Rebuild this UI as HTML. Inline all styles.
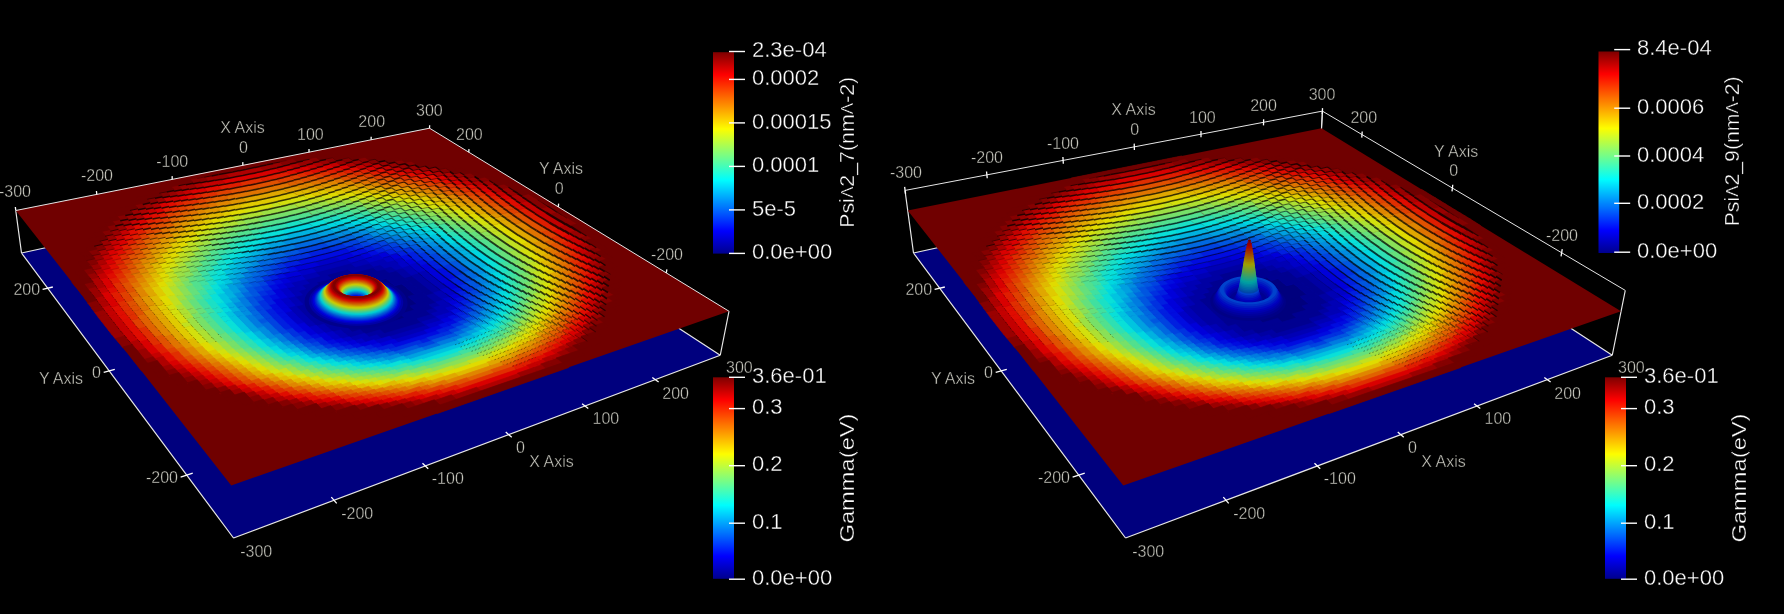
<!DOCTYPE html>
<html><head><meta charset="utf-8"><style>
html,body{margin:0;padding:0;background:#000;}
body{width:1784px;height:614px;overflow:hidden;position:relative;}
svg{position:absolute;left:0;top:0;}
</style></head><body>
<svg width="1784" height="614" viewBox="0 0 1784 614">
<defs><linearGradient id="jet" x1="0" y1="0" x2="0" y2="1"><stop offset="0.0000" stop-color="rgb(128,0,0)"/><stop offset="0.1111" stop-color="rgb(255,0,0)"/><stop offset="0.3810" stop-color="rgb(255,255,0)"/><stop offset="0.5079" stop-color="rgb(128,255,128)"/><stop offset="0.6349" stop-color="rgb(0,255,255)"/><stop offset="0.8889" stop-color="rgb(0,0,255)"/><stop offset="1.0000" stop-color="rgb(0,0,143)"/></linearGradient></defs>
<rect width="1784" height="614" fill="#000"/>
<g transform="scale(0.25)">
<path d="M86 1012l1624-354 1171 763-1947 731z" fill="#00007e"/>
<path d="M86 1012L1710 658M1710 658L2881 1421M2881 1421L934 2152M934 2152L86 1012M86 1012L63 842M1710 658L1718 513M2881 1421L2916 1245" stroke="#e6e6e6" stroke-width="4.80" fill="none"/>
<path d="M63 842l1655-329 1198 732-1991 697z" fill="#700000"/>
<path d="M1826 1083l-48-30-55-27-61-22-66-17-70-13-72-7-74-2-73 3-71 9-68 13-64 19-59 23-50 28-43 32-32 36-22 38-9 40 3 42 17 41 30 40 44 38 56 34 66 29 76 24 83 16 87 10 89 2 87-6 83-13 77-20 68-26 57-31 45-35 33-38 20-40 6-41-5-40-18-39-29-36z" fill="#0000b3"/>
<path d="M1561 1290l59-17-19-16-58 18zm-78 2l176-51-19-15-175 51zm-48-7l234-67-19-15-232 67zm-47-6l262-76-18-15-262 75zm-18-16l290-83-18-14-289 81zm-17-16l289-81-18-15-288 81zm-17-15l288-81-17-14-288 80zm13-23l230-64-18-14-229 63zm-17-16l229-63-17-14-229 62zm13-23l171-46-17-15-171 47z" fill="#00007e" stroke="#00007e" stroke-width="2.80" stroke-linejoin="round"/>
<path d="M1538 1337l149-44-19-16-148 44zm-79 3l266-79-19-16-265 79zm-49-7l151-44-18-16-151 44zm210-61l115-34-19-15-115 33zm-228 45l91-26-18-16-90 26zm267-78l85-25-19-15-85 25zm-315 71l91-27-17-16-91 26zm325-94l56-17-18-14-56 16zm-342 77l61-17-18-16-61 18zm324-93l83-24-18-14-84 24zm-342 78l61-17-17-16-61 17zm351-101l56-15-18-15-56 16zm-368 85l61-17-17-15-61 17zm350-99l56-16-18-14-55 16zm-367 83l61-16-17-16-60 17zm350-98l55-15-18-14-55 15zm-366 83l90-25-17-15-90 25zm320-89l83-23-18-14-83 23zm-337 73l90-24-17-15-89 24zm319-87l56-15-18-14-55 15zm-305 64l89-24-17-14-88 24zm260-71l83-22-17-14-83 22zm-247 49l286-77-17-14-285 76zm13-23l228-61-17-14-227 60zm42-31l86-23-17-14-85 23zm-58 15l29-7 0-2-29 7zm29-6l29-8 0-2-29 8zm29-8l29-7 0-2-29 8zm-16-15l29-8 0-2-29 7zm45 8l28-8 0-1-28 7zm-16-16l28-7 0-3-28 8zm44 8l29-7 0-2-29 8zm-16-15l28-8 0-2-28 7zm45 8l28-8 0-2-28 8zm28-8l28-8 0-2-28 8zm287 173l-19-16 0-1 19 15zm-243-166l28-8 0-1-28 7zm-16-16l27-7 0-2-27 7zm269 158l-19-15 0-2 19 15zm-19-14l-19-15 0-1 19 15zm-144-116l-17-13 0-2 17 14zm-17-15l-17-13 0-2 17 13zm-45-6l28-7 0-2-28 7zm234 127l-19-14 0-3 19 15zm-19-13l-18-15 0-2 18 14zm-18-14l-19-15 0-2 19 15zm-19-15l-18-14 0-2 18 14zm-18-14l-18-14 0-2 18 14zm-18-14l-18-15 1-1 17 14zm-18-15l-17-14 0-2 18 14zm-17-15l-18-14 1-2 17 14zm-18-15l-17-13 0-3 18 14zm136 78l-19-15 0-3 19 15zm-19-14l-18-15 0-3 18 15zm-18-15l-18-14 0-3 18 15zm-18-14l-18-14 0-3 18 14zm-18-15l-18-13 0-3 18 14z" fill="#000091" stroke="#000091" stroke-width="2.80" stroke-linejoin="round"/>
<path d="M1527 1360l179-54-19-16-179 53zm-49-7l60-18-18-16-61 18zm209-62l57-18-19-15-57 17zm-289 63l61-18-18-17-61 18zm327-96l29-9-19-15-29 9zm-345 80l30-9-18-16-30 9zm355-104l28-8-19-15-28 8zm-404 97l61-18-17-16-62 18zm413-121l28-8-19-15-28 8zm-431 105l31-9-17-16-31 9zm412-119l28-8-18-14-28 8zm-460 111l62-18-18-16-61 18zm470-135l27-8-18-15-28 8zm-487 119l61-17-17-16-61 17zm468-133l28-8-19-14-27 7zm-485 118l61-18-16-15-62 17zm467-132l27-8-18-14-27 7zm-484 116l62-17-17-16-61 17zm466-131l27-7-18-14-27 7zm-482 114l61-16-17-16-61 17zm464-128l27-8-17-14-28 8zm-450 105l30-8-16-15-30 8zm405-110l27-7-17-14-27 7zm-421 95l60-16-16-15-60 16zm404-110l27-7-17-14-28 7zm-390 87l59-16-16-14-59 16zm345-93l27-7-17-14-27 8zm-332 71l59-16-16-15-58 16zm287-77l28-7-17-14-28 7zm-273 54l87-23-16-14-87 23zm173-45l83-22-16-14-84 22zm-131 14l142-37-16-13-142 36zm-99 83l30-8 0-2-30 8zm14-22l29-8 0-2-29 8zm29-6l30-8 0-2-30 8zm-15-17l29-8 0-2-29 8zm29-6l29-8 0-2-29 8zm-16-16l29-8 0-3-29 8zm29-7l29-7 0-3-29 7zm29-6l29-8 0-3-29 8zm-16-17l29-8 0-3-29 8zm29-7l29-7 0-4-29 8zm29-7l28-7 0-4-28 8zm28-8l28-7 0-3-28 7zm44 9l28-7 0-3-28 7zm-16-16l28-8 0-3-28 7zm44 8l28-7 0-3-28 7zm324 202l-20-16 0-2 20 16zm-252-204l-16-14 0-2 17 14zm-44-7l28-7 0-3-28 7zm305 187l-19-15 0-2 19 15zm-216-173l-17-14 0-2 17 13zm-45-7l28-7 0-2-27 7zm270 157l-19-15 0-3 19 15zm-181-144l-17-14 0-2 17 13zm-44-6l27-8 0-2-27 7zm234 126l-19-15 0-3 19 14zm-19-14l-18-14 0-3 18 14zm-109-85l-17-14 0-3 18 14zm-17-15l-17-14 0-3 17 13zm-45-7l28-7 0-2-28 7zm180 83l-18-15 0-4 18 15zm-18-14l-19-14 1-4 18 14zm-19-14l-18-14 1-4 18 14zm-18-14l-18-14 1-4 18 14zm-18-15l-17-14 0-4 18 14z" fill="#0000a3" stroke="#0000a3" stroke-width="2.80" stroke-linejoin="round"/>
<path d="M1576 1364l150-46-20-16-149 45zm-111 11l62-19-19-17-61 19zm241-72l58-17-19-16-58 18zm-290 65l62-18-19-17-61 18zm329-99l57-17-20-15-56 17zm-379 90l32-9-18-16-32 9zm388-113l56-17-19-15-56 16zm-406 99l32-9-18-17-31 9zm415-122l28-8-19-15-28 8zm-464 113l32-9-18-16-31 9zm473-138l28-8-19-14-28 8zm-490 123l31-9-17-16-31 9zm471-136l28-8-19-14-27 8zm-519 126l31-9-17-16-31 9zm528-151l28-8-19-14-27 7zm-545 136l31-9-17-16-31 9zm527-150l27-8-18-14-27 8zm-544 134l31-9-17-16-31 9zm526-148l27-7-18-15-27 8zm-543 132l31-9-16-16-31 9zm525-146l27-8-18-14-27 8zm-541 129l31-8-17-16-30 9zm523-144l27-7-18-14-27 7zm-509 123l31-9-16-15-31 8zm464-126l27-8-18-14-27 8zm-480 109l31-8-16-15-31 8zm462-125l27-7-17-14-27 8zm-447 103l30-8-16-15-30 8zm402-108l28-7-18-13-27 7zm-418 92l59-16-15-14-60 16zm374-99l54-14-17-14-54 14zm-360 77l59-16-16-14-59 15zm316-83l54-15-16-13-55 14zm-273 53l58-15-16-14-58 15zm200-52l56-14-17-14-55 15zm-158 22l142-37-16-13-141 36zm-114 105l31-8 0-2-31 8zm15-22l30-8 0-2-30 8zm-16-17l30-8 0-2-30 7zm30-5l30-8-1-2-29 7zm-16-17l30-8 0-3-30 8zm30-6l29-7 0-3-29 7zm13-22l30-8 0-4-30 8zm30-7l28-7 0-4-28 8zm13-23l28-8 0-4-28 8zm28-7l29-7 0-4-29 7zm29-7l28-7 0-4-28 7zm28-7l28-8 0-4-28 7zm28-8l28-7 0-5-28 7zm374 250l-19-16 0-2 19 16zm-330-242l28-7 0-3-28 7zm359 231l-19-16 0-2 19 16zm-287-233l-17-13 0-2 17 13zm-44-6l27-7 1-4-28 7zm340 216l-19-15 0-3 19 15zm-252-202l-17-14 0-2 17 13zm-44-7l27-7 0-3-27 7zm325 198l-20-15 1-4 19 16zm-20-12l-19-15 0-4 19 16zm-217-173l-17-13 0-3 17 13zm-44-6l27-7 0-3-27 7zm27-10l-16-13 0-4 17 14zm-44-6l28-7 0-4-28 7zm306 183l-19-15 1-4 19 15zm-19-12l-19-15 0-4 19 15zm-181-143l-18-13 1-4 17 14zm-45-6l27-7 1-3-28 7zm28-10l-17-13 0-4 17 13zm-45-6l28-7 0-3-27 7zm252 140l-19-14 0-5 19 15zm-19-13l-19-14 1-4 18 14zm-109-85l-18-14 0-4 18 14zm-18-15l-17-14 0-4 17 14zm-44-6l27-8 0-2-27 8zm180 81l-19-14 1-5 18 14zm-19-14l-18-14 0-5 19 14zm-18-13l-18-15 0-4 18 14zm-18-15l-18-14 0-4 18 13zm-18-14l-18-14 0-5 18 14z" fill="#0000b5" stroke="#0000b5" stroke-width="2.80" stroke-linejoin="round"/>
<path d="M1596 1376l120-37-20-16-119 36zm-81 4l61-19-19-16-61 18zm211-65l58-17-20-16-58 17zm-292 65l31-9-18-17-31 10zm330-99l57-17-19-15-57 17zm-379 92l31-9-18-17-32 9zm417-125l28-9-19-15-28 8zm-467 117l31-9-17-17-32 9zm-18-14l31-9-17-17-31 9zm474-140l28-8-19-15-28 8zm-523 131l32-10-18-16-31 9zm532-156l28-8-19-15-28 8zm-549 141l31-10-17-16-31 9zm530-154l28-8-19-14-27 8zm-596 127l32-9-17-16-32 9zm-17-16l32-8-17-16-31 8zm-16-16l31-9-16-15-31 8zm-2-37l31-9-16-15-31 8zm522-143l27-7-18-14-27 7zm-538 126l31-9-16-15-31 9zm520-141l27-8-17-13-27 7zm-505 119l31-8-16-15-31 8zm461-123l27-8-17-13-27 7zm-477 106l31-8-16-15-30 8zm460-123l27-7-17-13-27 7zm-445 100l30-7-16-15-30 8zm401-105l27-7-17-14-27 7zm-387 84l59-15-16-15-59 16zm315-82l55-15-17-13-55 14zm-272 53l58-15-15-14-58 15zm200-52l55-14-16-14-55 15zm-129 14l85-22-16-13-84 21zm-158 135l31-9 0-2-31 9zm15-22l31-8 0-2-31 8zm-15-17l30-8 0-3-31 8zm14-22l30-8 0-3-30 8zm14-23l30-7 0-4-30 8zm30-5l29-7 0-4-29 7zm14-23l29-8 0-4-29 8zm29-6l29-7 0-5-29 8zm42-31l28-7 0-5-28 7zm28-7l28-7 0-5-28 7zm28-7l28-7 0-5-28 7zm438 271l-20-15 0-2 20 16zm-322-263l-16-14 0-1 16 13zm-44-7l28-7 0-4-28 7zm395 260l-20-16 0-3 20 16zm-323-262l-17-13 0-3 17 14zm-44-6l27-7 0-5-27 7zm376 245l-20-15 1-3 19 15zm-289-231l-16-13 0-3 16 13zm-44-6l28-7 0-4-27 7zm361 226l-19-16 0-4 20 16zm-289-230l-17-13 0-3 17 13zm-44-6l27-7 0-4-27 7zm342 212l-19-15 0-4 19 15zm-254-199l-17-14 0-4 17 14zm-44-7l27-7 0-3-27 7zm287 170l-19-15 0-5 19 15zm-182-142l-17-13 0-5 17 14zm-44-6l27-7 0-3-27 7zm27-10l-17-13 0-5 17 14zm-44-6l27-7 0-3-27 7zm252 139l-19-15 0-5 19 15zm-19-13l-19-14 0-5 19 14zm-110-84l-18-14 1-5 17 14zm-45-7l27-7 0-2-27 8zm27-9l-17-13 0-5 18 13zm-44-6l27-7 0-2-27 7z" fill="#0000c8" stroke="#0000c8" stroke-width="2.80" stroke-linejoin="round"/>
<path d="M1534 1392l62-19-19-16-62 18zm182-55l59-18-20-16-58 18zm-263 58l62-19-19-17-62 19zm331-101l29-9-20-15-29 8zm-381 93l31-10-18-17-31 10zm-50-8l32-9-19-17-31 9zm-50-8l32-10-18-17-31 10zm508-148l28-8-20-15-27 8zm-525 133l31-9-17-17-32 10zm533-158l28-8-19-15-28 8zm-583 148l32-9-17-16-32 9zm-17-15l32-9-17-16-32 9zm590-171l27-8-19-14-27 8zm-607 156l32-9-17-16-32 9zm588-169l27-8-18-14-27 8zm-18-14l27-7-19-14-27 7zm-19-13l27-8-18-14-27 8zm-18-15l27-7-18-14-27 8zm-599 147l31-9-17-15-31 8zm581-161l27-8-18-13-27 7zm-598 144l31-9-16-15-31 8zm580-159l27-8-18-13-26 7zm-596 142l31-9-16-15-30 9zm15-21l31-9-16-15-30 8zm519-140l27-7-17-14-27 7zm-534 122l30-8-16-15-30 8zm14-22l31-8-16-14-30 7zm459-121l27-7-17-14-27 7zm-444 99l30-8-16-14-29 7zm400-105l27-7-17-13-27 7zm-386 83l59-15-15-14-59 15zm315-80l27-7-16-14-28 7zm-271 51l86-22-15-14-87 22zm171-43l56-14-16-14-56 14zm-258 178l31-8 0-2-31 9zm-15-16l30-9 0-2-31 8zm15-22l30-8 0-2-30 8zm-16-17l30-8 0-3-30 8zm15-22l30-7 0-4-30 8zm15-22l29-7 0-4-29 7zm14-23l29-7 0-5-29 8zm29-5l30-7 0-4-30 7zm14-23l29-8 0-4-29 7zm29-6l29-7 0-5-29 7zm29-6l29-7 0-5-29 7zm113-29l28-7 0-5-28 7zm430 291l-20-16 0-3 20 17zm-358-293l-16-13 0-2 16 13zm-44-6l28-7 0-5-28 7zm440 265l-20-15 0-3 20 15zm-325-259l-16-14 0-2 16 13zm-44-7l28-7 0-4-28 7zm115 4l-17-13 0-4 17 13zm-44-6l27-7 0-5-27 7zm324 198l-20-15 1-5 19 15zm-236-186l-17-14 0-4 17 13zm-44-7l27-7 0-3-27 7zm288 168l-19-15 0-5 19 15zm-183-140l-17-14 0-5 17 14zm-44-7l27-7 0-2-27 7zm216 109l-19-14 1-6 19 14zm-19-13l-18-14 0-6 19 14zm-18-13l-19-14 1-6 18 14zm-19-14l-18-14 0-6 19 14zm-18-14l-18-14 0-6 18 14zm-18-15l-18-13 0-6 18 14zm-18-15l-18-13 1-6 17 14zm-44-6l26-7 0-2-26 7z" fill="#0000da" stroke="#0000da" stroke-width="2.80" stroke-linejoin="round"/>
<path d="M1585 1396l181-56-20-16-181 55zm-82 3l31-10-19-17-31 10zm272-84l58-18-20-15-58 17zm-353 85l31-10-19-17-31 9zm391-118l29-8-20-16-29 9zm-442 111l32-10-18-17-32 9zm451-134l28-9-20-15-28 8zm-501 125l32-9-18-17-32 9zm509-149l28-8-19-16-28 9zm9-25l28-8-20-15-27 8zm-585 151l32-9-18-17-32 9zm574-188l27-8-19-15-27 8zm-641 162l32-9-17-16-32 9zm-17-15l32-9-17-16-32 9zm-17-16l32-9-17-16-31 9zm646-184l27-8-19-14-26 8zm-662 168l31-9-16-15-32 8zm644-182l26-7-18-14-27 7zm-661 166l32-9-16-15-32 8zm642-180l27-7-18-14-27 7zm-658 163l32-8-17-16-31 9zm-16-16l31-9-16-15-31 8zm594-179l26-7-17-13-27 7zm-595 140l31-8-15-15-31 8zm533-159l27-7-17-14-27 7zm-533 120l30-8-15-14-30 7zm15-22l30-8-15-14-31 7zm15-23l29-7-15-15-30 8zm371-93l27-7-16-13-27 7zm-328 65l30-7-16-14-29 7zm257-65l55-14-17-13-54 14zm-214 36l198-50-16-13-197 50zm-131 164l31-8 0-2-31 8zm0-38l31-8 0-2-31 8zm0-39l30-7 0-4-31 8zm14-22l31-7-1-4-30 8zm15-22l30-8 0-4-30 8zm44-28l29-7 0-5-29 7zm43-29l29-8 0-5-29 7zm29-7l28-7 0-5-28 7zm28-6l28-7 0-6-28 7zm28-7l29-7 0-6-29 7zm29-7l27-7 1-6-28 7zm464 322l-20-17 0-1 20 16zm-437-330l28-7 0-6-27 7zm72-2l-16-13 0-2 16 13zm-44-7l28-6 0-6-28 7zm447 307l-20-16 0-3 20 16zm-360-291l-16-13 0-2 16 13zm-43-6l27-7 0-5-27 7zm432 285l-20-16 0-3 20 16zm-361-288l-17-13 0-3 17 13zm-44-6l27-7 1-6-28 7zm414 272l-20-16 0-4 20 16zm-327-258l-16-13 0-4 16 13zm-43-6l27-7 0-5-27 7zm378 240l-20-15 1-4 19 15zm8-23l-19-16 0-5 20 16zm9-25l-20-15 1-5 19 14zm-220-168l-17-14 0-5 17 13zm-44-7l27-7 0-3-27 7zm252 138l-19-15 1-6 19 14zm-147-112l-17-13 0-6 18 13zm-44-6l27-7 0-3-27 8zm162 65l-19-14 1-6 18 14zm-19-13l-18-14 1-7 18 14zm-18-14l-18-14 0-7 19 14z" fill="#000ce0" stroke="#000ce0" stroke-width="2.80" stroke-linejoin="round"/>
<path d="M1696 1379l30-9-19-17-30 10zm-173 33l62-20-19-17-63 19zm243-75l58-18-20-16-58 18zm-294 69l31-10-19-17-31 9zm361-113l29-9-20-16-29 9zm-443 112l32-9-19-17-32 9zm452-135l28-9-20-15-28 8zm-503 128l32-10-18-17-32 10zm511-152l28-8-19-16-28 9zm-561 143l32-9-18-17-32 9zm570-167l27-9-19-15-28 8zm-588 153l32-9-17-17-32 9zm-50-10l33-9-18-17-32 9zm626-180l28-8-19-15-28 8zm-643 166l32-10-17-16-32 9zm633-205l27-8-19-14-27 8zm-699 178l32-9-17-17-32 9zm680-191l27-7-19-15-27 8zm-697 175l32-9-16-16-32 9zm-16-16l32-9-17-16-32 9zm-17-17l32-8-16-16-32 8zm-16-16l32-9-16-16-32 9zm672-181l27-8-18-13-27 7zm-18-15l27-8-18-13-26 7zm-654 158l31-8-16-15-31 8zm-16-17l31-8-15-16-31 9zm608-159l27-8-17-13-27 7zm-592 138l31-8-16-15-31 8zm575-155l27-7-18-13-26 7zm-44-4l27-7-17-13-27 7zm-532 119l31-8-16-14-30 7zm488-124l27-7-17-13-27 7zm-473 102l30-8-15-14-30 7zm429-109l27-7-16-13-27 7zm-384 81l29-8-15-13-29 7zm341-88l27-7-16-13-28 7zm-327 65l58-15-15-13-58 14zm256-64l27-7-16-13-27 7zm-156 20l85-21-16-13-84 21zm-189 180l31-8 0-2-31 8zm-15-17l31-9 0-2-31 8zm15-21l31-8 0-3-31 8zm0-40l30-7 0-4-30 7zm15-22l30-7 0-5-30 8zm45-27l29-7 0-5-29 7zm14-24l29-7 0-5-29 7zm29-5l29-7 0-6-29 8zm71-37l28-7 0-6-28 7zm28-7l28-7 0-6-28 7zm28-7l28-7 0-6-28 7zm509 330l-20-16 0-2 20 16zm29-11l-20-16 1-3 20 16zm-396-319l-16-13 0-3 16 13zm-43-6l27-7 0-6-27 7zm477 291l-20-16 0-4 20 16zm-363-286l-16-13 0-4 16 13zm-44-6l28-7 0-5-27 6zm415 269l-20-15 1-5 19 16zm-328-256l-16-13 0-4 16 13zm-43-6l27-7 0-5-27 7zm379 239l-19-16 0-5 20 15zm-292-226l-17-13 0-5 17 13zm-44-6l27-7 0-5-27 7zm344 207l-19-15 0-5 20 15zm-256-196l-17-13 0-5 17 13zm-44-6l27-7 0-4-27 7zm289 166l-19-15 0-6 19 14zm-184-140l-17-13 0-6 17 14zm-44-6l27-7 0-3-27 7zm27-10l-18-13 1-6 17 13zm-44-6l26-7 1-3-27 7zm234 123l-19-14 0-7 19 15zm-19-12l-19-15 1-6 18 14zm-74-56l-18-13 0-7 18 14zm-18-15l-18-13 1-7 17 14zm-44-6l26-7 0-2-26 7z" fill="#001fe0" stroke="#001fe0" stroke-width="2.80" stroke-linejoin="round"/>
<path d="M1573 1416l123-38-19-17-123 38zm154-48l89-27-21-17-88 27zm-236 49l32-9-19-18-32 10zm334-102l29-9-21-16-28 9zm-385 97l32-10-19-17-31 10zm422-132l29-9-20-15-29 8zm-504 131l32-10-19-17-32 9zm512-154l29-9-20-15-28 8zm-563 146l32-10-18-17-32 9zm572-171l28-8-20-15-28 8zm-640 148l32-10-17-17-33 9zm628-184l28-8-20-14-27 8zm8-26l28-7-20-15-27 8zm-703 184l32-9-17-17-32 9zm684-196l27-7-19-15-27 8zm-701 181l32-9-17-17-32 9zm671-233l27-8-18-14-27 8zm-18-14l27-7-19-14-26 7zm-18-14l26-7-18-14-27 7zm-734 164l32-9-16-15-31 8zm-16-18l32-8-16-15-31 8zm669-177l26-7-17-13-27 7zm-18-15l27-8-18-13-26 7zm-650 154l31-8-16-15-31 8zm15-21l31-8-16-15-30 8zm574-153l27-7-18-13-26 7zm-44-5l27-7-17-13-27 7zm-530 117l30-7-15-15-30 8zm486-123l27-7-16-13-27 7zm-441 97l30-8-15-14-30 8zm398-104l27-7-16-12-27 6zm-383 80l29-7-15-14-30 7zm312-78l28-7-17-12-27 6zm-269 50l86-21-15-14-86 22zm171-43l55-13-16-13-55 13zm-289 223l31-8 0-2-32 8zm-16-17l31-8 0-3-31 9zm0-38l31-8 0-3-31 8zm16-21l30-8 0-4-30 8zm0-40l30-8 0-4-30 8zm45-26l30-8-1-5-29 8zm14-24l30-7 0-6-30 8zm44-29l29-7 0-6-29 7zm29-5l28-8 0-6-28 8zm28-6l29-8 0-6-29 8zm585 330l-20-17 0-1 20 16zm-472-359l28-7 0-6-28 7zm502 348l-20-16 0-3 20 17zm-431-350l-16-13 0-2 16 13zm-43-6l27-7 0-6-27 7zm512 323l-21-16 1-3 20 16zm-398-317l-17-12 0-3 17 12zm-44-6l27-6 1-6-28 7zm479 288l-20-15 0-5 20 16zm-365-284l-16-12 0-5 16 13zm-43-6l27-6 0-6-27 7zm416 267l-20-15 0-5 20 15zm-330-254l-16-13 0-4 16 13zm-43-6l27-7 0-5-27 7zm381 236l-20-15 0-6 20 15zm-294-224l-17-13 0-5 17 13zm-44-6l27-7 0-4-27 7zm326 194l-20-14 1-7 19 15zm-238-183l-18-13 1-6 17 13zm-44-6l26-7 1-4-27 7zm290 164l-20-15 1-7 19 15zm-20-12l-19-15 0-7 20 15zm-148-111l-17-13 0-7 18 14zm-44-6l27-7 0-3-27 8zm27-10l-18-13 1-6 17 13zm-44-6l26-7 0-3-26 7zm179 80l-18-14 0-7 19 14zm-18-13l-19-14 1-7 18 13zm-19-14l-18-14 0-7 19 14z" fill="#0031e0" stroke="#0031e0" stroke-width="2.80" stroke-linejoin="round"/>
<path d="M1686 1399l61-19-20-17-61 19zm-144 23l32-10-20-17-31 9zm274-85l29-9-20-17-29 9zm-357 87l32-10-19-17-32 9zm395-121l28-9-20-16-28 9zm-445 115l31-10-18-17-32 9zm-152-24l32-10-18-17-32 9zm630-186l27-9-19-14-28 8zm-681 175l33-9-18-17-32 9zm689-201l27-8-19-15-27 8zm-706 187l32-9-17-17-32 9zm-67-27l33-9-17-17-33 10zm742-210l27-8-19-14-27 7zm-759 195l33-9-17-17-32 9zm740-208l27-8-19-14-26 8zm-756 192l32-9-16-16-32 8zm-16-16l32-9-17-16-32 9zm-17-17l32-9-16-16-32 9zm-16-17l32-8-16-16-32 9zm731-197l27-8-18-13-27 7zm-747 180l32-8-16-16-31 9zm729-195l27-7-18-14-26 7zm-17-15l26-8-18-13-26 7zm-711 173l31-9-15-15-32 9zm649-192l26-7-17-13-26 7zm-649 153l31-8-15-15-31 8zm16-22l30-8-15-14-30 8zm528-156l27-7-17-13-26 7zm-498 112l30-8-15-14-30 8zm455-119l27-7-17-12-26 6zm-440 96l29-8-15-14-29 8zm370-93l27-6-17-13-27 7zm-326 64l29-7-15-14-29 7zm255-64l54-14-15-13-55 14zm-184 28l113-28-16-13-112 28zm-192 215l31-9 0-1-31 8zm0-37l32-9 0-2-32 8zm1-39l31-8 0-3-31 8zm16-21l30-8 0-4-31 8zm30-44l30-8 0-5-30 8zm15-23l29-8 0-5-29 7zm44-29l29-7 0-6-29 7zm71-36l28-7 0-6-28 7zm28-6l29-7 0-6-29 6zm29-7l28-7 0-6-28 7zm28-7l27-7 0-7-27 7zm574 348l-20-17 0-3 20 17zm-433-348l-16-13 0-2 16 13zm-43-6l27-7 0-6-27 7zm71-3l-16-13 0-3 16 13zm-44-6l28-7 0-6-27 7zm486 329l-20-16 1-4 20 16zm-399-314l-17-13 1-4 16 13zm-44-6l27-7 1-6-27 7zm114 2l-17-12 1-5 16 13zm-43-6l26-6 1-6-27 7zm86 13l-17-13 1-5 16 13zm-43-6l26-7 1-5-27 7zm361 222l-19-14 0-7 20 15zm8-25l-19-15 0-6 20 14zm-222-166l-17-13 0-6 18 13zm-43-6l26-7 0-3-26 7zm234 122l-19-14 1-8 19 15zm-19-13l-19-14 1-7 19 14zm-74-55l-18-13 0-7 18 13zm-18-14l-18-14 1-7 17 14zm-44-7l26-7 0-2-26 8zm26-9l-18-13 1-7 18 13zm-44-6l26-7 1-2-27 7z" fill="#0043e0" stroke="#0043e0" stroke-width="2.80" stroke-linejoin="round"/>
<path d="M1593 1426l93-29-20-17-92 29zm154-48l89-28-20-17-89 28zm-236 51l31-10-19-18-32 10zm334-104l29-9-20-16-29 8zm-418 105l33-10-19-17-32 9zm456-140l28-9-20-16-28 9zm-507 133l33-9-19-18-32 10zm515-156l28-9-20-15-28 8zm-566 149l33-10-19-17-32 9zm574-173l28-9-20-15-28 9zm-624 164l32-10-18-17-32 10zm632-189l28-8-20-15-28 8zm-683 179l33-9-18-17-33 9zm691-204l27-8-19-15-28 8zm-759 179l33-9-17-17-33 9zm747-216l27-8-19-15-27 8zm-764 201l33-9-17-17-33 10zm745-213l27-8-20-14-27 7zm-30-53l26-8-18-13-27 7zm-814 206l32-9-16-16-32 9zm795-220l27-7-19-14-26 8zm-18-13l26-8-18-13-27 7zm-808 163l31-8-15-16-32 9zm-16-18l32-8-16-15-31 8zm725-191l27-7-18-13-26 7zm-709 171l32-8-16-15-31 8zm-15-18l31-8-15-15-31 8zm663-172l26-7-17-13-26 7zm-647 151l31-8-16-15-30 8zm603-155l27-7-17-13-27 7zm-588 133l31-8-15-14-31 7zm16-22l30-8-15-14-30 7zm15-23l30-8-15-14-30 8zm427-107l27-7-17-12-26 6zm-383 79l30-8-15-13-30 7zm340-87l27-7-16-13-27 7zm-296 58l57-14-15-14-57 15zm170-42l55-13-16-13-55 13zm-321 228l32-9 0-2-32 8zm-15-18l31-8 0-3-31 8zm16-20l31-8 0-3-31 8zm-15-18l31-8 0-4-31 8zm16-21l30-8 0-4-30 8zm15-22l31-7 0-5-31 8zm16-22l30-7 0-5-30 7zm15-22l30-8 0-5-30 7zm44-28l30-7 0-6-30 7zm44-29l28-7 0-7-28 8zm28-6l29-7 0-6-29 7zm650 353l-20-16 0-2 20 17zm-509-387l28-7 0-6-28 6zm539 376l-21-16 0-2 21 16zm-468-378l-16-13 0-2 16 13zm-43-6l27-7 1-6-28 6zm548 352l-20-16 0-4 21 16zm-407-355l-16-13 0-3 16 13zm-43-6l27-7 0-6-27 7zm487 326l-20-16 0-4 21 16zm-401-312l-17-12 1-4 16 12zm-43-6l26-6 1-6-27 7zm452 295l-20-15 0-6 21 16zm8-24l-20-15 0-5 20 15zm8-24l-20-15 0-6 20 15zm-295-222l-17-13 0-6 17 13zm-44-6l27-7 0-4-27 7zm346 203l-19-15 0-6 20 14zm-259-193l-17-13 0-6 18 13zm-43-6l26-7 0-4-26 7zm290 162l-19-15 0-7 20 15zm-19-12l-20-14 1-7 19 14zm-166-125l-18-13 0-7 18 13zm-44-6l26-7 0-3-26 7zm179 78l-18-13 0-8 19 14zm-18-13l-19-14 1-7 18 13zm-19-14l-18-13 0-8 19 14z" fill="#0056e0" stroke="#0056e0" stroke-width="2.80" stroke-linejoin="round"/>
<path d="M1707 1409l61-19-21-18-60 19zm-145 23l32-9-20-18-32 10zm275-86l29-9-20-16-30 9zm-358 89l32-10-20-17-31 10zm396-123l28-9-20-16-29 9zm-480 124l33-10-19-18-33 10zm517-159l28-9-20-16-29 9zm-568 151l32-9-18-18-33 10zm576-175l28-9-21-15-28 8zm-627 167l32-9-18-18-32 10zm634-191l28-9-20-15-28 9zm-685 182l33-10-18-17-33 10zm-68-24l32-10-17-17-33 10zm749-220l27-8-20-14-27 8zm-834 178l33-9-17-17-32 9zm803-228l27-8-20-14-26 7zm-819 212l32-9-16-16-33 9zm800-225l26-8-19-13-26 7zm-817 210l33-10-17-16-32 9zm-32-33l32-9-16-16-32 9zm-16-17l32-9-16-16-32 9zm790-215l27-7-18-13-27 7zm-806 198l32-9-16-16-32 9zm788-212l27-8-18-13-26 7zm-802 156l31-8-15-15-32 8zm723-189l26-7-17-13-27 7zm-722 150l31-8-16-14-31 8zm661-170l26-7-17-12-26 6zm-645 149l30-8-15-14-30 7zm601-153l27-7-17-13-26 7zm-586 131l31-8-15-14-31 8zm543-137l27-7-17-13-26 7zm-527 114l30-7-15-14-30 7zm484-121l27-7-17-12-26 7zm-469 100l59-15-15-13-59 14zm426-107l27-7-17-13-26 7zm-382 78l59-14-15-13-59 14zm284-69l55-14-16-12-55 13zm-183 27l112-27-15-13-112 27zm-210 237l32-9 0-1-32 8zm-14-55l32-8 0-3-32 8zm1-38l31-8 0-4-31 8zm17-22l30-7 0-5-31 8zm15-21l31-8 0-5-31 8zm16-23l30-7 0-5-30 7zm15-22l30-8 0-5-30 7zm30-5l29-7 0-6-29 8zm14-23l30-7-1-7-29 8zm30-5l29-7 0-6-30 7zm71-36l28-7 0-7-28 7zm28-7l28-6 0-7-28 7zm28-6l28-7 0-7-28 7zm28-8l28-6 0-7-28 7zm611 377l-20-16 0-3 20 16zm-470-376l-15-13 0-2 16 13zm-43-6l28-7 0-6-27 7zm71-3l-16-13 0-3 16 13zm-43-6l27-7 0-6-27 6zm522 357l-20-16 0-4 21 16zm-409-352l-17-13 1-4 16 13zm-43-6l26-7 1-6-27 7zm489 323l-20-16 0-5 20 16zm-403-310l-17-12 0-5 17 13zm-43-5l26-7 0-6-26 7zm454 291l-21-15 1-6 20 16zm-368-279l-17-13 0-5 17 13zm-43-6l26-7 0-5-26 7zm418 261l-20-15 1-6 20 15zm-332-249l-17-13 0-6 17 13zm-43-6l26-7 0-5-26 7zm86 10l-17-12 1-7 17 13zm-43-6l26-6 0-5-26 7zm327 190l-20-14 1-7 20 14zm-223-164l-17-13 0-7 18 13zm-44-6l27-7 0-3-26 7zm236 120l-20-14 1-8 19 14zm-20-13l-19-13 1-8 19 14zm-74-54l-18-13 0-8 18 13zm-18-15l-18-13 0-7 18 13zm-44-6l26-7 0-2-26 7z" fill="#0068e0" stroke="#0068e0" stroke-width="2.80" stroke-linejoin="round"/>
<path d="M1614 1437l93-30-20-17-93 29zm154-49l90-29-21-17-89 28zm-270 60l64-20-19-17-64 19zm368-114l29-9-20-16-29 9zm-419 108l32-10-19-18-32 10zm457-143l28-8-20-16-29 8zm-541 142l32-10-18-18-33 10zm-52-8l33-10-18-17-33 9zm-51-8l33-10-18-18-33 10zm675-221l28-8-20-15-28 8zm-744 197l33-10-18-17-33 10zm752-223l27-8-20-14-27 8zm-820 197l33-9-17-17-33 9zm808-234l27-8-20-14-27 7zm-825 219l33-9-17-17-33 9zm805-231l27-8-19-14-27 8zm-888 187l33-9-16-17-33 9zm-16-16l33-9-16-17-33 9zm-16-17l33-9-16-16-33 9zm-15-54l32-8-15-16-32 9zm787-210l26-7-18-13-26 7zm-802 193l32-9-16-15-31 8zm784-208l26-7-17-13-27 7zm-783 169l32-8-16-15-31 8zm722-187l26-7-17-13-27 7zm-721 148l31-8-15-15-31 8zm16-22l31-8-15-14-30 8zm601-152l26-7-16-12-27 6zm-585 130l31-8-15-14-31 8zm542-136l26-7-16-12-27 6zm-481 86l29-8-15-13-29 7zm368-91l27-7-16-12-27 6zm-324 63l57-14-15-14-57 14zm57-12l29-7-15-13-29 7zm141-35l56-14-16-12-55 13zm-337 249l32-9 0-2-32 9zm-15-18l31-8 0-3-31 9zm1-38l31-8 0-3-31 8zm1-39l31-8 0-4-31 8zm17-21l30-8 0-5-31 8zm15-22l31-8 0-5-31 8zm61-50l29-7 0-6-29 7zm44-29l29-7 0-6-29 7zm29-5l28-7 0-6-28 7zm28-5l29-7 0-7-29 7zm686 382l-21-17 1-2 20 17zm-545-416l28-7 0-7-28 7zm575 405l-21-17 0-2 21 16zm-504-407l-16-13 0-2 16 13zm-43-6l27-7 0-7-27 7zm584 380l-20-16 0-4 21 17zm-444-383l-16-12 0-4 16 13zm-43-6l27-6 0-7-27 7zm524 355l-20-16 0-5 21 16zm-369-344l-16-12 0-5 16 12zm-43-6l27-6 0-6-27 7zm86 12l-16-12 0-6 17 13zm-43-6l27-6 0-5-27 6zm400 249l-20-15 0-7 20 15zm7-26l-20-14 1-8 20 15zm-260-191l-17-13 0-7 17 13zm-44-6l27-7 0-4-26 7zm292 160l-20-14 1-8 19 14zm-20-12l-19-14 0-8 20 14zm-149-109l-18-13 1-7 17 13zm-44-6l26-7 0-2-26 7zm26-9l-17-13 0-7 18 13zm-44-6l27-7 0-3-26 7z" fill="#007be0" stroke="#007be0" stroke-width="2.80" stroke-linejoin="round"/>
<path d="M1550 1452l64-20-20-18-63 20zm308-97l29-9-20-17-30 10zm-392 98l33-10-20-18-32 10zm430-131l29-9-21-17-29 9zm-482 125l33-10-19-17-33 10zm519-161l28-9-21-16-28 9zm7-23l28-9-20-15-28 8zm8-24l28-9-20-15-28 8zm8-25l27-8-20-15-27 8zm-747 201l33-10-18-17-33 9zm754-226l27-8-20-15-27 8zm-823 201l33-10-17-17-33 10zm811-238l27-8-20-14-27 8zm-878 211l33-9-17-17-33 9zm-17-15l33-10-16-17-33 10zm863-247l27-7-19-14-27 7zm-879 231l33-9-17-17-33 9zm860-243l26-8-19-14-26 8zm-19-13l26-8-18-13-27 7zm-19-14l27-7-19-13-26 7zm-18-13l26-8-18-13-27 7zm-869 217l33-9-16-16-32 9zm850-232l27-7-19-13-26 7zm-866 215l33-9-16-16-32 9zm848-229l26-7-18-13-26 7zm-863 211l32-8-15-16-32 9zm2-37l31-9-15-15-32 8zm782-206l26-7-18-12-26 6zm-781 167l31-8-15-15-31 8zm720-186l26-7-17-12-26 6zm-44-4l26-7-16-12-27 6zm-612 102l30-7-15-14-30 7zm483-120l26-7-16-12-26 6zm-468 97l30-7-15-14-30 7zm425-105l27-7-16-12-27 6zm-381 77l29-8-14-13-30 7zm284-69l54-13-16-12-54 13zm-212 34l141-34-15-13-141 34zm-213 235l32-9 0-2-33 9zm1-38l32-8 0-3-32 9zm2-38l31-8 0-4-31 8zm64-87l30-7 0-6-30 8zm15-23l30-7 0-6-30 7zm44-28l30-7 0-6-30 7zm72-35l29-7 0-7-29 7zm29-6l28-7 0-7-28 7zm28-6l28-7 0-7-28 7zm28-7l28-7 0-7-28 7zm28-7l28-7 0-7-28 7zm647 405l-20-17 0-2 21 16zm-506-404l-16-13 0-2 16 12zm-43-6l27-7 0-6-27 6zm70-3l-16-13 0-2 16 12zm-43-6l27-7 0-6-27 6zm560 386l-21-17 0-4 21 17zm-447-381l-16-12 0-4 16 12zm-43-6l27-6 0-7-27 7zm526 351l-21-16 1-5 20 16zm-441-337l-16-12 0-5 16 13zm-42-6l26-6 0-6-26 6zm490 320l-20-15 0-6 21 16zm8-24l-20-15 0-6 20 15zm7-24l-20-15 1-7 20 15zm-334-248l-16-12 0-6 17 12zm-43-6l27-6 0-5-26 7zm384 229l-20-15 1-7 20 15zm-297-219l-17-12 0-7 17 13zm-43-6l26-6 0-4-26 6zm328 188l-20-14 1-8 19 15zm-224-163l-18-12 1-8 17 13zm-44-6l26-6 0-4-26 7zm236 119l-19-14 0-8 19 14zm-20-13l-19-14 1-8 19 14zm-19-13l-18-13 0-8 19 13zm-18-13l-19-13 1-8 18 13zm-19-14l-18-13 0-8 19 13zm-18-14l-19-13 1-8 18 13zm-19-14l-18-13 1-8 18 13zm-44-6l26-7 1-2-27 7z" fill="#008de0" stroke="#008de0" stroke-width="2.80" stroke-linejoin="round"/>
<path d="M1634 1447l215-68-21-17-214 67zm-116 11l32-11-19-17-32 9zm370-115l29-9-21-16-29 9zm-454 116l32-10-19-18-33 10zm491-150l29-9-21-16-29 8zm-543 144l32-10-19-18-32 10zm579-181l29-9-21-15-28 8zm-631 174l33-10-19-18-33 10zm639-197l28-9-21-15-28 8zm-691 189l33-10-18-18-33 10zm698-214l28-8-20-15-28 8zm-749 205l33-10-18-18-33 10zm-69-25l33-9-18-18-33 10zm813-241l27-8-20-14-27 7zm-881 215l33-9-17-18-33 10zm849-265l26-7-19-14-27 7zm-933 221l33-9-16-17-33 9zm-16-16l33-9-16-17-33 9zm-16-16l33-9-16-17-33 9zm-16-17l33-9-16-16-33 9zm-16-17l33-9-16-16-32 9zm847-263l27-7-18-13-26 7zm-861 209l33-9-16-15-32 8zm844-224l26-7-18-13-26 7zm-842 186l32-9-15-15-32 8zm780-204l26-7-17-12-26 6zm-795 185l32-8-15-15-32 8zm17-21l31-8-15-14-31 8zm718-184l26-6-17-13-26 7zm-702 163l31-8-15-14-30 7zm659-167l26-7-17-12-26 6zm-643 145l31-8-15-14-30 8zm599-151l27-6-17-13-26 7zm-583 129l31-8-15-14-30 8zm540-135l27-7-16-12-27 6zm-524 112l30-8-15-13-30 7zm482-120l26-6-16-13-26 7zm-437 92l29-7-15-13-29 7zm367-90l27-7-16-12-27 7zm-323 62l57-14-15-13-57 14zm198-47l55-13-15-13-55 14zm-370 253l32-8 0-3-32 9zm2-38l32-8 0-3-32 8zm-15-18l32-8 0-4-32 8zm17-20l31-8 0-4-31 7zm17-22l30-7 0-5-31 8zm16-21l30-8 0-5-30 8zm16-22l30-8 0-5-31 7zm15-23l30-7 0-6-30 7zm45-27l29-7 0-7-29 7zm44-29l29-7 0-7-29 7zm29-5l28-7 0-7-28 7zm750 405l-20-17 0-2 20 17zm-581-445l27-6 0-7-27 6zm70-2l-15-12 0-2 15 12zm-43-6l28-6 0-7-28 6zm622 409l-21-16 0-4 21 17zm-482-411l-16-12 0-3 16 12zm-43-5l27-7 0-7-27 7zm562 382l-21-16 0-5 21 16zm-450-378l-16-13 0-4 16 12zm-42-6l26-7 0-6-26 7zm528 347l-21-15 0-6 21 16zm-443-334l-16-12 0-5 16 12zm-43-6l27-6 0-6-27 6zm493 317l-21-15 1-6 20 15zm-407-304l-17-13 1-5 16 12zm-43-6l26-7 1-5-27 6zm457 286l-20-15 0-7 21 15zm-371-275l-17-12 0-6 17 12zm-43-6l26-6 0-5-26 6zm86 11l-17-13 0-6 17 12zm-43-6l26-7 0-4-26 6zm365 215l-20-14 0-8 20 15zm-262-190l-17-12 0-7 18 12zm-43-6l26-6 0-4-26 7zm272 147l-19-14 1-8 19 14zm-149-108l-18-13 0-8 18 13zm-44-6l26-7 0-2-26 7zm26-9l-18-13 0-7 18 12zm-44-6l26-7 0-3-26 7z" fill="#00a0e0" stroke="#00a0e0" stroke-width="2.80" stroke-linejoin="round"/>
<path d="M1571 1462l63-20-20-18-63 20zm279-87l59-19-21-17-59 19zm-364 89l32-10-19-18-33 10zm431-133l29-9-21-17-29 9zm37-36l28-9-20-16-29 9zm-605 163l33-10-19-18-33 10zm-52-7l33-11-19-18-33 10zm-52-9l33-10-18-18-33 10zm739-243l27-8-20-15-27 8zm-809 220l34-10-18-18-33 10zm816-245l27-8-20-15-27 8zm-867 234l34-10-18-18-33 10zm-17-15l33-10-17-17-33 10zm871-256l27-8-20-15-26 8zm-20-12l27-8-20-14-26 8zm-919 241l34-10-17-17-33 9zm-16-16l33-9-17-17-33 9zm904-277l26-7-19-14-26 7zm-19-13l26-7-19-13-26 7zm-19-13l26-7-18-13-26 7zm-18-14l26-7-19-13-26 7zm-19-14l26-7-18-13-26 7zm-925 232l32-9-15-16-33 9zm907-246l26-7-18-13-26 7zm-923 228l33-8-16-16-32 9zm2-37l32-9-15-15-32 8zm841-222l26-7-17-12-26 6zm-856 204l32-9-15-15-32 8zm795-222l26-7-17-12-26 6zm-776 161l31-7-15-15-31 8zm16-21l31-8-14-14-31 7zm657-166l26-6-16-13-26 7zm-640 144l30-8-15-14-30 8zm597-150l27-6-17-13-26 7zm-582 127l31-7-15-14-30 7zm46-27l30-7-15-13-30 7zm424-104l27-7-16-12-27 7zm-380 76l30-7-15-13-29 7zm283-68l54-13-15-12-54 13zm-182 26l112-26-15-13-112 27zm-260 264l32-9 0-2-32 9zm2-38l32-8 0-3-32 9zm-15-18l32-8 0-3-32 8zm19-59l31-8 0-4-31 7zm17-22l31-7-1-5-30 8zm16-21l30-8 0-5-30 7zm16-23l30-7 0-6-30 7zm45-26l30-7 0-7-30 7zm45-28l29-7 0-7-29 7zm100-42l28-6 0-7-28 6zm28-6l28-7 0-7-28 7zm28-7l28-6 0-7-28 6zm28-7l28-6 0-8-28 7zm654 446l-21-17 1-3 20 17zm30-12l-21-17 0-3 21 17zm-544-432l-15-13 0-2 15 12zm-42-6l27-7 0-7-27 7zm69-3l-15-13 0-2 15 12zm-42-6l27-7 0-7-27 7zm596 414l-21-17 1-4 20 17zm-484-409l-16-12 0-4 16 13zm-43-5l27-7 0-6-27 6zm563 378l-20-16 0-5 21 16zm-408-368l-17-13 0-5 17 12zm-43-6l26-7 0-5-26 6zm85 12l-16-13 0-5 17 12zm-42-6l26-7 0-5-26 6zm437 273l-20-15 0-7 21 15zm7-25l-20-15 1-7 20 14zm-299-217l-17-12 0-7 18 12zm-43-6l26-6 0-4-26 6zm329 186l-20-15 1-7 20 14zm-20-12l-20-14 1-8 20 15zm-205-150l-17-12 0-8 18 13zm-43-6l26-6 0-3-26 6zm216 105l-19-14 1-8 19 14zm-19-13l-19-13 1-9 19 14zm-19-13l-18-13 0-9 19 14zm-18-14l-19-13 1-8 18 13zm-19-14l-18-13 1-8 18 13zm-18-14l-18-13 0-8 19 13zm-44-6l26-7 0-1-26 6z" fill="#00b2e0" stroke="#00b2e0" stroke-width="2.80" stroke-linejoin="round"/>
<path d="M1655 1457l216-69-21-17-215 68zm-117 11l33-10-20-18-32 10zm371-116l30-9-22-17-29 9zm-456 119l33-11-19-18-33 10zm493-153l29-9-21-17-28 9zm-545 147l33-10-19-18-33 10zm582-184l28-8-21-16-28 8zm7-23l28-9-21-15-28 8zm7-24l28-8-21-16-27 9zm8-25l27-8-20-15-28 8zm-812 223l34-10-18-17-34 9zm-51-10l33-10-17-18-34 10zm856-274l27-8-20-15-27 8zm-925 248l34-10-17-17-34 9zm-17-15l34-10-17-17-34 9zm910-283l26-8-19-14-26 8zm-20-12l27-8-19-14-27 8zm-974 250l34-9-16-17-34 9zm-16-16l34-9-16-17-34 9zm-16-16l34-10-16-16-33 9zm-15-17l33-9-16-16-33 8zm-16-17l33-9-16-16-33 9zm907-280l26-6-18-13-26 6zm-920 226l32-9-15-15-32 8zm-15-18l32-9-15-15-32 8zm856-240l26-6-18-13-26 7zm-854 201l32-8-15-15-32 8zm17-21l32-8-15-14-32 8zm776-199l26-6-17-13-26 7zm-43-4l26-6-17-13-26 7zm-731 163l31-7-14-15-31 8zm17-21l30-8-14-14-31 7zm16-23l30-7-14-14-31 7zm569-137l27-6-16-12-27 6zm-523 111l30-7-15-14-29 7zm481-118l26-7-16-12-26 6zm-436 90l29-7-14-13-30 7zm366-89l27-7-15-12-27 7zm-322 62l86-21-15-13-86 21zm198-48l55-13-16-12-54 13zm-387 275l32-8 0-3-32 9zm-15-18l32-8 0-3-32 8zm2-38l32-8 0-3-32 8zm17-20l32-8 0-4-32 8zm3-40l31-8-1-5-31 8zm16-22l31-7 0-5-31 7zm16-22l31-7 0-6-31 8zm47-26l29-7 0-6-30 7zm44-27l30-7 0-7-30 7zm44-29l29-7 0-7-29 7zm29-5l29-7 0-7-29 7zm29-6l28-6 0-8-28 7zm758 440l-21-17 0-2 21 17zm-618-473l27-7 0-7-27 6zm70-2l-16-13 0-2 16 13zm-43-6l27-7 0-7-27 7zm659 437l-22-17 1-3 21 16zm-520-439l-15-12 0-3 15 12zm-42-5l27-7 0-7-27 7zm598 410l-21-17 1-4 21 16zm-487-406l-16-12 1-4 16 12zm-42-6l26-6 1-6-27 6zm565 376l-21-16 1-6 21 16zm-480-362l-16-12 0-5 16 12zm-43-6l27-6 0-6-26 6zm530 344l-21-15 1-6 21 15zm7-23l-21-16 1-6 21 15zm7-25l-20-15 0-7 21 15zm-373-272l-17-13 1-6 16 12zm-43-6l26-7 1-5-26 7zm86 10l-17-13 1-7 17 13zm-43-6l26-7 0-4-26 6zm366 213l-20-15 1-7 20 14zm-262-188l-18-13 1-7 17 12zm-44-6l26-7 1-3-26 6zm273 144l-19-14 1-8 19 14zm-19-12l-19-14 0-8 19 14zm-131-94l-18-13 1-8 18 13zm-44-7l26-6 0-2-26 6z" fill="#00c4e0" stroke="#00c4e0" stroke-width="2.80" stroke-linejoin="round"/>
<path d="M1623 1463l32-10-20-18-32 10zm248-79l60-19-21-17-60 19zm-365 91l33-10-20-18-33 10zm433-136l29-9-21-16-29 9zm-519 138l33-11-19-18-33 10zm556-173l28-9-21-16-28 9zm-608 166l33-10-19-18-33 10zm-53-7l34-10-19-18-33 10zm-52-8l34-10-19-18-33 10zm-52-9l34-10-18-18-34 10zm-52-10l34-10-18-18-34 10zm853-252l27-8-20-15-28 8zm-922 227l34-10-17-18-34 10zm896-301l26-8-19-14-27 7zm-981 258l34-10-17-17-33 10zm-16-16l33-9-16-17-34 9zm946-307l26-7-19-14-26 7zm-19-13l26-7-19-14-26 7zm-19-14l26-7-18-13-26 7zm-1004 235l33-9-15-16-33 8zm-15-18l33-9-15-15-33 8zm920-260l26-6-18-13-26 7zm-17-15l25-7-17-12-26 6zm-915 219l32-8-15-15-32 8zm854-237l26-6-18-13-26 7zm-852 199l32-8-15-15-31 8zm17-21l32-8-15-15-31 8zm732-202l26-7-17-12-26 7zm-43-6l26-6-17-12-26 6zm-43-6l26-6-16-12-26 6zm-580 125l30-7-15-13-30 7zm45-27l30-7-15-13-29 7zm423-103l27-6-16-12-26 6zm-378 75l29-7-15-13-29 7zm282-67l54-13-16-13-54 13zm-182 25l112-26-15-12-112 26zm-278 285l33-8-1-2-32 8zm-12-55l32-8 0-3-32 8zm3-38l31-8 0-4-32 8zm17-21l31-8 0-4-31 8zm65-87l30-7 0-6-30 7zm46-27l29-7 0-6-29 7zm44-28l29-7 0-7-29 7zm100-41l28-7 0-7-28 6zm28-7l28-6 0-8-28 7zm28-6l28-7 0-7-28 6zm28-7l28-7 0-7-28 6zm691 473l-21-17 0-2 21 17zm30-11l-21-17 0-3 21 17zm-581-461l-15-12 0-2 15 12zm-43-6l28-6 0-7-28 6zm70-3l-16-12 0-2 16 12zm-42-5l26-7 1-7-27 7zm633 441l-21-16 0-4 21 16zm-522-435l-16-12 0-4 16 12zm-42-6l26-6 0-7-26 6zm600 406l-21-16 1-5 21 16zm-447-395l-16-12 0-6 17 13zm-42-6l26-6 0-6-26 6zm85 12l-17-12 1-6 16 12zm-43-6l26-6 1-6-26 7zm86 11l-17-12 0-6 17 12zm-43-5l26-7 0-5-26 6zm439 270l-20-15 0-7 21 15zm-293-240l-18-13 1-7 17 12zm-44-6l26-7 0-4-25 7zm310 172l-19-14 0-8 20 14zm-188-133l-18-13 1-8 18 13zm-44-6l26-7 0-3-25 7zm26-10l-17-12 0-8 18 13zm-43-6l26-6 0-3-26 6zm198 91l-19-14 1-8 19 13zm-19-13l-19-14 1-8 19 13zm-19-14l-18-13 0-8 19 13z" fill="#00d7e0" stroke="#00d7e0" stroke-width="2.80" stroke-linejoin="round"/>
<path d="M1708 1457l155-50-22-18-154 50zm-149 23l64-20-20-18-64 20zm372-119l30-9-22-17-29 9zm-458 121l33-11-20-18-32 10zm495-156l29-9-21-16-29 9zm37-36l28-8-21-16-28 8zm-671 186l34-11-19-18-34 10zm678-209l28-8-21-16-28 8zm-730 201l33-10-18-19-34 10zm737-225l27-8-20-16-28 9zm-790 216l34-10-18-18-34 10zm797-240l27-8-20-15-28 8zm7-25l27-8-21-15-27 8zm-926 231l34-10-17-18-34 10zm912-267l27-8-20-14-27 8zm-980 240l34-9-17-18-34 10zm967-277l26-8-20-14-26 8zm-984 262l34-9-17-18-34 10zm951-313l27-7-20-14-26 7zm-1035 268l34-9-16-17-34 9zm1016-280l26-8-19-13-26 7zm-1032 264l34-9-16-17-34 9zm-16-17l34-9-16-16-33 9zm-15-17l33-9-15-16-34 9zm-16-17l34-9-16-16-33 9zm1004-267l26-7-19-13-25 7zm-18-14l25-7-18-13-26 7zm-18-14l25-7-18-13-25 7zm-980 241l32-8-15-16-32 9zm-15-18l32-8-15-16-32 9zm915-255l26-6-17-13-26 7zm-912 217l32-8-15-15-32 8zm852-235l25-7-17-12-25 6zm-850 196l32-8-14-15-32 8zm806-200l26-6-16-13-26 7zm-788 179l31-8-15-14-31 7zm16-22l31-8-14-14-31 8zm17-22l31-7-15-14-30 7zm16-22l31-8-15-13-30 7zm569-136l26-6-16-13-26 7zm-523 109l30-7-14-13-30 7zm480-117l27-6-16-12-27 6zm-464 95l59-14-15-13-59 14zm395-94l27-7-16-12-27 7zm-322 60l86-20-15-12-85 20zm198-46l54-13-15-12-54 12zm-405 296l32-9 0-2-32 8zm-15-18l32-9 0-2-32 8zm3-38l32-8 0-4-32 8zm3-39l32-8-1-4-31 8zm17-21l31-7 0-5-31 8zm17-21l31-8 0-5-31 8zm17-22l30-7 0-6-31 8zm16-22l30-7 0-6-30 7zm46-26l30-7 0-7-30 7zm15-24l30-7 0-6-30 7zm30-4l29-7 0-6-29 6zm44-29l28-7 0-7-29 7zm28-5l29-7 0-7-29 7zm29-6l28-6 0-7-28 6zm140-33l27-6 0-8-27 7zm69-2l-15-12 0-2 15 12zm-42-6l27-6 0-7-27 6zm696 466l-22-17 0-4 22 17zm-557-467l-16-12 0-3 16 12zm-43-5l27-7 0-7-26 7zm636 437l-21-16 0-4 21 16zm-524-432l-16-12 0-5 16 12zm-43-6l27-6 0-7-26 6zm603 403l-21-16 0-6 21 16zm-518-389l-16-13 0-4 16 12zm-42-6l26-7 0-6-26 6zm567 372l-21-16 0-6 21 16zm6-24l-20-16 0-6 21 16zm7-24l-20-15 0-7 21 15zm7-25l-21-15 1-7 21 15zm-375-270l-16-13 0-6 17 12zm-42-6l26-7 0-4-26 6zm403 240l-20-14 0-8 21 15zm-318-231l-17-12 1-7 17 12zm-42-6l25-6 1-4-26 6zm346 200l-20-14 1-8 20 14zm-243-175l-17-13 0-7 17 12zm-43-6l26-7 0-3-26 6zm254 131l-20-14 1-9 19 14zm-20-13l-19-13 1-9 19 14zm-75-53l-19-13 1-8 18 13zm-19-14l-18-13 1-8 18 13zm-18-14l-18-13 1-8 18 13zm-43-6l25-7 0-2-25 7z" fill="#09e0d8" stroke="#09e0d8" stroke-width="2.80" stroke-linejoin="round"/>
<path d="M1644 1474l64-20-21-18-63 20zm219-70l60-19-21-17-60 19zm-337 82l33-10-20-19-33 11zm435-138l29-9-21-17-30 9zm-521 140l33-10-19-19-33 10zm557-175l29-9-21-16-29 9zm-610 169l34-10-20-19-33 11zm653-229l28-9-21-15-28 8zm7-24l28-9-21-15-28 8zm-870 221l34-11-18-18-34 10zm-52-11l34-10-18-18-34 10zm915-270l27-8-21-15-27 8zm-984 244l34-10-17-17-34 9zm970-281l27-8-20-14-27 8zm-13-38l26-8-19-14-27 8zm-1042 276l34-10-17-17-34 10zm1022-288l26-7-19-14-26 7zm-1038 272l33-9-16-17-34 9zm-95-100l33-9-15-16-33 9zm-15-17l33-9-15-16-33 9zm-16-18l33-9-15-16-32 9zm996-258l25-7-17-13-26 7zm-992 220l32-8-15-16-32 9zm913-253l26-6-18-13-25 7zm-910 214l32-8-15-14-32 7zm3-39l31-8-14-14-32 7zm804-198l26-6-17-12-26 6zm-787 177l31-8-14-14-31 7zm744-182l26-6-16-12-26 6zm-727 160l31-8-15-14-30 8zm685-165l26-7-17-12-26 6zm-669 143l31-8-14-13-31 7zm626-150l26-6-16-12-26 6zm-579 124l30-7-14-14-30 7zm537-132l26-6-16-12-26 6zm-521 108l30-7-15-13-29 7zm452-106l26-6-15-12-27 6zm-378 74l29-7-14-13-29 7zm281-67l55-13-16-12-54 13zm-153 19l56-13-15-12-55 12zm-324 313l33-9-1-2-33 9zm-15-18l32-9 0-2-33 9zm3-37l32-9 0-3-32 9zm3-39l32-7 0-4-32 8zm3-39l32-7 0-5-32 8zm18-21l31-7 0-5-32 7zm17-21l30-8 0-5-31 7zm16-22l31-7 0-6-31 7zm47-26l30-7 0-6-30 7zm16-23l29-7 0-6-30 7zm74-32l29-7-1-7-29 7zm128-47l28-7 0-7-28 6zm28-7l27-6 0-8-27 6zm725 506l-21-17 0-2 21 18zm30-11l-21-17 0-2 21 17zm-588-500l-16-12 0-3 16 13zm-43-6l27-6 0-8-27 7zm70-3l-16-12 0-3 16 13zm-43-6l27-6 0-7-27 6zm671 470l-21-17 0-3 21 16zm-560-463l-15-12 0-4 16 12zm-42-6l27-6 0-7-27 6zm638 434l-21-16 0-5 22 16zm-527-430l-16-12 0-4 16 12zm-42-6l26-6 0-6-26 6zm84 14l-16-12 0-5 16 12zm-42-6l26-6 0-7-26 7zm569 368l-21-15 1-7 21 16zm-484-356l-17-12 1-5 16 12zm-43-6l26-6 1-6-27 7zm534 338l-21-15 0-7 21 16zm-449-326l-16-12 0-6 16 12zm-42-6l26-6 0-6-26 7zm85 11l-17-12 0-7 17 12zm-43-6l26-6 0-5-26 6zm441 268l-21-15 1-8 20 15zm-14-37l-20-14 0-8 20 14zm-281-202l-18-13 1-7 17 12zm-43-6l25-7 1-3-26 6zm310 170l-19-14 0-8 20 14zm-20-11l-19-14 1-9 19 14zm-169-121l-17-13 0-8 18 13zm-43-6l26-7 0-2-26 7z" fill="#1be0c5" stroke="#1be0c5" stroke-width="2.80" stroke-linejoin="round"/>
<path d="M1761 1456l93-30-21-18-93 30zm-181 35l64-21-20-18-65 20zm343-111l60-19-22-17-59 19zm-430 113l33-11-20-18-33 10zm497-158l29-9-21-17-29 10zm-583 159l33-10-19-19-34 10zm620-195l28-9-21-16-29 9zm-673 189l33-11-19-18-34 10zm679-212l29-9-22-15-28 8zm-732 204l33-10-18-18-34 10zm-53-8l34-10-19-18-34 10zm-53-9l34-10-18-18-34 10zm859-259l27-8-21-15-27 8zm-911 249l34-10-18-18-34 10zm918-274l27-8-21-15-27 8zm-988 249l34-10-17-18-34 10zm974-285l26-8-20-15-27 8zm-1043 258l35-10-17-18-35 10zm1029-296l26-8-19-14-27 8zm-1046 281l35-10-17-18-34 10zm1013-332l27-7-20-14-26 7zm-1096 286l34-9-16-17-34 9zm1077-298l26-7-19-14-26 7zm-1093 282l34-10-16-17-34 10zm1074-295l26-7-19-13-26 7zm-1090 278l34-9-16-17-33 9zm1071-291l26-7-19-13-26 7zm-1086 274l33-9-15-17-34 9zm1067-287l26-7-19-13-26 7zm-1083 270l34-9-15-16-34 8zm1064-284l26-7-18-13-26 7zm-18-14l26-7-19-13-25 7zm-1073 226l33-9-14-15-33 8zm993-255l26-7-18-13-26 7zm-989 217l32-9-14-15-33 8zm911-251l26-6-18-12-25 6zm-908 212l32-8-14-15-32 8zm865-215l26-6-17-12-26 6zm-60-21l26-6-16-12-26 6zm-42-5l26-7-17-12-25 7zm-43-6l27-7-17-12-26 7zm-635 138l30-7-14-14-30 7zm16-23l30-7-15-13-29 7zm509-120l26-6-16-12-26 6zm-464 94l59-14-14-13-59 14zm395-93l26-7-15-12-27 6zm-322 60l114-27-14-12-114 26zm170-40l82-19-15-12-82 19zm-410 292l33-8-1-3-32 9zm3-38l33-8 0-3-33 8zm4-38l32-8-1-4-31 8zm85-108l30-7 0-6-31 7zm16-22l29-7 0-7-30 7zm45-27l29-7 0-7-29 7zm29-5l30-6-1-7-29 6zm44-29l29-6 0-8-29 7zm29-5l28-6 0-8-28 7zm28-5l29-7 0-7-29 6zm29-6l28-7 0-7-28 6zm83-20l28-6 0-8-28 6zm28-7l27-7 0-7-27 6zm69-2l-15-12 0-2 15 12zm-42-6l27-6 0-8-27 6zm703 505l-21-17 0-3 21 18zm30-12l-22-17 0-3 22 17zm-595-494l-15-12 0-3 15 12zm-42-6l27-6 0-7-27 6zm673 466l-21-17 0-4 22 17zm-562-460l-16-12 0-4 16 12zm-42-6l26-6 0-7-26 6zm640 430l-21-16 0-5 22 16zm7-23l-22-15 1-6 21 16zm-494-397l-17-12 1-5 16 12zm-43-5l26-7 1-6-26 6zm85 11l-17-12 1-5 16 12zm-42-5l25-7 1-5-26 6zm513 325l-21-15 1-7 21 15zm-429-314l-16-12 0-7 17 12zm-42-6l26-6 0-6-26 7zm478 295l-21-15 1-8 20 15zm-376-268l-17-12 0-7 17 12zm-43-6l26-6 0-5-26 6zm404 238l-20-15 1-8 20 15zm-318-229l-18-12 1-8 17 12zm-43-6l25-6 1-5-26 7zm347 197l-19-14 0-8 20 14zm-226-158l-18-13 0-8 18 13zm-44-6l26-7 0-2-26 6zm238 114l-20-14 1-8 19 13zm-20-12l-19-14 1-8 19 13zm-19-13l-19-13 0-9 19 13zm-19-13l-19-13 1-9 18 13zm-19-13l-19-13 1-9 19 13zm-19-14l-18-13 0-8 19 13zm-18-14l-19-13 1-8 18 13z" fill="#2ee0b3" stroke="#2ee0b3" stroke-width="2.80" stroke-linejoin="round"/>
<path d="M1665 1485l96-31-21-18-95 30zm189-61l91-30-21-17-91 29zm-307 73l33-11-21-18-32 10zm436-140l29-10-21-16-30 9zm-523 142l34-10-20-19-34 11zm560-177l28-9-21-17-29 9zm-700 171l34-11-19-18-34 10zm742-231l28-9-21-16-28 9zm-795 223l34-10-19-19-34 10zm802-247l27-9-21-15-27 8zm-855 238l34-10-19-18-34 10zm861-262l28-9-21-15-28 8zm-985 228l35-10-18-18-34 10zm977-289l27-8-20-14-27 7zm-1046 263l35-10-18-18-34 10zm1032-300l27-8-20-14-27 8zm-1117 256l35-10-17-17-34 10zm1084-306l26-7-19-14-26 7zm-1100 290l34-9-16-18-34 10zm-94-101l33-8-15-16-33 8zm-15-17l33-9-15-16-33 9zm1058-277l26-7-19-13-25 7zm-1073 259l33-9-15-15-33 8zm1055-274l26-7-18-12-26 6zm-1051 237l32-9-14-15-33 8zm989-253l26-6-17-13-26 7zm-17-16l26-6-18-12-25 6zm-969 230l33-8-15-15-32 8zm4-39l31-8-14-15-32 8zm862-213l26-6-17-12-26 6zm-845 192l32-8-15-14-31 7zm17-22l32-7-15-14-31 7zm17-22l31-7-14-14-31 7zm17-22l31-7-15-14-30 7zm624-148l26-7-16-12-26 7zm-42-8l26-6-15-12-27 6zm-520 107l30-7-14-13-30 6zm451-106l27-6-15-12-27 6zm-377 73l29-7-14-13-29 7zm281-65l27-7-15-11-27 6zm-496 351l33-9 0-2-33 9zm-15-18l33-8 0-2-33 8zm4-37l33-8 0-3-33 8zm4-38l32-8 0-4-32 8zm3-39l32-8 0-4-32 8zm18-21l31-7 0-5-31 7zm17-21l31-7 0-6-31 8zm17-22l31-7 0-6-31 8zm17-22l30-7 0-6-30 7zm62-49l30-6 0-7-30 7zm74-32l29-7 0-7-29 7zm918 481l-21-17 0-2 21 17zm30-11l-21-18 0-2 22 17zm-626-529l-15-11 0-3 15 12zm-42-5l27-6 0-8-27 6zm735 488l-21-16 0-4 22 17zm-597-490l-15-12 0-4 15 12zm-42-6l27-6 0-7-27 6zm675 462l-21-17 0-4 22 16zm-565-457l-15-12 0-5 16 12zm-42-6l27-6 0-7-26 6zm84 13l-16-12 1-4 16 11zm-42-5l26-7 1-6-26 6zm607 395l-21-16 0-6 22 16zm6-24l-21-15 1-7 21 16zm7-24l-21-15 0-7 21 15zm-408-319l-17-12 0-7 17 12zm-43-6l26-6 0-5-25 6zm442 265l-20-14 0-8 21 14zm-14-37l-20-14 1-8 20 14zm-265-184l-17-13 0-8 18 13zm-43-6l26-7 0-3-26 6zm26-10l-18-12 1-8 17 12zm-43-6l25-6 1-4-26 6zm291 157l-19-14 0-9 20 14zm-151-105l-19-13 1-8 18 13zm-44-6l25-7 1-2-26 7zm26-9l-18-12 0-8 18 12zm-44-6l26-6 0-3-26 7z" fill="#40e0a0" stroke="#40e0a0" stroke-width="2.80" stroke-linejoin="round"/>
<path d="M1601 1501l65-21-21-18-65 20zm345-111l30-9-22-17-30 9zm-432 114l33-11-20-18-33 10zm499-160l29-10-22-16-29 9zm-586 162l33-11-20-19-33 11zm622-198l28-9-21-16-29 9zm-676 192l34-11-20-19-33 11zm683-215l28-9-22-16-28 9zm-895 182l34-10-18-19-34 10zm921-278l27-9-21-15-27 9zm-974 268l35-11-18-18-35 10zm980-294l27-8-20-15-27 8zm-1050 268l35-10-18-18-34 10zm1036-304l27-8-21-14-26 7zm-1105 276l35-10-17-17-34 9zm1091-314l27-7-20-14-27 7zm-1107 299l34-10-16-18-35 10zm1087-310l26-8-20-14-26 8zm-1171 264l35-10-16-17-35 9zm-16-17l35-9-16-17-34 9zm1135-312l26-7-19-13-26 7zm-1150 295l34-9-16-17-34 10zm1131-308l26-7-19-13-25 7zm-1147 291l34-9-15-16-34 9zm1129-304l25-7-19-13-25 7zm-1144 287l34-9-15-16-34 9zm1125-300l26-7-19-13-26 7zm-1151 228l33-8-15-16-33 8zm1052-271l26-7-18-12-26 6zm-1048 233l33-8-15-15-33 8zm-15-18l33-9-15-15-32 9zm19-21l32-8-15-14-32 8zm923-229l26-7-17-12-26 7zm-920 190l32-8-14-14-32 7zm861-211l25-6-16-12-26 6zm-843 189l31-7-14-14-31 7zm800-193l26-7-17-12-25 7zm-783 172l31-8-14-14-31 8zm741-178l26-6-17-12-25 6zm-724 156l31-8-14-13-31 7zm682-163l26-6-16-12-26 7zm-635 137l31-7-15-13-30 7zm16-23l30-7-14-13-30 7zm508-119l26-6-15-12-26 6zm-462 93l58-14-14-12-58 13zm366-85l54-13-15-11-54 12zm-264 46l195-45-15-12-195 44zm-289 279l33-8 0-3-33 9zm4-37l33-8 0-4-33 9zm-14-18l32-9 0-3-32 8zm18-20l32-8 0-4-32 7zm4-40l32-7 0-5-32 7zm18-21l31-7 0-5-31 7zm17-21l31-8 0-5-31 7zm17-22l31-7 0-6-31 7zm47-25l30-7 0-6-30 7zm16-23l30-7 0-7-30 7zm46-27l29-7 0-7-30 7zm29-4l29-7 0-7-29 7zm72-35l29-6 0-8-29 7zm29-5l28-7 0-7-28 6zm28-6l28-6 0-8-28 6zm28-6l28-7 0-7-28 6zm28-7l28-6 0-8-28 7zm28-7l27-6 0-8-27 7zm27-7l27-6 0-8-27 6zm768 526l-22-17 0-3 22 17zm-630-525l-15-12 0-3 15 12zm-42-6l27-6 0-7-27 6zm69-3l-15-12 0-3 15 12zm-42-6l27-6 0-7-27 6zm711 493l-22-16 0-4 22 16zm-601-487l-15-12 0-4 16 12zm-41-6l26-6 0-7-26 6zm677 458l-21-16 0-5 22 16zm7-23l-22-16 1-5 21 16zm-532-424l-16-12 0-5 16 12zm-42-5l26-7 0-6-26 6zm84 12l-17-12 1-6 16 12zm-42-6l25-6 1-6-26 6zm84 11l-17-12 1-6 16 12zm-42-5l25-7 1-5-26 6zm515 321l-21-15 1-7 21 15zm-431-311l-16-12 0-6 17 11zm-42-6l26-6 0-5-26 6zm479 292l-20-15 0-7 21 14zm-377-266l-17-12 0-7 17 12zm-43-5l26-7 0-4-26 6zm406 235l-21-14 1-8 20 14zm-14-37l-20-14 0-9 20 14zm-21-12l-20-14 1-8 20 14zm-207-146l-18-12 1-8 17 12zm-44-6l26-6 0-3-25 7zm199 88l-19-13 1-9 19 13zm-19-13l-19-13 1-8 19 13zm-19-13l-19-13 1-8 19 13zm-18-13l-19-13 1-9 18 13z" fill="#52e08e" stroke="#52e08e" stroke-width="2.80" stroke-linejoin="round"/>
<path d="M1719 1485l219-71-22-17-218 70zm-151 23l33-11-21-19-33 11zm408-131l59-19-22-17-59 18zm-495 134l33-11-20-19-34 11zm561-181l29-9-22-16-29 9zm-649 182l34-11-20-19-34 11zm-54-7l34-10-19-19-34 10zm745-234l28-9-21-16-28 9zm-798 227l34-11-19-19-34 11zm805-251l28-9-22-15-28 8zm-859 243l35-11-19-19-34 11zm865-267l28-9-22-15-27 8zm-918 258l35-11-19-19-34 11zm924-283l28-8-21-15-28 8zm-977 273l35-11-18-18-35 10zm-71-26l35-10-17-18-35 10zm1040-308l27-8-21-14-27 8zm-1109 282l35-11-17-18-35 10zm1095-319l26-8-20-14-26 8zm-1180 274l35-10-16-17-35 9zm1146-324l26-7-20-14-26 7zm-1162 308l35-10-16-17-35 10zm1142-320l26-7-19-13-26 7zm-19-12l26-7-20-14-25 8zm-1216 231l34-9-16-16-33 9zm1121-297l26-7-18-13-26 7zm-1136 279l33-9-15-16-33 9zm1118-293l26-7-18-13-26 7zm-1133 275l33-8-14-16-34 8zm4-37l33-9-14-15-33 8zm1050-268l25-7-17-12-26 6zm-1064 250l32-9-14-15-33 8zm1003-268l26-6-18-12-25 6zm-999 229l32-8-14-15-32 8zm18-21l32-7-14-15-32 8zm921-227l26-6-17-12-26 6zm-834 119l30-7-14-13-30 7zm623-147l26-6-16-12-26 6zm-607 125l30-7-14-14-30 7zm565-133l26-6-16-12-26 6zm-519 106l30-7-14-13-30 7zm450-105l27-6-16-12-26 6zm-376 73l58-13-15-13-57 13zm253-59l54-12-15-12-54 13zm-488 365l33-9 0-1-33 8zm-15-18l34-8-1-2-33 8zm5-37l33-8-1-3-32 9zm-15-18l33-8 0-3-33 8zm5-38l32-8 0-4-33 8zm18-20l32-8 0-4-32 7zm87-107l30-7 0-6-31 7zm16-23l30-7 0-6-30 7zm46-26l30-7-1-7-29 7zm74-33l29-6 0-8-29 7zm29-5l28-6 0-7-28 6zm926 515l-22-18 0-2 22 18zm-661-560l-15-12 0-2 15 12zm-42-6l27-6 0-7-27 6zm69-2l-15-12 0-2 15 12zm-42-6l27-6 0-7-27 6zm743 530l-21-18 0-3 22 17zm30-13l-22-17 1-4 21 17zm-635-518l-16-12 0-3 16 11zm-42-6l26-6 0-7-26 6zm713 489l-22-16 1-5 22 17zm-603-484l-16-12 0-4 16 12zm-42-6l26-6 0-6-26 6zm84 14l-16-12 0-4 16 11zm-42-6l26-6 0-6-26 6zm644 423l-21-16 0-6 22 16zm7-24l-22-15 1-7 21 16zm6-24l-22-15 1-7 21 16zm6-24l-21-15 0-7 21 15zm-410-317l-17-12 0-7 17 12zm-43-6l26-6 0-5-25 6zm444 262l-21-14 1-8 20 14zm-341-237l-18-12 1-8 17 13zm-43-6l25-6 1-4-26 6zm369 206l-20-14 1-8 20 14zm-266-183l-17-12 0-8 18 12zm-43-6l26-6 0-3-26 6zm275 140l-20-14 1-8 20 13zm-20-12l-19-13 1-9 19 13zm-19-12l-20-14 1-8 19 13zm-95-66l-18-13 0-8 19 12zm-18-14l-18-13 0-8 18 12zm-44-6l26-7 0-2-26 7z" fill="#65e07c" stroke="#65e07c" stroke-width="2.80" stroke-linejoin="round"/>
<path d="M1655 1503l65-21-22-19-64 21zm283-93l60-20-22-17-60 19zm-403 105l33-11-21-19-33 11zm500-163l30-9-22-17-29 9zm-588 165l34-11-20-19-34 11zm625-200l28-10-22-16-28 9zm6-23l28-9-21-16-29 9zm-773 216l34-10-19-19-34 10zm-54-7l35-11-19-19-35 11zm-54-9l35-11-18-19-35 11zm913-321l27-8-21-15-27 8zm-1037 287l35-11-18-18-35 10zm1043-313l27-8-21-14-27 8zm-1113 287l35-11-17-18-35 10zm1098-323l27-8-21-14-26 8zm-1167 295l35-11-17-17-35 10zm-17-16l35-10-16-18-35 10zm1150-328l26-8-20-13-26 7zm-1249 265l35-10-16-17-34 10zm-15-17l34-10-15-16-35 9zm-16-17l35-9-15-17-35 9zm-15-18l34-9-15-16-34 9zm1105-344l26-7-18-12-26 7zm-1130 272l33-8-14-16-34 9zm1112-287l26-6-18-13-25 7zm-61-16l26-6-18-12-25 6zm-1061 247l33-8-14-15-33 8zm1001-265l26-6-18-12-25 6zm-978 205l32-7-14-15-32 8zm919-225l25-6-17-12-25 7zm-901 204l32-7-15-14-31 7zm858-208l26-6-17-12-25 6zm-840 187l31-7-14-14-31 7zm798-192l26-6-17-12-25 6zm-781 170l31-7-14-14-31 8zm739-176l26-6-16-12-26 6zm-722 154l31-7-14-14-31 8zm680-161l26-6-16-11-26 6zm-664 139l31-7-14-14-30 7zm47-27l30-7-14-13-30 7zm507-118l26-6-15-11-27 6zm-462 92l59-13-14-13-58 13zm366-83l27-6-15-12-27 6zm-264 44l195-45-14-12-195 44zm-308 301l34-9 0-2-34 8zm-9-56l33-8-1-4-32 8zm23-59l32-8 0-4-32 7zm18-21l31-7 0-5-31 7zm18-21l31-7 0-6-32 8zm17-21l31-8 0-6-31 8zm17-22l31-8-1-6-30 7zm17-23l30-7 0-6-31 7zm46-26l30-7 0-6-30 6zm46-27l29-7 0-7-30 7zm29-4l29-7 0-7-29 7zm72-35l28-6 0-7-28 6zm29-5l28-6 0-8-29 6zm28-6l28-6 0-8-28 7zm28-6l27-6 0-8-27 6zm27-6l28-7 0-7-28 6zm28-7l27-6 0-8-27 6zm27-7l28-7 0-7-28 6zm775 565l-22-17 0-2 22 17zm30-12l-22-17 1-3 22 18zm-667-552l-15-12 0-3 15 12zm-42-6l27-6 0-7-27 6zm776 512l-22-17 0-4 22 17zm-639-515l-15-11 0-4 15 12zm-42-5l27-6 0-7-27 6zm716 484l-22-16 1-5 22 17zm6-22l-21-16 0-6 22 16zm-570-451l-16-11 0-6 16 12zm-42-5l26-6 0-7-26 6zm84 12l-16-12 0-5 16 11zm-42-6l26-6 0-6-26 6zm84 12l-17-12 1-6 16 12zm-42-6l25-6 1-6-26 6zm84 11l-17-12 1-6 16 12zm-42-6l25-6 1-5-26 6zm517 319l-21-15 1-8 21 15zm-433-309l-17-12 1-6 17 11zm-42-5l25-7 1-5-26 7zm481 288l-21-14 1-8 21 14zm-379-263l-18-12 1-7 17 12zm-43-6l25-6 1-4-26 6zm407 233l-21-14 1-8 21 14zm-304-209l-18-12 1-8 17 12zm-43-6l25-6 0-4-25 7zm312 166l-20-13 1-9 20 14zm-190-130l-18-12 0-8 18 12zm-44-5l26-7 0-2-26 6zm26-9l-18-13 0-8 18 13zm-43-6l25-7 0-2-25 6z" fill="#77e069" stroke="#77e069" stroke-width="2.80" stroke-linejoin="round"/>
<path d="M1741 1495l189-62-22-18-188 61zm-152 25l66-22-21-19-66 21zm410-133l29-10-22-17-29 9zm-498 135l34-11-21-19-33 11zm564-183l29-9-22-17-29 9zm-652 184l34-10-20-20-34 11zm-54-6l34-10-20-19-34 10zm748-238l28-8-22-16-28 8zm6-23l28-9-22-15-28 8zm6-24l28-8-22-16-27 8zm6-24l28-9-22-15-27 8zm-981 276l35-10-18-19-35 11zm987-301l28-9-22-14-27 8zm-1040 291l35-10-18-19-35 10zm-71-26l35-10-17-18-35 10zm1102-327l27-8-21-14-26 8zm-1171 300l35-10-17-18-35 10zm1136-348l26-7-20-14-26 7zm-1221 303l35-10-16-18-35 10zm-16-16l35-10-16-17-35 9zm-16-17l35-9-16-17-35 9zm1200-333l26-7-19-13-26 7zm-19-13l26-7-20-13-25 7zm-19-12l25-7-19-13-25 7zm-19-13l25-7-18-13-26 7zm-19-14l26-7-19-12-25 6zm-1201 300l34-9-15-16-34 9zm1183-314l25-6-18-13-26 7zm-1198 296l34-9-15-16-33 9zm-15-17l34-9-14-16-34 8zm5-38l34-8-15-16-33 9zm1110-284l25-6-18-12-25 6zm-1124 266l33-9-14-15-33 8zm1063-282l25-7-17-12-25 6zm-1058 243l32-8-14-15-32 8zm18-20l33-8-14-15-33 8zm980-242l26-6-17-12-26 6zm-975 202l32-7-14-15-32 8zm18-21l31-7-14-14-31 7zm17-21l32-8-14-14-31 8zm797-191l26-6-17-11-25 6zm-779 169l31-8-14-13-31 7zm669-171l26-6-16-12-26 6zm-605 123l30-7-14-13-30 7zm563-131l26-6-15-12-26 6zm-517 104l29-7-14-13-29 7zm422-96l53-13-15-11-53 12zm-348 64l57-13-14-13-57 13zm252-58l54-12-14-12-54 12zm-507 385l33-9 0-1-34 9zm-15-18l34-8 0-2-34 8zm5-36l33-9 0-3-33 9zm-14-19l33-8 0-3-34 8zm5-38l32-8 0-4-33 8zm18-20l33-8-1-4-32 8zm5-39l32-8-1-5-32 8zm18-21l31-7 0-6-31 8zm18-21l31-8-1-5-31 7zm17-22l31-7-1-6-30 7zm64-47l30-7 0-7-30 7zm46-27l29-7 0-7-29 7zm74-33l29-6-1-7-28 6zm29-4l28-7 0-7-29 6zm264-45l-14-12 0-2 14 12zm-41-6l27-6 0-8-27 6zm68-2l-14-12 0-2 14 12zm-41-6l27-6 0-8-27 7zm780 557l-22-17 0-3 23 17zm-670-549l-15-12 0-3 15 12zm-42-6l27-6 0-7-27 6zm68-3l-15-12 0-3 15 12zm-41-6l26-6 0-7-26 6zm751 517l-22-17 0-5 22 17zm-642-511l-15-12 0-4 15 11zm-41-6l26-6 0-7-26 6zm83 14l-16-12 0-4 16 11zm-42-6l26-6 1-7-27 6zm683 450l-22-16 1-6 22 16zm6-24l-22-15 1-7 22 16zm6-23l-22-16 1-7 21 16zm-543-395l-17-11 1-6 16 12zm-42-5l25-6 1-6-26 6zm591 375l-22-15 1-7 21 15zm6-25l-22-14 1-8 21 15zm-412-314l-17-12 0-7 17 12zm-43-6l26-6 0-5-25 6zm445 259l-21-14 1-8 21 14zm-343-235l-17-12 1-7 17 12zm-42-6l25-6 0-4-25 7zm349 194l-20-14 1-9 20 14zm-246-171l-18-12 1-8 18 12zm-43-6l25-6 1-3-26 6zm236 114l-19-13 1-9 19 13zm-19-13l-20-13 1-8 19 13zm-20-12l-19-13 1-9 19 13zm-19-13l-18-13 0-9 19 13zm-18-14l-19-12 1-9 18 13zm-19-13l-18-13 0-9 19 13z" fill="#8ae057" stroke="#8ae057" stroke-width="2.80" stroke-linejoin="round"/>
<path d="M1676 1513l66-21-22-19-65 21zm254-82l61-20-22-18-61 20zm-374 95l33-11-21-19-33 10zm473-152l29-10-22-17-30 10zm-562 155l34-11-20-19-34 10zm634-226l28-10-22-16-28 9zm-777 220l35-11-20-19-34 11zm-54-8l35-10-19-20-35 11zm-54-8l35-11-19-19-35 11zm-54-9l35-11-18-19-35 11zm-53-10l35-11-18-18-35 10zm1029-331l26-8-21-14-26 7zm-1100 306l35-10-18-19-35 10zm-71-27l36-10-17-18-36 10zm1141-352l26-8-20-13-26 7zm-1210 324l36-10-17-18-35 10zm-16-16l35-10-16-18-35 10zm1192-358l26-7-20-14-26 8zm-20-12l26-7-20-13-25 7zm-1271 306l35-9-16-18-34 10zm-15-17l34-9-15-17-35 9zm-16-17l35-9-15-17-35 9zm1169-364l26-6-19-13-25 7zm-18-14l26-6-19-13-25 7zm-1190 288l34-8-15-16-34 9zm1111-318l26-6-18-12-25 6zm-1121 262l34-8-15-15-33 8zm1061-279l25-7-17-12-25 7zm-1056 240l33-8-14-14-33 8zm19-20l32-8-13-14-33 7zm978-240l25-6-17-11-25 6zm-43-3l26-7-17-11-25 6zm-42-5l26-6-17-12-25 6zm-84-12l26-6-16-12-26 6zm-720 152l30-7-13-13-31 7zm678-159l26-6-16-11-26 6zm-662 137l31-7-14-13-30 7zm47-27l30-6-14-13-30 7zm505-116l27-6-15-12-27 6zm-430 85l29-7-14-13-29 7zm335-77l27-6-15-12-26 6zm-235 37l139-32-14-11-139 30zm-356 328l34-9 0-2-34 8zm-9-56l33-8 0-4-33 9zm5-38l33-8 0-4-33 7zm19-21l33-7-1-5-32 8zm89-106l31-7-1-6-30 7zm17-22l30-7 0-7-31 7zm46-26l30-7 0-7-30 7zm75-32l29-7-1-7-29 7zm100-40l28-6 0-8-28 7zm28-6l28-6 0-7-28 6zm28-6l28-6 0-8-28 7zm28-6l28-6-1-8-27 6zm28-7l27-6 0-8-28 6zm809 598l-22-17 0-2 22 18zm30-11l-22-18 0-2 22 18zm-675-592l-15-12 0-3 15 12zm-41-6l26-6 0-8-26 6zm783 552l-22-17 0-3 22 17zm-647-554l-15-12 0-4 15 12zm-42-6l27-6 0-7-27 6zm760 489l-22-16 1-5 22 16zm-609-477l-16-11 0-5 16 11zm-42-5l26-6 1-7-26 6zm84 12l-16-12 0-5 16 12zm-42-6l26-6 0-6-26 6zm126 18l-17-12 0-6 17 12zm-42-6l25-6 0-6-25 7zm84 10l-17-11 0-7 17 12zm-42-5l25-6 0-6-25 7zm518 315l-21-14 1-8 21 14zm-434-306l-17-11 0-7 17 11zm-42-5l25-6 0-5-25 6zm101 24l-17-12 1-7 17 12zm-42-5l25-7 0-4-25 7zm387 219l-20-13 1-9 20 14zm-284-196l-18-12 0-8 18 12zm-43-6l25-6 0-4-25 7zm293 153l-20-14 1-9 20 14zm-20-12l-20-13 1-9 20 13zm-133-91l-19-13 1-8 18 12zm-44-6l25-7 1-1-26 6zm26-8l-19-13 1-8 18 12zm-44-6l25-7 1-2-26 7z" fill="#9ce044" stroke="#9ce044" stroke-width="2.80" stroke-linejoin="round"/>
<path d="M1828 1484l63-21-22-18-63 20zm-184 37l33-11-22-19-33 10zm348-115l59-19-22-18-60 20zm-470 127l34-11-21-19-34 11zm536-172l30-10-23-17-29 10zm-625 174l35-11-21-19-34 11zm661-210l29-9-22-17-29 9zm-715 204l34-11-20-19-34 11zm751-241l28-9-22-16-28 9zm-840 240l34-11-19-19-35 11zm846-263l28-9-22-16-28 9zm-901 255l35-11-19-19-35 11zm907-279l27-9-22-15-27 8zm-961 270l35-10-19-19-35 10zm966-294l28-9-22-15-27 8zm6-25l28-8-22-15-27 8zm6-25l27-8-21-15-27 8zm-1104 310l36-10-18-19-36 11zm1089-346l26-7-21-15-26 8zm-1160 320l36-10-17-19-36 11zm1145-356l26-8-21-14-26 8zm-1214 328l35-10-16-18-36 10zm1199-366l26-8-20-13-26 7zm-20-11l26-8-20-13-26 7zm-1264 332l35-10-16-18-35 10zm-16-17l35-9-16-18-35 10zm-16-16l36-10-16-17-35 9zm1224-376l26-7-19-13-26 7zm-19-13l26-7-19-13-26 7zm-1266 321l35-9-15-17-35 9zm-15-18l35-9-15-16-34 9zm-15-18l35-8-15-17-34 9zm1178-339l26-7-18-12-26 6zm-1187 284l34-8-14-16-34 9zm-14-18l33-9-14-15-33 8zm1123-297l25-7-17-12-25 7zm-1118 259l33-9-14-15-33 9zm1058-277l25-7-17-11-25 6zm-1053 237l33-7-14-15-33 8zm19-20l32-8-14-14-32 8zm18-21l32-8-13-14-32 8zm915-220l25-7-16-11-26 6zm-896 199l31-8-14-14-31 8zm854-204l25-7-16-11-25 6zm-837 182l31-7-13-14-31 7zm795-188l26-6-16-12-26 6zm-777 166l30-7-13-13-31 7zm17-22l30-7-13-13-31 7zm650-148l27-6-16-11-26 6zm-603 122l30-7-14-13-30 7zm46-26l58-13-13-13-59 13zm421-95l27-6-15-12-27 6zm-347 62l85-19-14-12-85 19zm224-50l55-12-15-12-54 12zm-500 398l34-9 0-1-34 9zm-9-54l34-9-1-3-33 9zm-14-19l33-8 0-3-33 8zm5-37l33-9 0-3-33 8zm5-39l33-8 0-4-33 7zm19-20l32-8 0-5-32 8zm19-21l32-8-1-5-32 8zm18-21l31-8 0-5-31 7zm18-22l31-7-1-6-31 8zm17-21l31-7-1-7-30 7zm17-22l31-7-1-7-30 7zm47-26l30-7 0-7-30 7zm46-27l29-6 0-8-29 7zm29-4l30-6-1-8-29 7zm45-28l28-7 0-7-29 6zm28-5l29-7 0-7-29 6zm29-5l28-7 0-7-28 6zm167-38l27-6 0-8-27 6zm69-2l-15-11 0-2 15 12zm-42-5l27-6 0-8-27 6zm815 589l-22-18 0-2 23 17zm31-13l-23-17 0-3 23 17zm-709-576l-15-12 0-3 15 12zm-42-6l27-6 0-7-27 6zm787 548l-23-17 1-4 22 17zm35-35l-22-17 0-5 23 17zm-644-508l-16-11 0-5 16 12zm-42-5l26-6 0-7-26 6zm721 476l-22-16 0-6 23 16zm6-23l-22-16 0-6 22 16zm5-24l-22-15 1-7 22 16zm-581-420l-16-12 0-5 16 11zm-42-6l26-6 0-6-26 6zm629 402l-22-15 1-7 22 15zm-546-391l-16-11 0-6 17 11zm-41-5l25-6 0-6-25 6zm593 372l-22-15 1-8 21 15zm-510-362l-16-11 0-7 17 12zm-42-5l26-6 0-6-25 6zm557 342l-21-15 1-8 21 15zm-16-35l-21-15 1-8 21 14zm-398-278l-17-11 1-8 17 12zm-42-5l25-6 1-5-26 6zm425 246l-21-14 1-8 21 14zm-323-223l-17-12 0-8 18 12zm-42-5l25-7 0-3-25 6zm350 190l-20-13 1-9 20 14zm-20-11l-20-13 1-9 20 13zm-209-143l-18-12 0-9 18 13zm-44-6l26-6 0-3-25 7zm181 73l-19-13 0-9 19 13zm-19-13l-19-13 0-9 19 13z" fill="#aee032" stroke="#aee032" stroke-width="2.80" stroke-linejoin="round"/>
<path d="M1731 1514l97-32-22-18-96 31zm160-52l93-31-23-18-92 31zm-314 76l67-22-21-19-67 22zm475-156l29-9-22-18-30 10zm-564 158l34-11-20-19-34 10zm600-193l29-9-22-17-29 9zm-689 194l34-11-20-19-34 11zm725-230l28-9-22-17-29 9zm-780 224l35-11-20-19-35 11zm820-285l28-9-22-16-28 9zm6-24l27-9-21-15-28 8zm6-25l27-8-22-15-27 8zm-1049 301l35-11-18-19-35 11zm-54-10l36-11-19-19-35 11zm1092-351l27-8-21-14-27 8zm-1163 325l35-11-17-18-36 10zm1148-361l26-7-21-15-26 8zm-1218 334l35-11-17-18-35 10zm1203-371l26-8-20-13-26 7zm-1273 342l36-10-17-19-35 11zm-16-16l36-10-17-18-35 10zm1235-388l25-7-19-13-26 7zm-20-12l25-7-19-13-25 7zm-20-12l26-7-19-13-26 7zm-1309 330l35-9-15-17-35 9zm1252-369l26-7-19-13-25 7zm-18-14l25-7-18-12-26 6zm-19-14l26-6-19-13-25 7zm-1254 309l34-9-15-16-34 8zm-15-19l34-8-14-16-34 9zm1190-318l25-7-18-12-25 7zm-1198 262l33-8-14-15-33 8zm1120-294l25-6-17-12-25 6zm-1115 256l33-8-14-15-33 8zm1013-278l25-6-16-12-26 6zm-989 218l32-8-14-14-32 7zm18-21l32-8-13-14-32 8zm19-22l31-7-14-14-31 7zm17-21l31-8-13-13-31 7zm767-176l26-6-16-11-26 6zm-41-7l26-6-16-11-26 5zm-661 135l31-7-14-13-30 7zm593-133l26-6-15-12-26 6zm-546 107l30-7-14-13-30 7zm478-107l26-6-15-11-26 5zm-404 75l29-7-13-12-29 6zm309-70l53-12-14-11-54 12zm-152 18l28-7-14-11-28 6zm-418 378l34-8 0-2-34 8zm-14-17l34-9 0-2-34 8zm-8-56l33-8 0-3-34 8zm5-38l33-8 0-4-33 8zm24-60l32-7 0-5-32 7zm19-20l32-8-1-5-31 7zm18-22l31-7 0-6-31 8zm18-21l31-7-1-6-31 7zm65-47l30-7 0-7-30 7zm46-26l30-7 0-7-30 7zm75-32l29-6-1-8-29 7zm156-51l28-6 0-8-28 6zm902 613l-22-18 0-2 22 18zm-709-624l-15-11 0-2 15 11zm-42-5l27-6 0-8-27 6zm68-3l-14-11 0-3 14 12zm-41-5l27-6 0-8-27 6zm821 580l-22-18 0-3 23 17zm-712-573l-15-11 0-4 15 12zm-41-6l26-5 0-8-26 6zm789 544l-22-17 0-4 23 17zm-680-538l-15-12 0-4 15 12zm-41-6l26-6 0-7-26 6zm756 508l-22-17 0-5 23 17zm-647-504l-16-11 0-5 16 11zm-42-6l26-5 0-7-26 6zm83 13l-16-11 0-6 16 12zm-42-5l26-6 0-7-25 6zm688 441l-22-16 1-6 22 16zm5-24l-21-15 0-7 22 15zm6-24l-22-15 1-7 22 15zm-490-366l-16-12 0-7 17 12zm-42-6l26-6 0-5-25 6zm521 312l-21-14 1-8 21 14zm-16-35l-21-15 1-8 21 14zm-361-249l-17-12 0-8 17 12zm-42-6l25-6 0-4-25 6zm388 217l-20-13 1-9 20 14zm-268-180l-18-12 1-8 17 12zm-43-5l25-7 0-3-25 7zm256 124l-19-13 0-9 20 13zm-20-12l-19-13 1-9 19 13zm-19-12l-19-13 1-9 19 13zm-57-39l-19-13 1-9 19 13zm-19-14l-18-12 0-9 19 13zm-18-13l-19-13 1-8 18 12zm-44-6l25-7 0-1-25 6z" fill="#c1e020" stroke="#c1e020" stroke-width="2.80" stroke-linejoin="round"/>
<path d="M1666 1532l65-22-21-19-66 22zm318-105l61-20-23-17-60 19zm-441 117l34-11-21-19-34 10zm539-175l29-9-22-18-30 10zm-628 178l34-11-20-20-34 11zm664-213l28-10-22-16-29 9zm35-37l28-9-22-17-29 9zm-844 244l35-11-20-20-34 11zm850-268l28-8-23-16-28 8zm-905 260l36-11-20-19-35 11zm-54-8l35-11-19-19-35 10zm-55-9l36-11-19-19-35 10zm-54-10l36-11-19-19-35 10zm1090-330l27-8-21-15-27 8zm6-25l27-8-22-15-26 8zm-1168 330l36-11-18-19-35 11zm1152-366l26-7-20-15-27 8zm-1223 339l36-11-17-18-36 10zm1208-375l26-8-21-14-26 8zm-1277 346l35-10-16-18-36 10zm1242-396l25-7-20-13-25 7zm-1327 350l36-10-16-17-36 9zm1307-361l25-7-20-14-25 7zm-1323 345l36-10-16-18-35 10zm-15-17l35-9-16-18-35 10zm-16-17l35-9-15-17-35 9zm-30-34l35-9-15-17-35 9zm-15-17l35-9-15-17-35 9zm-15-18l35-9-15-16-35 9zm-15-18l35-9-15-16-34 9zm1257-341l25-6-18-13-25 7zm-18-14l25-7-18-12-25 6zm-1247 300l34-8-14-16-34 9zm-15-18l34-9-14-15-33 8zm1201-297l25-7-17-12-26 7zm-17-16l25-6-18-12-25 6zm-1178 275l34-8-14-16-33 9zm1118-292l25-6-17-12-25 6zm-1112 253l33-8-14-15-33 8zm1069-256l26-6-17-12-26 7zm-1050 235l33-7-14-15-32 8zm992-255l25-6-17-12-25 6zm-42-5l25-6-16-11-26 6zm-42-5l25-6-16-11-25 6zm-42-6l26-6-16-11-26 5zm-775 164l30-7-13-13-31 7zm17-22l30-7-13-13-31 7zm649-146l26-6-15-11-26 5zm-602 120l30-7-14-12-30 6zm534-119l27-6-16-12-26 6zm-488 93l58-13-13-12-59 13zm420-94l27-6-15-12-26 6zm-318 57l113-26-14-11-113 24zm141-32l109-24-15-12-108 24zm-474 351l34-9-1-3-34 9zm-14-19l33-8 0-3-34 8zm6-37l33-9 0-3-34 8zm5-39l33-8 0-4-33 8zm20-20l32-8 0-4-33 7zm90-106l31-7 0-6-31 7zm17-22l31-7-1-7-30 7zm47-26l30-6 0-7-30 6zm46-27l29-6 0-7-29 6zm30-4l29-6-1-7-29 6zm72-33l29-6 0-8-29 6zm29-5l28-6 0-8-28 6zm28-5l28-7 0-7-28 6zm28-6l28-6 0-8-28 6zm56-13l27-6 0-8-27 6zm27-6l27-6 0-8-27 6zm27-7l28-6-1-8-27 6zm851 621l-23-17 0-3 23 18zm-782-623l-15-12 0-1 15 11zm-41-6l26-6 0-7-27 5zm853 617l-23-17 1-3 22 18zm-717-616l-15-12 0-2 15 11zm-41-6l26-6 0-7-26 6zm824 576l-22-18 0-3 23 17zm-715-569l-16-12 1-3 15 11zm-42-6l26-6 1-7-27 6zm792 539l-22-16 1-5 22 17zm-683-534l-15-11 0-5 15 12zm-41-6l26-5 0-7-26 5zm759 504l-22-17 0-5 23 16zm6-23l-23-16 1-6 22 16zm-615-471l-16-11 0-6 16 12zm-42-6l26-5 0-7-25 6zm83 12l-16-11 1-6 16 11zm-41-5l25-6 1-6-26 6zm83 10l-16-11 0-6 16 11zm-42-5l26-6 0-6-25 6zm595 368l-21-15 1-7 21 15zm-511-358l-17-12 1-6 16 11zm-42-6l25-6 1-5-26 6zm559 339l-22-15 1-8 22 15zm-458-313l-17-12 0-7 17 12zm-43-5l26-7 0-4-25 6zm484 283l-20-15 0-8 21 14zm-399-275l-17-12 0-7 17 11zm-42-6l25-6 0-4-25 6zm426 244l-21-14 1-9 21 14zm-307-206l-17-12 0-8 18 12zm-43-5l26-7 0-3-25 6zm26-10l-18-12 1-8 17 12zm-43-6l25-6 1-3-26 6zm331 178l-20-13 1-9 20 13zm-20-11l-20-14 1-9 20 14zm-172-116l-18-13 1-8 18 12zm-43-6l25-7 0-2-25 7zm25-9l-18-12 1-8 18 12zm-43-6l25-6 1-2-26 6z" fill="#d3e00d" stroke="#d3e00d" stroke-width="2.80" stroke-linejoin="round"/>
<path d="M1786 1514l191-63-23-18-190 62zm-154 25l34-11-22-19-33 11zm413-135l30-10-23-18-29 10zm-536 147l34-11-20-19-35 11zm603-195l29-10-23-17-29 10zm-693 197l35-11-20-20-35 11zm728-233l29-10-23-16-28 9zm-783 227l35-11-20-19-35 11zm823-288l28-9-22-16-28 9zm6-24l27-9-22-16-27 9zm5-25l27-8-21-15-28 8zm6-24l27-9-22-15-27 9zm-1167 309l36-11-18-19-36 11zm1156-370l26-7-21-15-26 8zm-1227 344l36-11-18-19-36 11zm1211-380l26-8-21-14-26 8zm-1282 352l36-10-17-19-35 10zm-69-29l36-11-16-18-36 10zm1315-371l26-8-20-13-26 7zm-1331 355l36-10-16-18-36 9zm1277-418l26-7-20-13-25 7zm-19-12l25-7-19-13-25 7zm-20-13l26-7-19-12-26 6zm-19-13l26-7-19-12-26 6zm-18-13l25-7-19-12-25 6zm-19-13l25-7-19-12-25 6zm-1334 311l34-9-14-16-35 8zm-15-19l35-8-15-16-34 8zm1250-334l26-6-18-12-25 6zm-1258 278l34-8-14-15-34 8zm6-38l34-8-14-15-33 8zm6-39l33-8-14-15-32 8zm1067-253l25-6-17-12-25 6zm-1048 232l33-7-14-15-32 8zm19-21l32-7-13-14-32 7zm19-21l31-7-13-14-32 7zm18-21l31-8-13-13-32 7zm17-22l31-7-13-14-31 7zm766-174l25-6-15-11-26 6zm-42-7l26-6-15-12-26 6zm-658 133l30-7-14-12-30 6zm591-132l26-6-15-11-26 6zm-545 106l30-7-14-12-30 6zm477-106l26-6-15-11-26 6zm-403 75l58-13-14-12-57 12zm308-69l27-6-15-11-27 6zm-590 415l35-8 0-2-35 8zm-14-18l34-8 0-2-34 8zm-8-55l34-8 0-4-34 9zm7-38l33-8-1-4-33 8zm6-39l32-8 0-4-33 8zm19-20l32-8 0-5-33 8zm19-21l32-7-1-5-32 7zm18-21l32-7-1-6-31 8zm18-21l32-7-1-6-31 7zm18-22l31-7 0-6-31 7zm65-47l30-6 0-7-30 6zm46-26l30-6 0-8-30 7zm75-32l29-6-1-7-28 6zm29-4l28-6 0-8-29 6zm319-57l-15-11 0-2 15 11zm-42-5l27-6 0-8-27 6zm857 612l-23-18 1-3 22 18zm-721-613l-15-11 0-3 15 11zm-41-5l26-6 0-8-26 6zm828 570l-23-17 1-4 22 17zm-719-565l-15-11 0-4 15 11zm-41-5l26-6 0-7-26 6zm795 534l-23-16 1-5 22 16zm-687-530l-15-12 0-4 15 11zm-41-6l26-6 0-6-26 5zm82 13l-15-11 0-5 16 11zm-41-5l26-6 0-7-26 6zm726 468l-22-16 1-6 22 15zm5-24l-22-16 1-6 22 15zm5-24l-21-15 0-8 22 16zm6-25l-22-15 1-7 22 15zm-492-363l-17-12 1-7 16 12zm-42-6l25-6 0-5-25 6zm522 310l-21-15 1-8 21 14zm-16-37l-21-14 1-8 21 14zm-36-48l-20-13 1-9 20 13zm-248-167l-18-12 0-9 18 12zm-43-6l25-6 0-3-25 6zm237 111l-20-13 1-9 20 13zm-20-12l-19-13 1-9 19 13zm-19-13l-19-12 0-10 20 13zm-19-13l-19-12 0-9 19 12zm-19-13l-19-12 1-9 19 12zm-19-13l-19-12 1-9 19 12z" fill="#e0db00" stroke="#e0db00" stroke-width="2.80" stroke-linejoin="round"/>
<path d="M1721 1533l66-22-23-19-65 22zm256-85l61-20-23-18-61 20zm-378 99l33-11-21-19-34 11zm477-158l59-19-23-18-59 20zm-601 169l34-11-20-20-35 11zm666-216l29-9-23-17-28 9zm-812 211l35-11-20-20-35 11zm853-271l28-9-23-16-28 9zm-908 264l35-11-19-20-36 11zm-55-8l35-11-19-20-35 11zm-55-9l36-11-19-19-36 11zm-55-9l36-11-18-20-36 11zm-54-11l36-10-18-20-36 11zm1154-348l27-9-22-14-26 8zm-1226 323l36-11-18-19-36 11zm1215-385l27-7-21-15-27 8zm-1286 357l36-10-17-19-36 11zm-70-28l36-11-16-18-36 10zm1320-376l26-8-21-13-25 7zm-35-50l26-7-20-14-26 7zm-1385 362l36-10-16-17-36 10zm1365-374l26-7-20-13-26 7zm-1381 358l36-10-15-18-36 10zm-15-17l36-10-16-17-35 9zm-15-17l35-10-15-17-35 9zm-15-18l35-9-15-17-35 9zm-15-17l35-9-15-17-35 9zm-15-18l35-9-14-17-35 10zm-14-18l35-9-15-16-35 9zm1336-343l25-7-18-12-25 7zm-18-14l25-6-18-13-25 7zm-1326 302l34-8-14-16-34 8zm-14-18l34-9-14-15-34 8zm1261-313l25-6-18-12-25 6zm-1255 275l34-9-14-15-33 9zm1194-291l26-6-18-12-25 6zm-1188 252l33-8-13-15-33 8zm1129-270l25-6-17-12-25 6zm-59-20l25-6-16-11-25 6zm-1045 230l33-8-14-14-32 8zm1003-234l26-6-17-11-25 6zm-984 213l32-7-13-14-32 7zm943-218l25-6-16-11-25 6zm-924 197l31-8-13-13-31 7zm882-202l26-6-16-12-26 6zm-864 180l31-7-13-13-31 7zm823-187l25-6-16-11-25 6zm-774 163l31-7-14-13-30 7zm17-23l30-7-13-12-30 6zm648-145l26-5-15-12-26 6zm-601 119l30-6-14-13-29 7zm533-118l27-6-15-11-27 6zm-458 87l29-6-13-13-29 7zm364-81l53-12-15-11-53 11zm-291 49l223-49-15-12-221 49zm-354 339l34-8 0-3-34 9zm-14-18l34-8 0-3-34 8zm7-37l33-9 0-3-34 8zm6-39l33-8 0-4-33 8zm25-59l32-8 0-5-32 8zm19-21l32-7-1-6-31 8zm19-21l31-7 0-6-32 7zm18-21l31-7-1-7-31 8zm49-24l30-7 0-7-31 7zm17-23l30-6 0-7-31 6zm47-25l29-7 0-7-30 6zm75-31l29-7-1-7-29 6zm72-34l29-6 0-8-29 7zm29-5l28-6 0-8-28 6zm28-5l28-6 0-8-28 6zm28-6l28-6 0-8-28 6zm28-6l27-6 0-8-27 6zm27-6l28-6 0-8-28 6zm28-7l27-6 0-8-27 6zm885 655l-23-18 0-2 23 18zm-858-662l27-6 0-8-27 6zm888 650l-23-18 1-2 22 18zm-751-648l-15-11 0-3 15 12zm-42-5l27-6 0-8-27 6zm860 607l-23-17 1-4 23 18zm-792-610l-15-11 0-3 15 11zm-41-6l26-5 0-8-26 6zm863 603l-23-17 1-4 22 17zm-754-596l-15-11 0-4 15 12zm-42-5l27-6 0-8-27 6zm831 566l-23-17 1-5 23 17zm-722-561l-15-12 0-4 15 11zm-41-6l26-6 0-7-26 6zm803 507l-23-16 1-6 23 16zm-654-497l-16-11 1-5 15 11zm-41-5l25-6 1-6-26 5zm83 12l-16-12 0-5 16 11zm-42-6l26-6 0-6-26 6zm83 11l-16-11 0-6 16 11zm-41-5l25-6 0-6-25 6zm83 10l-17-11 1-7 16 12zm-42-5l25-6 1-6-26 6zm597 364l-22-14 1-8 22 15zm-514-355l-16-11 0-7 17 11zm-41-5l25-6 0-5-25 6zm100 25l-17-12 1-7 17 11zm-42-6l25-6 0-4-25 6zm486 281l-21-15 1-8 21 14zm-384-257l-18-12 1-8 17 12zm-43-6l25-6 0-4-25 6zm390 215l-21-13 1-9 21 13zm-287-193l-18-12 1-8 17 12zm-43-6l25-6 0-3-25 6zm295 150l-20-14 1-9 20 14zm-20-12l-20-13 1-9 20 13zm-135-90l-18-12 1-9 18 13zm-43-5l25-7 0-1-25 6zm25-8l-18-13 1-8 18 12zm-43-6l25-7 0-2-25 7z" fill="#e0ca00" stroke="#e0ca00" stroke-width="2.80" stroke-linejoin="round"/>
<path d="M1842 1513l127-42-23-19-127 42zm-188 38l67-22-22-20-66 22zm385-127l60-20-23-18-60 20zm-508 140l68-22-21-20-68 23zm604-200l30-9-23-18-29 10zm-695 201l35-11-21-20-34 11zm731-237l28-9-22-17-29 9zm-786 232l35-12-21-20-35 12zm791-255l29-9-23-16-28 9zm-882 254l35-12-20-19-35 11zm917-292l27-9-22-16-28 9zm-973 284l36-11-20-20-35 11zm978-308l27-8-22-16-27 9zm-1033 300l36-11-19-20-36 11zm1038-324l27-8-22-16-27 9zm-1093 315l36-12-19-19-36 11zm1098-339l27-9-22-15-27 8zm-1226 303l37-10-18-20-36 11zm1215-363l26-8-21-14-27 7zm-1286 337l36-11-17-19-36 11zm-70-29l36-10-17-19-36 11zm1324-381l26-7-21-14-26 7zm-15-38l26-7-21-13-25 7zm-1395 373l36-10-16-18-36 10zm1374-384l26-7-20-13-26 7zm-1390 368l36-10-15-18-36 10zm-135-156l35-9-14-16-35 9zm-14-18l35-9-14-15-35 8zm1329-335l25-7-18-12-25 7zm-1336 279l34-8-14-15-34 8zm1257-309l25-6-17-12-25 6zm-1251 271l34-8-14-15-33 8zm1191-288l25-6-17-11-25 6zm-1184 249l33-8-14-14-33 7zm1125-267l25-6-16-12-25 6zm-1106 247l33-8-14-14-32 7zm93-107l31-7-14-13-31 7zm763-172l26-6-16-11-25 6zm-746 150l31-7-14-13-30 7zm705-158l26-5-16-12-25 6zm-657 132l30-6-14-13-30 7zm590-130l26-6-15-11-26 5zm-544 105l59-13-13-12-59 13zm476-106l26-6-14-11-27 6zm-401 74l57-13-14-12-57 13zm279-61l54-12-14-11-54 11zm-583 428l35-9 0-2-35 9zm-14-18l35-8-1-3-34 9zm-7-55l34-8 0-4-34 9zm7-38l33-8 0-4-34 8zm6-39l33-7 0-5-33 8zm20-20l32-7 0-5-32 7zm92-105l31-7 0-6-31 7zm18-22l30-7 0-7-30 7zm47-25l30-7 0-7-30 7zm47-27l29-6 0-7-30 6zm29-3l30-7-1-7-29 6zm45-28l29-7 0-7-29 6zm29-5l28-6 0-8-28 6zm291-48l-14-12 0-2 14 12zm-41-6l27-6 0-8-27 6zm892 645l-23-18 0-3 23 18zm-824-647l-14-11 0-2 14 11zm-41-6l27-5 0-8-27 6zm895 640l-23-18 0-2 23 17zm-760-640l-14-11 0-3 14 11zm-41-5l27-6 0-7-27 5zm867 598l-23-18 0-4 23 17zm-758-592l-15-11 0-4 15 11zm-41-6l26-5 0-8-26 6zm833 562l-22-17 0-5 23 17zm6-23l-23-16 1-6 22 17zm-731-534l-16-12 0-4 16 11zm-41-6l25-6 1-7-26 6zm82 13l-16-11 0-5 16 11zm-41-5l25-6 0-7-25 6zm764 494l-22-16 1-6 22 16zm5-23l-22-16 1-7 22 16zm5-24l-22-16 1-7 22 16zm5-25l-22-15 1-7 22 15zm-12-59l-21-14 1-9 21 15zm-477-326l-16-12 0-7 17 11zm-41-6l25-6 0-4-25 5zm100 24l-17-11 1-8 17 11zm-42-5l25-6 1-5-25 6zm428 241l-21-14 1-9 21 14zm-326-219l-17-12 0-8 18 12zm-42-6l25-6 0-3-25 6zm353 187l-21-13 1-9 21 13zm-21-11l-20-13 1-9 20 13zm-211-141l-18-12 1-8 18 12zm-43-5l25-7 0-2-25 6z" fill="#e0b900" stroke="#e0b900" stroke-width="2.80" stroke-linejoin="round"/>
<path d="M1744 1544l98-33-22-19-99 32zm225-76l93-31-23-18-92 30zm-348 90l34-11-22-20-34 11zm478-159l30-10-23-17-30 10zm-603 171l35-12-21-19-35 11zm-147-4l36-12-21-20-35 12zm856-275l28-10-22-16-28 9zm-1132 233l36-11-18-20-36 11zm1159-354l26-8-21-15-27 8zm-1214 343l37-11-18-19-37 10zm1219-368l26-8-21-15-27 8zm-1291 342l37-11-18-19-36 10zm1274-378l26-8-21-14-26 8zm-1345 350l37-11-17-18-37 10zm1329-386l26-8-21-14-26 8zm-1399 357l37-11-17-18-36 10zm1384-395l25-7-20-14-26 8zm-1400 379l36-11-16-18-36 10zm-84-48l36-10-15-18-36 10zm1429-392l25-7-20-13-25 7zm-1444 375l36-10-16-18-36 10zm1424-387l25-7-20-13-25 7zm-1439 370l35-10-15-17-35 9zm1419-382l25-7-19-13-25 7zm-1434 365l35-10-15-17-35 9zm1415-378l25-7-19-12-26 6zm-1430 360l35-9-14-17-36 9zm1410-373l26-6-20-13-25 7zm-1425 356l35-10-14-16-36 9zm1407-369l25-6-19-13-25 7zm-1422 351l36-9-15-17-35 9zm1403-364l25-6-19-13-25 7zm-1417 346l35-9-14-16-35 9zm1398-359l25-7-18-12-25 6zm-1405 304l34-9-14-15-34 8zm1325-332l25-6-18-12-25 6zm-1339 314l34-9-14-16-34 9zm1321-328l25-7-17-11-25 6zm-1314 290l34-9-14-15-34 8zm1254-306l25-6-17-12-25 6zm-1248 267l34-8-14-15-33 8zm1189-285l25-6-18-11-24 6zm-1162 225l32-7-13-14-33 7zm1061-247l25-6-16-12-25 6zm-1042 227l32-8-13-14-32 8zm1000-232l26-6-17-11-25 6zm-981 211l31-8-13-13-32 7zm940-216l25-6-16-11-25 6zm-922 194l32-7-14-13-31 7zm880-200l26-6-16-11-25 6zm-862 179l31-8-13-13-31 7zm821-186l26-5-16-12-26 6zm-755 138l31-6-14-13-30 7zm647-143l26-6-16-11-25 6zm-600 117l30-6-13-13-30 7zm532-117l27-6-15-11-26 6zm-457 86l29-6-13-12-29 6zm363-79l27-6-15-11-26 6zm-261 41l166-36-14-11-166 35zm-404 366l34-8 0-3-34 9zm-14-18l34-9 0-2-34 8zm7-38l34-8 0-3-34 8zm7-38l33-8 0-4-33 8zm26-59l33-7-1-5-32 7zm20-20l32-8-1-5-32 7zm18-21l32-7 0-6-32 7zm19-21l31-7 0-6-31 7zm18-22l31-7 0-6-31 7zm66-46l30-7 0-7-30 7zm47-26l30-7-1-7-29 7zm75-31l29-6 0-8-29 6zm101-38l28-6 0-8-28 6zm28-6l28-6 0-8-28 6zm28-5l28-6 0-8-28 6zm28-6l27-6 0-8-27 6zm27-7l28-6 0-7-28 5zm28-6l27-6 0-8-27 6zm922 682l-23-18 1-2 23 19zm31-12l-23-18 0-2 23 18zm-790-675l-15-11 0-2 15 11zm-41-5l26-6 0-8-26 6zm898 634l-23-17 0-4 24 18zm-763-636l-15-11 0-3 15 11zm-41-5l26-6 0-7-26 6zm108 5l-16-11 1-4 15 11zm-41-5l25-6 1-7-26 6zm841 533l-22-16 0-6 23 17zm-692-522l-16-12 0-5 16 11zm-42-6l26-6 0-6-25 5zm83 12l-16-11 0-6 16 12zm-41-5l25-6 0-6-25 5zm82 11l-16-11 0-6 16 11zm-41-5l25-6 0-6-25 6zm83 10l-17-11 1-6 16 11zm-42-5l25-6 1-6-26 6zm635 391l-21-15 0-8 22 15zm-552-381l-16-12 0-6 16 11zm-41-6l25-6 0-5-25 6zm598 362l-21-15 1-8 21 15zm-17-36l-21-14 1-8 21 14zm-439-298l-18-11 1-8 17 12zm-42-5l24-6 1-4-25 5zm465 267l-21-14 1-8 21 13zm-364-244l-17-12 0-8 18 12zm-42-6l25-6 0-4-25 6zm390 213l-20-14 1-9 20 14zm-270-177l-18-12 1-8 18 11zm-43-6l25-6 0-3-25 7zm25-9l-17-11 0-9 18 12zm-42-5l25-6 0-3-25 6zm275 136l-20-13 1-9 20 13zm-20-12l-20-13 1-9 20 13zm-20-12l-19-13 1-9 19 13zm-19-13l-19-12 0-9 20 12zm-19-12l-20-13 1-9 19 13zm-19-13l-19-13 0-9 19 13zm-19-13l-19-13 1-9 19 13zm-19-14l-18-12 0-9 19 12z" fill="#e0a700" stroke="#e0a700" stroke-width="2.80" stroke-linejoin="round"/>
<path d="M1710 1551l34-11-22-19-34 11zm352-118l31-10-23-18-31 10zm-475 133l34-11-22-20-34 11zm543-180l29-10-23-17-30 9zm35-36l29-9-23-17-29 9zm-760 222l35-12-20-20-35 11zm795-258l28-10-22-16-29 9zm-886 257l35-11-20-20-35 11zm-56-7l36-11-20-20-36 11zm981-312l28-9-23-16-27 9zm-1037 304l36-11-19-20-36 11zm1042-328l28-9-23-15-27 8zm-1097 319l36-11-19-20-36 11zm1102-343l27-9-22-15-27 8zm-1158 334l37-11-19-20-36 11zm1163-359l27-8-22-15-27 8zm-1218 348l37-11-18-19-37 11zm-72-25l36-11-17-20-37 11zm1278-383l26-8-21-14-26 7zm-1350 355l37-10-17-19-37 10zm1334-391l26-8-21-14-26 8zm-1405 363l37-11-16-19-37 11zm1389-400l25-7-20-14-26 7zm-1474 353l37-10-16-18-37 10zm1438-402l25-7-20-13-25 7zm-1454 385l37-10-16-18-36 10zm1434-396l25-7-20-14-25 7zm-1567 240l35-9-14-16-35 9zm1394-355l25-7-19-12-24 7zm-1409 337l35-9-14-16-34 9zm-6-56l34-8-14-16-34 9zm1318-324l25-6-18-12-25 6zm-1311 286l34-8-14-15-33 8zm1251-303l25-6-17-11-25 6zm-1244 264l33-8-13-14-33 7zm1185-282l25-5-17-12-25 6zm-1165 262l33-8-14-14-32 7zm1123-265l25-5-17-12-25 6zm-1117 225l32-7-13-14-32 7zm19-21l32-7-13-14-32 7zm998-229l26-6-17-11-25 6zm-979 208l32-7-13-14-32 7zm938-213l25-6-16-11-25 5zm-870 168l31-7-13-13-31 6zm762-171l25-6-15-11-26 6zm-744 148l30-7-13-12-31 6zm703-156l26-6-16-11-25 6zm-656 131l30-7-13-12-30 6zm589-130l26-6-15-11-26 6zm-542 104l58-13-13-12-59 13zm448-98l53-11-15-11-53 11zm-345 61l57-12-14-12-57 12zm223-48l54-12-14-11-54 11zm-577 441l35-9-1-2-35 9zm-14-18l34-9 0-2-35 9zm-7-55l34-9 0-3-34 8zm8-38l33-8 0-4-34 8zm7-39l33-7-1-5-33 8zm20-20l32-7 0-5-33 8zm6-39l32-7 0-6-33 8zm19-21l32-7 0-6-32 8zm19-21l32-7-1-6-31 8zm68-45l31-6-1-7-30 7zm17-22l31-6-1-7-30 7zm48-25l30-6-1-8-29 7zm46-26l30-7-1-7-29 6zm30-4l29-6 0-8-30 6zm73-33l29-6-1-7-28 6zm29-4l28-6 0-8-29 6zm194-42l27-6 0-8-27 6zm68-2l-14-11 0-2 14 12zm-41-5l27-6 0-8-27 6zm930 672l-23-18 0-2 23 18zm-795-671l-14-11 0-3 14 11zm-41-5l27-6 0-8-27 6zm902 629l-23-17 0-4 24 18zm-834-632l-15-12 0-3 15 12zm-41-6l26-6 0-7-26 5zm910 603l-23-17 1-5 23 17zm-802-597l-15-11 0-4 15 12zm-41-5l26-6 0-7-26 5zm877 565l-22-16 0-6 23 17zm-769-561l-16-11 0-4 16 11zm-41-5l25-6 0-7-25 6zm81 13l-15-11 0-5 16 11zm-41-5l26-6 0-7-25 6zm809 497l-23-16 1-6 23 16zm5-24l-23-15 1-7 22 16zm-665-465l-16-11 1-6 15 11zm-41-6l25-5 1-7-26 6zm710 447l-22-15 1-7 22 15zm-627-436l-17-11 1-6 16 11zm-42-5l25-6 1-6-26 6zm674 417l-22-15 1-8 22 15zm-533-386l-17-12 1-7 16 11zm-42-6l25-6 0-5-25 6zm562 332l-21-14 1-9 21 15zm-478-323l-17-12 0-7 17 11zm-42-6l25-6 0-4-25 5zm504 293l-21-14 1-8 21 14zm-403-270l-17-11 0-8 17 12zm-42-5l25-6 0-4-25 6zm428 239l-20-14 1-9 21 14zm-326-217l-18-12 1-8 17 11zm-43-6l25-6 0-3-24 6zm333 174l-20-13 1-10 20 14zm-20-11l-20-14 1-9 20 13zm-173-115l-19-12 1-8 18 12zm-43-5l24-7 1-2-25 7z" fill="#e09600" stroke="#e09600" stroke-width="2.80" stroke-linejoin="round"/>
<path d="M1800 1544l225-76-24-18-224 75zm-157 26l68-22-22-20-68 22zm450-151l60-20-23-18-60 20zm-541 155l35-12-22-20-34 12zm608-201l29-10-23-18-30 10zm-699 204l35-12-21-20-35 12zm734-241l28-9-23-17-28 9zm-825 242l35-12-20-20-36 12zm859-279l28-9-23-17-28 9zm5-23l28-9-23-16-28 8zm-1068 285l36-11-19-21-36 12zm1093-407l27-8-22-15-27 8zm-1278 362l37-11-18-19-37 11zm1283-387l27-8-22-15-26 8zm-1355 361l37-11-17-20-37 11zm1338-397l26-8-21-14-26 8zm-1409 368l37-10-17-19-37 10zm1393-405l26-7-21-14-26 8zm-1463 376l37-11-17-18-36 10zm-16-17l37-10-16-18-37 10zm1443-407l25-7-20-13-26 7zm-1542 342l36-10-15-17-36 9zm-15-17l36-10-15-17-36 9zm-15-17l36-10-15-17-36 9zm1478-395l25-6-20-13-25 7zm-1493 377l36-9-15-17-35 9zm1473-389l25-7-19-12-25 6zm-1488 372l36-10-14-17-36 10zm-14-18l36-9-15-17-35 9zm1384-406l25-7-19-11-24 6zm-1405 333l35-9-14-16-34 9zm1387-348l25-6-19-11-24 6zm-1401 329l35-8-14-16-34 9zm8-38l34-8-13-15-34 8zm1315-320l24-6-17-12-25 6zm-1308 282l34-8-13-15-34 8zm1248-299l25-6-17-11-25 5zm-1241 260l33-8-13-14-33 7zm20-20l33-8-13-14-33 7zm1120-262l25-6-16-11-25 6zm-41-4l25-6-16-11-25 6zm-1002 182l31-7-13-14-31 7zm878-199l25-5-16-11-25 5zm-860 177l31-7-13-13-31 7zm819-184l25-5-15-11-26 5zm-801 162l30-7-13-13-30 7zm48-25l30-7-13-13-30 7zm645-142l26-6-15-11-26 5zm-598 116l29-7-13-12-30 6zm531-116l26-6-15-11-26 5zm-456 85l57-12-13-12-58 12zm335-72l53-12-14-11-53 11zm-659 420l34-9 0-2-35 8zm-14-18l34-9 0-3-34 9zm8-38l34-8-1-4-34 9zm7-38l34-8-1-4-33 8zm7-39l33-7 0-5-33 8zm20-20l33-7-1-5-32 7zm77-83l31-7-1-6-31 7zm18-21l31-7-1-7-31 7zm18-22l30-7 0-7-31 7zm48-25l30-7-1-7-30 7zm46-26l30-6 0-8-30 7zm75-31l29-6 0-8-29 7zm29-4l29-6 0-8-29 6zm347-60l-15-11 0-2 15 11zm-41-6l26-5 0-8-26 5zm933 668l-23-18 0-3 24 18zm-866-670l-14-11 0-2 14 11zm-41-5l27-6 0-8-27 6zm938 662l-24-18 1-3 23 17zm35-35l-23-18 0-4 23 18zm-838-628l-15-11 0-4 15 11zm-41-6l26-5 0-8-26 6zm913 598l-23-17 1-5 23 17zm-805-592l-15-11 0-4 15 11zm-41-6l26-5 0-7-26 5zm880 561l-23-17 1-5 23 16zm5-23l-23-16 1-7 23 17zm-737-526l-15-11 0-5 15 11zm-41-6l26-5 0-7-26 6zm82 13l-16-11 1-6 15 11zm-41-6l25-5 1-7-26 6zm165 22l-16-11 0-7 16 11zm-41-5l25-6 0-6-25 6zm637 387l-22-15 1-8 22 15zm-555-378l-16-11 0-7 17 11zm-41-5l25-6 0-5-25 5zm601 358l-22-15 1-8 22 14zm-18-36l-21-14 1-9 22 15zm-441-295l-17-11 0-8 17 11zm-42-6l25-5 0-5-25 6zm467 265l-21-14 1-9 21 14zm-366-242l-17-12 0-8 18 12zm-42-6l25-6 0-3-25 6zm371 200l-20-13 1-10 20 14zm-232-151l-19-11 1-9 18 12zm-43-5l24-6 1-3-25 6zm25-9l-19-11 1-9 18 12zm-43-5l24-6 1-3-25 6zm199 84l-20-13 1-9 20 12zm-20-13l-19-12 1-10 19 13z" fill="#e08500" stroke="#e08500" stroke-width="2.80" stroke-linejoin="round"/>
<path d="M1733 1563l67-23-22-20-67 23zm292-97l62-21-24-18-61 20zm-416 111l34-11-22-20-34 11zm545-183l30-9-24-18-29 10zm-636 187l35-11-22-20-35 11zm671-222l29-10-23-17-29 9zm-763 225l35-12-20-20-36 11zm798-262l29-9-24-17-28 9zm-890 262l36-11-21-21-35 12zm-56-7l36-11-20-21-36 12zm985-316l28-9-23-16-28 8zm-1041 308l36-11-20-20-36 11zm1046-332l27-9-23-16-27 9zm4-24l28-9-23-15-27 8zm-1162 339l37-12-19-20-37 12zm1167-364l27-8-22-16-27 9zm-1223 354l37-12-18-19-37 11zm1228-379l27-8-22-15-27 8zm-1283 368l37-11-18-20-37 11zm-73-26l37-11-17-20-37 11zm1343-402l27-8-22-14-26 7zm-1414 374l37-11-17-19-37 11zm1398-410l26-8-22-14-25 8zm-1469 381l37-11-16-19-37 11zm1431-429l26-7-21-14-25 7zm-1516 382l37-11-16-18-37 10zm-16-17l37-10-16-18-36 10zm1497-415l25-7-20-13-25 7zm-1512 398l36-10-15-18-36 10zm1492-409l25-7-20-13-25 7zm-20-12l25-7-20-13-25 7zm-20-12l25-7-19-13-25 7zm-58-38l25-7-19-12-25 6zm-18-13l24-7-18-12-25 6zm-1479 362l35-9-14-17-35 9zm1460-376l25-6-19-12-25 6zm-1474 358l35-9-14-16-35 8zm-15-18l36-9-14-16-35 8zm1391-381l25-6-18-12-25 6zm-1396 325l34-9-13-15-35 8zm7-38l34-9-13-15-34 8zm1311-317l25-6-17-12-25 6zm-1303 278l33-8-13-15-33 8zm1202-299l25-5-17-12-24 6zm-1175 239l32-7-13-14-32 7zm19-20l33-8-13-13-33 7zm1057-243l25-6-16-11-25 6zm-1037 222l32-8-13-13-32 7zm995-227l26-6-16-11-25 6zm-976 206l31-8-13-13-31 7zm935-212l26-6-16-11-25 6zm-917 190l31-7-13-13-31 7zm810-193l25-6-15-11-26 6zm-743 147l30-7-13-13-30 7zm48-26l29-7-13-12-30 6zm587-129l26-5-15-11-26 5zm-512 98l30-6-14-12-29 6zm418-90l27-6-15-11-26 6zm-344 60l250-54-14-11-249 53zm-376 411l35-8 0-2-36 9zm-14-18l35-8 0-2-35 8zm-6-55l35-8-1-3-34 8zm8-38l34-8 0-3-34 8zm8-38l33-8 0-4-34 8zm27-59l32-7 0-5-33 7zm19-20l33-7-1-6-32 7zm20-21l32-7-1-6-32 7zm19-21l31-7 0-6-32 7zm18-21l31-7 0-7-31 7zm67-46l30-7 0-7-30 7zm47-26l30-6 0-7-30 6zm76-30l29-6 0-8-29 7zm73-32l29-6 0-8-29 6zm29-5l28-6 0-8-28 6zm28-5l28-6 0-8-28 6zm28-5l28-6 0-8-28 6zm28-6l28-6 0-8-28 6zm28-6l27-6 0-8-27 6zm27-6l28-6-1-8-27 6zm28-7l27-5 0-8-28 5zm961 711l-24-18 1-2 23 18zm-934-717l27-6 0-8-27 6zm965 705l-24-18 0-2 24 18zm-803-711l-15-11 0-3 15 11zm-41-5l26-6 0-8-26 6zm941 657l-24-18 1-4 23 18zm34-36l-23-17 1-5 23 18zm-841-623l-15-11 0-4 15 11zm-41-6l26-5 0-8-26 6zm917 593l-24-17 1-5 23 16zm-769-580l-15-11 0-4 15 11zm-41-5l26-6 0-7-25 6zm848 524l-23-16 1-7 22 16zm4-24l-23-16 1-6 23 15zm-703-492l-16-11 0-5 16 11zm-41-5l25-6 0-6-25 6zm749 473l-23-15 1-8 23 16zm-667-462l-16-11 0-6 16 11zm-41-5l25-6 0-6-25 6zm712 443l-22-16 1-7 22 15zm-630-433l-16-11 0-6 16 11zm-41-5l25-6 0-6-25 6zm676 413l-22-15 1-8 22 15zm-536-383l-17-12 1-7 17 11zm-41-6l24-6 1-5-25 6zm564 329l-22-14 1-9 22 14zm-17-36l-22-14 1-9 22 14zm-405-267l-17-12 0-8 18 12zm-42-6l25-6 0-4-25 6zm409 226l-21-14 1-9 21 14zm-289-190l-18-12 0-8 18 11zm-43-6l25-6 0-3-25 6zm296 146l-20-13 1-9 20 13zm-20-11l-20-13 1-9 20 12zm-20-12l-20-13 1-9 20 13zm-20-12l-19-13 1-9 19 13zm-58-38l-19-12 1-9 19 12zm-19-13l-18-12 0-9 19 12zm-18-13l-19-12 1-9 19 12z" fill="#e07400" stroke="#e07400" stroke-width="2.80" stroke-linejoin="round"/>
<path d="M1889 1532l97-33-23-19-97 33zm-189 39l34-12-23-20-34 12zm387-130l61-21-24-18-60 20zm-513 144l35-11-22-21-34 12zm610-204l29-10-23-17-29 9zm-701 208l35-12-21-20-35 11zm736-244l29-10-23-17-29 9zm-828 245l35-11-21-21-35 12zm862-283l29-9-24-17-28 10zm5-23l28-9-23-16-28 9zm-1017 299l37-12-20-20-36 11zm-56-9l37-11-20-20-36 11zm-56-8l37-12-20-20-36 11zm-56-10l37-11-19-21-37 12zm1214-418l26-8-22-15-26 8zm-1343 382l37-11-18-20-37 11zm-72-28l37-11-17-19-38 11zm1403-415l25-8-21-14-26 7zm-1475 387l38-11-17-19-37 10zm1437-434l25-8-21-13-25 7zm-1507 404l37-11-16-19-37 11zm-16-17l37-10-16-19-37 11zm1486-436l26-7-21-13-25 6zm-1585 370l37-10-15-17-37 9zm-15-17l37-10-15-17-36 9zm-14-17l36-10-15-17-36 9zm-15-18l36-9-14-18-36 10zm-14-18l36-9-15-17-36 9zm1449-425l25-7-18-12-25 7zm-18-14l25-6-18-12-25 6zm-1465 348l35-8-14-16-35 8zm1386-377l25-6-18-11-24 6zm-1392 321l34-8-13-16-34 9zm8-38l34-8-14-15-33 8zm1265-316l25-6-17-11-25 6zm-1258 277l34-8-14-14-33 7zm21-20l33-8-13-14-33 7zm1179-276l25-6-17-11-25 6zm-42-4l25-5-16-11-25 5zm-1111 219l32-7-13-14-32 8zm19-21l32-7-13-13-32 7zm927-219l26-6-16-11-25 6zm-858 174l31-7-13-13-31 7zm817-181l26-6-16-11-25 6zm-799 159l31-7-13-12-31 6zm733-157l25-6-15-11-25 6zm-685 132l30-7-13-12-30 6zm47-25l59-13-13-12-59 13zm504-108l26-5-15-11-26 5zm-429 76l58-12-14-12-57 13zm308-64l53-11-14-11-53 11zm-654 432l35-8 0-3-35 9zm-5-55l34-9 0-3-35 8zm8-38l33-8 0-4-34 8zm7-39l33-7 0-5-33 8zm21-20l33-7-1-5-33 8zm26-59l32-8 0-5-32 7zm19-21l32-7 0-6-32 7zm69-45l31-7 0-6-31 7zm18-22l31-6-1-7-30 6zm48-25l30-6 0-7-30 6zm47-25l30-7-1-7-29 6zm30-4l29-6 0-8-30 6zm45-27l29-6-1-8-29 6zm29-5l28-6 0-8-29 7zm319-52l-15-11 0-2 15 11zm-41-5l26-6 0-8-26 6zm968 700l-23-19 0-2 24 18zm-901-702l-14-11 0-2 14 11zm-41-6l27-5 0-8-27 5zm973 695l-24-18 1-3 23 18zm-838-694l-15-11 0-3 15 11zm-41-6l26-5 0-8-26 6zm944 652l-23-17 0-4 24 17zm35-36l-23-17 0-5 23 17zm-805-610l-15-11 0-4 16 11zm-40-5l25-6 0-7-25 6zm879 578l-24-17 1-5 23 16zm4-23l-23-16 1-6 23 16zm-776-552l-16-11 1-5 15 11zm-41-5l25-6 1-7-26 6zm82 12l-16-11 0-5 16 11zm-41-5l25-6 0-7-25 6zm205 27l-16-11 0-7 17 11zm-41-6l25-5 0-6-25 6zm639 384l-22-15 1-8 22 15zm-556-375l-17-11 0-7 17 11zm-42-5l25-6 0-5-24 6zm100 24l-17-11 0-8 17 12zm-42-5l25-6 0-5-24 6zm527 300l-21-14 1-9 22 14zm-38-47l-21-13 1-9 21 13zm-328-215l-18-11 1-9 18 12zm-42-5l24-6 1-3-25 6zm334 172l-21-13 1-10 21 13zm-195-125l-18-12 1-9 18 12zm-43-5l25-7 0-1-25 6zm25-8l-18-12 0-9 19 12zm-43-6l25-6 0-2-25 6z" fill="#e06200" stroke="#e06200" stroke-width="2.80" stroke-linejoin="round"/>
<path d="M1790 1564l99-34-23-19-99 33zm196-66l94-32-23-19-94 32zm-355 92l69-23-22-21-69 23zm517-174l30-10-23-18-30 10zm-608 177l35-12-22-20-35 11zm674-226l29-10-23-17-30 10zm-767 229l36-12-21-20-36 11zm801-266l29-9-23-17-29 9zm-893 267l36-12-21-21-36 12zm-57-7l36-12-20-20-36 11zm989-321l28-9-23-16-28 9zm4-24l28-8-23-16-27 8zm5-24l27-8-22-16-28 9zm5-24l27-9-23-15-27 8zm4-25l27-8-22-15-27 8zm-1288 374l37-12-18-20-37 12zm1293-399l26-8-22-15-26 8zm-1349 388l38-12-18-20-37 12zm1331-423l26-8-22-14-26 8zm-1403 396l37-11-17-20-38 11zm-72-29l37-10-17-20-37 11zm1441-439l26-7-21-14-26 7zm-1512 410l38-11-17-19-37 11zm1496-447l25-8-20-13-26 7zm-21-11l25-7-20-14-25 7zm-1560 410l37-10-16-19-37 11zm-16-17l38-10-16-18-37 10zm-15-17l37-10-15-18-37 10zm1536-438l25-7-20-13-25 7zm-20-12l25-7-20-13-24 7zm-19-13l24-6-19-13-25 7zm-20-12l25-7-19-12-25 6zm-19-13l25-6-19-13-25 7zm-1546 384l36-10-14-16-36 9zm1527-397l25-6-19-12-25 6zm-1541 379l36-10-14-16-36 9zm-14-18l36-10-14-16-36 9zm1456-400l25-6-18-12-25 6zm-1461 344l35-9-14-15-35 8zm-14-19l35-8-14-16-34 9zm1397-354l25-6-18-12-25 6zm-1389 316l35-8-14-15-34 8zm1329-333l25-6-17-11-25 6zm-1321 295l34-8-13-15-34 8zm1263-313l24-6-17-11-24 6zm-1255 274l33-8-13-14-33 7zm20-20l33-8-13-14-33 7zm20-21l33-7-13-14-33 7zm1115-256l25-6-16-11-25 6zm-41-5l25-6-16-11-25 6zm-41-5l25-6-16-11-25 6zm-975 203l32-7-13-13-32 7zm934-209l25-6-16-11-25 6zm-915 187l31-7-13-12-31 6zm808-191l25-6-15-11-26 6zm-741 145l30-7-13-12-30 6zm674-144l26-5-15-11-26 5zm-627 118l30-6-13-13-30 7zm560-118l26-6-15-11-26 6zm-484 88l29-7-13-12-29 7zm390-83l53-12-14-11-53 12zm-288 46l194-41-14-11-194 41zm-428 438l36-9 0-2-36 9zm-5-55l35-8 0-3-35 8zm-13-18l34-9 0-3-35 9zm8-38l34-8 0-4-34 8zm8-38l34-8 0-4-34 8zm8-39l33-7 0-5-34 8zm20-20l33-7 0-5-33 7zm20-20l33-7 0-6-33 8zm58-62l32-7-1-7-31 7zm19-22l31-6 0-7-32 7zm67-46l30-6 0-7-31 6zm47-25l30-7-1-7-29 6zm76-30l29-7-1-7-29 6zm101-37l28-6 0-8-28 5zm29-6l28-5-1-8-28 5zm28-5l27-6 0-8-28 6zm27-5l28-6 0-8-28 6zm28-6l27-6 0-8-27 6zm27-6l28-6 0-8-28 6zm28-7l27-5 0-9-28 6zm999 739l-23-19 0-2 23 19zm-837-743l-14-11 0-2 14 11zm-41-5l27-6 0-8-27 6zm976 689l-23-18 0-3 24 18zm-909-692l-14-11 0-2 14 11zm-40-5l26-6 0-8-26 6zm107 7l-15-11 0-3 15 11zm-41-5l26-6 0-7-26 5zm948 646l-23-17 0-4 24 17zm-840-640l-15-11 0-4 15 11zm-41-6l26-5 0-8-26 6zm915 610l-23-17 0-5 24 17zm-808-606l-15-11 0-4 15 11zm-41-5l26-6 0-7-25 6zm887 550l-23-16 0-6 24 16zm4-23l-23-16 1-7 23 16zm-743-518l-16-11 1-5 15 10zm-41-5l25-6 1-6-26 5zm788 499l-22-16 0-7 23 16zm-706-488l-16-11 0-6 16 11zm-41-5l25-6 0-6-25 5zm752 468l-23-15 1-7 23 15zm-670-458l-16-11 0-6 16 11zm-41-5l25-6 0-5-25 5zm715 439l-22-15 1-8 22 15zm-633-429l-16-11 0-7 16 11zm-41-5l25-6 0-6-25 6zm678 409l-22-15 1-8 22 15zm-18-35l-22-14 1-8 22 14zm-520-346l-17-11 1-7 17 11zm-41-5l24-6 1-4-25 5zm100 23l-17-11 0-8 18 11zm-42-5l25-6 0-4-25 6zm469 262l-21-14 1-9 21 14zm-367-240l-18-12 1-8 17 11zm-43-6l25-6 0-3-24 6zm393 208l-20-13 1-9 20 13zm-21-10l-20-14 1-9 20 13zm-251-163l-18-12 0-9 19 12zm-43-6l25-6 0-3-25 6zm239 107l-20-13 1-9 20 13zm-20-12l-20-13 1-9 20 13zm-20-12l-19-13 1-9 19 12zm-19-13l-19-12 1-9 19 12zm-19-12l-19-13 1-9 19 12zm-19-13l-19-12 1-10 19 13z" fill="#e05100" stroke="#e05100" stroke-width="2.80" stroke-linejoin="round"/>
<path d="M1723 1582l67-23-22-20-68 23zm358-120l61-21-24-18-61 20zm-484 134l35-11-23-21-34 12zm582-193l29-10-23-18-30 10zm-675 197l36-11-22-21-35 12zm740-247l29-10-24-17-29 10zm-832 250l35-12-21-21-35 12zm870-311l29-9-24-16-28 9zm-1021 304l37-12-20-21-37 12zm-56-8l36-12-19-20-37 11zm-57-9l37-11-19-21-37 12zm-56-9l37-11-19-21-37 12zm-57-10l38-11-19-21-37 12zm-56-11l38-11-18-20-38 11zm1335-427l27-8-22-15-27 8zm-1408 401l37-11-17-20-38 11zm1391-437l26-7-22-14-26 7zm-1463 409l37-11-17-19-37 10zm1446-445l25-7-21-14-26 7zm-1518 416l38-11-17-19-37 11zm1501-453l26-7-21-13-26 7zm-1587 406l38-11-16-18-37 10zm1530-466l25-7-20-13-25 7zm-20-12l25-6-20-13-25 7zm-1638 377l37-10-15-18-36 10zm-14-18l36-10-14-17-37 10zm1517-446l24-6-19-12-24 6zm-19-14l25-6-19-12-24 6zm-1532 369l36-9-14-16-36 9zm-14-18l36-9-14-16-35 9zm1466-378l25-6-18-11-25 6zm-17-14l24-6-18-12-24 6zm-1454 336l35-9-13-15-35 8zm1394-351l24-6-17-12-25 6zm-1385 312l34-8-13-15-34 8zm1325-329l25-6-17-11-25 5zm-1317 291l34-8-13-15-34 8zm1259-310l25-5-17-12-25 6zm-41-3l24-6-16-11-25 6zm-1190 253l33-7-13-14-33 7zm20-20l33-8-13-13-33 7zm20-21l32-7-13-14-32 7zm19-21l32-7-13-14-32 7zm19-22l31-7-12-13-32 7zm906-196l25-6-15-10-25 5zm-856 173l31-7-13-13-31 7zm815-180l26-6-16-11-25 6zm-797 157l30-6-12-13-31 7zm731-155l25-6-15-11-25 6zm-683 130l30-6-13-13-30 7zm616-130l26-6-15-10-26 5zm-540 100l30-6-13-12-30 6zm473-101l26-6-14-11-26 6zm-399 70l58-12-14-11-57 12zm252-53l80-17-14-11-80 17zm-636 464l36-9 0-2-36 9zm-13-18l35-9 0-2-35 8zm-5-56l35-8 0-3-35 8zm9-38l34-8 0-3-35 8zm8-38l34-8-1-4-33 8zm28-59l33-7 0-6-33 8zm20-20l33-7-1-6-32 7zm20-21l32-7 0-6-32 7zm19-21l32-7 0-6-32 7zm19-21l32-7-1-6-31 7zm50-23l31-7 0-7-31 7zm18-22l31-7-1-7-30 7zm48-25l30-7 0-7-30 6zm76-30l30-6-1-7-29 6zm74-31l29-6-1-8-28 6zm29-5l28-6 0-8-28 6zm222-45l27-6 0-8-27 5zm1003 733l-23-19 0-2 24 19zm-936-735l-14-11 0-2 14 11zm-40-5l26-6 0-8-26 6zm1007 727l-24-18 1-3 23 19zm-940-729l-14-11 0-2 14 11zm-41-6l27-5 0-8-27 5zm1047 688l-23-18 0-4 24 18zm-913-687l-14-11 0-3 14 11zm-40-5l26-6 0-8-26 6zm107 6l-15-10 0-4 15 11zm-41-5l26-5 0-8-25 5zm952 641l-24-17 1-5 23 17zm-845-636l-15-11 1-4 15 11zm-40-5l25-6 1-7-26 5zm923 581l-24-16 1-6 23 16zm-816-578l-16-11 0-4 16 10zm-41-5l25-6 0-7-25 6zm81 12l-15-10 0-6 15 11zm-40-5l25-5 0-7-25 5zm245 32l-16-11 0-7 17 11zm-41-5l25-6 0-5-25 5zm642 380l-22-15 1-8 22 14zm-559-371l-17-12 0-7 17 11zm-42-6l25-6 0-4-24 5zm583 342l-22-14 1-9 22 14zm-483-318l-17-11 1-8 17 11zm-42-6l25-5 0-5-24 6zm507 288l-21-14 1-9 21 14zm-406-265l-17-12 0-8 18 11zm-42-6l25-6 0-3-24 5zm432 234l-21-13 1-10 21 14zm-312-199l-18-11 1-9 18 12zm-43-5l25-6 0-3-24 6zm25-9l-18-12 1-8 18 11zm-42-6l24-6 1-3-25 6zm314 159l-20-13 1-9 20 13zm-20-11l-20-13 1-9 20 12zm-136-87l-19-12 1-10 19 12zm-18-14l-19-12 1-9 18 12zm-43-6l24-6 0-1-24 6z" fill="#e04000" stroke="#e04000" stroke-width="2.80" stroke-linejoin="round"/>
<path d="M1847 1564l227-78-24-19-226 77zm-158 26l34-11-23-21-34 12zm454-154l60-20-24-18-60 20zm-581 168l35-11-22-21-35 12zm647-215l29-10-23-17-30 9zm-740 219l36-12-22-21-35 12zm-93 1l36-12-21-20-36 11zm902-293l28-10-23-17-29 10zm-960 287l37-12-21-21-36 12zm993-326l28-9-23-16-28 9zm5-23l27-9-23-16-28 9zm-1149 339l38-12-20-20-37 11zm1153-363l27-9-23-16-27 9zm-1209 354l37-12-19-20-37 11zm1213-378l27-9-22-15-28 8zm5-25l26-8-22-16-27 9zm4-25l27-8-23-15-26 8zm-1409 382l37-11-18-20-37 11zm1395-442l26-8-22-14-26 8zm-1468 415l37-12-17-19-38 11zm1451-451l25-7-21-14-26 7zm-1523 422l37-11-16-19-38 10zm1506-458l25-8-21-13-25 7zm-1577 428l38-11-17-19-37 11zm-16-17l38-10-16-19-38 10zm1555-460l26-7-21-13-25 7zm-20-11l25-7-21-13-25 7zm-1620 423l38-11-16-18-37 10zm-15-17l38-11-16-18-37 10zm-15-18l38-10-15-17-37 9zm-14-17l37-10-15-17-37 9zm-44-53l37-9-14-17-37 9zm-14-18l37-9-15-17-36 9zm-14-18l36-9-14-17-36 9zm-14-18l36-9-13-16-36 8zm1537-401l24-6-18-12-25 6zm-18-14l24-6-18-12-25 6zm-1523 359l35-8-13-16-36 9zm-14-18l35-9-13-15-35 8zm1458-370l25-6-18-11-24 6zm-1449 332l35-8-14-16-34 9zm1390-348l24-5-17-12-25 6zm-1382 310l35-8-13-15-34 8zm1323-327l24-6-17-11-24 6zm-1314 288l33-8-13-15-33 8zm20-20l34-8-13-14-33 7zm1194-291l25-5-16-11-25 5zm-41-4l25-6-16-10-25 5zm-41-5l25-5-16-11-25 5zm-41-6l25-5-15-11-25 6zm-41-6l26-5-16-11-25 5zm-913 186l32-7-13-13-31 7zm807-190l25-6-15-10-25 5zm-740 143l31-6-13-13-30 7zm673-142l26-6-15-10-26 5zm-625 118l59-13-13-12-59 13zm558-119l26-5-14-11-26 5zm-483 88l58-12-13-12-58 12zm390-82l27-6-15-11-26 6zm-232 33l83-17-13-11-83 17zm-506 469l36-8-1-2-36 9zm-5-54l36-9-1-3-35 9zm-13-19l35-8 0-3-35 8zm9-37l34-9 0-3-34 8zm9-38l34-8-1-4-34 7zm8-39l33-8 0-4-34 7zm21-20l33-7-1-5-33 7zm117-124l31-7-1-7-31 7zm67-46l30-7-1-7-30 6zm47-26l30-6-1-8-30 7zm30-3l29-6 0-8-30 6zm45-27l29-6 0-8-29 6zm29-4l29-6 0-8-29 6zm129-43l28-6-1-8-27 6zm28-6l27-5 0-9-28 6zm27-6l28-5-1-8-27 5zm1161 708l-24-18 0-3 24 19zm-944-724l-15-11 0-2 15 11zm-41-5l26-6 0-8-26 6zm1015 716l-24-18 1-3 24 18zm35-35l-23-17 0-4 24 17zm-917-681l-14-11 0-3 15 10zm-40-6l26-5 0-8-26 6zm107 6l-15-10 0-4 15 10zm-41-5l26-5 0-8-26 5zm959 613l-23-17 0-5 24 17zm-852-609l-15-10 0-5 15 11zm-40-5l25-5 0-8-25 6zm925 576l-23-16 1-6 23 16zm4-23l-23-16 1-7 23 16zm-782-543l-16-11 0-6 16 11zm-41-6l25-5 0-7-25 6zm827 525l-23-16 1-7 23 16zm-746-513l-15-11 0-6 15 11zm-40-5l25-6 0-6-25 5zm790 494l-22-15 0-8 23 16zm-709-483l-16-11 0-7 16 11zm-41-6l25-5 0-6-25 5zm754 465l-22-16 1-7 22 15zm-672-455l-16-10 0-7 16 11zm-41-5l25-5 0-6-25 5zm718 435l-23-15 1-8 23 15zm-636-425l-16-11 0-7 16 11zm-41-6l25-5 0-6-25 6zm662 371l-22-14 1-9 22 15zm-522-343l-17-11 1-7 17 11zm-41-5l24-6 1-4-25 5zm545 313l-21-14 1-9 21 14zm-445-290l-17-12 0-8 18 12zm-42-6l25-6 0-4-24 6zm470 259l-21-13 1-9 21 13zm-368-238l-18-11 1-8 17 11zm-42-5l24-6 0-3-24 5zm373 195l-21-13 1-9 21 13zm-21-11l-21-13 1-9 21 13zm-214-136l-18-12 1-9 18 12zm-43-6l25-6 0-2-24 6zm25-8l-18-12 1-9 18 12zm-43-6l25-6 0-2-24 6z" fill="#e02e00" stroke="#e02e00" stroke-width="2.80" stroke-linejoin="round"/>
<path d="M1780 1583l68-23-24-20-67 23zm294-100l62-21-24-19-62 21zm-455 126l70-23-23-21-69 23zm585-198l30-10-24-18-30 10zm-678 201l36-12-22-20-35 11zm713-237l29-10-24-17-29 10zm-806 240l36-12-21-21-36 12zm840-277l29-9-24-17-28 9zm34-37l28-9-23-17-29 9zm-1025 308l36-12-20-21-37 12zm-58-8l37-12-20-20-36 11zm-170-27l38-11-19-21-38 12zm-56-10l37-11-18-21-38 12zm-57-11l38-11-18-21-38 12zm1396-422l27-8-23-15-26 8zm5-26l26-7-22-15-26 8zm-1474 421l38-11-18-20-38 11zm1456-456l26-8-22-14-26 8zm-1529 428l38-11-17-20-38 11zm1511-464l26-8-21-13-26 7zm-1582 434l38-11-17-19-37 11zm1544-482l26-7-21-13-25 7zm-1630 434l38-10-16-19-38 11zm-16-16l38-11-15-18-38 10zm1590-479l25-6-20-13-25 7zm-20-11l25-7-20-13-25 7zm-20-12l25-7-20-12-25 6zm-20-13l25-6-19-12-25 6zm-19-12l25-6-20-13-24 7zm-19-13l24-6-19-12-24 6zm-19-12l24-7-19-12-24 6zm-1632 358l36-9-13-16-36 8zm-13-19l36-8-14-17-36 9zm1528-392l24-6-18-12-24 6zm-1532 336l35-8-13-16-35 9zm1454-366l24-5-17-12-25 6zm-1445 328l34-8-13-15-34 8zm1386-344l24-6-17-11-24 6zm-1378 305l34-7-13-15-34 8zm1278-326l24-5-16-11-25 5zm-1249 267l33-7-12-14-33 7zm21-20l33-8-13-13-33 7zm20-21l32-7-12-14-33 8zm20-21l32-7-13-13-32 7zm19-21l32-7-13-13-32 7zm19-21l31-7-13-13-31 7zm904-195l25-5-15-11-26 6zm-854 171l31-7-13-12-31 6zm813-178l25-6-15-10-25 5zm-795 156l30-7-13-12-30 6zm729-155l26-5-15-11-26 6zm-681 129l30-6-13-12-30 6zm615-129l25-5-14-11-26 6zm-539 100l29-6-13-12-29 6zm446-93l26-6-14-10-27 5zm-343 57l84-17-13-12-85 18zm167-35l108-22-14-11-107 22zm-603 470l36-8 0-2-36 8zm-14-18l36-9 0-2-36 9zm-3-55l35-9-1-3-35 8zm9-38l34-8 0-4-35 8zm8-38l34-8 0-4-34 7zm30-59l33-7-1-5-33 7zm20-20l33-7-1-6-32 7zm20-20l33-8-1-5-32 7zm20-21l32-7-1-6-32 7zm19-21l32-7-1-6-31 7zm19-21l31-7 0-7-31 7zm50-24l31-6-1-7-30 6zm18-22l30-6 0-7-31 6zm48-25l30-6-1-7-30 6zm76-29l29-6 0-8-29 6zm102-36l29-6-1-8-28 6zm29-5l28-6 0-8-29 6zm28-5l28-6 0-8-28 6zm111-23l27-5 0-8-28 5zm27-6l27-6 0-8-27 6zm1038 767l-24-19 1-2 23 19zm-1011-774l27-5 0-8-27 5zm1042 761l-24-18 1-3 24 19zm-975-762l-14-11 0-2 14 11zm-40-5l26-6 0-8-26 5zm134 1l-14-10 0-3 14 11zm-41-5l27-5 0-8-27 5zm1020 711l-24-18 0-3 24 18zm34-36l-24-17 1-4 24 17zm-921-676l-14-11 0-3 14 10zm-40-5l26-6 0-7-26 5zm995 645l-24-17 1-5 24 17zm-888-640l-15-11 0-4 15 11zm-41-5l26-6 0-7-26 5zm962 608l-23-17 0-6 24 17zm-856-605l-15-10 0-5 16 11zm-40-5l25-5 1-7-26 5zm81 13l-15-11 0-5 15 11zm-41-5l26-6 0-7-25 6zm885 433l-23-15 2-8 22 15zm-599-396l-16-11 0-8 17 11zm-41-6l25-5 0-6-25 6zm644 377l-22-15 1-8 22 14zm-18-36l-22-14 1-8 22 14zm-485-315l-17-11 1-8 17 11zm-41-5l24-6 0-4-24 6zm508 284l-21-13 1-9 21 13zm-408-262l-17-12 0-8 18 11zm-42-6l25-6 0-3-24 6zm412 221l-21-13 1-9 21 13zm-292-186l-18-12 1-9 18 12zm-42-6l24-6 0-2-24 5zm277 132l-20-13 1-10 20 13zm-20-12l-20-13 1-9 20 12zm-20-12l-20-12 1-10 20 13zm-20-12l-19-12 1-10 19 13zm-19-12l-20-13 1-9 20 12zm-20-13l-19-12 1-9 19 12zm-19-13l-19-12 1-9 19 12z" fill="#e01d00" stroke="#e01d00" stroke-width="2.80" stroke-linejoin="round"/>
<path d="M1712 1602l69-23-23-20-69 23zm425-144l61-21-24-18-61 20zm-553 158l36-12-23-21-35 12zm650-218l30-10-24-18-30 10zm-743 222l36-12-22-21-36 12zm778-259l29-10-24-17-29 10zm-872 261l36-12-21-21-36 12zm906-298l28-10-24-17-28 10zm-964 292l37-12-21-21-37 12zm-94-1l37-12-21-21-37 12zm1095-353l28-9-24-16-27 9zm-1153 345l37-12-19-21-38 12zm1157-369l28-8-24-16-27 8zm-1214 360l37-12-19-21-37 12zm1218-384l27-8-23-16-27 8zm-1275 375l38-12-20-21-37 12zm1279-399l27-9-23-15-27 8zm-1336 389l38-12-19-21-38 12zm1340-414l27-8-23-15-26 8zm5-25l26-8-22-15-27 8zm-1476 401l38-11-18-20-38 11zm1461-461l26-8-22-14-26 7zm-1534 433l38-11-17-20-38 12zm1516-469l26-8-22-13-25 7zm-1588 440l38-11-16-19-38 11zm-71-30l38-11-16-19-38 10zm1621-457l25-7-21-14-25 7zm-1637 440l38-11-16-18-37 10zm1600-489l25-7-21-13-25 7zm-21-11l25-7-20-13-25 7zm-1678 434l38-10-15-19-38 10zm-15-18l38-10-15-18-37 10zm-14-17l37-10-15-18-37 10zm-15-18l37-9-14-18-37 10zm-14-17l37-10-14-17-37 9zm-14-18l37-10-15-17-36 10zm-14-18l36-10-14-16-36 9zm-14-18l36-9-13-17-37 9zm1622-409l24-6-18-12-25 6zm-19-13l25-6-19-12-24 6zm-18-13l24-6-18-12-24 6zm-1603 361l36-9-13-16-36 9zm1524-389l24-5-18-12-24 6zm-1528 332l35-8-13-15-35 8zm1451-361l24-6-17-11-25 5zm-1442 323l35-8-13-15-34 8zm9-39l34-7-13-15-34 8zm1332-304l25-5-17-11-25 5zm-1311 284l34-7-13-14-33 7zm1253-303l25-6-16-10-25 5zm-41-4l25-6-16-10-25 5zm-1183 247l32-7-12-13-33 7zm1142-252l25-5-16-11-25 5zm-1122 232l32-7-13-14-32 7zm1081-237l25-5-15-11-25 5zm-1062 216l32-7-12-13-32 7zm1022-222l25-5-16-11-25 5zm-41-6l25-6-15-10-25 5zm-911 183l31-7-12-12-31 6zm805-188l25-6-15-10-25 5zm-738 141l30-6-12-12-31 6zm671-141l26-5-15-11-25 6zm-594 112l30-6-13-12-30 6zm502-106l52-10-14-11-52 11zm-427 76l57-12-13-11-57 11zm333-70l27-5-14-11-27 5zm-738 460l36-9-1-2-35 8zm-4-56l35-8 0-4-35 9zm10-38l34-8-1-4-34 8zm8-38l34-8 0-4-34 7zm22-20l33-7 0-5-34 7zm28-59l33-7-1-6-32 7zm20-21l32-7 0-6-32 7zm20-20l32-7-1-7-32 7zm70-45l31-6-1-7-31 6zm66-46l31-6-1-8-30 7zm77-29l30-6-1-7-29 6zm75-30l29-6-1-8-28 6zm29-5l28-6 0-8-29 6zm1323 699l-24-19 1-2 24 18zm-979-757l-14-11 0-2 14 11zm-41-6l27-5 0-8-27 5zm1051 750l-24-19 0-2 24 18zm-917-749l-14-10 0-3 14 11zm-40-5l26-5 0-8-26 5zm1023 706l-24-18 0-4 24 18zm-957-709l-14-11 0-3 14 11zm-40-5l26-6 0-7-26 5zm1031 677l-24-17 0-5 24 18zm-925-671l-15-11 1-3 14 10zm-40-5l25-6 1-7-26 5zm998 639l-24-17 1-5 24 17zm-892-635l-15-10 0-5 15 11zm-40-5l25-5 0-8-25 6zm969 579l-24-16 1-6 24 16zm-823-569l-15-10 0-6 15 11zm-40-5l25-5 0-7-25 5zm867 551l-24-16 1-7 23 16zm-786-539l-16-11 0-6 16 11zm-41-6l25-5 0-6-25 5zm830 521l-23-16 1-7 23 15zm-749-509l-15-11 0-6 16 11zm-40-6l25-5 0-6-25 5zm793 490l-23-15 1-8 23 16zm-712-479l-16-11 0-6 16 10zm-41-6l25-5 0-6-24 6zm757 461l-23-15 1-8 23 15zm-675-451l-16-10 0-7 16 11zm-41-5l25-5 0-6-25 5zm720 431l-22-15 1-8 22 15zm-638-422l-16-10 0-7 16 10zm-41-5l25-5 0-6-25 6zm99 25l-17-11 0-8 17 11zm-42-6l25-5 0-5-24 5zm607 348l-22-14 1-9 22 14zm-18-36l-22-13 2-9 21 13zm-447-287l-17-11 0-9 18 12zm-42-6l25-5 0-4-24 5zm450 247l-21-14 1-9 21 13zm-331-211l-18-12 1-9 18 12zm-42-6l24-6 1-3-25 6zm336 168l-21-13 1-9 21 13zm-21-11l-20-13 1-9 20 12zm-157-98l-18-12 1-9 18 12zm-18-13l-19-12 1-9 19 12zm-43-6l24-6 0-1-24 6zm24-7l-18-12 1-9 18 11zm-42-6l24-6 0-2-24 6z" fill="#e00c00" stroke="#e00c00" stroke-width="2.80" stroke-linejoin="round"/>
<path d="M1838 1585l292-101-24-19-291 99zm-161 25l35-12-23-20-34 11zm521-177l31-10-25-19-30 11zm-649 191l35-12-22-21-35 12zm715-240l30-10-25-18-29 10zm-809 243l36-12-22-21-36 12zm843-280l29-10-24-17-29 9zm34-38l28-9-24-17-28 9zm-1030 313l37-12-21-21-36 12zm1034-336l28-9-24-17-28 9zm40-88l27-8-23-16-27 9zm-1417 370l38-12-18-20-38 11zm-56-11l38-12-18-20-38 11zm1462-442l26-8-22-15-26 8zm-1536 414l38-11-17-20-38 11zm1522-475l25-8-21-14-26 8zm-1595 446l39-11-17-20-38 11zm-71-30l38-11-16-19-38 11zm1626-463l26-7-22-14-25 8zm-1712 415l38-11-15-18-38 10zm1675-463l25-7-21-13-25 7zm-1690 446l38-10-16-19-37 10zm-15-17l38-10-16-19-37 10zm-129-159l36-10-13-16-37 9zm-14-19l37-9-14-16-36 9zm-13-18l36-9-13-16-36 9zm1608-394l24-6-18-12-24 6zm-1598 356l35-8-13-16-35 9zm-14-18l36-9-13-15-36 8zm1533-366l25-6-18-11-24 6zm-1523 328l35-9-13-15-35 8zm9-39l34-8-12-15-34 8zm1396-321l24-6-17-11-24 6zm-1387 282l34-7-13-15-34 8zm1329-301l24-5-16-11-25 5zm-1308 281l34-7-13-14-33 7zm21-20l33-7-12-14-33 7zm80-83l31-7-12-13-32 7zm19-22l31-7-13-12-31 6zm902-192l25-6-15-10-26 5zm-852 168l30-6-12-13-31 7zm17-22l31-6-13-13-30 7zm728-153l26-5-15-11-25 6zm-650 125l30-7-13-12-29 7zm584-125l26-5-15-11-25 5zm-537 99l58-12-13-12-58 12zm418-86l53-11-15-11-52 11zm-288 45l221-46-14-11-220 45zm-474 478l37-9 0-2-37 9zm-13-18l36-9 0-2-36 9zm-13-18l36-9-1-2-36 8zm10-37l35-9 0-3-36 9zm-14-19l36-8-1-3-35 8zm10-38l35-8 0-3-35 8zm10-38l34-8-1-4-34 8zm8-38l34-8 0-5-34 8zm22-20l33-7 0-6-34 8zm21-20l33-7-1-6-33 8zm79-82l32-7-1-7-31 7zm19-22l31-6 0-7-31 7zm50-23l31-7-1-7-31 7zm18-22l30-7 0-7-31 6zm78-28l29-7 0-7-30 6zm46-27l29-6 0-8-30 6zm29-3l29-6 0-8-29 6zm101-37l28-6 0-8-28 5zm28-5l28-6 0-8-28 5zm28-6l28-5 0-8-28 5zm28-5l28-6-1-8-27 6zm28-6l27-5 0-9-28 6zm27-6l27-5 0-9-27 6zm27-6l27-6 0-8-27 6zm1078 794l-25-19 1-1 24 19zm-1051-801l27-5 0-8-27 5zm134 3l-14-10 0-3 14 11zm-40-5l26-5 0-8-26 5zm1055 744l-25-19 1-3 24 19zm-988-746l-15-11 0-2 15 10zm-41-6l26-5 0-8-26 5zm1094 703l-25-18 1-4 24 17zm-961-703l-15-11 0-3 15 10zm-40-6l25-5 0-8-25 6zm1034 672l-24-17 1-5 24 17zm-928-666l-15-11 0-4 15 11zm-40-5l25-6 0-7-25 5zm1001 634l-24-17 1-6 24 17zm4-23l-24-17 1-6 24 16zm-859-600l-15-10 0-5 15 10zm-41-5l26-5 0-7-25 5zm939 518l-23-16 1-7 23 15zm-12-83l-22-15 1-8 22 14zm-601-393l-16-11 0-7 17 10zm-41-6l25-5 0-5-25 5zm99 24l-17-11 1-8 17 11zm-41-5l24-6 1-5-25 6zm569 319l-21-14 1-9 22 14zm-39-46l-22-14 2-9 21 14zm-370-236l-18-11 1-9 17 12zm-42-5l24-6 0-3-24 5zm374 193l-21-13 1-9 21 13zm-254-160l-18-12 1-9 18 12zm-42-6l24-6 0-2-24 6z" fill="#d90000" stroke="#d90000" stroke-width="2.80" stroke-linejoin="round"/>
<path d="M1770 1604l68-24-23-20-68 23zm361-124l62-22-25-18-61 21zm-489 139l36-12-23-21-35 12zm587-199l30-11-24-18-30 10zm-716 212l36-12-22-21-36 11zm781-263l29-9-24-18-29 10zm-876 265l37-12-22-21-36 12zm910-302l29-9-25-18-28 10zm-968 296l37-12-21-21-37 12zm-95 0l37-12-20-21-37 12zm1100-358l28-9-24-16-28 9zm-1158 350l38-12-21-21-37 12zm1162-373l27-9-23-16-28 9zm-1220 365l38-12-20-21-37 12zm1223-389l28-9-24-16-27 9zm-1280 380l38-12-20-21-37 12zm-57-10l38-12-19-20-38 11zm1345-419l27-9-23-15-27 8zm-1402 409l38-12-19-21-38 12zm1406-434l27-8-23-15-27 8zm4-25l26-8-22-15-26 8zm-1542 421l39-12-18-20-38 11zm1523-456l26-8-22-14-26 8zm-1596 427l39-11-17-20-39 11zm-72-29l39-12-17-19-38 11zm1632-470l25-7-21-14-25 8zm-17-37l25-7-21-13-25 7zm-1702 459l39-11-16-19-38 11zm1681-469l25-7-21-13-25 7zm-1780 402l38-10-15-19-38 10zm1723-463l25-7-21-12-24 6zm-1737 445l37-10-14-18-38 10zm1717-457l24-6-20-13-24 7zm-1732 440l38-10-15-18-37 10zm1712-451l24-7-19-12-25 6zm-1726 433l37-10-14-17-37 9zm1706-445l25-7-20-12-24 6zm-1720 427l37-9-14-18-37 10zm1701-440l24-6-19-12-25 6zm-1715 422l37-9-14-17-37 9zm1695-434l25-7-19-12-25 7zm-1709 416l37-9-14-17-37 9zm1690-429l25-6-19-12-25 6zm-1704 411l37-9-14-17-37 9zm1685-424l25-6-19-12-24 6zm-1702 350l36-8-13-16-36 8zm1604-389l24-6-18-11-24 5zm-1607 333l35-8-12-16-36 8zm1529-362l24-5-17-12-25 6zm-1519 324l35-8-13-15-35 8zm1460-340l24-5-17-11-24 5zm-1451 301l34-8-12-14-34 7zm1392-318l25-6-17-10-25 5zm-1362 259l34-8-13-13-33 7zm1263-281l25-6-16-11-25 6zm-1242 261l33-8-12-13-33 7zm1201-266l25-5-16-11-25 6zm-1180 245l32-7-12-14-33 7zm1140-249l24-6-15-11-25 6zm-1120 228l32-7-12-13-33 7zm1079-234l25-5-16-11-25 5zm-1060 213l32-7-12-13-32 7zm1019-219l25-5-15-11-25 5zm-40-7l25-5-15-11-25 6zm-909 181l31-6-12-13-31 7zm843-178l26-5-16-11-25 5zm-776 132l30-7-13-12-30 7zm30-3l30-6-12-12-30 6zm640-137l26-5-15-11-26 6zm-593 111l29-6-12-12-30 6zm501-104l26-5-15-11-26 6zm-426 74l85-18-13-11-85 18zm306-63l53-11-14-11-53 11zm-735 472l36-8 0-3-36 9zm-3-56l36-8-1-3-35 8zm10-37l35-8-1-4-34 8zm10-39l34-7-1-5-34 8zm30-58l33-7 0-6-34 8zm21-20l33-7-1-6-33 7zm20-21l33-7-1-5-32 7zm20-20l33-7-1-6-32 7zm20-21l32-7-1-6-31 7zm70-44l31-7-1-7-31 7zm66-46l30-7 0-7-30 6zm31-3l30-6-1-8-30 6zm46-26l30-6-1-8-29 6zm75-31l28-6 0-8-29 6zm29-4l28-6 0-8-29 6zm28-5l28-5 0-9-28 6zm1303 744l-24-19 0-2 24 19zm-1055-795l26-6 0-8-26 6zm1086 782l-24-18 0-3 24 19zm-1019-784l-14-11 0-2 14 11zm-41-5l27-6 0-8-27 6zm1126 741l-24-18 0-3 25 18zm-992-740l-15-11 0-3 15 11zm-41-5l26-6 0-8-26 6zm1097 696l-24-18 1-5 24 18zm-964-698l-15-11 0-3 15 10zm-41-5l26-6 0-7-26 5zm1039 666l-25-18 1-5 24 17zm-892-653l-16-11 1-5 15 11zm-41-6l25-5 1-7-26 5zm969 597l-24-16 1-6 24 16zm-863-594l-15-11 0-5 15 11zm-40-5l25-6 0-7-25 6zm906 576l-23-16 1-7 23 16zm-826-564l-15-11 0-6 16 11zm-40-6l25-5 0-7-25 6zm870 546l-24-16 1-7 24 16zm-789-534l-16-11 0-6 16 11zm-41-6l25-5 0-6-24 5zm81 11l-15-11 0-6 16 11zm-40-5l25-6 0-6-25 6zm796 485l-23-15 1-8 23 16zm-715-475l-16-11 0-6 16 10zm-41-5l25-6 0-6-24 6zm760 456l-23-15 1-8 23 15zm-678-447l-16-11 0-6 16 10zm-41-5l25-6 0-5-25 5zm722 427l-22-15 1-8 23 14zm-19-35l-22-14 1-9 22 15zm-563-365l-17-10 0-8 17 11zm-42-5l25-5 0-5-24 5zm100 23l-17-11 0-8 18 11zm-41-6l24-5 0-4-24 5zm509 282l-21-14 1-9 22 14zm-409-260l-17-12 0-8 18 11zm-42-6l25-6 0-3-24 6zm434 229l-21-13 1-9 21 13zm-21-10l-21-13 1-10 21 13zm-293-185l-18-11 1-9 18 11zm-42-6l24-5 0-3-24 6zm278 130l-21-12 2-10 20 13zm-21-11l-20-13 1-9 20 12zm-20-12l-19-12 1-10 19 13zm-19-12l-20-12 1-10 20 13zm-20-12l-19-12 1-10 19 12zm-19-13l-19-12 1-9 19 12zm-19-12l-19-12 1-9 19 11zm-19-13l-19-12 1-9 19 12z" fill="#c40000" stroke="#c40000" stroke-width="2.80" stroke-linejoin="round"/>
<path d="M1930 1572l163-56-25-20-162 56zm-229 51l69-24-23-21-69 23zm492-169l61-21-24-19-61 21zm-586 173l36-12-23-21-35 12zm653-221l29-10-24-18-30 10zm-783 233l36-12-22-21-36 12zm847-284l29-10-25-17-28 9zm-1001 280l37-12-21-21-37 12zm1038-341l28-9-24-17-28 9zm-1250 323l38-12-19-21-38 12zm1290-410l27-9-24-15-27 8zm-1347 401l38-12-19-21-39 12zm1350-426l27-8-23-15-27 8zm-1483 390l38-12-18-21-39 12zm-57-12l38-12-17-20-39 11zm1528-462l26-8-22-14-26 8zm-1602 434l39-11-18-21-38 12zm1583-469l26-7-22-15-26 8zm-1656 440l39-11-17-20-38 11zm1638-476l26-7-22-14-25 8zm-1709 445l38-11-16-19-38 11zm1692-481l25-7-21-14-25 7zm-1708 465l38-11-15-20-39 11zm-85-50l38-10-15-19-38 11zm1734-474l25-7-21-13-25 7zm-1749 457l38-10-15-19-38 11zm1728-469l25-6-20-13-25 7zm-1856 309l37-9-13-17-37 9zm1681-419l24-6-19-12-24 6zm-1694 401l36-9-13-17-36 9zm1675-415l25-6-19-11-24 6zm-1678 359l36-9-13-16-36 9zm1599-385l24-6-18-11-24 5zm-1612 366l36-9-13-15-36 8zm1594-380l25-6-18-11-24 5zm-1584 342l35-8-13-15-35 8zm1525-357l24-6-17-11-25 5zm-1515 319l34-8-12-15-35 8zm1456-336l24-5-17-11-24 5zm-1447 297l34-8-12-14-34 7zm1389-315l24-5-17-11-24 6zm-1367 295l34-8-13-14-33 8zm1325-298l25-5-17-11-24 6zm-1203 174l31-7-12-13-32 7zm19-21l31-7-13-13-31 7zm900-191l25-5-15-11-25 5zm-851 167l31-7-12-12-31 6zm785-165l25-6-15-10-25 5zm-689 114l30-6-13-12-29 6zm557-115l26-5-15-11-26 5zm-481 85l29-6-13-12-29 6zm388-80l26-5-14-11-26 5zm-259 38l138-28-14-11-137 28zm-539 485l36-9 0-2-37 9zm-3-55l36-9 0-3-36 9zm-13-19l36-8-1-3-35 8zm10-37l35-8 0-4-35 8zm10-38l35-8-1-4-34 8zm10-39l34-7-1-5-34 8zm22-19l33-8 0-5-34 8zm121-123l32-7-1-6-31 6zm19-21l31-7 0-7-31 7zm50-24l31-6-1-7-30 6zm96-50l29-6 0-8-30 6zm75-30l29-6-1-8-29 6zm129-42l28-5 0-8-28 5zm28-5l28-5-1-9-27 6zm28-5l27-6 0-8-28 5zm27-6l27-5 0-9-27 6zm27-6l27-5 0-9-27 6zm1212 769l-25-18 1-3 24 19zm-1024-778l-14-11 0-2 14 10zm-40-6l26-5 0-8-26 5zm1095 771l-25-18 0-3 25 18zm34-35l-24-18 0-4 25 18zm-996-735l-15-11 0-3 15 11zm-41-6l26-5 0-8-26 6zm1101 690l-25-17 1-5 24 17zm-929-684l-15-10 1-4 14 10zm-40-5l25-5 1-7-26 5zm1005 629l-24-17 1-6 24 17zm-899-625l-15-11 0-5 15 11zm-40-6l25-5 0-7-25 5zm978 544l-24-15 1-8 24 16zm3-24l-23-15 1-8 23 15zm-657-476l-17-11 1-7 16 11zm-41-5l24-6 1-5-25 5zm685 397l-22-14 1-9 22 15zm-603-389l-17-11 1-7 17 10zm-41-5l24-6 1-5-25 6zm625 360l-22-15 1-8 22 14zm-526-337l-17-11 1-8 17 11zm-41-6l24-5 0-5-24 6zm549 307l-22-14 1-9 22 14zm-449-285l-17-11 0-8 18 11zm-42-6l25-5 0-4-24 6zm473 255l-21-14 1-9 21 13zm-354-220l-18-11 1-9 18 11zm-42-6l24-5 1-3-25 6zm25-8l-18-11 0-9 18 11zm-42-6l24-5 0-4-24 6zm354 181l-21-13 1-9 21 12zm-21-11l-20-13 1-9 20 12zm-176-110l-19-12 1-9 19 12zm-43-6l24-6 1-2-25 6zm25-8l-19-11 1-9 18 11zm-43-5l24-6 0-2-24 6z" fill="#af0000" stroke="#af0000" stroke-width="2.80" stroke-linejoin="round"/>
<path d="M1829 1605l101-35-24-21-101 35zm264-92l95-33-25-19-94 32zm-427 117l35-12-23-21-35 12zm589-202l30-10-25-19-30 11zm-683 208l35-12-22-22-36 12zm718-244l29-10-24-18-30 10zm-908 249l37-12-22-21-37 12zm975-324l29-9-25-17-28 9zm-1071 324l37-12-21-21-37 12zm1104-362l28-9-24-17-28 9zm-1163 355l38-12-20-22-38 12zm1167-379l27-9-24-16-27 9zm-1225 371l38-12-20-21-38 12zm1228-395l27-9-23-16-27 9zm-1401 367l38-12-18-21-39 12zm1412-440l27-9-23-15-27 8zm-1469 429l38-12-18-21-39 12zm1473-454l26-8-23-15-26 8zm-1605 415l39-12-18-20-38 11zm1589-475l26-8-22-14-26 7zm-1662 446l39-11-17-21-39 12zm1644-482l25-7-22-14-25 7zm-1716 452l38-11-16-20-39 11zm1698-488l25-7-22-14-25 7zm-1785 440l39-11-16-19-38 10zm1746-488l25-7-21-13-25 7zm-1761 471l38-11-15-19-38 10zm1740-481l25-7-21-13-25 7zm-1839 412l39-10-15-18-38 10zm-14-17l38-10-14-18-38 10zm-14-18l38-10-14-18-38 10zm1771-462l24-7-20-12-24 6zm-1785 444l38-10-14-17-38 9zm1765-457l24-6-19-12-24 6zm-1779 439l38-10-14-17-38 10zm-14-18l38-10-14-17-37 10zm-16-74l37-9-13-16-37 9zm1671-409l24-6-18-11-24 5zm-1684 391l36-9-13-16-36 8zm1666-405l24-6-18-11-24 6zm-1668 348l35-8-12-16-36 9zm1590-376l24-6-18-11-24 6zm-1580 338l35-8-13-15-34 8zm1521-353l24-6-17-11-25 6zm-1511 315l34-8-12-15-35 8zm1452-332l24-6-17-11-24 6zm-1421 273l34-8-13-14-33 8zm1322-295l25-5-17-11-24 6zm-1301 275l34-8-13-14-33 8zm1260-279l25-5-16-11-25 6zm-1239 258l33-7-12-14-33 8zm1199-262l24-6-16-10-24 5zm-1178 242l32-7-12-14-32 7zm1137-247l25-6-16-10-25 5zm-1117 226l32-7-12-13-32 7zm1077-232l24-5-15-11-25 5zm-1057 211l31-7-12-13-32 7zm1016-217l25-6-15-10-25 5zm-997 195l31-6-12-13-31 7zm50-23l31-7-12-12-31 6zm841-177l26-5-15-11-25 6zm-792 152l31-6-13-12-30 6zm727-151l25-5-15-11-25 6zm-679 126l30-6-13-12-29 6zm613-126l25-6-14-10-26 5zm-566 101l58-12-12-11-59 12zm473-97l52-10-14-11-52 11zm-370 62l85-17-13-11-85 17zm223-45l80-17-13-10-81 16zm-691 497l37-9-1-2-36 9zm-13-19l36-8 0-3-36 9zm-2-55l36-9-1-3-35 8zm11-38l34-8 0-4-35 8zm9-38l35-8-1-5-34 8zm32-58l33-8 0-5-34 7zm21-20l33-8 0-5-33 7zm21-20l33-8-1-5-32 7zm21-21l32-7-1-6-32 7zm20-20l32-7-1-7-32 7zm19-21l32-7-1-7-31 7zm20-21l31-7 0-6-32 7zm50-24l31-6-1-7-31 6zm49-24l30-6 0-8-31 7zm48-25l29-6 0-8-30 6zm46-26l30-6-1-5-29 5zm30-3l29-6-1-8-29 6zm73-32l29-5-1-6-28 6zm29-4l28-6 0-7-29 6zm28-5l28-5 0-8-28 5zm165-33l27-5 0-8-27 5zm1117 822l-24-19 0-2 25 19zm-1090-829l27-5 0-7-27 6zm1122 817l-25-19 0-2 25 19zm-1095-823l27-6-1-5-26 5zm133 2l-14-10 0-3 14 11zm-40-5l26-5 0-8-26 5zm1099 765l-25-19 1-3 24 18zm-1033-768l-14-10 0-3 14 11zm-40-5l26-5 0-6-26 6zm1107 737l-24-18 0-4 25 18zm-1001-730l-14-10 0-4 14 11zm-40-5l26-5 0-8-26 6zm106 6l-15-11 1-4 14 11zm-40-5l25-6 1-7-26 5zm1042 660l-25-17 1-6 24 17zm-936-656l-15-11 0-4 15 10zm-40-5l25-6 0-7-25 6zm1008 623l-24-17 1-6 24 17zm3-24l-24-16 1-7 24 16zm-866-590l-15-10 0-6 15 11zm-40-5l25-5 0-7-25 6zm909 571l-23-16 1-7 23 16zm-829-559l-15-11 0-6 16 11zm-40-6l25-5 0-6-25 5zm81 11l-16-10 0-6 16 10zm-41-5l25-5 0-7-24 6zm81 10l-16-10 1-7 16 11zm-40-5l24-5 1-6-25 5zm799 481l-23-15 1-8 23 15zm-718-471l-16-11 0-6 16 10zm-41-5l25-6 0-5-24 5zm762 452l-23-15 1-7 23 15zm-680-443l-17-11 1-6 16 11zm-41-5l24-6 1-5-25 5zm705 388l-22-14 1-7 22 14zm-566-362l-17-11 1-5 17 10zm-41-5l24-6 1-4-24 5zm588 332l-22-14 1-7 22 14zm-488-310l-17-11 0-6 17 11zm-42-5l25-6 0-4-24 6zm512 279l-22-14 1-6 22 14zm-411-259l-18-11 1-5 17 11zm-42-5l24-6 1-3-24 6zm414 216l-21-13 1-5 21 13zm-21-10l-21-13 1-8 21 13zm-255-159l-18-11 1-8 18 11zm-42-6l24-5 0-3-24 6zm24-8l-18-11 0-5 19 11zm-42-5l24-6 0-3-24 6zm218 93l-20-12 1-5 20 12zm-20-12l-19-12 1-5 19 12z" fill="#9a0000" stroke="#9a0000" stroke-width="2.80" stroke-linejoin="round"/>
<path d="M1760 1624l69-24-24-21-69 24zm428-149l62-21-25-19-62 21zm-558 164l36-12-23-22-35 12zm655-225l30-10-24-18-30 10zm-749 230l36-12-23-22-36 12zm784-266l29-10-25-18-29 10zm-880 269l37-13-22-21-36 12zm913-307l29-9-24-18-29 10zm-1009 308l38-12-22-22-37 12zm1042-346l29-9-25-17-28 9zm-1197 338l38-13-20-21-38 12zm-58-9l38-12-20-21-38 12zm1294-416l28-8-24-16-27 8zm-1352 407l38-12-19-21-39 12zm1356-431l27-9-24-15-27 8zm-1414 421l38-12-19-21-38 12zm-134-36l39-12-18-21-39 12zm1535-469l26-8-23-14-26 8zm-1592 456l39-11-17-21-39 12zm-74-28l39-12-17-20-39 11zm1650-488l26-8-22-14-26 8zm-1722 458l39-11-17-20-39 11zm1704-494l25-8-22-13-25 7zm-1792 446l39-11-16-19-38 11zm1752-493l25-7-21-13-25 7zm-1852 426l39-10-15-19-38 10zm1794-486l25-6-21-13-24 7zm-1808 469l38-10-14-19-39 10zm1788-480l24-7-20-12-24 6zm-21-12l25-6-20-13-25 7zm-20-11l25-7-20-12-24 6zm-58-37l24-6-19-12-24 6zm-19-13l24-6-19-12-24 7zm-1768 428l37-10-13-17-38 10zm1749-440l24-7-19-11-24 6zm-1763 421l37-9-13-17-37 9zm1744-434l24-6-19-12-24 6zm-1759 360l36-9-13-16-36 9zm1661-400l24-6-18-11-24 6zm-1663 343l35-8-12-15-36 8zm1586-371l24-6-18-11-24 6zm-1576 333l35-8-12-15-35 8zm1517-349l24-6-17-11-24 6zm-1507 310l34-8-12-14-34 8zm22-19l34-8-12-14-34 7zm1385-311l25-6-17-11-24 6zm-1354 251l33-7-13-14-33 7zm21-20l32-7-12-14-33 7zm1195-260l25-5-16-11-25 6zm-1175 239l32-7-12-13-32 7zm1135-244l24-6-15-10-25 5zm-1115 223l32-7-12-13-32 7zm1009-225l25-6-15-10-25 5zm-938 181l31-7-12-12-31 6zm898-189l25-5-15-10-25 5zm-848 165l30-6-12-13-31 7zm782-163l26-5-15-11-25 5zm-734 138l30-6-13-12-29 6zm668-138l26-5-14-11-26 5zm-621 112l30-6-13-11-29 6zm555-113l26-6-14-10-26 5zm-480 84l58-12-13-11-57 12zm361-73l53-11-14-11-52 11zm-782 553l37-9 0-2-37 10zm-15-73l36-9 0-3-36 9zm-2-56l36-8-1-4-35 8zm11-38l35-8-1-4-35 8zm10-38l34-8 0-3-35 8zm22-20l34-7-1-5-33 7zm30-59l33-7 0-2-33 7zm21-20l33-7 0-3-33 7zm21-20l32-7 0-3-32 7zm20-21l32-7 0-2-32 7zm71-44l31-6-1-4-31 7zm49-23l31-7-1-4-30 6zm49-25l29-6 0-5-30 6zm47-25l29-6 0-4-30 6zm75-30l29-6-1-3-28 6zm29-4l28-6 0-4-29 5zm1430 750l-25-19 0-2 25 19zm-1059-812l-14-10 0-2 14 10zm-40-5l26-5 0-4-27 5zm1130 804l-25-19 0-2 25 18zm-1064-806l-14-11 0-1 14 10zm-40-5l26-6 0-1-26 5zm1169 762l-24-18 0-4 25 19zm-1037-762l-14-10 0-3 14 11zm-40-5l26-5 0-3-26 5zm1111 731l-25-18 1-5 25 18zm-1005-724l-14-11 0-3 14 10zm-40-6l26-5 0-4-26 5zm1078 693l-24-18 0-5 25 18zm-972-687l-15-11 0-4 15 11zm-40-6l25-5 0-4-25 5zm1045 655l-25-17 1-3 24 17zm-940-651l-15-10 0-3 15 11zm-40-5l25-5 0-3-25 5zm80 12l-15-10 0-5 15 11zm-40-5l25-5 0-5-25 6zm978 563l-24-16 0-2 24 15zm-833-556l-15-10 0-2 15 11zm-40-5l25-5 0-2-25 6zm876 536l-24-15 1-2 23 15zm-795-525l-16-11 0-1 16 10zm-41-5l25-6 0-1-25 5zm822 447l-23-14 1-5 22 15zm-643-414l-17-11 0-3 17 10zm-41-5l24-6 0-3-24 5zm668 359l-22-14 0-2 22 13zm-528-334l-17-11 0-2 17 11zm-41-5l24-6 0-2-24 5zm550 303l-22-13 1-2 21 13zm-450-282l-18-11 0-2 18 11zm-42-5l24-6 0-2-24 6zm452 241l-21-13 1-3 21 13zm-333-208l-18-11 0-2 18 11zm-42-5l24-6 0-2-24 5zm317 154l-21-13 1-2 20 12zm-21-12l-20-12 0-4 21 13zm-20-11l-20-13 0-4 20 12zm-20-12l-20-12 1-5 19 12zm-59-36l-19-12 0-5 20 12zm-19-13l-19-12 0-4 19 12zm-19-13l-19-11 0-3 19 11zm-19-12l-19-12 1-2 18 12z" fill="#850000" stroke="#850000" stroke-width="2.80" stroke-linejoin="round"/>
<path d="M1749 1654l526-184-25-19-525 181zm-131 15l142-49-23-21-142 48zm632-219l91-31-25-18-91 31zm-728 222l109-37-23-21-109 36zm794-271l88-30-25-18-88 29zm-891 275l111-38-22-21-111 37zm925-313l58-20-25-17-58 19zm-984 303l74-25-21-21-74 24zm1017-340l57-19-25-17-57 18zm-1114 343l76-25-22-22-75 25zm1146-379l28-10-24-16-28 9zm-1205 370l76-25-21-22-76 25zm1209-396l55-18-24-17-55 18zm-1268 386l38-13-20-21-38 12zm1271-411l55-18-24-16-55 18zm-1330 401l39-12-20-22-38 13zm1361-436l27-8-24-16-27 9zm-1419 427l39-12-20-22-38 12zm1422-451l27-8-24-16-26 9zm-1480 442l39-13-19-21-39 12zm1456-457l53-16-23-15-53 16zm-1514 448l78-24-19-21-78 24zm1518-472l52-16-23-15-52 16zm-1537 450l39-12-18-21-39 12zm1540-473l26-8-23-15-26 8zm-1597 464l39-12-18-21-39 11zm1600-487l26-8-23-14-25 7zm-1657 477l39-12-17-20-40 11zm1634-491l52-15-23-15-51 16zm-1652 470l40-11-18-21-39 12zm1656-493l25-7-22-15-25 8zm-1712 484l39-11-17-21-39 12zm1715-506l25-7-22-14-25 8zm-1732 486l39-12-17-20-39 11zm1710-499l25-8-22-14-25 8zm-1766 490l39-12-16-20-39 11zm1769-512l25-7-21-13-25 7zm-1785 491l39-11-16-20-39 11zm1764-504l25-7-22-14-25 7zm-1820 496l79-22-16-20-78 22zm1798-510l25-7-21-13-25 7zm-1813 490l39-11-16-20-39 11zm1817-510l25-7-22-13-24 7zm-1833 490l39-11-15-19-39 11zm1812-503l24-7-21-13-24 7zm-1827 484l39-11-15-19-39 10zm1806-497l24-7-20-13-25 7zm-1821 479l39-10-15-19-39 10zm1800-492l49-13-21-13-49 13zm4-20l24-6-20-13-24 7zm-20-12l24-7-20-12-25 6zm-21-13l25-6-20-12-25 6zm-20-12l25-6-20-12-24 6zm-19-12l24-6-20-12-24 6zm-20-12l24-6-19-12-24 6zm-19-12l24-6-20-12-24 6zm-20-12l24-6-19-12-24 6zm-19-12l24-6-19-11-24 6zm-19-11l24-6-19-12-23 6zm-1781 424l37-10-13-16-37 9zm1738-430l48-12-18-11-48 12zm-1751 411l36-9-13-16-36 9zm1733-423l24-5-18-12-24 6zm-1746 407l36-9-13-16-36 8zm1728-418l24-6-19-11-24 6zm-1741 401l36-8-12-16-37 8zm1722-412l24-6-18-11-24 6zm-1735 397l73-17-13-16-72 17zm1693-403l24-5-17-11-25 5zm-1669 378l36-9-13-15-35 8zm1651-389l25-5-18-11-24 5zm-1663 373l35-8-12-16-36 9zm1646-384l24-5-18-11-24 5zm-1623 360l35-8-12-15-36 8zm1581-365l24-6-17-11-24 6zm-1594 350l36-8-13-15-35 8zm1577-361l24-6-17-10-24 5zm-1554 338l35-8-12-14-35 7zm1513-344l24-5-17-11-24 6zm-1525 329l35-7-13-15-34 8zm1484-333l48-11-17-11-48 11zm-1462 311l35-8-12-14-35 8zm1445-323l24-5-17-11-24 6zm-1422 301l33-7-12-14-34 7zm1381-306l24-5-16-11-24 5zm-1394 293l68-15-13-14-67 15zm1353-298l49-11-16-10-49 10zm-1331 276l33-8-12-13-33 7zm1291-281l48-10-16-11-48 11zm-1270 260l33-7-12-14-33 7zm1254-271l24-5-16-11-24 6zm-1233 250l33-7-12-13-33 7zm1192-255l25-5-16-11-24 5zm-1171 235l32-7-12-13-32 7zm1106-235l50-10-16-10-49 10zm-1086 215l63-13-12-13-63 13zm1046-220l50-11-16-10-49 10zm-1026 201l63-14-13-12-62 13zm986-206l25-6-15-10-25 5zm-936 180l62-13-12-12-62 13zm871-180l50-11-15-10-50 10zm-852 162l92-19-13-12-91 18zm786-162l51-11-15-10-50 10zm-737 137l90-19-13-11-89 18zm671-137l77-16-14-10-77 15zm-623 113l117-24-12-12-117 24zm531-108l78-16-14-10-78 16zm-455 78l441-88-14-11-440 88zm-393 471l37-9-1-2-36 9zm2121-36l-23-15 0-2 23 15z" fill="#700000" stroke="#700000" stroke-width="2.80" stroke-linejoin="round"/>
<path d="M1820 1379l30-9m0-2l30-10m0-2l30-9m0-3l29-9" fill="none" stroke="#007080" stroke-width="3.60" stroke-dasharray="6.0 8.0"/>
<path d="M1842 1388l30-10m0-2l30-9m0-2l30-10m7-24l30-9" fill="none" stroke="#05807b" stroke-width="3.60" stroke-dasharray="6.0 8.0"/>
<path d="M1863 1396l31-9m0-2l30-10m0-2l30-9m-22-12l29-9m0-3l30-9" fill="none" stroke="#1a8066" stroke-width="3.60" stroke-dasharray="6.0 8.0"/>
<path d="M1886 1405l30-10m0-2l30-9m8-23l30-10m0-3l29-9m-22-12l29-9m0-4l29-9" fill="none" stroke="#2f8051" stroke-width="3.60" stroke-dasharray="6.0 8.0"/>
<path d="M885 1350l-16-17m1039 81l31-10m0-2l30-10m-23-10l30-10m1-3l29-9m0-3l30-10m-22-12l29-9m0-4l29-9" fill="none" stroke="#44803c" stroke-width="3.60" stroke-dasharray="6.0 8.0"/>
<path d="M865 1368l-16-18m0 2l-16-18m1 1l-16-17m0 1l-16-18m0 1l-15-17m0 0l-15-17m1159 154l31-10m7-22l30-10m0-2l30-10m0-3l30-10m-23-11l29-10m1-4l29-9m-23-13l29-9m0-5l29-9" fill="none" stroke="#598027" stroke-width="3.60" stroke-dasharray="6.0 8.0"/>
<path d="M830 1369l-16-17m0 1l-16-18m0 2l-16-18m0 1l-15-17m0 0l-15-17m0 0l-15-17m0 0l-15-17m0-1l-15-16m1255 175l30-9m0-3l30-9m1-3l29-10m7-24l30-10m0-3l29-10m-23-12l29-9" fill="none" stroke="#6e8012" stroke-width="3.60" stroke-dasharray="6.0 8.0"/>
<path d="M793 1371l-15-18m0 1l-16-17m0 1l-15-18m0 1l-16-17m0 0l-15-17m0 0l-15-17m0 0l-15-17m0-1l-14-17m0-1l-15-16m0-2l-14-16m1311 231l31-10m0-2l30-10m1-2l30-10m0-3l30-10m-23-11l29-9m1-4l29-9m7-26l28-9m-22-13l28-9m1-5l28-9" fill="none" stroke="#807d00" stroke-width="3.60" stroke-dasharray="6.0 8.0"/>
<path d="M757 1372l-16-18m0 2l-15-18m0 1l-16-18m0 1l-15-17m0 0l-15-17m0 0l-14-17m-1-1l-14-16m0-1l-15-17m0-1l-14-16m0-2l-14-16m1370 238l30-10m1-2l30-10m0-2l31-10m6-23l30-10m0-4l30-9m-23-12l29-10m0-4l29-9m-23-13l29-9m0-5l29-9" fill="none" stroke="#806900" stroke-width="3.60" stroke-dasharray="6.0 8.0"/>
<path d="M720 1374l-16-18m0 1l-15-18m0 1l-15-17m0 0l-15-17m0 0l-15-17m0 0l-15-17m0-1l-14-17m0 0l-15-17m0-1l-14-17m0-1l-14-16m35-3l-14-16m1408 265l31-10m1-2l30-10m7-23l30-10m0-3l30-10m6-25l30-10m0-4l29-9m-23-13l28-9m1-5l28-9m-23-14l28-9" fill="none" stroke="#805500" stroke-width="3.60" stroke-dasharray="6.0 8.0"/>
<path d="M683 1375l-16-18m0 1l-15-18m0 1l-15-17m0 0l-15-17m0 0l-15-17m0 0l-14-18m0 0l-15-17m0-1l-14-16m0-2l-14-16m22-20l-14-16m0-2l-14-16m0-3l-14-15m1496 309l31-11m6-22l31-11m0-2l30-10m1-3l30-10m-24-11l29-10m1-4l29-9m6-27l29-9m5-27l28-10m-23-13l28-9" fill="none" stroke="#804200" stroke-width="3.60" stroke-dasharray="6.0 8.0"/>
<path d="M630 1359l-16-18m1 1l-15-17m0 0l-15-17m0 0l-15-18m0 0l-14-17m0 0l-14-17m0-1l-15-17m0-1l-14-17m37-2l-14-16m0-2l-14-16m0-2l-14-16m0-2l-13-16m1562 296l31-10m0-2l30-10m1-3l30-10m6-24l30-10m0-4l30-9m-25-12l30-10m0-4l29-10m-24-13l29-9m0-5l29-10m-24-13l28-9" fill="none" stroke="#802e00" stroke-width="3.60" stroke-dasharray="6.0 8.0"/>
<path d="M577 1343l-15-18m0 1l-15-18m0 1l-14-18m0 0l-14-17m0-1l-15-17m0-1l-14-16m155 137l-16-18m-116-139l-13-16m-1-2l-13-16m0-2l-14-17m0-2l-13-16m35-3l-13-15m1569 335l31-10m1-2l30-10m1-3l30-10m6-24l30-10m1-3l30-10m5-25l29-10m1-4l29-10m-24-13l28-9m5-28l29-9m-24-14l28-9" fill="none" stroke="#801a00" stroke-width="3.60" stroke-dasharray="6.0 8.0"/>
<path d="M524 1327l-15-18m0 0l-14-17m0 0l-14-18m0 0l-14-17m140 121l-16-19m1 2l-15-19m-87-104l-13-17m-1-2l-13-16m0-2l-14-16m0-2l-13-16m-1-2l-13-16m36-3l-13-16m0-3l-13-15" fill="none" stroke="#800700" stroke-width="3.60" stroke-dasharray="6.0 8.0"/>
<path d="M568 1379l-15-19m0 2l-15-19m0 1l-14-18m-57-70l-14-17m0-1l-14-17m0-1l-13-17m-1-1l-13-17m0-2l-13-16m23-21l-13-16m0-3l-13-15" fill="none" stroke="#700000" stroke-width="3.60" stroke-dasharray="6.0 8.0"/>
<path d="M529 1380l-15-19m0 2l-14-19m0 1l-15-18m0 1l-14-18m0 0l-14-18m0 0l-14-17m0-1l-14-17m0-1l-14-17m0-1l-13-17m-1-1l-13-17m0-2l-13-16m-1-2l-13-16m37-2l-13-16m0-3l-13-16m0-3l-13-15m36-3l-12-16m-1-3l-12-15" fill="none" stroke="#580000" stroke-width="3.60" stroke-dasharray="6.0 8.0"/>
<path d="M1744 1148l-18-14m0 0l-19-14m0 0l-18-14" fill="none" stroke="#000084" stroke-width="3.00"/>
<path d="M1146 1114l30-8m0 2l29-7m200-48l28-8m0-1l27-7m362 224l-20-16m-11-32l-19-15m-179-144l-17-13m0-3l-17-14m-27 8l27-7" fill="none" stroke="#0000a2" stroke-width="3.00"/>
<path d="M1842 1272l-20-16m-263-235l27-7" fill="none" stroke="#000ab6" stroke-width="3.00"/>
<path d="M1640 984l26-7" fill="none" stroke="#0046b6" stroke-width="3.00"/>
<path d="M963 1136l31-8m673-157l26-7" fill="none" stroke="#0064b6" stroke-width="3.00"/>
<path d="M932 1138l31-8m730-172l26-7" fill="none" stroke="#0082b6" stroke-width="3.00"/>
<path d="M900 1140l32-8m530-220l-16-13" fill="none" stroke="#00a0b6" stroke-width="3.00"/>
<path d="M1968 1328l-21-16m-501-419l-16-12m273 47l25-7" fill="none" stroke="#07b6af" stroke-width="3.00"/>
<path d="M821 1126l32-8m1137 219l-21-17m-539-446l-15-12m314 52l25-6" fill="none" stroke="#25b691" stroke-width="3.00"/>
<path d="M756 1129l32-8m1 6l32-8m1192 227l-22-17m-236-429l25-6" fill="none" stroke="#43b673" stroke-width="3.00"/>
<path d="M1426 826l-15-11" fill="none" stroke="#61b655" stroke-width="3.00"/>
<path d="M708 1111l33-8m1023-232l25-7" fill="none" stroke="#7fb638" stroke-width="3.00"/>
<path d="M675 1113l33-8m703-297l-15-12m394 61l25-7" fill="none" stroke="#9db61a" stroke-width="3.00"/>
<path d="M641 1114l34-8m1436 252l-22-17" fill="none" stroke="#b6b200" stroke-width="3.00"/>
<path d="M594 1096l33-8m1508 278l-23-17m-705-588l-15-11m406 77l25-6" fill="none" stroke="#b69600" stroke-width="3.00"/>
<path d="M559 1097l34-8m1566 285l-23-17m-744-615l-15-11m447 82l25-6" fill="none" stroke="#b67a00" stroke-width="3.00"/>
<path d="M525 1098l34-8m1625 293l-24-18m-783-641l-15-11" fill="none" stroke="#b65e00" stroke-width="3.00"/>
<path d="M1832 784l25-6" fill="none" stroke="#b64200" stroke-width="3.00"/>
<path d="M477 1079l34-8m1698 320l-24-18m-797-677l-15-10m484 84l25-6" fill="none" stroke="#b62600" stroke-width="3.00"/>
<path d="M441 1080l35-8m897-394l-15-11m525 89l24-5" fill="none" stroke="#b60900" stroke-width="3.00"/>
<path d="M406 1081l35-9m918-412l-15-11" fill="none" stroke="#a00000" stroke-width="3.00"/>
<path d="M370 1081l35-8m1885 321l-25-18m-375-648l25-6" fill="none" stroke="#7d0000" stroke-width="3.00"/>
<path d="M345 1043l34-8m741-388l26-5m198 0l-14-11m469 52l-17-10m-24 5l24-5" fill="none" stroke="#5b0000" stroke-width="3.00"/>
<path d="M1762 1162l-18-15m-54-42l-18-14" fill="none" stroke="#000084" stroke-width="4.00"/>
<path d="M1190 1085l29-8m0 2l29-7m0 1l28-8m0 1l29-7m0 0l28-7m0-1l28-7m0 0l28-8m72-1l27-7m342 209l-19-15m0 3l-20-15m-10-35l-19-14m-90-71l-18-14m0-1l-17-14m0-2l-17-13" fill="none" stroke="#0000a2" stroke-width="4.00"/>
<path d="M1086 1123l30-8m1 3l29-7m14-21l30-7m298-58l27-7m44 3l-17-13m-27 6l27-7" fill="none" stroke="#000ab6" stroke-width="4.00"/>
<path d="M1056 1126l30-7m776 163l-20-16m-300-263l-16-13m0-5l-16-12m32 30l27-7m17 13l27-7m-44-10l27-7m17 12l27-7" fill="none" stroke="#0028b6" stroke-width="4.00"/>
<path d="M995 1133l30-8m0 5l31-8m-46-11l31-8m842 189l-21-16m-352-309l-17-12m103 25l27-7" fill="none" stroke="#0046b6" stroke-width="4.00"/>
<path d="M979 1114l31-8m894 195l-21-16m-389-336l-17-13m146 31l26-7" fill="none" stroke="#0064b6" stroke-width="4.00"/>
<path d="M917 1119l31-7m0 5l31-8m946 202l-21-17m-426-364l-16-12m188 36l26-6" fill="none" stroke="#0082b6" stroke-width="4.00"/>
<path d="M885 1122l32-8m1029 206l-21-17m50 3l-21-16m-450-370l-16-13m0-6l-15-12m203 52l26-6m-43-11l26-6" fill="none" stroke="#00a0b6" stroke-width="4.00"/>
<path d="M853 1124l32-8m-46-11l31-8m1 6l31-8m1095 220l-21-16m-503-416l-16-13m229 41l25-6" fill="none" stroke="#07b6af" stroke-width="4.00"/>
<path d="M807 1107l32-8m1180 225l-21-17m-541-443l-16-12m271 46l26-7" fill="none" stroke="#25b691" stroke-width="4.00"/>
<path d="M774 1108l32-7m1236 231l-22-16m-578-471l-16-12m57 20l-15-11" fill="none" stroke="#43b673" stroke-width="4.00"/>
<path d="M742 1110l32-8m-14-12l32-8m1273 259l-22-17m-575-489l-16-12m286 61l25-6m-42-10l26-6" fill="none" stroke="#61b655" stroke-width="4.00"/>
<path d="M694 1093l33-8m0 6l33-8m692-267l-15-11m310 50l25-7" fill="none" stroke="#7fb638" stroke-width="4.00"/>
<path d="M661 1094l33-8m1394 263l-22-17m51 4l-22-17m-658-521l-15-12m351 55l25-6" fill="none" stroke="#9db61a" stroke-width="4.00"/>
<path d="M628 1095l33-8m-14-12l33-8m1461 277l-23-17m-696-548l-15-11m56 20l-15-12m308 49l25-6" fill="none" stroke="#b6b200" stroke-width="4.00"/>
<path d="M614 1076l33-8m1518 284l-23-17m-694-566l-15-11m348 54l25-6" fill="none" stroke="#b69600" stroke-width="4.00"/>
<path d="M580 1077l33-8m-47-11l34-8m833-299l-15-11m347 56l25-6m17 8l25-6" fill="none" stroke="#b67a00" stroke-width="4.00"/>
<path d="M546 1078l33-8m-47-11l34-8m1623 310l-23-18m-748-610l-15-11m387 60l25-6" fill="none" stroke="#b65e00" stroke-width="4.00"/>
<path d="M511 1079l34-8m-47-11l34-8m1682 317l-24-17m53 3l-23-17m-817-623l-15-11m55 19l-15-11m387 57l25-6" fill="none" stroke="#b64200" stroke-width="4.00"/>
<path d="M463 1061l34-8m1742 324l-24-17m-787-655l-15-11m386 59l24-6m17 8l25-6" fill="none" stroke="#b62600" stroke-width="4.00"/>
<path d="M428 1061l35-8m-13-11l34-8m1780 352l-24-18m28-5l-23-17m-831-659l-15-11m40 1l-15-10m400 73l24-6" fill="none" stroke="#b60900" stroke-width="4.00"/>
<path d="M393 1062l35-8m-13-12l35-8m1844 338l-24-18m-871-685l-15-11m482 83l24-5m-41-10l24-5" fill="none" stroke="#a00000" stroke-width="4.00"/>
<path d="M357 1062l35-8m-12-11l35-8m1905 345l-25-18m-911-711l-14-11m54 19l-15-10m423 62l24-6m18 8l24-6" fill="none" stroke="#7d0000" stroke-width="4.00"/>
<path d="M789 714l28-6m487-72l26-5m80 11l-15-11m-25 5l25-5m873 242l-20-13m-78-48l-19-12" fill="none" stroke="#5b0000" stroke-width="4.00"/>
<path d="M1389 1035l28-7m0-2l27-7m375 182l-19-15m0 2l-19-15m-10-37l-18-14m0 0l-18-14m0 0l-18-14m0-1l-18-14m0-1l-18-13" fill="none" stroke="#00007d" stroke-width="4.00"/>
<path d="M1101 1100l30-8m0 3l29-7m-15-16l29-8m0 2l29-7m0 2l29-8m0 1l29-7m0 1l28-7m0 0l28-7m0-1l28-7m99-9l28-7m0-3l27-7m351 248l-19-15m8-20l-19-15m-200-155l-17-13m0-4l-17-13" fill="none" stroke="#00088c" stroke-width="4.00"/>
<path d="M1071 1104l30-8m-15-15l30-7m0 3l29-8m725 190l-20-16m-351-246l27-7m60 19l-17-13m0-4l-16-13m-27 7l27-7" fill="none" stroke="#001f8c" stroke-width="4.00"/>
<path d="M1041 1108l30-8m-45-11l30-8m0 4l30-7m825 201l-20-16m0 6l-20-16m-318-279l-17-13m17 13l27-6" fill="none" stroke="#00368c" stroke-width="4.00"/>
<path d="M965 1095l30-7m0 4l31-7m906 203l-20-16m-375-316l-17-12m60 18l26-6" fill="none" stroke="#004d8c" stroke-width="4.00"/>
<path d="M934 1098l30-8m990 207l-21-16m-413-343l-16-12m43 1l-16-13m75 36l27-7m-43-10l26-7" fill="none" stroke="#00648c" stroke-width="4.00"/>
<path d="M902 1101l31-8m-14-14l30-8m1034 213l-21-16m-431-359l-16-13m118 41l26-6m-43-11l26-6" fill="none" stroke="#007b8c" stroke-width="4.00"/>
<path d="M856 1084l31-8m1 6l31-8m1085 219l-21-16m-468-387l-16-12m144 30l26-7" fill="none" stroke="#058c87" stroke-width="4.00"/>
<path d="M824 1086l32-8m1170 224l-21-17m-506-413l-16-12m58 19l-16-12m144 28l26-7" fill="none" stroke="#1c8c70" stroke-width="4.00"/>
<path d="M792 1088l32-8m-14-13l31-8m1208 251l-22-16m-501-433l-16-12m142 29l26-7m17 10l26-6" fill="none" stroke="#338c59" stroke-width="4.00"/>
<path d="M746 1071l32-8m0 6l32-8m1261 258l-22-17m-539-459l-16-12m184 34l26-6" fill="none" stroke="#4b8c42" stroke-width="4.00"/>
<path d="M713 1072l32-8m-13-13l31-7m1331 283l-22-16m28-6l-22-16m-584-465l-16-11m42 1l-16-12m158 46l26-6m16 10l26-6" fill="none" stroke="#628c2b" stroke-width="4.00"/>
<path d="M680 1074l33-8m-14-13l32-8m1392 268l-22-16m-622-491l-16-11m42 1l-16-12m199 51l25-6m17 9l25-6" fill="none" stroke="#798c14" stroke-width="4.00"/>
<path d="M666 1055l33-8m-46-12l32-7m1462 294l-23-17m-635-528l-15-11m240 56l25-6m-42-10l25-6" fill="none" stroke="#8c8900" stroke-width="4.00"/>
<path d="M600 1057l33-8m0 7l33-8m-46-11l32-8m1518 301l-22-17m-674-554l-16-11m57 19l-16-11m240 53l25-6m-41-10l25-6" fill="none" stroke="#8c7400" stroke-width="4.00"/>
<path d="M586 1038l33-8m1575 309l-23-17m29-6l-23-17m-677-550l-16-11m264 42l25-6" fill="none" stroke="#8c5e00" stroke-width="4.00"/>
<path d="M553 1039l33-8m-13-12l33-8m1613 336l-24-17m29-6l-23-17m-742-566l-16-11m41 1l-15-11m263 44l24-6" fill="none" stroke="#8c4800" stroke-width="4.00"/>
<path d="M519 1040l33-8m-13-12l33-8m1676 321l-23-17m-756-603l-15-11m56 18l-16-10m279 56l25-5m-41-10l25-6" fill="none" stroke="#8c3300" stroke-width="4.00"/>
<path d="M485 1041l33-8m-46-11l33-8m1 7l33-8m1734 328l-24-17m-795-629l-15-11m56 19l-16-11m262 43l24-6m17 9l25-6" fill="none" stroke="#8c1d00" stroke-width="4.00"/>
<path d="M437 1023l34-8m-13-12l34-8m1806 354l-24-17m-794-647l-16-11m302 48l24-6" fill="none" stroke="#8c0700" stroke-width="4.00"/>
<path d="M402 1023l34-8m-12-12l34-7m1866 361l-25-17m29-5l-25-18m-838-650l-15-10m55 18l-15-11m317 60l24-5m-40-10l24-6" fill="none" stroke="#7b0000" stroke-width="4.00"/>
<path d="M367 1023l35-7m-12-12l34-8m1929 347l-24-18m-879-675l-15-11m55 18l-15-10m299 46l25-5m16 8l25-6" fill="none" stroke="#600000" stroke-width="4.00"/>
<path d="M589 797l31-6m17-18l30-6m1682 598l-24-17m-810-701l-15-10m-25 5l25-5m942 460l-23-14m-171-222l-20-13m-39-24l-19-12" fill="none" stroke="#460000" stroke-width="4.00"/>
<path d="M1809 1163l-19-15m0 1l-19-14" fill="none" stroke="#00007d" stroke-width="5.00"/>
<path d="M1345 1026l28-8m0-1l28-7m458 214l-20-15m-158-146l-17-14m0-2l-17-13" fill="none" stroke="#00088c" stroke-width="5.00"/>
<path d="M1899 1245l-20-15m-1 5l-19-15" fill="none" stroke="#001f8c" stroke-width="5.00"/>
<path d="M1919 1256l-20-16m-303-260l-16-13" fill="none" stroke="#00368c" stroke-width="5.00"/>
<path d="M980 1073l31-7m929 199l-20-15m-340-287l-17-13" fill="none" stroke="#004d8c" stroke-width="5.00"/>
<path d="M950 1076l30-7m981 206l-20-16m-378-314l-16-13m16 13l27-7" fill="none" stroke="#00648c" stroke-width="5.00"/>
<path d="M873 1062l31-7m653-158l-16-12m59 18l26-6" fill="none" stroke="#058c87" stroke-width="5.00"/>
<path d="M842 1065l31-8m1182 231l-21-16m-408-382l26-6" fill="none" stroke="#1c8c70" stroke-width="5.00"/>
<path d="M796 1048l31-8" fill="none" stroke="#338c59" stroke-width="5.00"/>
<path d="M764 1050l31-8m1283 254l-22-16m-504-430l-16-12m0-6l-16-12m116 41l26-6" fill="none" stroke="#4b8c42" stroke-width="5.00"/>
<path d="M718 1032l31-7m1403 274l-22-16m-458-464l25-6" fill="none" stroke="#798c14" stroke-width="5.00"/>
<path d="M685 1034l32-8m1459 282l-23-17m-623-506l-15-12" fill="none" stroke="#8c8900" stroke-width="5.00"/>
<path d="M639 1016l32-7m1010-220l25-6" fill="none" stroke="#8c7400" stroke-width="5.00"/>
<path d="M606 1018l33-8m1067-234l25-5" fill="none" stroke="#8c5e00" stroke-width="5.00"/>
<path d="M1525 738l-15-11" fill="none" stroke="#8c4800" stroke-width="5.00"/>
<path d="M526 1001l33-8m1718 325l-23-17m-539-554l25-5" fill="none" stroke="#8c3300" stroke-width="5.00"/>
<path d="M492 1002l34-8" fill="none" stroke="#8c1d00" stroke-width="5.00"/>
<path d="M2302 1326l-23-17m-759-617l-15-10m219 37l25-6" fill="none" stroke="#8c0700" stroke-width="5.00"/>
<path d="M446 983l33-7m1270-270l25-6" fill="none" stroke="#7b0000" stroke-width="5.00"/>
<path d="M411 984l34-7" fill="none" stroke="#600000" stroke-width="5.00"/>
<path d="M2383 1328l-25-17" fill="none" stroke="#460000" stroke-width="5.00"/>
<path d="M1217 1036l28-7m0 0l28-7m0 0l29-7m0 0l28-7m0-1l27-7m44 8l27-7m0-2l27-7m412 207l-20-15m0 3l-19-14m0 2l-19-14m-162-130l-17-13m188 118l-19-14m0 1l-19-14m0 0l-18-14m0 0l-18-14m0-1l-18-13m0-1l-18-14m1-2l-18-13" fill="none" stroke="#000562" stroke-width="5.00"/>
<path d="M1100 1058l30-8m0 3l29-8m0 2l29-7m0 2l29-7m-44-12l28-8m156-16l28-7m0-2l27-7m0-3l27-6m17 15l27-7m0-3l27-7m377 238l-20-15m-237-181l-17-13m0-4l-17-13m95 50l-17-13m0-3l-17-13" fill="none" stroke="#001562" stroke-width="5.00"/>
<path d="M1041 1066l30-7m0 3l29-7m-15-17l30-7m0 2l29-7m0 2l29-7m267-50l27-7m0-4l26-6m17 14l26-7m391 271l-20-16m0 5l-20-15m-230-204l-17-13m0-4l-17-13" fill="none" stroke="#002662" stroke-width="5.00"/>
<path d="M1011 1070l30-8m-15-15l30-8m0 4l29-8m409-85l26-7m428 299l-20-16m-391-269l26-7m60 18l-17-13" fill="none" stroke="#003662" stroke-width="5.00"/>
<path d="M966 1054l30-8m0 4l30-7m-45-12l30-7m0 3l30-7m437-89l26-6m465 326l-21-15m-428-297l27-7m-43-12l27-6m75 37l-16-13m0-5l-17-13m-26 7l26-7m60 18l-17-12" fill="none" stroke="#004662" stroke-width="5.00"/>
<path d="M935 1057l30-8m-14-15l30-7m1009 234l-21-16m49 1l-20-15m-424-316l-17-12m-26 6l26-6m59 18l-16-13m-26 7l26-6" fill="none" stroke="#005662" stroke-width="5.00"/>
<path d="M904 1060l31-8m-45-12l30-7m0 5l31-8m-45-12l30-7m1097 268l-21-16m-1 7l-20-16m49 2l-21-16m-504-349l26-6m59 18l-16-12m-27 6l27-6" fill="none" stroke="#04625e" stroke-width="5.00"/>
<path d="M859 1043l30-7m-14-15l31-7m1156 251l-21-16m-457-364l-17-12m-26 7l26-7m59 18l-16-12m-26 6l26-6" fill="none" stroke="#14624e" stroke-width="5.00"/>
<path d="M827 1045l31-7m-45-12l31-7m0 5l31-8m1209 257l-21-16m-495-389l-16-12m58 17l-16-12m-26 7l26-6m0-6l-16-12m-26 6l26-6m32 29l26-6m-42-11l26-6" fill="none" stroke="#24623e" stroke-width="5.00"/>
<path d="M781 1028l32-7m-14-14l31-8m0 5l31-7m1246 285l-22-16m28-7l-22-16m-513-405l-16-12m58 18l-17-12m-25 6l25-6m17 12l25-7" fill="none" stroke="#34622e" stroke-width="5.00"/>
<path d="M750 1030l31-7m-14-14l32-7m-14-15l31-7m1313 311l-22-16m28-7l-22-16m-551-432l-16-11m58 17l-16-11m-26 6l26-6m16 11l25-6m17 11l25-6" fill="none" stroke="#44621e" stroke-width="5.00"/>
<path d="M704 1013l31-7m1 5l31-7m-45-12l31-8m0 5l32-7m1373 294l-22-16m-590-457l-16-12m58 18l-16-12m16 12l25-6m17 11l25-6" fill="none" stroke="#54620e" stroke-width="5.00"/>
<path d="M672 1015l31-8m-13-13l32-8m-14-14l31-7m1442 320l-22-16m28-7l-22-16m-593-455l-16-11m58 17l-17-11m17 11l25-6m16 11l26-6" fill="none" stroke="#626000" stroke-width="5.00"/>
<path d="M658 995l32-7m-14-14l32-7m1497 326l-23-16m28-7l-22-16m-632-480l-16-12m58 18l-16-12m16 12l25-6m16 11l25-6" fill="none" stroke="#625100" stroke-width="5.00"/>
<path d="M625 997l32-7m-13-14l32-7m1553 333l-23-17m28-6l-23-17m-670-506l-16-11m57 17l-16-11m57 17l25-6m17 11l25-6" fill="none" stroke="#624200" stroke-width="5.00"/>
<path d="M560 1000l32-8m1 6l32-7m-46-12l32-7m1 6l32-8m-45-12l31-7m1 5l31-7m1591 361l-23-17m28-6l-23-17m-669-525l-16-11m57 17l-16-11m16 11l25-6m17 11l25-6m16 10l25-6" fill="none" stroke="#623300" stroke-width="5.00"/>
<path d="M546 980l33-7m-13-13l32-8m1684 343l-23-16m28-7l-24-16m-712-529l-16-11m57 18l-16-11m57 16l25-6m16 11l25-6" fill="none" stroke="#622300" stroke-width="5.00"/>
<path d="M513 982l33-8m-13-13l32-7m-12-14l32-7m1722 371l-24-17m28-7l-23-16m-753-554l-15-11m56 17l-16-11m57 17l-16-11m0-6l-15-11m31 28l25-6m16 11l25-6m-41-11l25-5m32 26l25-6" fill="none" stroke="#621400" stroke-width="5.00"/>
<path d="M479 983l33-8m-12-13l33-7m-13-13l32-7m1780 377l-24-17m28-6l-24-17m-751-573l-16-11m41 0l-16-11m57 16l24-5m32 27l25-6m-41-11l25-5" fill="none" stroke="#620500" stroke-width="5.00"/>
<path d="M466 963l33-7m-45-12l32-7m1 6l33-7m-46-12l33-8m0 6l32-7m1818 405l-24-17m28-6l-24-17m-792-598l-15-11m40 0l-15-11m56 17l-16-11m57 16l24-6m32 26l25-5m-41-11l25-5" fill="none" stroke="#560000" stroke-width="5.00"/>
<path d="M399 965l33-8m1 7l33-7m-46-12l33-7m-12-13l33-8m1912 388l-24-17m28-6l-24-17m-836-601l-15-10m40 0l-15-11m55 17l-15-11m96 21l25-6m32 26l25-6" fill="none" stroke="#430000" stroke-width="5.00"/>
<path d="M377 985l34-8m109-135l32-7m162-92l29-6m74-28l29-6m247-50l27-5m92-6l26-5m1180 630l-24-17m-636-571l-16-11m-25 6l25-6m115 32l-17-10m545 301l-21-14m-390-244l-17-11m389 222l-21-13m-273-170l-18-12m194 100l-19-13m0 0l-20-12" fill="none" stroke="#310000" stroke-width="5.00"/>
<path d="M1837 1149l-19-14" fill="none" stroke="#000338" stroke-width="5.00"/>
<path d="M1201 1017l29-8m0 1l28-7m0 0l28-7" fill="none" stroke="#000c38" stroke-width="5.00"/>
<path d="M1451 942l26-7" fill="none" stroke="#001f38" stroke-width="5.00"/>
<path d="M1041 1023l29-7m580-61l-17-12" fill="none" stroke="#002838" stroke-width="5.00"/>
<path d="M1488 902l27-6m482 341l-20-15" fill="none" stroke="#003138" stroke-width="5.00"/>
<path d="M936 1015l30-7" fill="none" stroke="#023836" stroke-width="5.00"/>
<path d="M861 1001l30-7m1199 256l-21-16m-544-372l27-7" fill="none" stroke="#153824" stroke-width="5.00"/>
<path d="M816 985l30-8m790-116l-16-12" fill="none" stroke="#1e381a" stroke-width="5.00"/>
<path d="M1630 814l-17-11" fill="none" stroke="#303808" stroke-width="5.00"/>
<path d="M740 970l31-7m801-171l25-6" fill="none" stroke="#383700" stroke-width="5.00"/>
<path d="M663 955l31-7m929-180l-16-11m-25 6l25-6" fill="none" stroke="#382600" stroke-width="5.00"/>
<path d="M2262 1264l-22-17" fill="none" stroke="#381d00" stroke-width="5.00"/>
<path d="M585 939l32-7m1016-193l-16-11m-25 6l25-6" fill="none" stroke="#381400" stroke-width="5.00"/>
<path d="M1601 705l25-5" fill="none" stroke="#380c00" stroke-width="5.00"/>
<path d="M540 921l32-7m1055-220l-16-11" fill="none" stroke="#380300" stroke-width="5.00"/>
<path d="M2364 1274l-23-17" fill="none" stroke="#310000" stroke-width="5.00"/>
<path d="M1636 665l24-5" fill="none" stroke="#270000" stroke-width="5.00"/>
<path d="M1856 1162l-19-15" fill="none" stroke="#000338" stroke-width="6.00"/>
<path d="M1286 996l28-7m0-1l28-7m553 204l-20-15m0 4l-19-15m27-12l-19-14m0 2l-19-14m0 1l-19-14m0 1l-18-14m0 0l-19-13m0-1l-18-13m0-1l-18-14m0-1l-18-13m1-2l-18-13" fill="none" stroke="#000c38" stroke-width="6.00"/>
<path d="M1157 1003l29-7m0 1l28-7m0 1l29-7m0 0l28-7m0-1l27-6m0-1l28-7m16 18l27-7m-43-12l27-7m16 17l27-7m0-2l28-7m511 252l-20-15m0 4l-20-15m28-10l-20-15m0 3l-19-14m-166-124l-18-13m1-3l-18-13m152 89l-19-14m0 0l-18-13m0-1l-18-14m0-1l-18-13m0-2l-17-13" fill="none" stroke="#001538" stroke-width="6.00"/>
<path d="M1070 1019l30-7m0 2l29-7m0 2l28-7m-43-13l28-7m0 1l29-7m0 1l28-6m0 0l28-7m0 0l28-7m0 0l28-7m0-1l28-6m0-2l27-6m16 17l27-7m0-2l27-7m16 16l27-7m504 272l-20-15m28-10l-20-15m0 5l-20-15m-240-178l-17-13m0-4l-17-12m301 196l-19-15m-186-133l-18-14m0-2l-17-13m0-3l-17-13" fill="none" stroke="#001f38" stroke-width="6.00"/>
<path d="M1026 1003l29-7m0 3l30-7m0 2l29-7m-15-18l28-7m0 2l29-7m0 1l28-7m0 0l28-6m0 0l28-7m0-1l28-6m0-1l27-7m43 10l27-7m0-2l27-7m16 16l27-6m0-4l27-6m514 310l-20-15m27-9l-20-15m28-11l-20-14m-1 4l-19-15m-258-193l-17-13m78 32l-18-13" fill="none" stroke="#002838" stroke-width="6.00"/>
<path d="M966 1011l30-7m0 4l30-8m-15-16l30-7m0 2l29-7m0 2l29-7m-15-18l29-6m0 1l28-7m0 1l28-7m0 0l28-6m0 0l28-7m0 0l28-7m0-1l27-6m15 18l28-7m0-2l27-6m0-3l27-6m15 16l27-6m0-4l27-6m16 15l26-7m537 316l-20-15m-1 6l-20-16m27-9l-20-15m-315-231l-17-12m0-5l-16-12m94 49l-18-13m0-3l-17-13" fill="none" stroke="#003138" stroke-width="6.00"/>
<path d="M952 992l30-7m0 3l29-7m-14-17l29-7m0 2l29-7m0 2l29-6m-15-19l29-6m182-21l27-6m0-2l28-7m0-2l26-6m16 16l27-6m0-4l26-6m16 15l27-6m0-4l26-7m548 355l-21-16m28-9l-21-15m-1 6l-20-15m-369-275l-17-12m76 33l-17-12m1-5l-17-12m77 32l-18-12" fill="none" stroke="#023836" stroke-width="6.00"/>
<path d="M891 998l31-7m0 4l30-7m-15-16l30-7m0 3l30-7m-15-17l29-7m1 2l28-6m1 2l28-7m250-62l27-6m16 16l26-6m0-3l27-7m15 15l27-6m0-4l26-6m16 14l26-7m543 375l-21-16m28-8l-21-15m28-10l-21-15m-1 5l-20-15m-371-271l-17-13m77 33l-17-13m0-4l-17-12" fill="none" stroke="#0b382d" stroke-width="6.00"/>
<path d="M877 979l30-7m0 3l30-7m-14-16l30-7m0 3l29-7m-14-17l29-7m0 3l29-7m320-56l27-6m0-3l27-7m15 16l26-6m0-4l27-7m15 14l27-6m587 378l-21-15m27-9l-21-15m-430-309l-16-12m59 17l-17-12m60 15l-17-12" fill="none" stroke="#153824" stroke-width="6.00"/>
<path d="M847 982l30-7m-14-16l30-7m0 4l30-7m-14-17l29-7m1 3l29-6m390-93l26-6m16 15l26-6m0-4l26-6m16 14l26-6m16 13l26-6m583 398l-22-15m-561-388l26-6m563 385l-21-15m-426-330l-16-12m0-5l-17-12m76 32l-17-12" fill="none" stroke="#1e381a" stroke-width="6.00"/>
<path d="M802 965l30-7m1 4l30-7m-14-16l30-7m0 4l30-7m-14-17l29-6m0 2l30-6m430-83l27-6m0-4l26-6m15 15l26-6m16 13l26-6m621 425l-21-16m-600-414l26-6m601 412l-21-15m27-9l-21-16m-486-348l-17-12m75 33l-16-12m0-5l-17-12m76 32l-17-12" fill="none" stroke="#273811" stroke-width="6.00"/>
<path d="M771 968l31-8m-14-15l30-7m1 4l30-7m-14-16l30-6m0 3l30-7m-14-16l29-7m459-86l27-6m0-3l26-6m15 14l26-6m16 14l25-6m660 452l-22-16m-637-441l25-6m640 439l-22-15m-602-411l26-6m603 408l-21-15m-483-371l-16-11m75 32l-17-12m1-5l-17-11" fill="none" stroke="#303808" stroke-width="6.00"/>
<path d="M726 950l31-7m0 5l31-7m-14-15l31-7m0 4l30-7m-14-16l30-7m0 3l30-6m500-118l26-6m15 15l26-6m15 14l26-6m0-5l26-5m677 465l-22-16m-640-437l26-6m642 435l-22-16m-521-396l-16-11m58 16l-16-12m75 32l-17-12" fill="none" stroke="#383700" stroke-width="6.00"/>
<path d="M694 953l32-7m-14-15l31-7m0 4l31-7m-14-15l31-7m0 4l30-7m-14-16l30-7m570-110l26-6m15 14l26-6m0-5l25-5m716 492l-22-16m-678-463l25-6m681 461l-22-16m-643-433l26-6m667 439l-22-15m-1 6l-22-15m-565-398l-16-11m58 16l-17-12m75 32l-17-11m1-5l-17-12" fill="none" stroke="#382e00" stroke-width="6.00"/>
<path d="M681 933l31-7m-13-15l30-7m1 5l30-7m-13-16l30-6m0 3l30-6m585-133l26-5m15 14l25-6m1-5l25-5m755 518l-23-16m-716-489l25-6m742 496l-22-16m-1 7l-23-15m-680-460l25-5m706 465l-22-16m-585-427l-17-11m58 15l-16-11m58 15l-17-11" fill="none" stroke="#382600" stroke-width="6.00"/>
<path d="M617 937l32-7m0 5l32-7m-14-15l31-6m-13-15l31-7m0 4l31-7m-14-16l31-6m0 3l30-6m624-123l25-5m0-5l26-5m15 13l26-6m15 13l26-6m745 492l-23-16m-707-464l25-5m709 460l-22-15m-629-429l-16-11m57 16l-16-11m58 15l-17-12" fill="none" stroke="#381d00" stroke-width="6.00"/>
<path d="M604 918l32-7m0 5l31-7m-13-15l31-7m-13-15l31-7m0 4l30-6m-13-16l30-7m653-124l25-5m0-5l26-5m15 13l25-5m797 540l-23-17m-758-511l25-5m784 517l-22-16m-746-489l25-6m748 487l-23-16m-627-449l-16-11m57 15l-16-11m58 15l-17-11" fill="none" stroke="#381400" stroke-width="6.00"/>
<path d="M572 919l32-7m-13-14l31-7m1 5l31-7m-44-13l31-6m0 4l31-6m-13-16l30-6m1 4l30-7m734-147l25-5m836 566l-23-16m-797-537l25-6m824 544l-24-16m-785-516l25-5m788 513l-23-16m-749-485l25-6m-40-12l25-5m72 33l-16-11m0-6l-16-10m73 32l-16-11m57 15l-16-11" fill="none" stroke="#380c00" stroke-width="6.00"/>
<path d="M559 900l32-7m-13-15l31-6m-13-15l31-7m1 5l31-7m-13-15l30-7m738-138l25-5m0-4l25-6m876 592l-24-16m-836-563l25-5m863 569l-23-16m-825-541l25-5m827 538l-23-16m-804-528l25-5m806 525l-23-16m-767-498l25-5m72 32l-16-11m0-5l-16-11m73 31l-16-11m58 15l-17-11" fill="none" stroke="#380300" stroke-width="6.00"/>
<path d="M494 903l32-7m1 5l32-7m-13-14l32-6m-13-15l31-7m-12-15l30-6m1 4l30-6m779-168l26-6m15 13l25-5m15 13l25-6m867 564l-24-16m27-8l-23-15m-807-524l25-5m57 16l-16-11m-25 6l25-6m72 32l-16-11m0-5l-16-11m73 31l-16-11" fill="none" stroke="#310000" stroke-width="6.00"/>
<path d="M461 904l33-7m-13-14l32-6m1 5l32-7m-45-13l32-6m0 5l32-7m-13-15l31-6m19-17l30-7m214-105l28-6m192-39l27-5m317-11l25-5m15 13l25-5m918 612l-24-16m-879-584l25-5m907 590l-24-16m-868-562l25-5m870 559l-24-16m-846-549l25-5m56 16l-16-10m-25 5l25-5m56 15l-16-10m73 31l-16-11m0-5l-16-11m73 30l-16-11m645 343l-21-14" fill="none" stroke="#270000" stroke-width="6.00"/>
<path d="M1515 648l25-5m899 478l-23-15m6-44l-22-15m-485-330l-17-11" fill="none" stroke="#1c0000" stroke-width="6.00"/>
<path d="M1911 1132l-19-14m-1 2l-19-14m0 2l-18-14m0 0l-19-13" fill="none" stroke="#001538" stroke-width="7.00"/>
<path d="M1930 1144l-19-14m27-13l-19-14m0 2l-19-14m0 2l-19-14m0 1l-19-14m0 0l-19-13m0-1l-18-13m0-1l-18-13m0-1l-18-13m0-2l-18-13" fill="none" stroke="#001f38" stroke-width="7.00"/>
<path d="M1978 1140l-20-14m0 3l-20-14m-167-122l-17-12m192 109l-19-14m0 1l-19-14m0 1l-19-13m0 0l-19-13m0-1l-18-13m0-1l-18-13m0-1l-18-13m0-2l-18-13" fill="none" stroke="#002838" stroke-width="7.00"/>
<path d="M2019 1162l-21-15m0 4l-20-14m27-12l-19-14m-1 2l-19-14m0 3l-20-14m-148-109l-18-13m0-2l-17-13m210 123l-19-14m0 2l-19-14m0 1l-19-14m0 1l-19-14m0 0l-18-13m0-1l-19-13m0-1l-18-13" fill="none" stroke="#003138" stroke-width="7.00"/>
<path d="M1098 924l28-7m0 1l28-7m0 1l28-7m0 0l28-7m0 0l28-7m0-1l27-6m774 288l-20-14m27-12l-20-14m0 4l-20-15m-243-173l-17-13m287 174l-20-14m0 3l-20-14m0 2l-20-14m-131-92l-18-13m0-2l-17-13m0-3l-18-12m116 56l-18-13" fill="none" stroke="#023836" stroke-width="7.00"/>
<path d="M1083 904l29-7m0 1l28-6m0 0l28-7m0 0l27-6m0-1l28-6m42 11l27-7m0-2l27-6m748 289l-20-15m27-11l-21-15m0 4l-20-14m-244-172l-17-13m0-3l-17-12m132 73l-18-13m0-1l-18-13m0-2l-18-13m0-2l-18-13" fill="none" stroke="#0b382d" stroke-width="7.00"/>
<path d="M1026 915l29-7m0 1l28-6m14-25l28-6m0 0l28-6m0-1l28-6m42 12l27-6m0-2l27-6m0-2l27-6m0-2l27-7m778 337l-20-15m-1 5l-21-15m28-11l-21-14m-319-225l-17-12m342 214l-20-14m0 3l-20-14m-225-159l-17-13m0-3l-17-12m114 58l-18-13m0-2l-18-12" fill="none" stroke="#153824" stroke-width="7.00"/>
<path d="M954 904l29-6m0 2l29-7m0 2l28-7m0 2l29-7m0 1l28-6m84-19l27-7m0-1l27-6m0-1l27-7m0-1l27-6m0-3l27-6m15 17l27-6m773 354l-21-15m27-10l-21-15m0 5l-21-14m27-12l-21-14m0 4l-20-14m-300-213l-17-12m0-4l-17-12m112 60l-18-12m0-3l-17-12m0-3l-18-12" fill="none" stroke="#1e381a" stroke-width="7.00"/>
<path d="M940 884l29-6m0 2l28-7m0 2l29-7m0 2l28-7m0 1l29-6m0 0l28-6m0 0l27-6m0 0l28-7m0 0l27-6m0-1l28-6m0-2l27-6m0-2l27-6m41 9l27-6m0-3l26-6m790 367l-21-15m27-11l-21-14m-1 4l-21-14m27-12l-20-14m-322-221l-18-12m96 44l-18-13m0-2l-17-12" fill="none" stroke="#273811" stroke-width="7.00"/>
<path d="M910 889l30-7m15-22l28-6m0 1l29-6m0 1l28-6m0 0l28-6m0 1l28-7m0 0l28-6m0 0l27-6m0-1l28-6m0-1l27-6m0-1l27-6m0-2l27-6m15 17l26-6m0-2l27-6m0-3l26-6m827 395l-21-15m27-10l-22-15m6-20l-21-15m-360-246l-18-12m1-4l-17-12m94 45l-18-12m0-4l-17-12m78 28l-18-12" fill="none" stroke="#303808" stroke-width="7.00"/>
<path d="M867 873l29-7m0 3l30-7m0 2l29-6m-14-18l28-6m0 1l29-6m0 1l28-6m0 1l28-7m0 1l28-6m0 0l28-6m0-1l27-6m0 0l27-6m0-1l28-6m0-2l26-6m42 10l27-6m0-2l26-6m41 7l27-6m822 413l-21-15m27-10l-22-15m27-10l-21-15m-1 5l-21-14m-356-270l-17-12m0-4l-17-12m95 44l-18-12m0-3l-17-12" fill="none" stroke="#383700" stroke-width="7.00"/>
<path d="M837 876l30-6m-14-17l29-6m1 2l29-6m0 2l29-7m14-23l29-6m0 1l28-6m0 1l28-6m0 0l28-6m0 0l27-6m0 0l28-6m0-1l27-6m0-1l27-6m41 11l27-6m0-2l27-6m0-2l26-6m15 16l26-6m0-3l27-6m865 417l-22-15m27-10l-21-15m27-11l-22-14m0 4l-22-14m-417-286l-17-11m77 29l-18-12m1-4l-17-11m94 43l-18-12" fill="none" stroke="#382e00" stroke-width="7.00"/>
<path d="M794 860l29-6m1 3l29-7m-13-17l29-6m0 2l29-6m0 2l29-6m0 1l28-6m-13-18l28-6m0 1l28-6m0 0l28-6m0 1l28-6m0 0l27-6m0-1l28-6m0 0l27-6m0-1l27-6m14 18l27-6m0-1l27-6m0-2l26-6m0-2l27-6m14 16l27-6m0-3l26-5m15 15l26-6m885 444l-22-16m-1 7l-22-15m27-10l-22-15m27-10l-22-15m-477-321l-17-11m59 14l-17-12m94 44l-18-12m0-3l-17-12" fill="none" stroke="#382600" stroke-width="7.00"/>
<path d="M780 840l30-6m0 3l29-6m-13-18l29-6m0 2l29-6m0 2l29-6m0 2l28-7m43-28l28-6m0 0l28-6m0 0l27-6m0 0l28-6m68 5l27-6m0-2l26-5m0-2l27-6m41 8l26-5m0-3l26-6m15 15l26-5m0-4l26-6m902 456l-23-15m0 6l-22-15m26-10l-21-15m26-11l-21-14m-1 5l-22-15m-457-308l-17-12m0-4l-16-11m92 44l-17-11m0-4l-17-11m94 43l-18-12m1-3l-18-12" fill="none" stroke="#381d00" stroke-width="7.00"/>
<path d="M750 844l30-7m-13-16l29-7m1 3l29-6m16-21l28-6m1 1l28-6m0 2l29-6m0 1l28-6m0 1l28-6m111-24l27-5m0-1l27-6m0-1l26-6m0-2l27-5m0-2l27-6m14 17l26-6m0-2l26-6m0-3l26-6m15 16l26-6m0-3l26-6m940 483l-22-16m3-18l-22-15m27-10l-22-15m-477-341l-17-11m76 29l-17-12m0-4l-17-11" fill="none" stroke="#381400" stroke-width="7.00"/>
<path d="M707 827l30-6m0 3l30-6m-14-17l30-6m0 3l29-7m0 3l30-6m-14-18l29-6m0 2l29-6m0 1l28-6m0 2l28-6m0 0l28-5m0 0l28-6m0 1l28-6m0 0l27-6m0 0l28-6m0-1l27-5m0-1l27-6m0-1l26-6m0-2l27-5m41 9l26-6m0-2l26-6m40 7l26-5m0-4l26-5m15 14l25-5m939 500l-23-15m27-9l-23-15m-1 6l-22-15m27-10l-22-15m26-10l-22-15m-520-340l-17-11m0-5l-17-11m75 29l-17-11m94 42l-18-11m1-3l-18-12" fill="none" stroke="#380c00" stroke-width="7.00"/>
<path d="M676 830l31-6m-13-16l29-7m1 3l29-6m-13-17l30-6m0 3l29-6m0 2l29-6m16-22l28-6m0 2l29-6m0 1l28-6m0 1l28-6m0 1l28-6m0 0l27-6m0 0l27-5m0-1l28-5m0-1l27-6m0-1l27-5m0-1l26-6m41 10l26-6m0-2l27-5m0-3l26-5m14 15l26-5m0-3l26-6m40 6l26-5m981 503l-23-16m27-9l-23-15m-1 6l-22-15m26-10l-22-15m-518-363l-17-11m0-4l-17-11m92 44l-17-12m0-4l-17-11m77 28l-18-12" fill="none" stroke="#380300" stroke-width="7.00"/>
<path d="M633 813l30-6m0 3l30-6m-13-16l30-6m0 3l30-6m17-21l29-6m0 3l29-6m0 2l29-6m15-23l28-5m0 1l28-6m0 1l28-6m0 0l28-5m0 0l27-6m0 0l28-5m0-1l27-5m0-1l27-6m0-1l27-5m40 10l27-5m0-2l26-5m0-3l26-5m41 8l26-5m0-4l25-5m15 15l26-5m0-4l25-5m15 13l25-5m980 521l-23-15m27-9l-23-16m3-18l-23-15m-575-403l-16-11m75 29l-17-11m75 28l-17-11m0-4l-17-11" fill="none" stroke="#310000" stroke-width="7.00"/>
<path d="M571 818l30-7m19-18l30-6m0 4l30-6m-13-17l30-6m0 3l30-6m0 3l29-6m-13-17l30-6m0 2l29-6m0 2l28-6m0 2l29-6m15-23l28-5m0 0l28-5m0 0l27-6m0 1l28-6m0 0l27-6m0 0l27-5m0-1l27-5m41 11l26-6m0-1l27-6m0-2l26-5m0-2l26-5m14 16l26-6m0-3l26-5m0-3l26-5m14 15l26-6m0-3l26-5m14 14l26-6m1018 548l-23-16m27-9l-24-15m27-10l-23-15m-1 7l-23-15m27-10l-23-15m-560-384l-17-11m0-5l-16-11m74 29l-17-11m76 27l-17-11m410 212l-21-13m-233-146l-19-11" fill="none" stroke="#270000" stroke-width="7.00"/>
<path d="M1981 1046l-20-13m0 0l-19-13m0 0l-18-13m0 0l-19-13" fill="none" stroke="#023836" stroke-width="8.00"/>
<path d="M2040 1082l-20-14m0 2l-20-13m0 1l-19-13" fill="none" stroke="#0b382d" stroke-width="8.00"/>
<path d="M2067 1066l-20-14m0 2l-20-13m0 1l-20-13m0 1l-19-13m0 1l-19-14m0 1l-19-13m0-1l-18-13m0 0l-19-13m0-1l-18-13" fill="none" stroke="#153824" stroke-width="8.00"/>
<path d="M2107 1088l-20-14m0 3l-20-14m6-25l-19-13m0 2l-20-14m0 1l-19-13m0 1l-19-13m-1 0l-18-13m0 0l-19-13m0-1l-19-12m0-1l-18-13m0-1l-18-13m0-2l-18-12" fill="none" stroke="#1e381a" stroke-width="8.00"/>
<path d="M2128 1099l-20-14m27-13l-21-14m0 3l-20-14m0 3l-20-14m6-25l-19-14m0 1l-20-13m0 1l-19-13m0 0l-19-13m0 0l-19-13m0 0l-19-13m0-1l-18-12m0-2l-18-12" fill="none" stroke="#273811" stroke-width="8.00"/>
<path d="M2177 1093l-21-14m-1 4l-20-14m6-24l-20-14m-1 3l-20-14m0 2l-20-13m-151-104l-18-12m0-2l-18-12m174 91l-19-13m0 1l-19-13m0 0l-19-13m0-1l-19-12" fill="none" stroke="#303808" stroke-width="8.00"/>
<path d="M2198 1103l-21-14m5-22l-20-14m-1 3l-20-14m6-24l-20-14m0 2l-20-13m0 1l-20-13m0 1l-20-13m-76-51l-18-12m0-2l-18-12m0-2l-18-12m0-2l-18-12" fill="none" stroke="#383700" stroke-width="8.00"/>
<path d="M2225 1087l-21-14m0 4l-21-14m26-13l-20-13m-1 3l-20-14m-1 3l-20-14m-228-153l-18-12m252 140l-20-13m0 1l-20-13m0 1l-19-13m0 1l-20-13m0 1l-19-13m0 0l-19-13m0 0l-19-13m0 0l-18-13m0-1l-19-12m0-2l-18-12" fill="none" stroke="#382e00" stroke-width="8.00"/>
<path d="M2247 1097l-21-14m26-12l-21-14m0 4l-21-14m5-23l-21-14m0 3l-20-14m-1 2l-20-13m-191-127l-18-12m0-2l-18-12m1-3l-18-12m250 142l-20-13m0 1l-19-12m0 0l-20-12m0 0l-19-13m0 0l-19-12m0-1l-19-12m0-1l-19-12m1-1l-19-12" fill="none" stroke="#382600" stroke-width="8.00"/>
<path d="M2274 1081l-21-14m4-22l-21-14m0 3l-21-14m6-24l-21-13m0 2l-20-13m-1 2l-20-13m-153-101l-18-12m0-2l-18-12m0-2l-18-12m194 102l-20-12m0 0l-19-13m0 0l-19-12m0 0l-19-13" fill="none" stroke="#381d00" stroke-width="8.00"/>
<path d="M2319 1100l-22-14m-1 5l-21-15m26-11l-21-14m-1 4l-21-14m26-13l-21-14m0 4l-21-14m-1 3l-20-13m-269-176l-18-12m0-3l-17-11m330 188l-21-13m0 2l-20-13m0 2l-20-13m-1 1l-19-13m-1 1l-19-12m-77-50l-19-13m0-1l-19-12m1-1l-19-12m0-2l-18-12" fill="none" stroke="#381400" stroke-width="8.00"/>
<path d="M2323 1074l-21-14m4-22l-21-13m4-24l-21-13m0 3l-21-13m-252-161l-18-12m0-2l-18-12m1-2l-18-12m290 164l-20-12m-1 1l-20-13m0 1l-19-12m-1 0l-19-12m0 0l-20-12m0 0l-19-13m0 0l-19-12m0-1l-19-12m1-1l-19-12m0-1l-19-12" fill="none" stroke="#380c00" stroke-width="8.00"/>
<path d="M2368 1093l-22-14m0 5l-22-14m26-12l-22-14m0 4l-22-14m26-12l-21-14m0 4l-21-14m-348-224l-18-11m370 211l-21-13m0 3l-20-13m-1 2l-20-13m-193-124l-19-12m0-2l-18-11m0-3l-18-11m213 113l-19-12m0 0l-20-12m0 0l-19-12m0-1l-19-12m0 0l-19-12m0-1l-19-12" fill="none" stroke="#380300" stroke-width="8.00"/>
<path d="M2392 1103l-23-15m27-11l-23-14m0 5l-22-15m26-11l-22-14m0 4l-22-14m4-23l-21-13m0 3l-21-13m-310-198l-18-11m0-3l-18-11m350 198l-20-13m-197-120l-18-11m0-2l-19-12m1-2l-19-11" fill="none" stroke="#310000" stroke-width="8.00"/>
<path d="M2419 1086l-23-14m4-21l-22-14m3-22l-21-13m-1 3l-21-13m-388-247l-18-11m431 245l-21-13m0 3l-21-14m-1 3l-20-13m-272-171l-19-12m1-2l-18-12m0-2l-18-12m210 116l-20-12m0 0l-19-12m0-1l-19-12m0-1l-19-12m0-1l-18-11m0-2l-19-12" fill="none" stroke="#270000" stroke-width="8.00"/>
<path d="M2237 914l-20-13m0 1l-20-12" fill="none" stroke="#380300" stroke-width="9.00"/>
<path d="M2278 936l-20-13m0 2l-21-13" fill="none" stroke="#310000" stroke-width="9.00"/>
<path d="M2304 920l-20-13m0 2l-21-13m0 2l-20-13m0 1l-20-12m0 0l-20-12m0 0l-19-12" fill="none" stroke="#270000" stroke-width="9.00"/>
<path d="M1598 1158l-15-11-18-10-20-8-22-8-24-5-25-5-25-3-26-1-26 1-26 2-24 3-24 6-22 6-20 9-18 9-15 11-12 11-10 13-6 13-2 13 1 14 4 14 8 13 12 13 15 12 18 11 20 9 23 9 25 6 27 5 27 3 28 2 28-1 28-3 26-4 25-6 22-8 20-9 18-11 14-11 11-13 7-13 5-13 0-14-3-13-6-13-10-13zM1439 1204l0 1 1 1 0 1 0 1-1 1 0 1-1 1-1 1-1 0-2 1-2 1-1 0-2 0-2 1-2 0-2 0-2-1-2 0-2-1-2 0-1-1-1-1-2 0 0-1-1-1-1-1 0-1 0-1 1-1 0-1 1-1 1-1 2-1 1 0 2-1 2 0 2-1 2 0 1 0 2 0 2 1 2 0 2 0 2 1 1 1 2 0 1 1z" fill="#00008c"/>
<path d="M1584 1160l-14-10-17-9-18-8-20-6-22-6-23-4-23-3-24-1-24 1-23 2-23 3-21 5-21 6-18 8-16 8-14 10-11 11-9 11-5 12-3 13 1 12 5 12 7 13 11 11 13 11 17 10 19 9 21 7 23 6 24 5 25 3 25 1 26-1 25-2 24-4 22-6 21-7 18-8 16-10 13-10 10-11 7-12 4-12 1-13-3-12-6-12-9-12zM1445 1201l1 1 0 2 0 1 0 2 0 1-1 1-1 2-2 1-2 1-2 1-2 0-3 1-3 1-2 0-3 0-3 0-3-1-3 0-2-1-2-1-3-1-2-1-1-1-1-1-1-2-1-1 0-1 0-2 1-1 1-2 1-1 1-1 2-1 2-1 3-1 2 0 3-1 3 0 2 0 3 0 3 0 3 1 2 1 3 0 2 1 2 1 1 2z" fill="#0000a7"/>
<path d="M1576 1161l-13-10-16-9-17-7-19-7-21-5-22-4-22-2-23-1-22 0-23 2-21 3-21 5-19 6-18 7-15 8-13 10-11 10-8 11-5 11-2 12 1 11 4 12 7 12 10 11 13 10 16 10 18 8 20 7 21 6 23 4 24 3 24 1 24-1 24-2 23-4 21-5 20-7 17-8 16-9 12-10 10-10 6-12 4-11 1-12-3-12-5-11-9-11zM1448 1198l2 2 0 1 1 2-1 2 0 2-1 1-2 2-2 1-2 1-2 1-3 1-3 1-3 1-4 0-3 0-3 0-4-1-3 0-3-1-3-1-2-1-3-1-2-2-1-1-1-2-1-2 0-1 0-2 1-2 1-1 1-2 2-1 2-1 3-2 3 0 3-1 3-1 3 0 3 0 4 0 3 0 3 1 3 1 3 1 3 1 2 1 2 2z" fill="#0000c1"/>
<path d="M1571 1160l-13-9-15-8-17-8-19-6-19-5-21-4-22-2-22-1-22 0-21 2-21 3-20 5-18 5-17 7-15 8-13 9-10 10-8 11-5 10-2 12 1 11 4 11 7 11 10 11 13 10 15 9 17 8 19 7 21 6 22 4 23 2 23 1 24 0 22-2 22-4 21-5 19-7 16-7 15-9 12-9 9-11 7-11 3-11 1-11-2-11-6-11-8-11zM1451 1196l2 1 0 2 1 2-1 2 0 2-1 2-2 1-2 2-3 1-2 2-4 1-3 0-3 1-4 0-4 0-4 0-4 0-3-1-4-1-3-1-3-1-2-2-2-1-2-2-1-2-1-2 0-2 0-1 1-2 1-2 2-2 2-1 2-2 3-1 3-1 4-1 3 0 4 0 4-1 3 1 4 0 4 1 3 1 3 1 3 1 2 1 3 2z" fill="#0000db"/>
<path d="M1567 1159l-13-9-14-8-17-7-18-6-19-5-20-3-21-3-22-1-21 1-21 1-20 4-19 4-18 5-16 7-15 8-12 9-10 9-8 10-4 11-2 11 1 11 3 11 7 10 10 11 12 9 14 9 17 8 19 7 20 5 21 4 23 2 22 1 23 0 22-2 21-4 20-5 18-6 17-7 14-9 12-9 9-10 6-10 3-11 1-11-2-11-5-11-8-10zM1454 1193l1 2 1 2 0 2 0 2-1 2-1 2-2 2-2 2-3 1-3 2-3 1-4 1-4 0-4 1-4 0-4 0-4-1-4-1-4-1-3-1-3-1-3-2-3-2-1-1-2-2-1-2 0-3 0-2 1-2 2-2 1-1 3-2 2-2 3-1 4-1 4-1 3 0 4-1 5 0 4 0 4 1 4 0 3 1 4 2 3 1 3 2 2 1z" fill="#0019db"/>
<path d="M1563 1158l-12-8-14-8-16-7-18-6-19-5-19-3-21-3-21-1-20 1-21 2-19 3-19 4-17 5-16 7-14 7-13 9-9 9-7 10-5 10-2 11 1 11 4 10 6 11 10 10 11 9 15 9 16 7 18 7 20 5 21 4 21 2 22 1 22 0 22-2 20-4 20-5 18-6 16-7 13-8 12-9 9-10 6-10 3-10 1-11-3-11-4-10-8-10zM1456 1191l2 2 0 2 1 2 0 2-1 3-2 2-1 2-3 2-3 1-3 2-4 1-4 1-4 0-4 1-5 0-4 0-5-1-4-1-4-1-4-1-3-1-3-2-3-2-2-2-1-2-1-2 0-3 0-2 1-2 1-2 2-2 3-2 3-1 3-2 4-1 4-1 4-1 4 0 5 0 4 0 4 1 5 0 4 1 3 2 4 1 3 2 2 2z" fill="#0034d9"/>
<path d="M1560 1157l-12-8-14-8-15-7-18-6-18-4-19-4-20-2-20-1-21 1-20 1-19 3-18 4-17 6-16 6-14 7-11 9-10 9-7 9-4 10-2 11 1 10 3 11 7 10 9 10 12 9 13 8 16 7 18 7 19 5 21 4 21 2 21 1 22 0 21-2 20-4 19-4 17-6 16-7 13-8 11-9 9-10 6-10 3-10 1-10-2-11-5-10-7-10zM1458 1188l2 3 1 2 0 2 0 3-1 2-2 2-2 2-2 2-3 2-4 1-4 2-4 1-4 0-5 1-5 0-5 0-4-1-5-1-4-1-4-1-4-2-3-2-2-2-2-2-2-2-1-2 0-3 0-2 1-2 2-3 2-2 2-2 3-1 4-2 4-1 4-1 4-1 5 0 5 0 4 0 5 1 4 0 5 1 3 2 4 1 3 2 3 2z" fill="#004ed8"/>
<path d="M1557 1156l-11-8-14-8-15-6-17-6-18-5-19-3-20-2-19-1-20 0-20 2-19 3-18 4-16 5-15 6-14 7-11 9-10 8-7 10-4 10-2 10 1 10 4 10 6 10 9 10 11 9 14 8 16 7 17 6 19 5 20 4 20 2 21 1 21 0 21-2 20-3 18-5 17-6 15-7 14-7 10-9 9-9 6-10 3-10 1-10-2-10-5-10-7-10zM1460 1186l2 2 1 3 0 2 0 3-1 2-2 3-2 2-3 2-3 2-3 1-5 2-4 1-5 0-5 1-5 0-5 0-5-1-4-1-5-1-4-1-4-2-3-2-3-2-2-2-2-3-1-2 0-3 0-2 1-3 2-2 2-2 3-2 3-2 4-2 4-1 4-1 5-1 5 0 5 0 5 0 4 1 5 0 5 2 4 1 4 2 3 2 3 2z" fill="#0068d7"/>
<path d="M1555 1155l-12-8-13-8-15-6-16-6-18-4-19-4-19-2-19-1-20 1-19 1-18 3-18 4-16 5-15 6-14 7-11 8-9 9-7 9-4 10-2 10 1 10 4 10 6 10 9 9 11 9 13 8 15 7 18 6 18 5 19 3 21 3 20 0 21 0 20-2 19-3 19-4 16-6 15-7 13-7 11-9 8-9 6-9 3-10 1-10-2-10-5-10-7-9zM1462 1184l2 2 1 3 0 2 0 3-1 2-2 3-2 2-3 2-3 2-4 2-5 1-4 2-5 0-5 1-6 0-5 0-5-1-5-1-5-1-4-2-4-1-4-2-3-3-2-2-2-3-1-2 0-3 0-2 1-3 2-2 2-3 3-2 3-2 4-1 5-2 4-1 5-1 5 0 6 0 5 0 5 1 5 1 5 1 4 1 4 2 3 2 3 2z" fill="#0082d5"/>
<path d="M1553 1153l-12-8-13-7-14-6-17-6-17-4-18-3-19-2-19-1-19 0-19 2-18 2-18 4-16 5-14 6-13 7-11 8-9 8-7 10-4 9-2 10 1 10 4 10 6 9 8 9 11 9 13 8 15 7 17 5 18 5 19 4 20 2 20 1 21 0 19-2 19-3 18-5 17-5 14-7 13-7 10-9 9-9 5-9 3-10 1-9-2-10-4-10-7-9zM1463 1181l2 3 1 3 1 2 0 3-1 3-2 2-2 3-3 2-4 2-4 2-5 1-5 1-5 1-5 1-6 0-5 0-6-1-5-1-5-1-4-2-5-2-3-2-3-2-3-3-1-2-2-3 0-3 0-3 2-2 1-3 3-2 3-2 3-2 4-2 5-2 5-1 5 0 5-1 6 0 5 0 5 1 6 1 4 1 5 2 4 1 4 2 3 3z" fill="#009bd4"/>
<path d="M1550 1152l-11-8-12-7-15-6-16-6-17-4-18-3-18-2-19-1-19 0-18 2-18 3-17 3-16 5-15 6-12 7-11 8-9 8-6 9-5 9-1 10 1 10 3 9 6 10 9 9 10 8 13 8 15 6 16 6 18 5 19 3 20 3 19 0 20 0 20-2 18-3 18-4 16-5 14-7 13-7 10-8 8-9 6-9 3-10 0-9-2-10-4-9-7-9zM1465 1179l2 3 1 2 1 3-1 3-1 3-1 3-3 2-3 2-4 3-4 1-5 2-5 1-5 1-6 1-6 0-5-1-6 0-5-1-6-2-4-1-5-2-3-2-4-3-2-2-2-3-1-3-1-3 1-3 1-2 2-3 2-3 3-2 4-2 4-2 5-1 5-1 6-1 5-1 6 0 5 0 6 1 5 1 5 1 5 2 4 2 4 2 3 2z" fill="#00b4d3"/>
<path d="M1548 1151l-11-8-12-7-15-6-15-6-17-4-17-3-19-2-18-1-19 1-18 1-17 3-17 4-16 4-14 6-12 7-11 7-8 9-7 8-4 9-1 10 0 9 4 10 6 9 8 9 11 8 12 8 15 6 16 6 17 5 19 3 19 2 19 1 20 0 19-2 18-3 17-4 16-6 14-6 13-7 10-8 8-9 5-9 3-9 1-9-2-10-4-9-7-9zM1467 1177l2 2 1 3 0 3 0 3-1 3-2 3-2 3-4 2-3 2-5 2-5 2-5 1-6 1-6 0-6 0-5 0-6 0-6-2-5-1-5-2-5-2-4-2-3-2-3-3-2-3-1-3 0-3 0-3 1-3 2-2 3-3 3-2 4-3 4-1 5-2 6-1 5-1 6-1 6 0 6 1 5 0 6 1 5 2 5 1 5 2 4 2 3 3z" fill="#00cdd2"/>
<path d="M1546 1149l-10-7-13-7-14-6-15-6-17-4-17-3-18-2-18-1-18 1-18 1-17 3-17 4-15 4-14 6-12 7-11 7-8 8-6 9-4 9-2 9 1 9 3 9 6 10 8 8 11 8 12 8 14 6 16 6 17 4 18 4 19 2 19 1 20-1 18-1 18-3 17-5 16-5 14-6 12-7 10-8 8-8 5-9 3-9 1-10-2-9-5-9-6-9zM1468 1174l2 3 1 3 1 3-1 3-1 3-1 3-3 3-3 2-4 3-5 2-5 1-5 2-6 0-6 1-6 0-7 0-6-1-5-1-6-1-5-2-5-2-4-3-3-2-3-3-2-3-1-3-1-3 1-3 1-3 2-3 3-2 3-3 4-2 5-2 5-2 5-1 6-1 6 0 6 0 6 0 6 1 5 1 6 1 5 2 5 2 4 2 3 3z" fill="#15d1bc"/>
<path d="M1544 1148l-10-8-12-7-14-6-15-5-16-4-18-3-17-2-18 0-18 0-17 1-17 3-17 4-15 4-13 6-12 6-11 8-8 7-6 9-4 9-2 9 1 9 4 9 5 9 8 9 11 7 12 8 14 6 15 6 17 4 18 3 19 2 18 1 19 0 19-2 17-3 17-4 15-5 14-6 12-7 10-7 7-9 6-8 3-9 0-10-2-9-4-9-6-8zM1470 1172l2 3 1 3 1 3-1 3-1 3-2 3-3 3-3 3-4 2-5 2-5 2-6 1-6 1-6 1-6 0-7 0-6-1-6-1-6-2-5-1-5-3-4-2-4-3-3-3-2-3-1-3 0-3 0-3 1-3 2-3 3-3 4-2 4-3 5-2 5-1 5-2 6-1 7 0 6 0 6 0 6 1 6 1 6 1 5 2 5 2 4 3 4 2z" fill="#2fd0a2"/>
<path d="M1543 1146l-11-7-12-7-13-6-15-5-16-4-17-3-17-2-18 0-18 0-17 1-17 3-16 3-14 5-14 6-12 6-10 7-8 8-6 8-4 9-2 9 1 9 4 9 5 9 8 8 10 8 12 7 14 6 15 6 17 4 18 3 18 2 18 1 19 0 18-2 18-3 16-4 15-5 14-6 11-7 10-7 7-8 6-9 3-9 0-9-2-9-4-8-6-9zM1471 1170l2 3 2 3 0 3 0 3-1 4-2 3-3 3-4 2-4 3-5 2-5 2-6 1-6 1-7 1-6 0-7-1-6 0-7-1-6-2-5-2-5-2-5-3-3-2-3-3-2-4-1-3-1-3 1-3 1-3 2-3 3-3 3-3 5-2 5-2 5-2 6-1 6-1 6-1 7 0 6 0 7 1 6 1 6 2 5 1 5 3 4 2 4 3z" fill="#48cf88"/>
<path d="M1541 1145l-10-7-12-7-14-6-14-5-16-4-16-3-18-2-17 0-17 0-17 1-17 3-15 3-15 5-13 5-12 7-10 7-8 7-6 8-4 9-1 9 1 9 3 9 6 8 7 8 10 8 12 7 14 6 15 6 16 4 17 3 18 2 18 1 19-1 17-1 18-3 16-4 15-5 13-6 11-6 10-8 7-8 6-8 2-9 1-9-2-8-4-9-6-8zM1472 1167l3 4 1 3 1 3-1 4-1 3-2 3-3 3-3 3-5 2-5 2-5 2-6 2-7 1-7 0-6 0-7 0-7-1-6-1-6-1-6-2-5-3-5-2-3-3-3-3-3-3-1-4 0-3 0-3 2-4 2-3 3-3 3-2 5-3 5-2 5-2 6-1 7-1 6-1 7 0 6 1 7 0 6 1 6 2 6 2 5 2 5 3 3 2z" fill="#61cf6e"/>
<path d="M1539 1143l-10-7-12-6-13-6-14-5-16-4-16-3-17-2-17 0-17 0-17 1-16 3-15 3-15 5-13 5-11 6-10 7-8 8-6 8-4 8-1 9 1 9 3 8 5 9 8 8 10 7 12 7 13 6 15 6 16 4 17 3 18 2 17 1 18-1 18-1 17-3 16-4 14-5 13-5 12-7 9-7 7-8 6-8 2-9 1-9-2-8-4-9-6-8zM1474 1165l2 3 2 4 0 3 0 4-1 3-2 3-3 3-4 3-5 3-5 2-5 2-7 1-6 1-7 1-7 0-7 0-7-1-7-1-6-2-6-2-5-2-5-3-4-3-3-3-2-3-1-4-1-3 1-4 1-3 2-3 3-3 4-3 5-2 5-3 6-1 6-2 6-1 7 0 7-1 7 1 7 0 6 2 6 1 6 2 5 3 5 2 4 3z" fill="#7ace54"/>
<path d="M1538 1142l-10-7-12-7-13-5-14-5-15-4-16-3-17-2-17 0-17 0-16 1-16 3-15 3-14 4-13 6-12 6-9 7-8 7-6 8-4 8-1 9 1 8 3 9 5 8 8 8 10 8 11 6 13 7 15 5 16 4 16 3 18 2 18 1 17-1 17-1 17-3 16-4 14-5 13-5 11-7 9-7 8-8 5-8 2-8 1-9-2-8-4-9-6-8zM1475 1163l3 3 1 4 1 3 0 4-2 3-2 4-3 3-4 3-4 2-6 3-6 2-6 1-7 1-7 1-7 0-7 0-7-1-7-1-7-2-6-2-5-3-5-2-4-3-3-4-2-3-2-4 0-3 0-4 2-3 2-3 3-4 4-2 5-3 5-2 6-2 6-2 7-1 7 0 7 0 7 0 7 1 7 1 6 2 6 2 5 2 5 3 4 3z" fill="#93ce3b"/>
<path d="M1536 1140l-10-7-11-6-13-6-14-4-15-4-16-3-16-2-17 0-16 0-17 1-15 3-15 3-14 4-13 5-11 6-10 7-7 7-6 8-4 8-1 9 1 8 3 9 5 8 8 8 9 7 12 7 13 6 14 5 16 4 16 3 17 2 18 1 17-1 17-1 16-3 16-4 14-4 13-6 11-6 9-7 7-8 5-8 3-8 0-9-2-8-3-8-6-8zM1477 1161l2 3 2 4 1 3-1 4-1 3-2 4-3 3-4 3-5 3-6 2-6 2-6 2-7 1-8 1-7 0-8-1-7 0-7-2-7-1-6-3-5-2-5-3-4-3-4-3-2-4-1-4-1-3 1-4 1-3 2-4 4-3 4-3 5-3 5-2 6-2 7-1 7-1 7-1 7 0 7 0 7 1 7 1 7 2 6 2 6 2 4 3 5 3z" fill="#adce21"/>
<path d="M1534 1139l-9-7-11-6-13-6-14-4-15-4-15-3-16-2-17 0-16 0-16 1-16 2-14 4-14 4-12 5-11 6-10 7-7 7-6 8-3 8-2 8 1 8 3 8 5 8 8 8 9 7 11 7 13 6 14 5 15 4 17 3 16 2 18 0 17 0 16-1 17-3 15-4 14-4 12-6 11-6 9-7 7-8 5-7 3-9 0-8-2-8-3-8-6-8zM1478 1158l3 4 1 3 1 4 0 4-2 4-2 3-3 3-4 4-5 2-6 3-6 2-7 1-7 2-7 0-8 0-8 0-7-1-7-1-7-2-7-2-5-3-5-3-5-3-3-3-2-4-2-4 0-3 0-4 2-4 2-3 3-3 5-3 5-3 5-2 6-2 7-2 7-1 8-1 7 0 7 1 8 0 7 2 7 1 6 2 6 3 5 3 4 3z" fill="#c6ce08"/>
<path d="M1533 1137l-10-7-11-6-12-5-14-5-14-3-16-3-15-2-17 0-16 0-15 1-16 2-14 4-14 4-12 5-11 6-9 6-8 7-5 8-3 8-2 8 1 8 3 8 5 8 7 8 10 7 11 6 12 6 14 5 15 4 16 3 17 1 17 1 16 0 17-2 16-2 15-4 13-4 13-6 10-6 9-7 7-7 5-8 3-8 0-8-1-8-4-8-6-8zM1480 1156l3 4 1 3 1 4-1 4-1 4-2 3-4 4-4 3-5 3-6 2-6 3-7 1-7 1-8 1-8 0-8 0-8-1-7-1-7-2-7-3-6-2-5-3-4-3-3-4-3-4-1-3-1-4 1-4 1-4 3-3 3-4 4-3 5-3 6-2 7-2 7-2 7-1 7-1 8 0 8 1 7 1 8 1 6 2 7 2 6 2 5 3 4 3z" fill="#cebd00"/>
<path d="M1531 1136l-9-7-11-6-12-5-14-5-14-3-15-3-16-2-16-1-15 1-16 1-15 2-14 3-14 5-12 5-10 5-9 7-8 7-5 7-3 8-2 8 1 8 3 8 5 8 7 7 9 7 11 6 12 6 14 5 15 4 16 3 16 1 17 1 16 0 16-2 16-2 15-4 13-4 12-5 11-7 8-6 7-7 5-8 3-8 0-8-1-8-4-8-6-7zM1481 1154l3 3 2 4 0 4 0 4-2 4-2 4-3 3-5 3-5 3-6 3-6 2-7 2-8 1-8 1-8 0-8-1-8 0-7-2-8-2-6-2-6-3-6-3-4-3-4-4-2-4-2-3 0-4 0-4 2-4 2-4 4-3 4-3 5-3 6-3 7-2 7-1 7-2 8 0 8 0 8 0 8 1 7 1 7 2 7 2 6 3 5 3 5 3z" fill="#cea500"/>
<path d="M1529 1134l-9-7-10-5-12-6-14-4-14-4-15-2-15-2-15-1-16 1-15 1-15 2-14 3-13 4-12 5-11 6-9 6-7 7-5 7-3 8-2 8 1 8 3 8 5 7 7 7 9 7 11 7 12 5 13 5 15 4 15 2 16 2 17 1 16 0 16-2 15-2 15-4 13-4 12-5 10-6 9-7 6-7 5-7 3-8 0-8-1-8-4-8-5-7zM1483 1151l3 4 1 4 1 4 0 4-2 4-2 4-4 4-4 3-6 3-6 3-6 2-8 2-8 1-8 0-8 1-8-1-8-1-8-1-8-2-6-2-7-3-5-3-5-4-3-4-3-3-1-4-1-4 1-4 1-4 3-4 3-4 5-3 5-3 6-2 7-3 7-1 8-1 8-1 8 0 8 0 8 1 8 1 7 2 7 3 6 2 5 3 5 4z" fill="#ce8e00"/>
<path d="M1528 1132l-9-6-11-6-12-5-12-4-14-4-15-2-15-2-15-1-16 1-15 1-14 2-14 3-13 4-12 5-10 5-9 7-7 6-5 8-3 7-2 8 1 8 3 7 5 8 7 7 9 7 10 6 12 5 13 5 15 4 15 2 16 2 16 1 16 0 15-2 15-2 15-4 13-4 11-5 10-6 9-6 6-7 5-8 3-7 0-8-1-8-4-7-5-8zM1484 1149l3 4 2 4 1 4-1 4-1 4-3 4-3 4-5 3-5 4-7 2-6 2-8 2-8 2-8 0-9 0-8 0-9-1-8-1-7-2-7-3-7-3-5-3-5-3-4-4-3-4-1-4-1-5 1-4 2-4 2-4 4-3 5-4 5-3 6-2 7-2 8-2 8-1 8-1 8 0 8 0 9 1 7 2 8 2 7 2 6 3 6 3 5 3z" fill="#ce7600"/>
<path d="M1526 1131l-9-6-10-6-12-5-13-4-13-4-15-2-14-2-15 0-15 0-15 1-14 2-14 3-13 4-11 5-10 5-9 6-7 7-5 7-3 7-1 8 1 7 3 8 4 7 7 7 9 7 10 6 12 5 13 5 14 3 15 3 15 2 16 1 15-1 16-1 14-2 14-4 13-4 12-5 10-6 8-6 6-7 5-7 2-8 1-7-2-8-3-7-5-7zM1486 1147l3 4 2 4 1 4-1 4-1 5-3 4-4 3-4 4-6 3-6 3-8 2-7 2-9 1-8 1-9 0-8 0-9-1-8-2-8-2-7-2-7-3-6-3-5-4-3-4-3-4-2-4 0-5 0-4 2-4 3-4 4-4 4-3 6-3 6-3 8-2 7-2 8-1 9-1 8 0 9 1 8 0 8 2 8 2 7 2 6 3 6 3 5 4z" fill="#cf5f00"/>
<path d="M1524 1129l-9-6-10-5-11-5-12-4-14-4-14-2-14-2-15-1-15 1-15 1-14 2-13 3-12 4-12 4-10 6-8 6-7 6-5 7-3 7-1 8 1 7 3 8 4 7 7 7 8 6 10 6 12 5 13 5 14 3 14 3 15 2 16 0 15 0 15-1 15-3 13-3 13-4 11-5 10-5 8-7 6-6 5-7 2-8 1-7-1-8-4-7-5-7zM1488 1144l3 5 2 4 0 4 0 4-2 5-2 4-4 4-5 3-6 4-6 3-8 2-8 2-8 1-9 1-9 0-9 0-8-1-9-2-8-2-7-3-7-3-6-3-5-4-4-4-3-4-2-4 0-5 1-4 1-4 3-4 4-4 5-4 6-3 6-3 8-2 8-2 8-1 8-1 9 0 9 1 8 1 9 1 8 2 7 3 7 3 6 3 5 3z" fill="#d04700"/>
<path d="M1522 1128l-8-6-10-6-11-4-13-4-13-4-13-2-15-2-14 0-15 0-14 1-14 2-13 3-12 4-11 4-10 5-8 6-7 7-4 6-3 7-2 8 1 7 3 7 5 7 6 7 8 6 10 6 11 5 13 5 13 3 15 3 15 1 15 1 15 0 15-1 14-3 13-3 12-4 12-5 9-5 8-6 6-7 5-7 2-7 1-7-2-8-3-7-5-7zM1490 1142l3 4 2 5 0 4 0 5-2 4-2 4-4 4-5 4-6 3-7 3-7 3-9 2-8 1-9 1-10 0-9 0-9-1-9-2-8-2-8-3-7-3-6-3-5-4-4-4-3-5-2-4 0-5 1-4 1-5 3-4 4-4 5-3 6-4 7-2 8-3 8-2 8-1 9-1 9 0 9 1 9 1 9 1 8 2 7 3 7 3 6 3 5 4z" fill="#d12f00"/>
<path d="M1520 1126l-8-5-10-6-11-4-12-4-12-4-14-2-14-2-14 0-14 0-14 1-14 2-13 3-11 4-11 4-10 5-8 6-6 6-5 7-3 7-1 7 1 7 2 7 5 7 6 6 8 7 10 5 11 5 12 5 13 3 14 3 15 1 15 1 15 0 14-2 14-2 13-3 12-4 11-5 9-5 8-6 6-6 4-7 3-7 0-7-1-7-3-7-5-7zM1491 1140l4 4 2 5 0 4 0 5-2 4-2 5-4 4-5 4-7 3-7 3-7 3-9 2-9 1-9 1-10 0-9 0-9-1-9-2-9-2-8-3-7-3-6-4-6-4-4-4-3-5-2-4 0-5 1-4 1-5 3-4 5-4 5-4 6-3 7-3 8-3 8-1 9-2 9-1 9 0 9 1 10 1 8 1 9 2 8 3 7 3 6 4 5 3z" fill="#d21700"/>
<path d="M1518 1125l-8-6-10-5-10-4-12-4-12-4-14-2-13-1-14-1-14 0-14 1-13 2-12 3-12 4-10 4-10 5-7 6-7 6-4 6-3 7-1 7 0 7 3 7 4 6 7 7 7 6 10 5 11 5 12 4 13 4 13 2 14 2 15 0 14 0 14-1 14-2 13-3 11-4 11-5 9-5 8-6 6-6 4-7 2-6 1-7-2-7-3-7-5-7zM1494 1137l3 5 2 4 1 5 0 5-2 5-3 4-4 4-5 4-7 4-7 3-8 3-9 2-9 1-10 1-10 0-9 0-10-1-9-2-9-2-8-3-8-3-6-4-6-4-4-5-3-4-2-5 0-5 0-5 2-4 3-5 5-4 5-4 6-3 8-3 8-3 8-2 9-1 10-1 9 0 10 1 9 1 9 1 9 2 8 3 7 3 7 4 5 4z" fill="#d20000"/>
<path d="M1516 1124l-8-6-9-5-11-4-11-4-12-3-13-3-14-1-13-1-14 1-13 1-13 2-12 2-11 4-10 4-9 5-8 5-6 6-5 6-3 7-1 7 1 6 3 7 4 7 6 6 8 6 9 5 10 5 12 4 13 3 13 3 14 1 14 1 14 0 14-2 13-2 12-3 12-3 10-5 9-5 7-6 6-6 4-6 3-7 0-6-1-7-3-7-5-6zM1496 1135l3 4 3 5 0 5 0 5-2 5-3 5-4 4-5 4-7 4-7 3-9 3-9 2-9 1-10 1-10 0-11 0-10-1-9-2-9-2-9-3-7-4-7-4-6-4-4-4-3-5-2-5-1-5 1-5 2-5 3-4 5-5 5-3 7-4 7-3 8-3 9-2 10-1 9-1 10 0 10 0 10 1 9 2 9 2 8 3 8 3 7 4 5 4z" fill="#b60000"/>
<path d="M1513 1122l-8-5-9-5-10-4-11-4-12-3-12-2-13-2-13 0-13 0-13 1-12 2-12 3-11 3-10 4-9 5-7 5-6 6-5 6-2 6-1 7 1 6 2 7 4 6 6 6 8 6 8 5 11 5 11 3 12 4 13 2 13 1 14 1 13 0 14-1 12-2 12-3 12-4 10-4 8-5 7-6 6-5 4-7 2-6 1-7-2-6-2-7-5-6zM1499 1132l4 5 2 5 1 5-1 5-1 5-4 5-4 5-6 4-6 4-8 3-9 3-9 2-10 2-11 1-10 0-11-1-10-1-11-2-9-2-9-3-8-4-7-4-6-4-4-5-4-5-2-5 0-5 0-5 3-5 3-5 5-4 5-5 7-3 8-3 9-3 9-2 10-2 10-1 10 0 11 1 10 1 10 2 9 2 9 3 7 3 7 4 6 4z" fill="#9a0000"/>
<path d="M1509 1122l-8-6-8-4-10-4-10-4-11-3-12-2-12-1-13-1-12 1-12 1-12 1-11 3-11 3-9 4-9 4-7 5-5 6-5 5-2 7-1 6 1 6 2 6 4 6 6 6 7 5 8 5 10 4 10 4 12 3 12 2 13 2 13 0 13 0 12-1 12-2 12-3 10-3 10-4 8-5 7-5 5-5 4-6 2-6 1-7-2-6-2-6-5-6zM1503 1129l4 5 2 6 1 5 0 6-2 5-3 5-5 5-6 4-7 4-8 4-10 3-10 2-10 2-11 1-11 0-12 0-11-2-10-2-10-2-10-3-8-4-7-4-7-5-4-5-4-5-2-6-1-5 1-6 2-5 4-5 5-5 6-4 7-4 9-3 9-3 9-2 11-2 10-1 11 0 11 1 11 1 10 2 10 2 9 3 9 4 7 4 6 4z" fill="#7e0000"/>
<path d="M3654 1012l1624-354 1171 763-1947 731z" fill="#00007e"/>
<path d="M3654 1012L5278 658M5278 658L6449 1421M6449 1421L4502 2152M4502 2152L3654 1012M3654 1012L3620 762M5278 658L5290 444M6449 1421L6501 1162" stroke="#e6e6e6" stroke-width="4.80" fill="none"/>
<path d="M3631 842l1655-329 1198 732-1991 697z" fill="#700000"/>
<path d="M5394 1083l-48-30-55-27-61-22-66-17-70-13-72-7-74-2-73 3-71 9-68 13-64 19-59 23-50 28-43 32-32 36-22 38-9 40 3 42 17 41 30 40 44 38 56 34 66 29 76 24 83 16 87 10 89 2 87-6 83-13 77-20 68-26 57-31 45-35 33-38 20-40 6-41-5-40-18-39-29-36z" fill="#0000b3"/>
<path d="M5129 1290l59-17-19-16-58 18zm-78 2l176-51-19-15-175 51zm-48-7l234-67-19-15-232 67zm-47-6l262-76-18-15-262 75zm-18-16l290-83-18-14-289 81zm-17-16l289-81-18-15-288 81zm-17-15l288-81-17-14-288 80zm13-23l230-64-18-14-229 63zm-17-16l229-63-17-14-229 62zm13-23l171-46-17-15-171 47z" fill="#00007e" stroke="#00007e" stroke-width="2.80" stroke-linejoin="round"/>
<path d="M5106 1337l149-44-19-16-148 44zm-79 3l266-79-19-16-265 79zm-49-7l151-44-18-16-151 44zm210-61l115-34-19-15-115 33zm-228 45l91-26-18-16-90 26zm267-78l85-25-19-15-85 25zm-315 71l91-27-17-16-91 26zm325-94l56-17-18-14-56 16zm-342 77l61-17-18-16-61 18zm324-93l83-24-18-14-84 24zm-342 78l61-17-17-16-61 17zm351-101l56-15-18-15-56 16zm-368 85l61-17-17-15-61 17zm350-99l56-16-18-14-55 16zm-367 83l61-16-17-16-60 17zm350-98l55-15-18-14-55 15zm-366 83l90-25-17-15-90 25zm320-89l83-23-18-14-83 23zm-337 73l90-24-17-15-89 24zm319-87l56-15-18-14-55 15zm-305 64l89-24-17-14-88 24zm260-71l83-22-17-14-83 22zm-247 49l286-77-17-14-285 76zm13-23l228-61-17-14-227 60zm42-31l86-23-17-14-85 23zm-58 15l29-7 0-2-29 7zm29-6l29-8 0-2-29 8zm29-8l29-7 0-2-29 8zm-16-15l29-8 0-2-29 7zm45 8l28-8 0-1-28 7zm-16-16l28-7 0-3-28 8zm44 8l29-7 0-2-29 8zm-16-15l28-8 0-2-28 7zm45 8l28-8 0-2-28 8zm28-8l28-8 0-2-28 8zm287 173l-19-16 0-1 19 15zm-243-166l28-8 0-1-28 7zm-16-16l27-7 0-2-27 7zm269 158l-19-15 0-2 19 15zm-19-14l-19-15 0-1 19 15zm-144-116l-17-13 0-2 17 14zm-17-15l-17-13 0-2 17 13zm-45-6l28-7 0-2-28 7zm234 127l-19-14 0-3 19 15zm-19-13l-18-15 0-2 18 14zm-18-14l-19-15 0-2 19 15zm-19-15l-18-14 0-2 18 14zm-18-14l-18-14 0-2 18 14zm-18-14l-18-15 1-1 17 14zm-18-15l-17-14 0-2 18 14zm-17-15l-18-14 1-2 17 14zm-18-15l-17-13 0-3 18 14zm136 78l-19-15 0-3 19 15zm-19-14l-18-15 0-3 18 15zm-18-15l-18-14 0-3 18 15zm-18-14l-18-14 0-3 18 14zm-18-15l-18-13 0-3 18 14z" fill="#000091" stroke="#000091" stroke-width="2.80" stroke-linejoin="round"/>
<path d="M5095 1360l179-54-19-16-179 53zm-49-7l60-18-18-16-61 18zm209-62l57-18-19-15-57 17zm-289 63l61-18-18-17-61 18zm327-96l29-9-19-15-29 9zm-345 80l30-9-18-16-30 9zm355-104l28-8-19-15-28 8zm-404 97l61-18-17-16-62 18zm413-121l28-8-19-15-28 8zm-431 105l31-9-17-16-31 9zm412-119l28-8-18-14-28 8zm-460 111l62-18-18-16-61 18zm470-135l27-8-18-15-28 8zm-487 119l61-17-17-16-61 17zm468-133l28-8-19-14-27 7zm-485 118l61-18-16-15-62 17zm467-132l27-8-18-14-27 7zm-484 116l62-17-17-16-61 17zm466-131l27-7-18-14-27 7zm-482 114l61-16-17-16-61 17zm464-128l27-8-17-14-28 8zm-450 105l30-8-16-15-30 8zm405-110l27-7-17-14-27 7zm-421 95l60-16-16-15-60 16zm404-110l27-7-17-14-28 7zm-390 87l59-16-16-14-59 16zm345-93l27-7-17-14-27 8zm-332 71l59-16-16-15-58 16zm287-77l28-7-17-14-28 7zm-273 54l87-23-16-14-87 23zm173-45l83-22-16-14-84 22zm-131 14l142-37-16-13-142 36zm-99 83l30-8 0-2-30 8zm14-22l29-8 0-2-29 8zm29-6l30-8 0-2-30 8zm-15-17l29-8 0-2-29 8zm29-6l29-8 0-2-29 8zm-16-16l29-8 0-3-29 8zm29-7l29-7 0-3-29 7zm29-6l29-8 0-3-29 8zm-16-17l29-8 0-3-29 8zm29-7l29-7 0-4-29 8zm29-7l28-7 0-4-28 8zm28-8l28-7 0-3-28 7zm44 9l28-7 0-3-28 7zm-16-16l28-8 0-3-28 7zm44 8l28-7 0-3-28 7zm324 202l-20-16 0-2 20 16zm-252-204l-16-14 0-2 17 14zm-44-7l28-7 0-3-28 7zm305 187l-19-15 0-2 19 15zm-216-173l-17-14 0-2 17 13zm-45-7l28-7 0-2-27 7zm270 157l-19-15 0-3 19 15zm-181-144l-17-14 0-2 17 13zm-44-6l27-8 0-2-27 7zm234 126l-19-15 0-3 19 14zm-19-14l-18-14 0-3 18 14zm-109-85l-17-14 0-3 18 14zm-17-15l-17-14 0-3 17 13zm-45-7l28-7 0-2-28 7zm180 83l-18-15 0-4 18 15zm-18-14l-19-14 1-4 18 14zm-19-14l-18-14 1-4 18 14zm-18-14l-18-14 1-4 18 14zm-18-15l-17-14 0-4 18 14z" fill="#0000a3" stroke="#0000a3" stroke-width="2.80" stroke-linejoin="round"/>
<path d="M5144 1364l150-46-20-16-149 45zm-111 11l62-19-19-17-61 19zm241-72l58-17-19-16-58 18zm-290 65l62-18-19-17-61 18zm329-99l57-17-20-15-56 17zm-379 90l32-9-18-16-32 9zm388-113l56-17-19-15-56 16zm-406 99l32-9-18-17-31 9zm415-122l28-8-19-15-28 8zm-464 113l32-9-18-16-31 9zm473-138l28-8-19-14-28 8zm-490 123l31-9-17-16-31 9zm471-136l28-8-19-14-27 8zm-519 126l31-9-17-16-31 9zm528-151l28-8-19-14-27 7zm-545 136l31-9-17-16-31 9zm527-150l27-8-18-14-27 8zm-544 134l31-9-17-16-31 9zm526-148l27-7-18-15-27 8zm-543 132l31-9-16-16-31 9zm525-146l27-8-18-14-27 8zm-541 129l31-8-17-16-30 9zm523-144l27-7-18-14-27 7zm-509 123l31-9-16-15-31 8zm464-126l27-8-18-14-27 8zm-480 109l31-8-16-15-31 8zm462-125l27-7-17-14-27 8zm-447 103l30-8-16-15-30 8zm402-108l28-7-18-13-27 7zm-418 92l59-16-15-14-60 16zm374-99l54-14-17-14-54 14zm-360 77l59-16-16-14-59 15zm316-83l54-15-16-13-55 14zm-273 53l58-15-16-14-58 15zm200-52l56-14-17-14-55 15zm-158 22l142-37-16-13-141 36zm-114 105l31-8 0-2-31 8zm15-22l30-8 0-2-30 8zm-16-17l30-8 0-2-30 7zm30-5l30-8-1-2-29 7zm-16-17l30-8 0-3-30 8zm30-6l29-7 0-3-29 7zm13-22l30-8 0-4-30 8zm30-7l28-7 0-4-28 8zm13-23l28-8 0-4-28 8zm28-7l29-7 0-4-29 7zm29-7l28-7 0-4-28 7zm28-7l28-8 0-4-28 7zm28-8l28-7 0-5-28 7zm374 250l-19-16 0-2 19 16zm-330-242l28-7 0-3-28 7zm359 231l-19-16 0-2 19 16zm-287-233l-17-13 0-2 17 13zm-44-6l27-7 1-4-28 7zm340 216l-19-15 0-3 19 15zm-252-202l-17-14 0-2 17 13zm-44-7l27-7 0-3-27 7zm325 198l-20-15 1-4 19 16zm-20-12l-19-15 0-4 19 16zm-217-173l-17-13 0-3 17 13zm-44-6l27-7 0-3-27 7zm27-10l-16-13 0-4 17 14zm-44-6l28-7 0-4-28 7zm306 183l-19-15 1-4 19 15zm-19-12l-19-15 0-4 19 15zm-181-143l-18-13 1-4 17 14zm-45-6l27-7 1-3-28 7zm28-10l-17-13 0-4 17 13zm-45-6l28-7 0-3-27 7zm252 140l-19-14 0-5 19 15zm-19-13l-19-14 1-4 18 14zm-109-85l-18-14 0-4 18 14zm-18-15l-17-14 0-4 17 14zm-44-6l27-8 0-2-27 8zm180 81l-19-14 1-5 18 14zm-19-14l-18-14 0-5 19 14zm-18-13l-18-15 0-4 18 14zm-18-15l-18-14 0-4 18 13zm-18-14l-18-14 0-5 18 14z" fill="#0000b5" stroke="#0000b5" stroke-width="2.80" stroke-linejoin="round"/>
<path d="M5164 1376l120-37-20-16-119 36zm-81 4l61-19-19-16-61 18zm211-65l58-17-20-16-58 17zm-292 65l31-9-18-17-31 10zm330-99l57-17-19-15-57 17zm-379 92l31-9-18-17-32 9zm417-125l28-9-19-15-28 8zm-467 117l31-9-17-17-32 9zm-18-14l31-9-17-17-31 9zm474-140l28-8-19-15-28 8zm-523 131l32-10-18-16-31 9zm532-156l28-8-19-15-28 8zm-549 141l31-10-17-16-31 9zm530-154l28-8-19-14-27 8zm-596 127l32-9-17-16-32 9zm-17-16l32-8-17-16-31 8zm-16-16l31-9-16-15-31 8zm-2-37l31-9-16-15-31 8zm522-143l27-7-18-14-27 7zm-538 126l31-9-16-15-31 9zm520-141l27-8-17-13-27 7zm-505 119l31-8-16-15-31 8zm461-123l27-8-17-13-27 7zm-477 106l31-8-16-15-30 8zm460-123l27-7-17-13-27 7zm-445 100l30-7-16-15-30 8zm401-105l27-7-17-14-27 7zm-387 84l59-15-16-15-59 16zm315-82l55-15-17-13-55 14zm-272 53l58-15-15-14-58 15zm200-52l55-14-16-14-55 15zm-129 14l85-22-16-13-84 21zm-158 135l31-9 0-2-31 9zm15-22l31-8 0-2-31 8zm-15-17l30-8 0-3-31 8zm14-22l30-8 0-3-30 8zm14-23l30-7 0-4-30 8zm30-5l29-7 0-4-29 7zm14-23l29-8 0-4-29 8zm29-6l29-7 0-5-29 8zm42-31l28-7 0-5-28 7zm28-7l28-7 0-5-28 7zm28-7l28-7 0-5-28 7zm438 271l-20-15 0-2 20 16zm-322-263l-16-14 0-1 16 13zm-44-7l28-7 0-4-28 7zm395 260l-20-16 0-3 20 16zm-323-262l-17-13 0-3 17 14zm-44-6l27-7 0-5-27 7zm376 245l-20-15 1-3 19 15zm-289-231l-16-13 0-3 16 13zm-44-6l28-7 0-4-27 7zm361 226l-19-16 0-4 20 16zm-289-230l-17-13 0-3 17 13zm-44-6l27-7 0-4-27 7zm342 212l-19-15 0-4 19 15zm-254-199l-17-14 0-4 17 14zm-44-7l27-7 0-3-27 7zm287 170l-19-15 0-5 19 15zm-182-142l-17-13 0-5 17 14zm-44-6l27-7 0-3-27 7zm27-10l-17-13 0-5 17 14zm-44-6l27-7 0-3-27 7zm252 139l-19-15 0-5 19 15zm-19-13l-19-14 0-5 19 14zm-110-84l-18-14 1-5 17 14zm-45-7l27-7 0-2-27 8zm27-9l-17-13 0-5 18 13zm-44-6l27-7 0-2-27 7z" fill="#0000c8" stroke="#0000c8" stroke-width="2.80" stroke-linejoin="round"/>
<path d="M5102 1392l62-19-19-16-62 18zm182-55l59-18-20-16-58 18zm-263 58l62-19-19-17-62 19zm331-101l29-9-20-15-29 8zm-381 93l31-10-18-17-31 10zm-50-8l32-9-19-17-31 9zm-50-8l32-10-18-17-31 10zm508-148l28-8-20-15-27 8zm-525 133l31-9-17-17-32 10zm533-158l28-8-19-15-28 8zm-583 148l32-9-17-16-32 9zm-17-15l32-9-17-16-32 9zm590-171l27-8-19-14-27 8zm-607 156l32-9-17-16-32 9zm588-169l27-8-18-14-27 8zm-18-14l27-7-19-14-27 7zm-19-13l27-8-18-14-27 8zm-18-15l27-7-18-14-27 8zm-599 147l31-9-17-15-31 8zm581-161l27-8-18-13-27 7zm-598 144l31-9-16-15-31 8zm580-159l27-8-18-13-26 7zm-596 142l31-9-16-15-30 9zm15-21l31-9-16-15-30 8zm519-140l27-7-17-14-27 7zm-534 122l30-8-16-15-30 8zm14-22l31-8-16-14-30 7zm459-121l27-7-17-14-27 7zm-444 99l30-8-16-14-29 7zm400-105l27-7-17-13-27 7zm-386 83l59-15-15-14-59 15zm315-80l27-7-16-14-28 7zm-271 51l86-22-15-14-87 22zm171-43l56-14-16-14-56 14zm-258 178l31-8 0-2-31 9zm-15-16l30-9 0-2-31 8zm15-22l30-8 0-2-30 8zm-16-17l30-8 0-3-30 8zm15-22l30-7 0-4-30 8zm15-22l29-7 0-4-29 7zm14-23l29-7 0-5-29 8zm29-5l30-7 0-4-30 7zm14-23l29-8 0-4-29 7zm29-6l29-7 0-5-29 7zm29-6l29-7 0-5-29 7zm113-29l28-7 0-5-28 7zm430 291l-20-16 0-3 20 17zm-358-293l-16-13 0-2 16 13zm-44-6l28-7 0-5-28 7zm440 265l-20-15 0-3 20 15zm-325-259l-16-14 0-2 16 13zm-44-7l28-7 0-4-28 7zm115 4l-17-13 0-4 17 13zm-44-6l27-7 0-5-27 7zm324 198l-20-15 1-5 19 15zm-236-186l-17-14 0-4 17 13zm-44-7l27-7 0-3-27 7zm288 168l-19-15 0-5 19 15zm-183-140l-17-14 0-5 17 14zm-44-7l27-7 0-2-27 7zm216 109l-19-14 1-6 19 14zm-19-13l-18-14 0-6 19 14zm-18-13l-19-14 1-6 18 14zm-19-14l-18-14 0-6 19 14zm-18-14l-18-14 0-6 18 14zm-18-15l-18-13 0-6 18 14zm-18-15l-18-13 1-6 17 14zm-44-6l26-7 0-2-26 7z" fill="#0000da" stroke="#0000da" stroke-width="2.80" stroke-linejoin="round"/>
<path d="M5153 1396l181-56-20-16-181 55zm-82 3l31-10-19-17-31 10zm272-84l58-18-20-15-58 17zm-353 85l31-10-19-17-31 9zm391-118l29-8-20-16-29 9zm-442 111l32-10-18-17-32 9zm451-134l28-9-20-15-28 8zm-501 125l32-9-18-17-32 9zm509-149l28-8-19-16-28 9zm9-25l28-8-20-15-27 8zm-585 151l32-9-18-17-32 9zm574-188l27-8-19-15-27 8zm-641 162l32-9-17-16-32 9zm-17-15l32-9-17-16-32 9zm-17-16l32-9-17-16-31 9zm646-184l27-8-19-14-26 8zm-662 168l31-9-16-15-32 8zm644-182l26-7-18-14-27 7zm-661 166l32-9-16-15-32 8zm642-180l27-7-18-14-27 7zm-658 163l32-8-17-16-31 9zm-16-16l31-9-16-15-31 8zm594-179l26-7-17-13-27 7zm-595 140l31-8-15-15-31 8zm533-159l27-7-17-14-27 7zm-533 120l30-8-15-14-30 7zm15-22l30-8-15-14-31 7zm15-23l29-7-15-15-30 8zm371-93l27-7-16-13-27 7zm-328 65l30-7-16-14-29 7zm257-65l55-14-17-13-54 14zm-214 36l198-50-16-13-197 50zm-131 164l31-8 0-2-31 8zm0-38l31-8 0-2-31 8zm0-39l30-7 0-4-31 8zm14-22l31-7-1-4-30 8zm15-22l30-8 0-4-30 8zm44-28l29-7 0-5-29 7zm43-29l29-8 0-5-29 7zm29-7l28-7 0-5-28 7zm28-6l28-7 0-6-28 7zm28-7l29-7 0-6-29 7zm29-7l27-7 1-6-28 7zm464 322l-20-17 0-1 20 16zm-437-330l28-7 0-6-27 7zm72-2l-16-13 0-2 16 13zm-44-7l28-6 0-6-28 7zm447 307l-20-16 0-3 20 16zm-360-291l-16-13 0-2 16 13zm-43-6l27-7 0-5-27 7zm432 285l-20-16 0-3 20 16zm-361-288l-17-13 0-3 17 13zm-44-6l27-7 1-6-28 7zm414 272l-20-16 0-4 20 16zm-327-258l-16-13 0-4 16 13zm-43-6l27-7 0-5-27 7zm378 240l-20-15 1-4 19 15zm8-23l-19-16 0-5 20 16zm9-25l-20-15 1-5 19 14zm-220-168l-17-14 0-5 17 13zm-44-7l27-7 0-3-27 7zm252 138l-19-15 1-6 19 14zm-147-112l-17-13 0-6 18 13zm-44-6l27-7 0-3-27 8zm162 65l-19-14 1-6 18 14zm-19-13l-18-14 1-7 18 14zm-18-14l-18-14 0-7 19 14z" fill="#000ce0" stroke="#000ce0" stroke-width="2.80" stroke-linejoin="round"/>
<path d="M5264 1379l30-9-19-17-30 10zm-173 33l62-20-19-17-63 19zm243-75l58-18-20-16-58 18zm-294 69l31-10-19-17-31 9zm361-113l29-9-20-16-29 9zm-443 112l32-9-19-17-32 9zm452-135l28-9-20-15-28 8zm-503 128l32-10-18-17-32 10zm511-152l28-8-19-16-28 9zm-561 143l32-9-18-17-32 9zm570-167l27-9-19-15-28 8zm-588 153l32-9-17-17-32 9zm-50-10l33-9-18-17-32 9zm626-180l28-8-19-15-28 8zm-643 166l32-10-17-16-32 9zm633-205l27-8-19-14-27 8zm-699 178l32-9-17-17-32 9zm680-191l27-7-19-15-27 8zm-697 175l32-9-16-16-32 9zm-16-16l32-9-17-16-32 9zm-17-17l32-8-16-16-32 8zm-16-16l32-9-16-16-32 9zm672-181l27-8-18-13-27 7zm-18-15l27-8-18-13-26 7zm-654 158l31-8-16-15-31 8zm-16-17l31-8-15-16-31 9zm608-159l27-8-17-13-27 7zm-592 138l31-8-16-15-31 8zm575-155l27-7-18-13-26 7zm-44-4l27-7-17-13-27 7zm-532 119l31-8-16-14-30 7zm488-124l27-7-17-13-27 7zm-473 102l30-8-15-14-30 7zm429-109l27-7-16-13-27 7zm-384 81l29-8-15-13-29 7zm341-88l27-7-16-13-28 7zm-327 65l58-15-15-13-58 14zm256-64l27-7-16-13-27 7zm-156 20l85-21-16-13-84 21zm-189 180l31-8 0-2-31 8zm-15-17l31-9 0-2-31 8zm15-21l31-8 0-3-31 8zm0-40l30-7 0-4-30 7zm15-22l30-7 0-5-30 8zm45-27l29-7 0-5-29 7zm14-24l29-7 0-5-29 7zm29-5l29-7 0-6-29 8zm71-37l28-7 0-6-28 7zm28-7l28-7 0-6-28 7zm28-7l28-7 0-6-28 7zm509 330l-20-16 0-2 20 16zm29-11l-20-16 1-3 20 16zm-396-319l-16-13 0-3 16 13zm-43-6l27-7 0-6-27 7zm477 291l-20-16 0-4 20 16zm-363-286l-16-13 0-4 16 13zm-44-6l28-7 0-5-27 6zm415 269l-20-15 1-5 19 16zm-328-256l-16-13 0-4 16 13zm-43-6l27-7 0-5-27 7zm379 239l-19-16 0-5 20 15zm-292-226l-17-13 0-5 17 13zm-44-6l27-7 0-5-27 7zm344 207l-19-15 0-5 20 15zm-256-196l-17-13 0-5 17 13zm-44-6l27-7 0-4-27 7zm289 166l-19-15 0-6 19 14zm-184-140l-17-13 0-6 17 14zm-44-6l27-7 0-3-27 7zm27-10l-18-13 1-6 17 13zm-44-6l26-7 1-3-27 7zm234 123l-19-14 0-7 19 15zm-19-12l-19-15 1-6 18 14zm-74-56l-18-13 0-7 18 14zm-18-15l-18-13 1-7 17 14zm-44-6l26-7 0-2-26 7z" fill="#001fe0" stroke="#001fe0" stroke-width="2.80" stroke-linejoin="round"/>
<path d="M5141 1416l123-38-19-17-123 38zm154-48l89-27-21-17-88 27zm-236 49l32-9-19-18-32 10zm334-102l29-9-21-16-28 9zm-385 97l32-10-19-17-31 10zm422-132l29-9-20-15-29 8zm-504 131l32-10-19-17-32 9zm512-154l29-9-20-15-28 8zm-563 146l32-10-18-17-32 9zm572-171l28-8-20-15-28 8zm-640 148l32-10-17-17-33 9zm628-184l28-8-20-14-27 8zm8-26l28-7-20-15-27 8zm-703 184l32-9-17-17-32 9zm684-196l27-7-19-15-27 8zm-701 181l32-9-17-17-32 9zm671-233l27-8-18-14-27 8zm-18-14l27-7-19-14-26 7zm-18-14l26-7-18-14-27 7zm-734 164l32-9-16-15-31 8zm-16-18l32-8-16-15-31 8zm669-177l26-7-17-13-27 7zm-18-15l27-8-18-13-26 7zm-650 154l31-8-16-15-31 8zm15-21l31-8-16-15-30 8zm574-153l27-7-18-13-26 7zm-44-5l27-7-17-13-27 7zm-530 117l30-7-15-15-30 8zm486-123l27-7-16-13-27 7zm-441 97l30-8-15-14-30 8zm398-104l27-7-16-12-27 6zm-383 80l29-7-15-14-30 7zm312-78l28-7-17-12-27 6zm-269 50l86-21-15-14-86 22zm171-43l55-13-16-13-55 13zm-289 223l31-8 0-2-32 8zm-16-17l31-8 0-3-31 9zm0-38l31-8 0-3-31 8zm16-21l30-8 0-4-30 8zm0-40l30-8 0-4-30 8zm45-26l30-8-1-5-29 8zm14-24l30-7 0-6-30 8zm44-29l29-7 0-6-29 7zm29-5l28-8 0-6-28 8zm28-6l29-8 0-6-29 8zm585 330l-20-17 0-1 20 16zm-472-359l28-7 0-6-28 7zm502 348l-20-16 0-3 20 17zm-431-350l-16-13 0-2 16 13zm-43-6l27-7 0-6-27 7zm512 323l-21-16 1-3 20 16zm-398-317l-17-12 0-3 17 12zm-44-6l27-6 1-6-28 7zm479 288l-20-15 0-5 20 16zm-365-284l-16-12 0-5 16 13zm-43-6l27-6 0-6-27 7zm416 267l-20-15 0-5 20 15zm-330-254l-16-13 0-4 16 13zm-43-6l27-7 0-5-27 7zm381 236l-20-15 0-6 20 15zm-294-224l-17-13 0-5 17 13zm-44-6l27-7 0-4-27 7zm326 194l-20-14 1-7 19 15zm-238-183l-18-13 1-6 17 13zm-44-6l26-7 1-4-27 7zm290 164l-20-15 1-7 19 15zm-20-12l-19-15 0-7 20 15zm-148-111l-17-13 0-7 18 14zm-44-6l27-7 0-3-27 8zm27-10l-18-13 1-6 17 13zm-44-6l26-7 0-3-26 7zm179 80l-18-14 0-7 19 14zm-18-13l-19-14 1-7 18 13zm-19-14l-18-14 0-7 19 14z" fill="#0031e0" stroke="#0031e0" stroke-width="2.80" stroke-linejoin="round"/>
<path d="M5254 1399l61-19-20-17-61 19zm-144 23l32-10-20-17-31 9zm274-85l29-9-20-17-29 9zm-357 87l32-10-19-17-32 9zm395-121l28-9-20-16-28 9zm-445 115l31-10-18-17-32 9zm-152-24l32-10-18-17-32 9zm630-186l27-9-19-14-28 8zm-681 175l33-9-18-17-32 9zm689-201l27-8-19-15-27 8zm-706 187l32-9-17-17-32 9zm-67-27l33-9-17-17-33 10zm742-210l27-8-19-14-27 7zm-759 195l33-9-17-17-32 9zm740-208l27-8-19-14-26 8zm-756 192l32-9-16-16-32 8zm-16-16l32-9-17-16-32 9zm-17-17l32-9-16-16-32 9zm-16-17l32-8-16-16-32 9zm731-197l27-8-18-13-27 7zm-747 180l32-8-16-16-31 9zm729-195l27-7-18-14-26 7zm-17-15l26-8-18-13-26 7zm-711 173l31-9-15-15-32 9zm649-192l26-7-17-13-26 7zm-649 153l31-8-15-15-31 8zm16-22l30-8-15-14-30 8zm528-156l27-7-17-13-26 7zm-498 112l30-8-15-14-30 8zm455-119l27-7-17-12-26 6zm-440 96l29-8-15-14-29 8zm370-93l27-6-17-13-27 7zm-326 64l29-7-15-14-29 7zm255-64l54-14-15-13-55 14zm-184 28l113-28-16-13-112 28zm-192 215l31-9 0-1-31 8zm0-37l32-9 0-2-32 8zm1-39l31-8 0-3-31 8zm16-21l30-8 0-4-31 8zm30-44l30-8 0-5-30 8zm15-23l29-8 0-5-29 7zm44-29l29-7 0-6-29 7zm71-36l28-7 0-6-28 7zm28-6l29-7 0-6-29 6zm29-7l28-7 0-6-28 7zm28-7l27-7 0-7-27 7zm574 348l-20-17 0-3 20 17zm-433-348l-16-13 0-2 16 13zm-43-6l27-7 0-6-27 7zm71-3l-16-13 0-3 16 13zm-44-6l28-7 0-6-27 7zm486 329l-20-16 1-4 20 16zm-399-314l-17-13 1-4 16 13zm-44-6l27-7 1-6-27 7zm114 2l-17-12 1-5 16 13zm-43-6l26-6 1-6-27 7zm86 13l-17-13 1-5 16 13zm-43-6l26-7 1-5-27 7zm361 222l-19-14 0-7 20 15zm8-25l-19-15 0-6 20 14zm-222-166l-17-13 0-6 18 13zm-43-6l26-7 0-3-26 7zm234 122l-19-14 1-8 19 15zm-19-13l-19-14 1-7 19 14zm-74-55l-18-13 0-7 18 13zm-18-14l-18-14 1-7 17 14zm-44-7l26-7 0-2-26 8zm26-9l-18-13 1-7 18 13zm-44-6l26-7 1-2-27 7z" fill="#0043e0" stroke="#0043e0" stroke-width="2.80" stroke-linejoin="round"/>
<path d="M5161 1426l93-29-20-17-92 29zm154-48l89-28-20-17-89 28zm-236 51l31-10-19-18-32 10zm334-104l29-9-20-16-29 8zm-418 105l33-10-19-17-32 9zm456-140l28-9-20-16-28 9zm-507 133l33-9-19-18-32 10zm515-156l28-9-20-15-28 8zm-566 149l33-10-19-17-32 9zm574-173l28-9-20-15-28 9zm-624 164l32-10-18-17-32 10zm632-189l28-8-20-15-28 8zm-683 179l33-9-18-17-33 9zm691-204l27-8-19-15-28 8zm-759 179l33-9-17-17-33 9zm747-216l27-8-19-15-27 8zm-764 201l33-9-17-17-33 10zm745-213l27-8-20-14-27 7zm-30-53l26-8-18-13-27 7zm-814 206l32-9-16-16-32 9zm795-220l27-7-19-14-26 8zm-18-13l26-8-18-13-27 7zm-808 163l31-8-15-16-32 9zm-16-18l32-8-16-15-31 8zm725-191l27-7-18-13-26 7zm-709 171l32-8-16-15-31 8zm-15-18l31-8-15-15-31 8zm663-172l26-7-17-13-26 7zm-647 151l31-8-16-15-30 8zm603-155l27-7-17-13-27 7zm-588 133l31-8-15-14-31 7zm16-22l30-8-15-14-30 7zm15-23l30-8-15-14-30 8zm427-107l27-7-17-12-26 6zm-383 79l30-8-15-13-30 7zm340-87l27-7-16-13-27 7zm-296 58l57-14-15-14-57 15zm170-42l55-13-16-13-55 13zm-321 228l32-9 0-2-32 8zm-15-18l31-8 0-3-31 8zm16-20l31-8 0-3-31 8zm-15-18l31-8 0-4-31 8zm16-21l30-8 0-4-30 8zm15-22l31-7 0-5-31 8zm16-22l30-7 0-5-30 7zm15-22l30-8 0-5-30 7zm44-28l30-7 0-6-30 7zm44-29l28-7 0-7-28 8zm28-6l29-7 0-6-29 7zm650 353l-20-16 0-2 20 17zm-509-387l28-7 0-6-28 6zm539 376l-21-16 0-2 21 16zm-468-378l-16-13 0-2 16 13zm-43-6l27-7 1-6-28 6zm548 352l-20-16 0-4 21 16zm-407-355l-16-13 0-3 16 13zm-43-6l27-7 0-6-27 7zm487 326l-20-16 0-4 21 16zm-401-312l-17-12 1-4 16 12zm-43-6l26-6 1-6-27 7zm452 295l-20-15 0-6 21 16zm8-24l-20-15 0-5 20 15zm8-24l-20-15 0-6 20 15zm-295-222l-17-13 0-6 17 13zm-44-6l27-7 0-4-27 7zm346 203l-19-15 0-6 20 14zm-259-193l-17-13 0-6 18 13zm-43-6l26-7 0-4-26 7zm290 162l-19-15 0-7 20 15zm-19-12l-20-14 1-7 19 14zm-166-125l-18-13 0-7 18 13zm-44-6l26-7 0-3-26 7zm179 78l-18-13 0-8 19 14zm-18-13l-19-14 1-7 18 13zm-19-14l-18-13 0-8 19 14z" fill="#0056e0" stroke="#0056e0" stroke-width="2.80" stroke-linejoin="round"/>
<path d="M5275 1409l61-19-21-18-60 19zm-145 23l32-9-20-18-32 10zm275-86l29-9-20-16-30 9zm-358 89l32-10-20-17-31 10zm396-123l28-9-20-16-29 9zm-480 124l33-10-19-18-33 10zm517-159l28-9-20-16-29 9zm-568 151l32-9-18-18-33 10zm576-175l28-9-21-15-28 8zm-627 167l32-9-18-18-32 10zm634-191l28-9-20-15-28 9zm-685 182l33-10-18-17-33 10zm-68-24l32-10-17-17-33 10zm749-220l27-8-20-14-27 8zm-834 178l33-9-17-17-32 9zm803-228l27-8-20-14-26 7zm-819 212l32-9-16-16-33 9zm800-225l26-8-19-13-26 7zm-817 210l33-10-17-16-32 9zm-32-33l32-9-16-16-32 9zm-16-17l32-9-16-16-32 9zm790-215l27-7-18-13-27 7zm-806 198l32-9-16-16-32 9zm788-212l27-8-18-13-26 7zm-802 156l31-8-15-15-32 8zm723-189l26-7-17-13-27 7zm-722 150l31-8-16-14-31 8zm661-170l26-7-17-12-26 6zm-645 149l30-8-15-14-30 7zm601-153l27-7-17-13-26 7zm-586 131l31-8-15-14-31 8zm543-137l27-7-17-13-26 7zm-527 114l30-7-15-14-30 7zm484-121l27-7-17-12-26 7zm-469 100l59-15-15-13-59 14zm426-107l27-7-17-13-26 7zm-382 78l59-14-15-13-59 14zm284-69l55-14-16-12-55 13zm-183 27l112-27-15-13-112 27zm-210 237l32-9 0-1-32 8zm-14-55l32-8 0-3-32 8zm1-38l31-8 0-4-31 8zm17-22l30-7 0-5-31 8zm15-21l31-8 0-5-31 8zm16-23l30-7 0-5-30 7zm15-22l30-8 0-5-30 7zm30-5l29-7 0-6-29 8zm14-23l30-7-1-7-29 8zm30-5l29-7 0-6-30 7zm71-36l28-7 0-7-28 7zm28-7l28-6 0-7-28 7zm28-6l28-7 0-7-28 7zm28-8l28-6 0-7-28 7zm611 377l-20-16 0-3 20 16zm-470-376l-15-13 0-2 16 13zm-43-6l28-7 0-6-27 7zm71-3l-16-13 0-3 16 13zm-43-6l27-7 0-6-27 6zm522 357l-20-16 0-4 21 16zm-409-352l-17-13 1-4 16 13zm-43-6l26-7 1-6-27 7zm489 323l-20-16 0-5 20 16zm-403-310l-17-12 0-5 17 13zm-43-5l26-7 0-6-26 7zm454 291l-21-15 1-6 20 16zm-368-279l-17-13 0-5 17 13zm-43-6l26-7 0-5-26 7zm418 261l-20-15 1-6 20 15zm-332-249l-17-13 0-6 17 13zm-43-6l26-7 0-5-26 7zm86 10l-17-12 1-7 17 13zm-43-6l26-6 0-5-26 7zm327 190l-20-14 1-7 20 14zm-223-164l-17-13 0-7 18 13zm-44-6l27-7 0-3-26 7zm236 120l-20-14 1-8 19 14zm-20-13l-19-13 1-8 19 14zm-74-54l-18-13 0-8 18 13zm-18-15l-18-13 0-7 18 13zm-44-6l26-7 0-2-26 7z" fill="#0068e0" stroke="#0068e0" stroke-width="2.80" stroke-linejoin="round"/>
<path d="M5182 1437l93-30-20-17-93 29zm154-49l90-29-21-17-89 28zm-270 60l64-20-19-17-64 19zm368-114l29-9-20-16-29 9zm-419 108l32-10-19-18-32 10zm457-143l28-8-20-16-29 8zm-541 142l32-10-18-18-33 10zm-52-8l33-10-18-17-33 9zm-51-8l33-10-18-18-33 10zm675-221l28-8-20-15-28 8zm-744 197l33-10-18-17-33 10zm752-223l27-8-20-14-27 8zm-820 197l33-9-17-17-33 9zm808-234l27-8-20-14-27 7zm-825 219l33-9-17-17-33 9zm805-231l27-8-19-14-27 8zm-888 187l33-9-16-17-33 9zm-16-16l33-9-16-17-33 9zm-16-17l33-9-16-16-33 9zm-15-54l32-8-15-16-32 9zm787-210l26-7-18-13-26 7zm-802 193l32-9-16-15-31 8zm784-208l26-7-17-13-27 7zm-783 169l32-8-16-15-31 8zm722-187l26-7-17-13-27 7zm-721 148l31-8-15-15-31 8zm16-22l31-8-15-14-30 8zm601-152l26-7-16-12-27 6zm-585 130l31-8-15-14-31 8zm542-136l26-7-16-12-27 6zm-481 86l29-8-15-13-29 7zm368-91l27-7-16-12-27 6zm-324 63l57-14-15-14-57 14zm57-12l29-7-15-13-29 7zm141-35l56-14-16-12-55 13zm-337 249l32-9 0-2-32 9zm-15-18l31-8 0-3-31 9zm1-38l31-8 0-3-31 8zm1-39l31-8 0-4-31 8zm17-21l30-8 0-5-31 8zm15-22l31-8 0-5-31 8zm61-50l29-7 0-6-29 7zm44-29l29-7 0-6-29 7zm29-5l28-7 0-6-28 7zm28-5l29-7 0-7-29 7zm686 382l-21-17 1-2 20 17zm-545-416l28-7 0-7-28 7zm575 405l-21-17 0-2 21 16zm-504-407l-16-13 0-2 16 13zm-43-6l27-7 0-7-27 7zm584 380l-20-16 0-4 21 17zm-444-383l-16-12 0-4 16 13zm-43-6l27-6 0-7-27 7zm524 355l-20-16 0-5 21 16zm-369-344l-16-12 0-5 16 12zm-43-6l27-6 0-6-27 7zm86 12l-16-12 0-6 17 13zm-43-6l27-6 0-5-27 6zm400 249l-20-15 0-7 20 15zm7-26l-20-14 1-8 20 15zm-260-191l-17-13 0-7 17 13zm-44-6l27-7 0-4-26 7zm292 160l-20-14 1-8 19 14zm-20-12l-19-14 0-8 20 14zm-149-109l-18-13 1-7 17 13zm-44-6l26-7 0-2-26 7zm26-9l-17-13 0-7 18 13zm-44-6l27-7 0-3-26 7z" fill="#007be0" stroke="#007be0" stroke-width="2.80" stroke-linejoin="round"/>
<path d="M5118 1452l64-20-20-18-63 20zm308-97l29-9-20-17-30 10zm-392 98l33-10-20-18-32 10zm430-131l29-9-21-17-29 9zm-482 125l33-10-19-17-33 10zm519-161l28-9-21-16-28 9zm7-23l28-9-20-15-28 8zm8-24l28-9-20-15-28 8zm8-25l27-8-20-15-27 8zm-747 201l33-10-18-17-33 9zm754-226l27-8-20-15-27 8zm-823 201l33-10-17-17-33 10zm811-238l27-8-20-14-27 8zm-878 211l33-9-17-17-33 9zm-17-15l33-10-16-17-33 10zm863-247l27-7-19-14-27 7zm-879 231l33-9-17-17-33 9zm860-243l26-8-19-14-26 8zm-19-13l26-8-18-13-27 7zm-19-14l27-7-19-13-26 7zm-18-13l26-8-18-13-27 7zm-869 217l33-9-16-16-32 9zm850-232l27-7-19-13-26 7zm-866 215l33-9-16-16-32 9zm848-229l26-7-18-13-26 7zm-863 211l32-8-15-16-32 9zm2-37l31-9-15-15-32 8zm782-206l26-7-18-12-26 6zm-781 167l31-8-15-15-31 8zm720-186l26-7-17-12-26 6zm-44-4l26-7-16-12-27 6zm-612 102l30-7-15-14-30 7zm483-120l26-7-16-12-26 6zm-468 97l30-7-15-14-30 7zm425-105l27-7-16-12-27 6zm-381 77l29-8-14-13-30 7zm284-69l54-13-16-12-54 13zm-212 34l141-34-15-13-141 34zm-213 235l32-9 0-2-33 9zm1-38l32-8 0-3-32 9zm2-38l31-8 0-4-31 8zm64-87l30-7 0-6-30 8zm15-23l30-7 0-6-30 7zm44-28l30-7 0-6-30 7zm72-35l29-7 0-7-29 7zm29-6l28-7 0-7-28 7zm28-6l28-7 0-7-28 7zm28-7l28-7 0-7-28 7zm28-7l28-7 0-7-28 7zm647 405l-20-17 0-2 21 16zm-506-404l-16-13 0-2 16 12zm-43-6l27-7 0-6-27 6zm70-3l-16-13 0-2 16 12zm-43-6l27-7 0-6-27 6zm560 386l-21-17 0-4 21 17zm-447-381l-16-12 0-4 16 12zm-43-6l27-6 0-7-27 7zm526 351l-21-16 1-5 20 16zm-441-337l-16-12 0-5 16 13zm-42-6l26-6 0-6-26 6zm490 320l-20-15 0-6 21 16zm8-24l-20-15 0-6 20 15zm7-24l-20-15 1-7 20 15zm-334-248l-16-12 0-6 17 12zm-43-6l27-6 0-5-26 7zm384 229l-20-15 1-7 20 15zm-297-219l-17-12 0-7 17 13zm-43-6l26-6 0-4-26 6zm328 188l-20-14 1-8 19 15zm-224-163l-18-12 1-8 17 13zm-44-6l26-6 0-4-26 7zm236 119l-19-14 0-8 19 14zm-20-13l-19-14 1-8 19 14zm-19-13l-18-13 0-8 19 13zm-18-13l-19-13 1-8 18 13zm-19-14l-18-13 0-8 19 13zm-18-14l-19-13 1-8 18 13zm-19-14l-18-13 1-8 18 13zm-44-6l26-7 1-2-27 7z" fill="#008de0" stroke="#008de0" stroke-width="2.80" stroke-linejoin="round"/>
<path d="M5202 1447l215-68-21-17-214 67zm-116 11l32-11-19-17-32 9zm370-115l29-9-21-16-29 9zm-454 116l32-10-19-18-33 10zm491-150l29-9-21-16-29 8zm-543 144l32-10-19-18-32 10zm579-181l29-9-21-15-28 8zm-631 174l33-10-19-18-33 10zm639-197l28-9-21-15-28 8zm-691 189l33-10-18-18-33 10zm698-214l28-8-20-15-28 8zm-749 205l33-10-18-18-33 10zm-69-25l33-9-18-18-33 10zm813-241l27-8-20-14-27 7zm-881 215l33-9-17-18-33 10zm849-265l26-7-19-14-27 7zm-933 221l33-9-16-17-33 9zm-16-16l33-9-16-17-33 9zm-16-16l33-9-16-17-33 9zm-16-17l33-9-16-16-33 9zm-16-17l33-9-16-16-32 9zm847-263l27-7-18-13-26 7zm-861 209l33-9-16-15-32 8zm844-224l26-7-18-13-26 7zm-842 186l32-9-15-15-32 8zm780-204l26-7-17-12-26 6zm-795 185l32-8-15-15-32 8zm17-21l31-8-15-14-31 8zm718-184l26-6-17-13-26 7zm-702 163l31-8-15-14-30 7zm659-167l26-7-17-12-26 6zm-643 145l31-8-15-14-30 8zm599-151l27-6-17-13-26 7zm-583 129l31-8-15-14-30 8zm540-135l27-7-16-12-27 6zm-524 112l30-8-15-13-30 7zm482-120l26-6-16-13-26 7zm-437 92l29-7-15-13-29 7zm367-90l27-7-16-12-27 7zm-323 62l57-14-15-13-57 14zm198-47l55-13-15-13-55 14zm-370 253l32-8 0-3-32 9zm2-38l32-8 0-3-32 8zm-15-18l32-8 0-4-32 8zm17-20l31-8 0-4-31 7zm17-22l30-7 0-5-31 8zm16-21l30-8 0-5-30 8zm16-22l30-8 0-5-31 7zm15-23l30-7 0-6-30 7zm45-27l29-7 0-7-29 7zm44-29l29-7 0-7-29 7zm29-5l28-7 0-7-28 7zm750 405l-20-17 0-2 20 17zm-581-445l27-6 0-7-27 6zm70-2l-15-12 0-2 15 12zm-43-6l28-6 0-7-28 6zm622 409l-21-16 0-4 21 17zm-482-411l-16-12 0-3 16 12zm-43-5l27-7 0-7-27 7zm562 382l-21-16 0-5 21 16zm-450-378l-16-13 0-4 16 12zm-42-6l26-7 0-6-26 7zm528 347l-21-15 0-6 21 16zm-443-334l-16-12 0-5 16 12zm-43-6l27-6 0-6-27 6zm493 317l-21-15 1-6 20 15zm-407-304l-17-13 1-5 16 12zm-43-6l26-7 1-5-27 6zm457 286l-20-15 0-7 21 15zm-371-275l-17-12 0-6 17 12zm-43-6l26-6 0-5-26 6zm86 11l-17-13 0-6 17 12zm-43-6l26-7 0-4-26 6zm365 215l-20-14 0-8 20 15zm-262-190l-17-12 0-7 18 12zm-43-6l26-6 0-4-26 7zm272 147l-19-14 1-8 19 14zm-149-108l-18-13 0-8 18 13zm-44-6l26-7 0-2-26 7zm26-9l-18-13 0-7 18 12zm-44-6l26-7 0-3-26 7z" fill="#00a0e0" stroke="#00a0e0" stroke-width="2.80" stroke-linejoin="round"/>
<path d="M5139 1462l63-20-20-18-63 20zm279-87l59-19-21-17-59 19zm-364 89l32-10-19-18-33 10zm431-133l29-9-21-17-29 9zm37-36l28-9-20-16-29 9zm-605 163l33-10-19-18-33 10zm-52-7l33-11-19-18-33 10zm-52-9l33-10-18-18-33 10zm739-243l27-8-20-15-27 8zm-809 220l34-10-18-18-33 10zm816-245l27-8-20-15-27 8zm-867 234l34-10-18-18-33 10zm-17-15l33-10-17-17-33 10zm871-256l27-8-20-15-26 8zm-20-12l27-8-20-14-26 8zm-919 241l34-10-17-17-33 9zm-16-16l33-9-17-17-33 9zm904-277l26-7-19-14-26 7zm-19-13l26-7-19-13-26 7zm-19-13l26-7-18-13-26 7zm-18-14l26-7-19-13-26 7zm-19-14l26-7-18-13-26 7zm-925 232l32-9-15-16-33 9zm907-246l26-7-18-13-26 7zm-923 228l33-8-16-16-32 9zm2-37l32-9-15-15-32 8zm841-222l26-7-17-12-26 6zm-856 204l32-9-15-15-32 8zm795-222l26-7-17-12-26 6zm-776 161l31-7-15-15-31 8zm16-21l31-8-14-14-31 7zm657-166l26-6-16-13-26 7zm-640 144l30-8-15-14-30 8zm597-150l27-6-17-13-26 7zm-582 127l31-7-15-14-30 7zm46-27l30-7-15-13-30 7zm424-104l27-7-16-12-27 7zm-380 76l30-7-15-13-29 7zm283-68l54-13-15-12-54 13zm-182 26l112-26-15-13-112 27zm-260 264l32-9 0-2-32 9zm2-38l32-8 0-3-32 9zm-15-18l32-8 0-3-32 8zm19-59l31-8 0-4-31 7zm17-22l31-7-1-5-30 8zm16-21l30-8 0-5-30 7zm16-23l30-7 0-6-30 7zm45-26l30-7 0-7-30 7zm45-28l29-7 0-7-29 7zm100-42l28-6 0-7-28 6zm28-6l28-7 0-7-28 7zm28-7l28-6 0-7-28 6zm28-7l28-6 0-8-28 7zm654 446l-21-17 1-3 20 17zm30-12l-21-17 0-3 21 17zm-544-432l-15-13 0-2 15 12zm-42-6l27-7 0-7-27 7zm69-3l-15-13 0-2 15 12zm-42-6l27-7 0-7-27 7zm596 414l-21-17 1-4 20 17zm-484-409l-16-12 0-4 16 13zm-43-5l27-7 0-6-27 6zm563 378l-20-16 0-5 21 16zm-408-368l-17-13 0-5 17 12zm-43-6l26-7 0-5-26 6zm85 12l-16-13 0-5 17 12zm-42-6l26-7 0-5-26 6zm437 273l-20-15 0-7 21 15zm7-25l-20-15 1-7 20 14zm-299-217l-17-12 0-7 18 12zm-43-6l26-6 0-4-26 6zm329 186l-20-15 1-7 20 14zm-20-12l-20-14 1-8 20 15zm-205-150l-17-12 0-8 18 13zm-43-6l26-6 0-3-26 6zm216 105l-19-14 1-8 19 14zm-19-13l-19-13 1-9 19 14zm-19-13l-18-13 0-9 19 14zm-18-14l-19-13 1-8 18 13zm-19-14l-18-13 1-8 18 13zm-18-14l-18-13 0-8 19 13zm-44-6l26-7 0-1-26 6z" fill="#00b2e0" stroke="#00b2e0" stroke-width="2.80" stroke-linejoin="round"/>
<path d="M5223 1457l216-69-21-17-215 68zm-117 11l33-10-20-18-32 10zm371-116l30-9-22-17-29 9zm-456 119l33-11-19-18-33 10zm493-153l29-9-21-17-28 9zm-545 147l33-10-19-18-33 10zm582-184l28-8-21-16-28 8zm7-23l28-9-21-15-28 8zm7-24l28-8-21-16-27 9zm8-25l27-8-20-15-28 8zm-812 223l34-10-18-17-34 9zm-51-10l33-10-17-18-34 10zm856-274l27-8-20-15-27 8zm-925 248l34-10-17-17-34 9zm-17-15l34-10-17-17-34 9zm910-283l26-8-19-14-26 8zm-20-12l27-8-19-14-27 8zm-974 250l34-9-16-17-34 9zm-16-16l34-9-16-17-34 9zm-16-16l34-10-16-16-33 9zm-15-17l33-9-16-16-33 8zm-16-17l33-9-16-16-33 9zm907-280l26-6-18-13-26 6zm-920 226l32-9-15-15-32 8zm-15-18l32-9-15-15-32 8zm856-240l26-6-18-13-26 7zm-854 201l32-8-15-15-32 8zm17-21l32-8-15-14-32 8zm776-199l26-6-17-13-26 7zm-43-4l26-6-17-13-26 7zm-731 163l31-7-14-15-31 8zm17-21l30-8-14-14-31 7zm16-23l30-7-14-14-31 7zm569-137l27-6-16-12-27 6zm-523 111l30-7-15-14-29 7zm481-118l26-7-16-12-26 6zm-436 90l29-7-14-13-30 7zm366-89l27-7-15-12-27 7zm-322 62l86-21-15-13-86 21zm198-48l55-13-16-12-54 13zm-387 275l32-8 0-3-32 9zm-15-18l32-8 0-3-32 8zm2-38l32-8 0-3-32 8zm17-20l32-8 0-4-32 8zm3-40l31-8-1-5-31 8zm16-22l31-7 0-5-31 7zm16-22l31-7 0-6-31 8zm47-26l29-7 0-6-30 7zm44-27l30-7 0-7-30 7zm44-29l29-7 0-7-29 7zm29-5l29-7 0-7-29 7zm29-6l28-6 0-8-28 7zm758 440l-21-17 0-2 21 17zm-618-473l27-7 0-7-27 6zm70-2l-16-13 0-2 16 13zm-43-6l27-7 0-7-27 7zm659 437l-22-17 1-3 21 16zm-520-439l-15-12 0-3 15 12zm-42-5l27-7 0-7-27 7zm598 410l-21-17 1-4 21 16zm-487-406l-16-12 1-4 16 12zm-42-6l26-6 1-6-27 6zm565 376l-21-16 1-6 21 16zm-480-362l-16-12 0-5 16 12zm-43-6l27-6 0-6-26 6zm530 344l-21-15 1-6 21 15zm7-23l-21-16 1-6 21 15zm7-25l-20-15 0-7 21 15zm-373-272l-17-13 1-6 16 12zm-43-6l26-7 1-5-26 7zm86 10l-17-13 1-7 17 13zm-43-6l26-7 0-4-26 6zm366 213l-20-15 1-7 20 14zm-262-188l-18-13 1-7 17 12zm-44-6l26-7 1-3-26 6zm273 144l-19-14 1-8 19 14zm-19-12l-19-14 0-8 19 14zm-131-94l-18-13 1-8 18 13zm-44-7l26-6 0-2-26 6z" fill="#00c4e0" stroke="#00c4e0" stroke-width="2.80" stroke-linejoin="round"/>
<path d="M5191 1463l32-10-20-18-32 10zm248-79l60-19-21-17-60 19zm-365 91l33-10-20-18-33 10zm433-136l29-9-21-16-29 9zm-519 138l33-11-19-18-33 10zm556-173l28-9-21-16-28 9zm-608 166l33-10-19-18-33 10zm-53-7l34-10-19-18-33 10zm-52-8l34-10-19-18-33 10zm-52-9l34-10-18-18-34 10zm-52-10l34-10-18-18-34 10zm853-252l27-8-20-15-28 8zm-922 227l34-10-17-18-34 10zm896-301l26-8-19-14-27 7zm-981 258l34-10-17-17-33 10zm-16-16l33-9-16-17-34 9zm946-307l26-7-19-14-26 7zm-19-13l26-7-19-14-26 7zm-19-14l26-7-18-13-26 7zm-1004 235l33-9-15-16-33 8zm-15-18l33-9-15-15-33 8zm920-260l26-6-18-13-26 7zm-17-15l25-7-17-12-26 6zm-915 219l32-8-15-15-32 8zm854-237l26-6-18-13-26 7zm-852 199l32-8-15-15-31 8zm17-21l32-8-15-15-31 8zm732-202l26-7-17-12-26 7zm-43-6l26-6-17-12-26 6zm-43-6l26-6-16-12-26 6zm-580 125l30-7-15-13-30 7zm45-27l30-7-15-13-29 7zm423-103l27-6-16-12-26 6zm-378 75l29-7-15-13-29 7zm282-67l54-13-16-13-54 13zm-182 25l112-26-15-12-112 26zm-278 285l33-8-1-2-32 8zm-12-55l32-8 0-3-32 8zm3-38l31-8 0-4-32 8zm17-21l31-8 0-4-31 8zm65-87l30-7 0-6-30 7zm46-27l29-7 0-6-29 7zm44-28l29-7 0-7-29 7zm100-41l28-7 0-7-28 6zm28-7l28-6 0-8-28 7zm28-6l28-7 0-7-28 6zm28-7l28-7 0-7-28 6zm691 473l-21-17 0-2 21 17zm30-11l-21-17 0-3 21 17zm-581-461l-15-12 0-2 15 12zm-43-6l28-6 0-7-28 6zm70-3l-16-12 0-2 16 12zm-42-5l26-7 1-7-27 7zm633 441l-21-16 0-4 21 16zm-522-435l-16-12 0-4 16 12zm-42-6l26-6 0-7-26 6zm600 406l-21-16 1-5 21 16zm-447-395l-16-12 0-6 17 13zm-42-6l26-6 0-6-26 6zm85 12l-17-12 1-6 16 12zm-43-6l26-6 1-6-26 7zm86 11l-17-12 0-6 17 12zm-43-5l26-7 0-5-26 6zm439 270l-20-15 0-7 21 15zm-293-240l-18-13 1-7 17 12zm-44-6l26-7 0-4-25 7zm310 172l-19-14 0-8 20 14zm-188-133l-18-13 1-8 18 13zm-44-6l26-7 0-3-25 7zm26-10l-17-12 0-8 18 13zm-43-6l26-6 0-3-26 6zm198 91l-19-14 1-8 19 13zm-19-13l-19-14 1-8 19 13zm-19-14l-18-13 0-8 19 13z" fill="#00d7e0" stroke="#00d7e0" stroke-width="2.80" stroke-linejoin="round"/>
<path d="M5276 1457l155-50-22-18-154 50zm-149 23l64-20-20-18-64 20zm372-119l30-9-22-17-29 9zm-458 121l33-11-20-18-32 10zm495-156l29-9-21-16-29 9zm37-36l28-8-21-16-28 8zm-671 186l34-11-19-18-34 10zm678-209l28-8-21-16-28 8zm-730 201l33-10-18-19-34 10zm737-225l27-8-20-16-28 9zm-790 216l34-10-18-18-34 10zm797-240l27-8-20-15-28 8zm7-25l27-8-21-15-27 8zm-926 231l34-10-17-18-34 10zm912-267l27-8-20-14-27 8zm-980 240l34-9-17-18-34 10zm967-277l26-8-20-14-26 8zm-984 262l34-9-17-18-34 10zm951-313l27-7-20-14-26 7zm-1035 268l34-9-16-17-34 9zm1016-280l26-8-19-13-26 7zm-1032 264l34-9-16-17-34 9zm-16-17l34-9-16-16-33 9zm-15-17l33-9-15-16-34 9zm-16-17l34-9-16-16-33 9zm1004-267l26-7-19-13-25 7zm-18-14l25-7-18-13-26 7zm-18-14l25-7-18-13-25 7zm-980 241l32-8-15-16-32 9zm-15-18l32-8-15-16-32 9zm915-255l26-6-17-13-26 7zm-912 217l32-8-15-15-32 8zm852-235l25-7-17-12-25 6zm-850 196l32-8-14-15-32 8zm806-200l26-6-16-13-26 7zm-788 179l31-8-15-14-31 7zm16-22l31-8-14-14-31 8zm17-22l31-7-15-14-30 7zm16-22l31-8-15-13-30 7zm569-136l26-6-16-13-26 7zm-523 109l30-7-14-13-30 7zm480-117l27-6-16-12-27 6zm-464 95l59-14-15-13-59 14zm395-94l27-7-16-12-27 7zm-322 60l86-20-15-12-85 20zm198-46l54-13-15-12-54 12zm-405 296l32-9 0-2-32 8zm-15-18l32-9 0-2-32 8zm3-38l32-8 0-4-32 8zm3-39l32-8-1-4-31 8zm17-21l31-7 0-5-31 8zm17-21l31-8 0-5-31 8zm17-22l30-7 0-6-31 8zm16-22l30-7 0-6-30 7zm46-26l30-7 0-7-30 7zm15-24l30-7 0-6-30 7zm30-4l29-7 0-6-29 6zm44-29l28-7 0-7-29 7zm28-5l29-7 0-7-29 7zm29-6l28-6 0-7-28 6zm140-33l27-6 0-8-27 7zm69-2l-15-12 0-2 15 12zm-42-6l27-6 0-7-27 6zm696 466l-22-17 0-4 22 17zm-557-467l-16-12 0-3 16 12zm-43-5l27-7 0-7-26 7zm636 437l-21-16 0-4 21 16zm-524-432l-16-12 0-5 16 12zm-43-6l27-6 0-7-26 6zm603 403l-21-16 0-6 21 16zm-518-389l-16-13 0-4 16 12zm-42-6l26-7 0-6-26 6zm567 372l-21-16 0-6 21 16zm6-24l-20-16 0-6 21 16zm7-24l-20-15 0-7 21 15zm7-25l-21-15 1-7 21 15zm-375-270l-16-13 0-6 17 12zm-42-6l26-7 0-4-26 6zm403 240l-20-14 0-8 21 15zm-318-231l-17-12 1-7 17 12zm-42-6l25-6 1-4-26 6zm346 200l-20-14 1-8 20 14zm-243-175l-17-13 0-7 17 12zm-43-6l26-7 0-3-26 6zm254 131l-20-14 1-9 19 14zm-20-13l-19-13 1-9 19 14zm-75-53l-19-13 1-8 18 13zm-19-14l-18-13 1-8 18 13zm-18-14l-18-13 1-8 18 13zm-43-6l25-7 0-2-25 7z" fill="#09e0d8" stroke="#09e0d8" stroke-width="2.80" stroke-linejoin="round"/>
<path d="M5212 1474l64-20-21-18-63 20zm219-70l60-19-21-17-60 19zm-337 82l33-10-20-19-33 11zm435-138l29-9-21-17-30 9zm-521 140l33-10-19-19-33 10zm557-175l29-9-21-16-29 9zm-610 169l34-10-20-19-33 11zm653-229l28-9-21-15-28 8zm7-24l28-9-21-15-28 8zm-870 221l34-11-18-18-34 10zm-52-11l34-10-18-18-34 10zm915-270l27-8-21-15-27 8zm-984 244l34-10-17-17-34 9zm970-281l27-8-20-14-27 8zm-13-38l26-8-19-14-27 8zm-1042 276l34-10-17-17-34 10zm1022-288l26-7-19-14-26 7zm-1038 272l33-9-16-17-34 9zm-95-100l33-9-15-16-33 9zm-15-17l33-9-15-16-33 9zm-16-18l33-9-15-16-32 9zm996-258l25-7-17-13-26 7zm-992 220l32-8-15-16-32 9zm913-253l26-6-18-13-25 7zm-910 214l32-8-15-14-32 7zm3-39l31-8-14-14-32 7zm804-198l26-6-17-12-26 6zm-787 177l31-8-14-14-31 7zm744-182l26-6-16-12-26 6zm-727 160l31-8-15-14-30 8zm685-165l26-7-17-12-26 6zm-669 143l31-8-14-13-31 7zm626-150l26-6-16-12-26 6zm-579 124l30-7-14-14-30 7zm537-132l26-6-16-12-26 6zm-521 108l30-7-15-13-29 7zm452-106l26-6-15-12-27 6zm-378 74l29-7-14-13-29 7zm281-67l55-13-16-12-54 13zm-153 19l56-13-15-12-55 12zm-324 313l33-9-1-2-33 9zm-15-18l32-9 0-2-33 9zm3-37l32-9 0-3-32 9zm3-39l32-7 0-4-32 8zm3-39l32-7 0-5-32 8zm18-21l31-7 0-5-32 7zm17-21l30-8 0-5-31 7zm16-22l31-7 0-6-31 7zm47-26l30-7 0-6-30 7zm16-23l29-7 0-6-30 7zm74-32l29-7-1-7-29 7zm128-47l28-7 0-7-28 6zm28-7l27-6 0-8-27 6zm725 506l-21-17 0-2 21 18zm30-11l-21-17 0-2 21 17zm-588-500l-16-12 0-3 16 13zm-43-6l27-6 0-8-27 7zm70-3l-16-12 0-3 16 13zm-43-6l27-6 0-7-27 6zm671 470l-21-17 0-3 21 16zm-560-463l-15-12 0-4 16 12zm-42-6l27-6 0-7-27 6zm638 434l-21-16 0-5 22 16zm-527-430l-16-12 0-4 16 12zm-42-6l26-6 0-6-26 6zm84 14l-16-12 0-5 16 12zm-42-6l26-6 0-7-26 7zm569 368l-21-15 1-7 21 16zm-484-356l-17-12 1-5 16 12zm-43-6l26-6 1-6-27 7zm534 338l-21-15 0-7 21 16zm-449-326l-16-12 0-6 16 12zm-42-6l26-6 0-6-26 7zm85 11l-17-12 0-7 17 12zm-43-6l26-6 0-5-26 6zm441 268l-21-15 1-8 20 15zm-14-37l-20-14 0-8 20 14zm-281-202l-18-13 1-7 17 12zm-43-6l25-7 1-3-26 6zm310 170l-19-14 0-8 20 14zm-20-11l-19-14 1-9 19 14zm-169-121l-17-13 0-8 18 13zm-43-6l26-7 0-2-26 7z" fill="#1be0c5" stroke="#1be0c5" stroke-width="2.80" stroke-linejoin="round"/>
<path d="M5329 1456l93-30-21-18-93 30zm-181 35l64-21-20-18-65 20zm343-111l60-19-22-17-59 19zm-430 113l33-11-20-18-33 10zm497-158l29-9-21-17-29 10zm-583 159l33-10-19-19-34 10zm620-195l28-9-21-16-29 9zm-673 189l33-11-19-18-34 10zm679-212l29-9-22-15-28 8zm-732 204l33-10-18-18-34 10zm-53-8l34-10-19-18-34 10zm-53-9l34-10-18-18-34 10zm859-259l27-8-21-15-27 8zm-911 249l34-10-18-18-34 10zm918-274l27-8-21-15-27 8zm-988 249l34-10-17-18-34 10zm974-285l26-8-20-15-27 8zm-1043 258l35-10-17-18-35 10zm1029-296l26-8-19-14-27 8zm-1046 281l35-10-17-18-34 10zm1013-332l27-7-20-14-26 7zm-1096 286l34-9-16-17-34 9zm1077-298l26-7-19-14-26 7zm-1093 282l34-10-16-17-34 10zm1074-295l26-7-19-13-26 7zm-1090 278l34-9-16-17-33 9zm1071-291l26-7-19-13-26 7zm-1086 274l33-9-15-17-34 9zm1067-287l26-7-19-13-26 7zm-1083 270l34-9-15-16-34 8zm1064-284l26-7-18-13-26 7zm-18-14l26-7-19-13-25 7zm-1073 226l33-9-14-15-33 8zm993-255l26-7-18-13-26 7zm-989 217l32-9-14-15-33 8zm911-251l26-6-18-12-25 6zm-908 212l32-8-14-15-32 8zm865-215l26-6-17-12-26 6zm-60-21l26-6-16-12-26 6zm-42-5l26-7-17-12-25 7zm-43-6l27-7-17-12-26 7zm-635 138l30-7-14-14-30 7zm16-23l30-7-15-13-29 7zm509-120l26-6-16-12-26 6zm-464 94l59-14-14-13-59 14zm395-93l26-7-15-12-27 6zm-322 60l114-27-14-12-114 26zm170-40l82-19-15-12-82 19zm-410 292l33-8-1-3-32 9zm3-38l33-8 0-3-33 8zm4-38l32-8-1-4-31 8zm85-108l30-7 0-6-31 7zm16-22l29-7 0-7-30 7zm45-27l29-7 0-7-29 7zm29-5l30-6-1-7-29 6zm44-29l29-6 0-8-29 7zm29-5l28-6 0-8-28 7zm28-5l29-7 0-7-29 6zm29-6l28-7 0-7-28 6zm83-20l28-6 0-8-28 6zm28-7l27-7 0-7-27 6zm69-2l-15-12 0-2 15 12zm-42-6l27-6 0-8-27 6zm703 505l-21-17 0-3 21 18zm30-12l-22-17 0-3 22 17zm-595-494l-15-12 0-3 15 12zm-42-6l27-6 0-7-27 6zm673 466l-21-17 0-4 22 17zm-562-460l-16-12 0-4 16 12zm-42-6l26-6 0-7-26 6zm640 430l-21-16 0-5 22 16zm7-23l-22-15 1-6 21 16zm-494-397l-17-12 1-5 16 12zm-43-5l26-7 1-6-26 6zm85 11l-17-12 1-5 16 12zm-42-5l25-7 1-5-26 6zm513 325l-21-15 1-7 21 15zm-429-314l-16-12 0-7 17 12zm-42-6l26-6 0-6-26 7zm478 295l-21-15 1-8 20 15zm-376-268l-17-12 0-7 17 12zm-43-6l26-6 0-5-26 6zm404 238l-20-15 1-8 20 15zm-318-229l-18-12 1-8 17 12zm-43-6l25-6 1-5-26 7zm347 197l-19-14 0-8 20 14zm-226-158l-18-13 0-8 18 13zm-44-6l26-7 0-2-26 6zm238 114l-20-14 1-8 19 13zm-20-12l-19-14 1-8 19 13zm-19-13l-19-13 0-9 19 13zm-19-13l-19-13 1-9 18 13zm-19-13l-19-13 1-9 19 13zm-19-14l-18-13 0-8 19 13zm-18-14l-19-13 1-8 18 13z" fill="#2ee0b3" stroke="#2ee0b3" stroke-width="2.80" stroke-linejoin="round"/>
<path d="M5233 1485l96-31-21-18-95 30zm189-61l91-30-21-17-91 29zm-307 73l33-11-21-18-32 10zm436-140l29-10-21-16-30 9zm-523 142l34-10-20-19-34 11zm560-177l28-9-21-17-29 9zm-700 171l34-11-19-18-34 10zm742-231l28-9-21-16-28 9zm-795 223l34-10-19-19-34 10zm802-247l27-9-21-15-27 8zm-855 238l34-10-19-18-34 10zm861-262l28-9-21-15-28 8zm-985 228l35-10-18-18-34 10zm977-289l27-8-20-14-27 7zm-1046 263l35-10-18-18-34 10zm1032-300l27-8-20-14-27 8zm-1117 256l35-10-17-17-34 10zm1084-306l26-7-19-14-26 7zm-1100 290l34-9-16-18-34 10zm-94-101l33-8-15-16-33 8zm-15-17l33-9-15-16-33 9zm1058-277l26-7-19-13-25 7zm-1073 259l33-9-15-15-33 8zm1055-274l26-7-18-12-26 6zm-1051 237l32-9-14-15-33 8zm989-253l26-6-17-13-26 7zm-17-16l26-6-18-12-25 6zm-969 230l33-8-15-15-32 8zm4-39l31-8-14-15-32 8zm862-213l26-6-17-12-26 6zm-845 192l32-8-15-14-31 7zm17-22l32-7-15-14-31 7zm17-22l31-7-14-14-31 7zm17-22l31-7-15-14-30 7zm624-148l26-7-16-12-26 7zm-42-8l26-6-15-12-27 6zm-520 107l30-7-14-13-30 6zm451-106l27-6-15-12-27 6zm-377 73l29-7-14-13-29 7zm281-65l27-7-15-11-27 6zm-496 351l33-9 0-2-33 9zm-15-18l33-8 0-2-33 8zm4-37l33-8 0-3-33 8zm4-38l32-8 0-4-32 8zm3-39l32-8 0-4-32 8zm18-21l31-7 0-5-31 7zm17-21l31-7 0-6-31 8zm17-22l31-7 0-6-31 8zm17-22l30-7 0-6-30 7zm62-49l30-6 0-7-30 7zm74-32l29-7 0-7-29 7zm918 481l-21-17 0-2 21 17zm30-11l-21-18 0-2 22 17zm-626-529l-15-11 0-3 15 12zm-42-5l27-6 0-8-27 6zm735 488l-21-16 0-4 22 17zm-597-490l-15-12 0-4 15 12zm-42-6l27-6 0-7-27 6zm675 462l-21-17 0-4 22 16zm-565-457l-15-12 0-5 16 12zm-42-6l27-6 0-7-26 6zm84 13l-16-12 1-4 16 11zm-42-5l26-7 1-6-26 6zm607 395l-21-16 0-6 22 16zm6-24l-21-15 1-7 21 16zm7-24l-21-15 0-7 21 15zm-408-319l-17-12 0-7 17 12zm-43-6l26-6 0-5-25 6zm442 265l-20-14 0-8 21 14zm-14-37l-20-14 1-8 20 14zm-265-184l-17-13 0-8 18 13zm-43-6l26-7 0-3-26 6zm26-10l-18-12 1-8 17 12zm-43-6l25-6 1-4-26 6zm291 157l-19-14 0-9 20 14zm-151-105l-19-13 1-8 18 13zm-44-6l25-7 1-2-26 7zm26-9l-18-12 0-8 18 12zm-44-6l26-6 0-3-26 7z" fill="#40e0a0" stroke="#40e0a0" stroke-width="2.80" stroke-linejoin="round"/>
<path d="M5169 1501l65-21-21-18-65 20zm345-111l30-9-22-17-30 9zm-432 114l33-11-20-18-33 10zm499-160l29-10-22-16-29 9zm-586 162l33-11-20-19-33 11zm622-198l28-9-21-16-29 9zm-676 192l34-11-20-19-33 11zm683-215l28-9-22-16-28 9zm-895 182l34-10-18-19-34 10zm921-278l27-9-21-15-27 9zm-974 268l35-11-18-18-35 10zm980-294l27-8-20-15-27 8zm-1050 268l35-10-18-18-34 10zm1036-304l27-8-21-14-26 7zm-1105 276l35-10-17-17-34 9zm1091-314l27-7-20-14-27 7zm-1107 299l34-10-16-18-35 10zm1087-310l26-8-20-14-26 8zm-1171 264l35-10-16-17-35 9zm-16-17l35-9-16-17-34 9zm1135-312l26-7-19-13-26 7zm-1150 295l34-9-16-17-34 10zm1131-308l26-7-19-13-25 7zm-1147 291l34-9-15-16-34 9zm1129-304l25-7-19-13-25 7zm-1144 287l34-9-15-16-34 9zm1125-300l26-7-19-13-26 7zm-1151 228l33-8-15-16-33 8zm1052-271l26-7-18-12-26 6zm-1048 233l33-8-15-15-33 8zm-15-18l33-9-15-15-32 9zm19-21l32-8-15-14-32 8zm923-229l26-7-17-12-26 7zm-920 190l32-8-14-14-32 7zm861-211l25-6-16-12-26 6zm-843 189l31-7-14-14-31 7zm800-193l26-7-17-12-25 7zm-783 172l31-8-14-14-31 8zm741-178l26-6-17-12-25 6zm-724 156l31-8-14-13-31 7zm682-163l26-6-16-12-26 7zm-635 137l31-7-15-13-30 7zm16-23l30-7-14-13-30 7zm508-119l26-6-15-12-26 6zm-462 93l58-14-14-12-58 13zm366-85l54-13-15-11-54 12zm-264 46l195-45-15-12-195 44zm-289 279l33-8 0-3-33 9zm4-37l33-8 0-4-33 9zm-14-18l32-9 0-3-32 8zm18-20l32-8 0-4-32 7zm4-40l32-7 0-5-32 7zm18-21l31-7 0-5-31 7zm17-21l31-8 0-5-31 7zm17-22l31-7 0-6-31 7zm47-25l30-7 0-6-30 7zm16-23l30-7 0-7-30 7zm46-27l29-7 0-7-30 7zm29-4l29-7 0-7-29 7zm72-35l29-6 0-8-29 7zm29-5l28-7 0-7-28 6zm28-6l28-6 0-8-28 6zm28-6l28-7 0-7-28 6zm28-7l28-6 0-8-28 7zm28-7l27-6 0-8-27 7zm27-7l27-6 0-8-27 6zm768 526l-22-17 0-3 22 17zm-630-525l-15-12 0-3 15 12zm-42-6l27-6 0-7-27 6zm69-3l-15-12 0-3 15 12zm-42-6l27-6 0-7-27 6zm711 493l-22-16 0-4 22 16zm-601-487l-15-12 0-4 16 12zm-41-6l26-6 0-7-26 6zm677 458l-21-16 0-5 22 16zm7-23l-22-16 1-5 21 16zm-532-424l-16-12 0-5 16 12zm-42-5l26-7 0-6-26 6zm84 12l-17-12 1-6 16 12zm-42-6l25-6 1-6-26 6zm84 11l-17-12 1-6 16 12zm-42-5l25-7 1-5-26 6zm515 321l-21-15 1-7 21 15zm-431-311l-16-12 0-6 17 11zm-42-6l26-6 0-5-26 6zm479 292l-20-15 0-7 21 14zm-377-266l-17-12 0-7 17 12zm-43-5l26-7 0-4-26 6zm406 235l-21-14 1-8 20 14zm-14-37l-20-14 0-9 20 14zm-21-12l-20-14 1-8 20 14zm-207-146l-18-12 1-8 17 12zm-44-6l26-6 0-3-25 7zm199 88l-19-13 1-9 19 13zm-19-13l-19-13 1-8 19 13zm-19-13l-19-13 1-8 19 13zm-18-13l-19-13 1-9 18 13z" fill="#52e08e" stroke="#52e08e" stroke-width="2.80" stroke-linejoin="round"/>
<path d="M5287 1485l219-71-22-17-218 70zm-151 23l33-11-21-19-33 11zm408-131l59-19-22-17-59 18zm-495 134l33-11-20-19-34 11zm561-181l29-9-22-16-29 9zm-649 182l34-11-20-19-34 11zm-54-7l34-10-19-19-34 10zm745-234l28-9-21-16-28 9zm-798 227l34-11-19-19-34 11zm805-251l28-9-22-15-28 8zm-859 243l35-11-19-19-34 11zm865-267l28-9-22-15-27 8zm-918 258l35-11-19-19-34 11zm924-283l28-8-21-15-28 8zm-977 273l35-11-18-18-35 10zm-71-26l35-10-17-18-35 10zm1040-308l27-8-21-14-27 8zm-1109 282l35-11-17-18-35 10zm1095-319l26-8-20-14-26 8zm-1180 274l35-10-16-17-35 9zm1146-324l26-7-20-14-26 7zm-1162 308l35-10-16-17-35 10zm1142-320l26-7-19-13-26 7zm-19-12l26-7-20-14-25 8zm-1216 231l34-9-16-16-33 9zm1121-297l26-7-18-13-26 7zm-1136 279l33-9-15-16-33 9zm1118-293l26-7-18-13-26 7zm-1133 275l33-8-14-16-34 8zm4-37l33-9-14-15-33 8zm1050-268l25-7-17-12-26 6zm-1064 250l32-9-14-15-33 8zm1003-268l26-6-18-12-25 6zm-999 229l32-8-14-15-32 8zm18-21l32-7-14-15-32 8zm921-227l26-6-17-12-26 6zm-834 119l30-7-14-13-30 7zm623-147l26-6-16-12-26 6zm-607 125l30-7-14-14-30 7zm565-133l26-6-16-12-26 6zm-519 106l30-7-14-13-30 7zm450-105l27-6-16-12-26 6zm-376 73l58-13-15-13-57 13zm253-59l54-12-15-12-54 13zm-488 365l33-9 0-1-33 8zm-15-18l34-8-1-2-33 8zm5-37l33-8-1-3-32 9zm-15-18l33-8 0-3-33 8zm5-38l32-8 0-4-33 8zm18-20l32-8 0-4-32 7zm87-107l30-7 0-6-31 7zm16-23l30-7 0-6-30 7zm46-26l30-7-1-7-29 7zm74-33l29-6 0-8-29 7zm29-5l28-6 0-7-28 6zm926 515l-22-18 0-2 22 18zm-661-560l-15-12 0-2 15 12zm-42-6l27-6 0-7-27 6zm69-2l-15-12 0-2 15 12zm-42-6l27-6 0-7-27 6zm743 530l-21-18 0-3 22 17zm30-13l-22-17 1-4 21 17zm-635-518l-16-12 0-3 16 11zm-42-6l26-6 0-7-26 6zm713 489l-22-16 1-5 22 17zm-603-484l-16-12 0-4 16 12zm-42-6l26-6 0-6-26 6zm84 14l-16-12 0-4 16 11zm-42-6l26-6 0-6-26 6zm644 423l-21-16 0-6 22 16zm7-24l-22-15 1-7 21 16zm6-24l-22-15 1-7 21 16zm6-24l-21-15 0-7 21 15zm-410-317l-17-12 0-7 17 12zm-43-6l26-6 0-5-25 6zm444 262l-21-14 1-8 20 14zm-341-237l-18-12 1-8 17 13zm-43-6l25-6 1-4-26 6zm369 206l-20-14 1-8 20 14zm-266-183l-17-12 0-8 18 12zm-43-6l26-6 0-3-26 6zm275 140l-20-14 1-8 20 13zm-20-12l-19-13 1-9 19 13zm-19-12l-20-14 1-8 19 13zm-95-66l-18-13 0-8 19 12zm-18-14l-18-13 0-8 18 12zm-44-6l26-7 0-2-26 7z" fill="#65e07c" stroke="#65e07c" stroke-width="2.80" stroke-linejoin="round"/>
<path d="M5223 1503l65-21-22-19-64 21zm283-93l60-20-22-17-60 19zm-403 105l33-11-21-19-33 11zm500-163l30-9-22-17-29 9zm-588 165l34-11-20-19-34 11zm625-200l28-10-22-16-28 9zm6-23l28-9-21-16-29 9zm-773 216l34-10-19-19-34 10zm-54-7l35-11-19-19-35 11zm-54-9l35-11-18-19-35 11zm913-321l27-8-21-15-27 8zm-1037 287l35-11-18-18-35 10zm1043-313l27-8-21-14-27 8zm-1113 287l35-11-17-18-35 10zm1098-323l27-8-21-14-26 8zm-1167 295l35-11-17-17-35 10zm-17-16l35-10-16-18-35 10zm1150-328l26-8-20-13-26 7zm-1249 265l35-10-16-17-34 10zm-15-17l34-10-15-16-35 9zm-16-17l35-9-15-17-35 9zm-15-18l34-9-15-16-34 9zm1105-344l26-7-18-12-26 7zm-1130 272l33-8-14-16-34 9zm1112-287l26-6-18-13-25 7zm-61-16l26-6-18-12-25 6zm-1061 247l33-8-14-15-33 8zm1001-265l26-6-18-12-25 6zm-978 205l32-7-14-15-32 8zm919-225l25-6-17-12-25 7zm-901 204l32-7-15-14-31 7zm858-208l26-6-17-12-25 6zm-840 187l31-7-14-14-31 7zm798-192l26-6-17-12-25 6zm-781 170l31-7-14-14-31 8zm739-176l26-6-16-12-26 6zm-722 154l31-7-14-14-31 8zm680-161l26-6-16-11-26 6zm-664 139l31-7-14-14-30 7zm47-27l30-7-14-13-30 7zm507-118l26-6-15-11-27 6zm-462 92l59-13-14-13-58 13zm366-83l27-6-15-12-27 6zm-264 44l195-45-14-12-195 44zm-308 301l34-9 0-2-34 8zm-9-56l33-8-1-4-32 8zm23-59l32-8 0-4-32 7zm18-21l31-7 0-5-31 7zm18-21l31-7 0-6-32 8zm17-21l31-8 0-6-31 8zm17-22l31-8-1-6-30 7zm17-23l30-7 0-6-31 7zm46-26l30-7 0-6-30 6zm46-27l29-7 0-7-30 7zm29-4l29-7 0-7-29 7zm72-35l28-6 0-7-28 6zm29-5l28-6 0-8-29 6zm28-6l28-6 0-8-28 7zm28-6l27-6 0-8-27 6zm27-6l28-7 0-7-28 6zm28-7l27-6 0-8-27 6zm27-7l28-7 0-7-28 6zm775 565l-22-17 0-2 22 17zm30-12l-22-17 1-3 22 18zm-667-552l-15-12 0-3 15 12zm-42-6l27-6 0-7-27 6zm776 512l-22-17 0-4 22 17zm-639-515l-15-11 0-4 15 12zm-42-5l27-6 0-7-27 6zm716 484l-22-16 1-5 22 17zm6-22l-21-16 0-6 22 16zm-570-451l-16-11 0-6 16 12zm-42-5l26-6 0-7-26 6zm84 12l-16-12 0-5 16 11zm-42-6l26-6 0-6-26 6zm84 12l-17-12 1-6 16 12zm-42-6l25-6 1-6-26 6zm84 11l-17-12 1-6 16 12zm-42-6l25-6 1-5-26 6zm517 319l-21-15 1-8 21 15zm-433-309l-17-12 1-6 17 11zm-42-5l25-7 1-5-26 7zm481 288l-21-14 1-8 21 14zm-379-263l-18-12 1-7 17 12zm-43-6l25-6 1-4-26 6zm407 233l-21-14 1-8 21 14zm-304-209l-18-12 1-8 17 12zm-43-6l25-6 0-4-25 7zm312 166l-20-13 1-9 20 14zm-190-130l-18-12 0-8 18 12zm-44-5l26-7 0-2-26 6zm26-9l-18-13 0-8 18 13zm-43-6l25-7 0-2-25 6z" fill="#77e069" stroke="#77e069" stroke-width="2.80" stroke-linejoin="round"/>
<path d="M5309 1495l189-62-22-18-188 61zm-152 25l66-22-21-19-66 21zm410-133l29-10-22-17-29 9zm-498 135l34-11-21-19-33 11zm564-183l29-9-22-17-29 9zm-652 184l34-10-20-20-34 11zm-54-6l34-10-20-19-34 10zm748-238l28-8-22-16-28 8zm6-23l28-9-22-15-28 8zm6-24l28-8-22-16-27 8zm6-24l28-9-22-15-27 8zm-981 276l35-10-18-19-35 11zm987-301l28-9-22-14-27 8zm-1040 291l35-10-18-19-35 10zm-71-26l35-10-17-18-35 10zm1102-327l27-8-21-14-26 8zm-1171 300l35-10-17-18-35 10zm1136-348l26-7-20-14-26 7zm-1221 303l35-10-16-18-35 10zm-16-16l35-10-16-17-35 9zm-16-17l35-9-16-17-35 9zm1200-333l26-7-19-13-26 7zm-19-13l26-7-20-13-25 7zm-19-12l25-7-19-13-25 7zm-19-13l25-7-18-13-26 7zm-19-14l26-7-19-12-25 6zm-1201 300l34-9-15-16-34 9zm1183-314l25-6-18-13-26 7zm-1198 296l34-9-15-16-33 9zm-15-17l34-9-14-16-34 8zm5-38l34-8-15-16-33 9zm1110-284l25-6-18-12-25 6zm-1124 266l33-9-14-15-33 8zm1063-282l25-7-17-12-25 6zm-1058 243l32-8-14-15-32 8zm18-20l33-8-14-15-33 8zm980-242l26-6-17-12-26 6zm-975 202l32-7-14-15-32 8zm18-21l31-7-14-14-31 7zm17-21l32-8-14-14-31 8zm797-191l26-6-17-11-25 6zm-779 169l31-8-14-13-31 7zm669-171l26-6-16-12-26 6zm-605 123l30-7-14-13-30 7zm563-131l26-6-15-12-26 6zm-517 104l29-7-14-13-29 7zm422-96l53-13-15-11-53 12zm-348 64l57-13-14-13-57 13zm252-58l54-12-14-12-54 12zm-507 385l33-9 0-1-34 9zm-15-18l34-8 0-2-34 8zm5-36l33-9 0-3-33 9zm-14-19l33-8 0-3-34 8zm5-38l32-8 0-4-33 8zm18-20l33-8-1-4-32 8zm5-39l32-8-1-5-32 8zm18-21l31-7 0-6-31 8zm18-21l31-8-1-5-31 7zm17-22l31-7-1-6-30 7zm64-47l30-7 0-7-30 7zm46-27l29-7 0-7-29 7zm74-33l29-6-1-7-28 6zm29-4l28-7 0-7-29 6zm264-45l-14-12 0-2 14 12zm-41-6l27-6 0-8-27 6zm68-2l-14-12 0-2 14 12zm-41-6l27-6 0-8-27 7zm780 557l-22-17 0-3 23 17zm-670-549l-15-12 0-3 15 12zm-42-6l27-6 0-7-27 6zm68-3l-15-12 0-3 15 12zm-41-6l26-6 0-7-26 6zm751 517l-22-17 0-5 22 17zm-642-511l-15-12 0-4 15 11zm-41-6l26-6 0-7-26 6zm83 14l-16-12 0-4 16 11zm-42-6l26-6 1-7-27 6zm683 450l-22-16 1-6 22 16zm6-24l-22-15 1-7 22 16zm6-23l-22-16 1-7 21 16zm-543-395l-17-11 1-6 16 12zm-42-5l25-6 1-6-26 6zm591 375l-22-15 1-7 21 15zm6-25l-22-14 1-8 21 15zm-412-314l-17-12 0-7 17 12zm-43-6l26-6 0-5-25 6zm445 259l-21-14 1-8 21 14zm-343-235l-17-12 1-7 17 12zm-42-6l25-6 0-4-25 7zm349 194l-20-14 1-9 20 14zm-246-171l-18-12 1-8 18 12zm-43-6l25-6 1-3-26 6zm236 114l-19-13 1-9 19 13zm-19-13l-20-13 1-8 19 13zm-20-12l-19-13 1-9 19 13zm-19-13l-18-13 0-9 19 13zm-18-14l-19-12 1-9 18 13zm-19-13l-18-13 0-9 19 13z" fill="#8ae057" stroke="#8ae057" stroke-width="2.80" stroke-linejoin="round"/>
<path d="M5244 1513l66-21-22-19-65 21zm254-82l61-20-22-18-61 20zm-374 95l33-11-21-19-33 10zm473-152l29-10-22-17-30 10zm-562 155l34-11-20-19-34 10zm634-226l28-10-22-16-28 9zm-777 220l35-11-20-19-34 11zm-54-8l35-10-19-20-35 11zm-54-8l35-11-19-19-35 11zm-54-9l35-11-18-19-35 11zm-53-10l35-11-18-18-35 10zm1029-331l26-8-21-14-26 7zm-1100 306l35-10-18-19-35 10zm-71-27l36-10-17-18-36 10zm1141-352l26-8-20-13-26 7zm-1210 324l36-10-17-18-35 10zm-16-16l35-10-16-18-35 10zm1192-358l26-7-20-14-26 8zm-20-12l26-7-20-13-25 7zm-1271 306l35-9-16-18-34 10zm-15-17l34-9-15-17-35 9zm-16-17l35-9-15-17-35 9zm1169-364l26-6-19-13-25 7zm-18-14l26-6-19-13-25 7zm-1190 288l34-8-15-16-34 9zm1111-318l26-6-18-12-25 6zm-1121 262l34-8-15-15-33 8zm1061-279l25-7-17-12-25 7zm-1056 240l33-8-14-14-33 8zm19-20l32-8-13-14-33 7zm978-240l25-6-17-11-25 6zm-43-3l26-7-17-11-25 6zm-42-5l26-6-17-12-25 6zm-84-12l26-6-16-12-26 6zm-720 152l30-7-13-13-31 7zm678-159l26-6-16-11-26 6zm-662 137l31-7-14-13-30 7zm47-27l30-6-14-13-30 7zm505-116l27-6-15-12-27 6zm-430 85l29-7-14-13-29 7zm335-77l27-6-15-12-26 6zm-235 37l139-32-14-11-139 30zm-356 328l34-9 0-2-34 8zm-9-56l33-8 0-4-33 9zm5-38l33-8 0-4-33 7zm19-21l33-7-1-5-32 8zm89-106l31-7-1-6-30 7zm17-22l30-7 0-7-31 7zm46-26l30-7 0-7-30 7zm75-32l29-7-1-7-29 7zm100-40l28-6 0-8-28 7zm28-6l28-6 0-7-28 6zm28-6l28-6 0-8-28 7zm28-6l28-6-1-8-27 6zm28-7l27-6 0-8-28 6zm809 598l-22-17 0-2 22 18zm30-11l-22-18 0-2 22 18zm-675-592l-15-12 0-3 15 12zm-41-6l26-6 0-8-26 6zm783 552l-22-17 0-3 22 17zm-647-554l-15-12 0-4 15 12zm-42-6l27-6 0-7-27 6zm760 489l-22-16 1-5 22 16zm-609-477l-16-11 0-5 16 11zm-42-5l26-6 1-7-26 6zm84 12l-16-12 0-5 16 12zm-42-6l26-6 0-6-26 6zm126 18l-17-12 0-6 17 12zm-42-6l25-6 0-6-25 7zm84 10l-17-11 0-7 17 12zm-42-5l25-6 0-6-25 7zm518 315l-21-14 1-8 21 14zm-434-306l-17-11 0-7 17 11zm-42-5l25-6 0-5-25 6zm101 24l-17-12 1-7 17 12zm-42-5l25-7 0-4-25 7zm387 219l-20-13 1-9 20 14zm-284-196l-18-12 0-8 18 12zm-43-6l25-6 0-4-25 7zm293 153l-20-14 1-9 20 14zm-20-12l-20-13 1-9 20 13zm-133-91l-19-13 1-8 18 12zm-44-6l25-7 1-1-26 6zm26-8l-19-13 1-8 18 12zm-44-6l25-7 1-2-26 7z" fill="#9ce044" stroke="#9ce044" stroke-width="2.80" stroke-linejoin="round"/>
<path d="M5396 1484l63-21-22-18-63 20zm-184 37l33-11-22-19-33 10zm348-115l59-19-22-18-60 20zm-470 127l34-11-21-19-34 11zm536-172l30-10-23-17-29 10zm-625 174l35-11-21-19-34 11zm661-210l29-9-22-17-29 9zm-715 204l34-11-20-19-34 11zm751-241l28-9-22-16-28 9zm-840 240l34-11-19-19-35 11zm846-263l28-9-22-16-28 9zm-901 255l35-11-19-19-35 11zm907-279l27-9-22-15-27 8zm-961 270l35-10-19-19-35 10zm966-294l28-9-22-15-27 8zm6-25l28-8-22-15-27 8zm6-25l27-8-21-15-27 8zm-1104 310l36-10-18-19-36 11zm1089-346l26-7-21-15-26 8zm-1160 320l36-10-17-19-36 11zm1145-356l26-8-21-14-26 8zm-1214 328l35-10-16-18-36 10zm1199-366l26-8-20-13-26 7zm-20-11l26-8-20-13-26 7zm-1264 332l35-10-16-18-35 10zm-16-17l35-9-16-18-35 10zm-16-16l36-10-16-17-35 9zm1224-376l26-7-19-13-26 7zm-19-13l26-7-19-13-26 7zm-1266 321l35-9-15-17-35 9zm-15-18l35-9-15-16-34 9zm-15-18l35-8-15-17-34 9zm1178-339l26-7-18-12-26 6zm-1187 284l34-8-14-16-34 9zm-14-18l33-9-14-15-33 8zm1123-297l25-7-17-12-25 7zm-1118 259l33-9-14-15-33 9zm1058-277l25-7-17-11-25 6zm-1053 237l33-7-14-15-33 8zm19-20l32-8-14-14-32 8zm18-21l32-8-13-14-32 8zm915-220l25-7-16-11-26 6zm-896 199l31-8-14-14-31 8zm854-204l25-7-16-11-25 6zm-837 182l31-7-13-14-31 7zm795-188l26-6-16-12-26 6zm-777 166l30-7-13-13-31 7zm17-22l30-7-13-13-31 7zm650-148l27-6-16-11-26 6zm-603 122l30-7-14-13-30 7zm46-26l58-13-13-13-59 13zm421-95l27-6-15-12-27 6zm-347 62l85-19-14-12-85 19zm224-50l55-12-15-12-54 12zm-500 398l34-9 0-1-34 9zm-9-54l34-9-1-3-33 9zm-14-19l33-8 0-3-33 8zm5-37l33-9 0-3-33 8zm5-39l33-8 0-4-33 7zm19-20l32-8 0-5-32 8zm19-21l32-8-1-5-32 8zm18-21l31-8 0-5-31 7zm18-22l31-7-1-6-31 8zm17-21l31-7-1-7-30 7zm17-22l31-7-1-7-30 7zm47-26l30-7 0-7-30 7zm46-27l29-6 0-8-29 7zm29-4l30-6-1-8-29 7zm45-28l28-7 0-7-29 6zm28-5l29-7 0-7-29 6zm29-5l28-7 0-7-28 6zm167-38l27-6 0-8-27 6zm69-2l-15-11 0-2 15 12zm-42-5l27-6 0-8-27 6zm815 589l-22-18 0-2 23 17zm31-13l-23-17 0-3 23 17zm-709-576l-15-12 0-3 15 12zm-42-6l27-6 0-7-27 6zm787 548l-23-17 1-4 22 17zm35-35l-22-17 0-5 23 17zm-644-508l-16-11 0-5 16 12zm-42-5l26-6 0-7-26 6zm721 476l-22-16 0-6 23 16zm6-23l-22-16 0-6 22 16zm5-24l-22-15 1-7 22 16zm-581-420l-16-12 0-5 16 11zm-42-6l26-6 0-6-26 6zm629 402l-22-15 1-7 22 15zm-546-391l-16-11 0-6 17 11zm-41-5l25-6 0-6-25 6zm593 372l-22-15 1-8 21 15zm-510-362l-16-11 0-7 17 12zm-42-5l26-6 0-6-25 6zm557 342l-21-15 1-8 21 15zm-16-35l-21-15 1-8 21 14zm-398-278l-17-11 1-8 17 12zm-42-5l25-6 1-5-26 6zm425 246l-21-14 1-8 21 14zm-323-223l-17-12 0-8 18 12zm-42-5l25-7 0-3-25 6zm350 190l-20-13 1-9 20 14zm-20-11l-20-13 1-9 20 13zm-209-143l-18-12 0-9 18 13zm-44-6l26-6 0-3-25 7zm181 73l-19-13 0-9 19 13zm-19-13l-19-13 0-9 19 13z" fill="#aee032" stroke="#aee032" stroke-width="2.80" stroke-linejoin="round"/>
<path d="M5299 1514l97-32-22-18-96 31zm160-52l93-31-23-18-92 31zm-314 76l67-22-21-19-67 22zm475-156l29-9-22-18-30 10zm-564 158l34-11-20-19-34 10zm600-193l29-9-22-17-29 9zm-689 194l34-11-20-19-34 11zm725-230l28-9-22-17-29 9zm-780 224l35-11-20-19-35 11zm820-285l28-9-22-16-28 9zm6-24l27-9-21-15-28 8zm6-25l27-8-22-15-27 8zm-1049 301l35-11-18-19-35 11zm-54-10l36-11-19-19-35 11zm1092-351l27-8-21-14-27 8zm-1163 325l35-11-17-18-36 10zm1148-361l26-7-21-15-26 8zm-1218 334l35-11-17-18-35 10zm1203-371l26-8-20-13-26 7zm-1273 342l36-10-17-19-35 11zm-16-16l36-10-17-18-35 10zm1235-388l25-7-19-13-26 7zm-20-12l25-7-19-13-25 7zm-20-12l26-7-19-13-26 7zm-1309 330l35-9-15-17-35 9zm1252-369l26-7-19-13-25 7zm-18-14l25-7-18-12-26 6zm-19-14l26-6-19-13-25 7zm-1254 309l34-9-15-16-34 8zm-15-19l34-8-14-16-34 9zm1190-318l25-7-18-12-25 7zm-1198 262l33-8-14-15-33 8zm1120-294l25-6-17-12-25 6zm-1115 256l33-8-14-15-33 8zm1013-278l25-6-16-12-26 6zm-989 218l32-8-14-14-32 7zm18-21l32-8-13-14-32 8zm19-22l31-7-14-14-31 7zm17-21l31-8-13-13-31 7zm767-176l26-6-16-11-26 6zm-41-7l26-6-16-11-26 5zm-661 135l31-7-14-13-30 7zm593-133l26-6-15-12-26 6zm-546 107l30-7-14-13-30 7zm478-107l26-6-15-11-26 5zm-404 75l29-7-13-12-29 6zm309-70l53-12-14-11-54 12zm-152 18l28-7-14-11-28 6zm-418 378l34-8 0-2-34 8zm-14-17l34-9 0-2-34 8zm-8-56l33-8 0-3-34 8zm5-38l33-8 0-4-33 8zm24-60l32-7 0-5-32 7zm19-20l32-8-1-5-31 7zm18-22l31-7 0-6-31 8zm18-21l31-7-1-6-31 7zm65-47l30-7 0-7-30 7zm46-26l30-7 0-7-30 7zm75-32l29-6-1-8-29 7zm156-51l28-6 0-8-28 6zm902 613l-22-18 0-2 22 18zm-709-624l-15-11 0-2 15 11zm-42-5l27-6 0-8-27 6zm68-3l-14-11 0-3 14 12zm-41-5l27-6 0-8-27 6zm821 580l-22-18 0-3 23 17zm-712-573l-15-11 0-4 15 12zm-41-6l26-5 0-8-26 6zm789 544l-22-17 0-4 23 17zm-680-538l-15-12 0-4 15 12zm-41-6l26-6 0-7-26 6zm756 508l-22-17 0-5 23 17zm-647-504l-16-11 0-5 16 11zm-42-6l26-5 0-7-26 6zm83 13l-16-11 0-6 16 12zm-42-5l26-6 0-7-25 6zm688 441l-22-16 1-6 22 16zm5-24l-21-15 0-7 22 15zm6-24l-22-15 1-7 22 15zm-490-366l-16-12 0-7 17 12zm-42-6l26-6 0-5-25 6zm521 312l-21-14 1-8 21 14zm-16-35l-21-15 1-8 21 14zm-361-249l-17-12 0-8 17 12zm-42-6l25-6 0-4-25 6zm388 217l-20-13 1-9 20 14zm-268-180l-18-12 1-8 17 12zm-43-5l25-7 0-3-25 7zm256 124l-19-13 0-9 20 13zm-20-12l-19-13 1-9 19 13zm-19-12l-19-13 1-9 19 13zm-57-39l-19-13 1-9 19 13zm-19-14l-18-12 0-9 19 13zm-18-13l-19-13 1-8 18 12zm-44-6l25-7 0-1-25 6z" fill="#c1e020" stroke="#c1e020" stroke-width="2.80" stroke-linejoin="round"/>
<path d="M5234 1532l65-22-21-19-66 22zm318-105l61-20-23-17-60 19zm-441 117l34-11-21-19-34 10zm539-175l29-9-22-18-30 10zm-628 178l34-11-20-20-34 11zm664-213l28-10-22-16-29 9zm35-37l28-9-22-17-29 9zm-844 244l35-11-20-20-34 11zm850-268l28-8-23-16-28 8zm-905 260l36-11-20-19-35 11zm-54-8l35-11-19-19-35 10zm-55-9l36-11-19-19-35 10zm-54-10l36-11-19-19-35 10zm1090-330l27-8-21-15-27 8zm6-25l27-8-22-15-26 8zm-1168 330l36-11-18-19-35 11zm1152-366l26-7-20-15-27 8zm-1223 339l36-11-17-18-36 10zm1208-375l26-8-21-14-26 8zm-1277 346l35-10-16-18-36 10zm1242-396l25-7-20-13-25 7zm-1327 350l36-10-16-17-36 9zm1307-361l25-7-20-14-25 7zm-1323 345l36-10-16-18-35 10zm-15-17l35-9-16-18-35 10zm-16-17l35-9-15-17-35 9zm-30-34l35-9-15-17-35 9zm-15-17l35-9-15-17-35 9zm-15-18l35-9-15-16-35 9zm-15-18l35-9-15-16-34 9zm1257-341l25-6-18-13-25 7zm-18-14l25-7-18-12-25 6zm-1247 300l34-8-14-16-34 9zm-15-18l34-9-14-15-33 8zm1201-297l25-7-17-12-26 7zm-17-16l25-6-18-12-25 6zm-1178 275l34-8-14-16-33 9zm1118-292l25-6-17-12-25 6zm-1112 253l33-8-14-15-33 8zm1069-256l26-6-17-12-26 7zm-1050 235l33-7-14-15-32 8zm992-255l25-6-17-12-25 6zm-42-5l25-6-16-11-26 6zm-42-5l25-6-16-11-25 6zm-42-6l26-6-16-11-26 5zm-775 164l30-7-13-13-31 7zm17-22l30-7-13-13-31 7zm649-146l26-6-15-11-26 5zm-602 120l30-7-14-12-30 6zm534-119l27-6-16-12-26 6zm-488 93l58-13-13-12-59 13zm420-94l27-6-15-12-26 6zm-318 57l113-26-14-11-113 24zm141-32l109-24-15-12-108 24zm-474 351l34-9-1-3-34 9zm-14-19l33-8 0-3-34 8zm6-37l33-9 0-3-34 8zm5-39l33-8 0-4-33 8zm20-20l32-8 0-4-33 7zm90-106l31-7 0-6-31 7zm17-22l31-7-1-7-30 7zm47-26l30-6 0-7-30 6zm46-27l29-6 0-7-29 6zm30-4l29-6-1-7-29 6zm72-33l29-6 0-8-29 6zm29-5l28-6 0-8-28 6zm28-5l28-7 0-7-28 6zm28-6l28-6 0-8-28 6zm56-13l27-6 0-8-27 6zm27-6l27-6 0-8-27 6zm27-7l28-6-1-8-27 6zm851 621l-23-17 0-3 23 18zm-782-623l-15-12 0-1 15 11zm-41-6l26-6 0-7-27 5zm853 617l-23-17 1-3 22 18zm-717-616l-15-12 0-2 15 11zm-41-6l26-6 0-7-26 6zm824 576l-22-18 0-3 23 17zm-715-569l-16-12 1-3 15 11zm-42-6l26-6 1-7-27 6zm792 539l-22-16 1-5 22 17zm-683-534l-15-11 0-5 15 12zm-41-6l26-5 0-7-26 5zm759 504l-22-17 0-5 23 16zm6-23l-23-16 1-6 22 16zm-615-471l-16-11 0-6 16 12zm-42-6l26-5 0-7-25 6zm83 12l-16-11 1-6 16 11zm-41-5l25-6 1-6-26 6zm83 10l-16-11 0-6 16 11zm-42-5l26-6 0-6-25 6zm595 368l-21-15 1-7 21 15zm-511-358l-17-12 1-6 16 11zm-42-6l25-6 1-5-26 6zm559 339l-22-15 1-8 22 15zm-458-313l-17-12 0-7 17 12zm-43-5l26-7 0-4-25 6zm484 283l-20-15 0-8 21 14zm-399-275l-17-12 0-7 17 11zm-42-6l25-6 0-4-25 6zm426 244l-21-14 1-9 21 14zm-307-206l-17-12 0-8 18 12zm-43-5l26-7 0-3-25 6zm26-10l-18-12 1-8 17 12zm-43-6l25-6 1-3-26 6zm331 178l-20-13 1-9 20 13zm-20-11l-20-14 1-9 20 14zm-172-116l-18-13 1-8 18 12zm-43-6l25-7 0-2-25 7zm25-9l-18-12 1-8 18 12zm-43-6l25-6 1-2-26 6z" fill="#d3e00d" stroke="#d3e00d" stroke-width="2.80" stroke-linejoin="round"/>
<path d="M5354 1514l191-63-23-18-190 62zm-154 25l34-11-22-19-33 11zm413-135l30-10-23-18-29 10zm-536 147l34-11-20-19-35 11zm603-195l29-10-23-17-29 10zm-693 197l35-11-20-20-35 11zm728-233l29-10-23-16-28 9zm-783 227l35-11-20-19-35 11zm823-288l28-9-22-16-28 9zm6-24l27-9-22-16-27 9zm5-25l27-8-21-15-28 8zm6-24l27-9-22-15-27 9zm-1167 309l36-11-18-19-36 11zm1156-370l26-7-21-15-26 8zm-1227 344l36-11-18-19-36 11zm1211-380l26-8-21-14-26 8zm-1282 352l36-10-17-19-35 10zm-69-29l36-11-16-18-36 10zm1315-371l26-8-20-13-26 7zm-1331 355l36-10-16-18-36 9zm1277-418l26-7-20-13-25 7zm-19-12l25-7-19-13-25 7zm-20-13l26-7-19-12-26 6zm-19-13l26-7-19-12-26 6zm-18-13l25-7-19-12-25 6zm-19-13l25-7-19-12-25 6zm-1334 311l34-9-14-16-35 8zm-15-19l35-8-15-16-34 8zm1250-334l26-6-18-12-25 6zm-1258 278l34-8-14-15-34 8zm6-38l34-8-14-15-33 8zm6-39l33-8-14-15-32 8zm1067-253l25-6-17-12-25 6zm-1048 232l33-7-14-15-32 8zm19-21l32-7-13-14-32 7zm19-21l31-7-13-14-32 7zm18-21l31-8-13-13-32 7zm17-22l31-7-13-14-31 7zm766-174l25-6-15-11-26 6zm-42-7l26-6-15-12-26 6zm-658 133l30-7-14-12-30 6zm591-132l26-6-15-11-26 6zm-545 106l30-7-14-12-30 6zm477-106l26-6-15-11-26 6zm-403 75l58-13-14-12-57 12zm308-69l27-6-15-11-27 6zm-590 415l35-8 0-2-35 8zm-14-18l34-8 0-2-34 8zm-8-55l34-8 0-4-34 9zm7-38l33-8-1-4-33 8zm6-39l32-8 0-4-33 8zm19-20l32-8 0-5-33 8zm19-21l32-7-1-5-32 7zm18-21l32-7-1-6-31 8zm18-21l32-7-1-6-31 7zm18-22l31-7 0-6-31 7zm65-47l30-6 0-7-30 6zm46-26l30-6 0-8-30 7zm75-32l29-6-1-7-28 6zm29-4l28-6 0-8-29 6zm319-57l-15-11 0-2 15 11zm-42-5l27-6 0-8-27 6zm857 612l-23-18 1-3 22 18zm-721-613l-15-11 0-3 15 11zm-41-5l26-6 0-8-26 6zm828 570l-23-17 1-4 22 17zm-719-565l-15-11 0-4 15 11zm-41-5l26-6 0-7-26 6zm795 534l-23-16 1-5 22 16zm-687-530l-15-12 0-4 15 11zm-41-6l26-6 0-6-26 5zm82 13l-15-11 0-5 16 11zm-41-5l26-6 0-7-26 6zm726 468l-22-16 1-6 22 15zm5-24l-22-16 1-6 22 15zm5-24l-21-15 0-8 22 16zm6-25l-22-15 1-7 22 15zm-492-363l-17-12 1-7 16 12zm-42-6l25-6 0-5-25 6zm522 310l-21-15 1-8 21 14zm-16-37l-21-14 1-8 21 14zm-36-48l-20-13 1-9 20 13zm-248-167l-18-12 0-9 18 12zm-43-6l25-6 0-3-25 6zm237 111l-20-13 1-9 20 13zm-20-12l-19-13 1-9 19 13zm-19-13l-19-12 0-10 20 13zm-19-13l-19-12 0-9 19 12zm-19-13l-19-12 1-9 19 12zm-19-13l-19-12 1-9 19 12z" fill="#e0db00" stroke="#e0db00" stroke-width="2.80" stroke-linejoin="round"/>
<path d="M5289 1533l66-22-23-19-65 22zm256-85l61-20-23-18-61 20zm-378 99l33-11-21-19-34 11zm477-158l59-19-23-18-59 20zm-601 169l34-11-20-20-35 11zm666-216l29-9-23-17-28 9zm-812 211l35-11-20-20-35 11zm853-271l28-9-23-16-28 9zm-908 264l35-11-19-20-36 11zm-55-8l35-11-19-20-35 11zm-55-9l36-11-19-19-36 11zm-55-9l36-11-18-20-36 11zm-54-11l36-10-18-20-36 11zm1154-348l27-9-22-14-26 8zm-1226 323l36-11-18-19-36 11zm1215-385l27-7-21-15-27 8zm-1286 357l36-10-17-19-36 11zm-70-28l36-11-16-18-36 10zm1320-376l26-8-21-13-25 7zm-35-50l26-7-20-14-26 7zm-1385 362l36-10-16-17-36 10zm1365-374l26-7-20-13-26 7zm-1381 358l36-10-15-18-36 10zm-15-17l36-10-16-17-35 9zm-15-17l35-10-15-17-35 9zm-15-18l35-9-15-17-35 9zm-15-17l35-9-15-17-35 9zm-15-18l35-9-14-17-35 10zm-14-18l35-9-15-16-35 9zm1336-343l25-7-18-12-25 7zm-18-14l25-6-18-13-25 7zm-1326 302l34-8-14-16-34 8zm-14-18l34-9-14-15-34 8zm1261-313l25-6-18-12-25 6zm-1255 275l34-9-14-15-33 9zm1194-291l26-6-18-12-25 6zm-1188 252l33-8-13-15-33 8zm1129-270l25-6-17-12-25 6zm-59-20l25-6-16-11-25 6zm-1045 230l33-8-14-14-32 8zm1003-234l26-6-17-11-25 6zm-984 213l32-7-13-14-32 7zm943-218l25-6-16-11-25 6zm-924 197l31-8-13-13-31 7zm882-202l26-6-16-12-26 6zm-864 180l31-7-13-13-31 7zm823-187l25-6-16-11-25 6zm-774 163l31-7-14-13-30 7zm17-23l30-7-13-12-30 6zm648-145l26-5-15-12-26 6zm-601 119l30-6-14-13-29 7zm533-118l27-6-15-11-27 6zm-458 87l29-6-13-13-29 7zm364-81l53-12-15-11-53 11zm-291 49l223-49-15-12-221 49zm-354 339l34-8 0-3-34 9zm-14-18l34-8 0-3-34 8zm7-37l33-9 0-3-34 8zm6-39l33-8 0-4-33 8zm25-59l32-8 0-5-32 8zm19-21l32-7-1-6-31 8zm19-21l31-7 0-6-32 7zm18-21l31-7-1-7-31 8zm49-24l30-7 0-7-31 7zm17-23l30-6 0-7-31 6zm47-25l29-7 0-7-30 6zm75-31l29-7-1-7-29 6zm72-34l29-6 0-8-29 7zm29-5l28-6 0-8-28 6zm28-5l28-6 0-8-28 6zm28-6l28-6 0-8-28 6zm28-6l27-6 0-8-27 6zm27-6l28-6 0-8-28 6zm28-7l27-6 0-8-27 6zm885 655l-23-18 0-2 23 18zm-858-662l27-6 0-8-27 6zm888 650l-23-18 1-2 22 18zm-751-648l-15-11 0-3 15 12zm-42-5l27-6 0-8-27 6zm860 607l-23-17 1-4 23 18zm-792-610l-15-11 0-3 15 11zm-41-6l26-5 0-8-26 6zm863 603l-23-17 1-4 22 17zm-754-596l-15-11 0-4 15 12zm-42-5l27-6 0-8-27 6zm831 566l-23-17 1-5 23 17zm-722-561l-15-12 0-4 15 11zm-41-6l26-6 0-7-26 6zm803 507l-23-16 1-6 23 16zm-654-497l-16-11 1-5 15 11zm-41-5l25-6 1-6-26 5zm83 12l-16-12 0-5 16 11zm-42-6l26-6 0-6-26 6zm83 11l-16-11 0-6 16 11zm-41-5l25-6 0-6-25 6zm83 10l-17-11 1-7 16 12zm-42-5l25-6 1-6-26 6zm597 364l-22-14 1-8 22 15zm-514-355l-16-11 0-7 17 11zm-41-5l25-6 0-5-25 6zm100 25l-17-12 1-7 17 11zm-42-6l25-6 0-4-25 6zm486 281l-21-15 1-8 21 14zm-384-257l-18-12 1-8 17 12zm-43-6l25-6 0-4-25 6zm390 215l-21-13 1-9 21 13zm-287-193l-18-12 1-8 17 12zm-43-6l25-6 0-3-25 6zm295 150l-20-14 1-9 20 14zm-20-12l-20-13 1-9 20 13zm-135-90l-18-12 1-9 18 13zm-43-5l25-7 0-1-25 6zm25-8l-18-13 1-8 18 12zm-43-6l25-7 0-2-25 7z" fill="#e0ca00" stroke="#e0ca00" stroke-width="2.80" stroke-linejoin="round"/>
<path d="M5410 1513l127-42-23-19-127 42zm-188 38l67-22-22-20-66 22zm385-127l60-20-23-18-60 20zm-508 140l68-22-21-20-68 23zm604-200l30-9-23-18-29 10zm-695 201l35-11-21-20-34 11zm731-237l28-9-22-17-29 9zm-786 232l35-12-21-20-35 12zm791-255l29-9-23-16-28 9zm-882 254l35-12-20-19-35 11zm917-292l27-9-22-16-28 9zm-973 284l36-11-20-20-35 11zm978-308l27-8-22-16-27 9zm-1033 300l36-11-19-20-36 11zm1038-324l27-8-22-16-27 9zm-1093 315l36-12-19-19-36 11zm1098-339l27-9-22-15-27 8zm-1226 303l37-10-18-20-36 11zm1215-363l26-8-21-14-27 7zm-1286 337l36-11-17-19-36 11zm-70-29l36-10-17-19-36 11zm1324-381l26-7-21-14-26 7zm-15-38l26-7-21-13-25 7zm-1395 373l36-10-16-18-36 10zm1374-384l26-7-20-13-26 7zm-1390 368l36-10-15-18-36 10zm-135-156l35-9-14-16-35 9zm-14-18l35-9-14-15-35 8zm1329-335l25-7-18-12-25 7zm-1336 279l34-8-14-15-34 8zm1257-309l25-6-17-12-25 6zm-1251 271l34-8-14-15-33 8zm1191-288l25-6-17-11-25 6zm-1184 249l33-8-14-14-33 7zm1125-267l25-6-16-12-25 6zm-1106 247l33-8-14-14-32 7zm93-107l31-7-14-13-31 7zm763-172l26-6-16-11-25 6zm-746 150l31-7-14-13-30 7zm705-158l26-5-16-12-25 6zm-657 132l30-6-14-13-30 7zm590-130l26-6-15-11-26 5zm-544 105l59-13-13-12-59 13zm476-106l26-6-14-11-27 6zm-401 74l57-13-14-12-57 13zm279-61l54-12-14-11-54 11zm-583 428l35-9 0-2-35 9zm-14-18l35-8-1-3-34 9zm-7-55l34-8 0-4-34 9zm7-38l33-8 0-4-34 8zm6-39l33-7 0-5-33 8zm20-20l32-7 0-5-32 7zm92-105l31-7 0-6-31 7zm18-22l30-7 0-7-30 7zm47-25l30-7 0-7-30 7zm47-27l29-6 0-7-30 6zm29-3l30-7-1-7-29 6zm45-28l29-7 0-7-29 6zm29-5l28-6 0-8-28 6zm291-48l-14-12 0-2 14 12zm-41-6l27-6 0-8-27 6zm892 645l-23-18 0-3 23 18zm-824-647l-14-11 0-2 14 11zm-41-6l27-5 0-8-27 6zm895 640l-23-18 0-2 23 17zm-760-640l-14-11 0-3 14 11zm-41-5l27-6 0-7-27 5zm867 598l-23-18 0-4 23 17zm-758-592l-15-11 0-4 15 11zm-41-6l26-5 0-8-26 6zm833 562l-22-17 0-5 23 17zm6-23l-23-16 1-6 22 17zm-731-534l-16-12 0-4 16 11zm-41-6l25-6 1-7-26 6zm82 13l-16-11 0-5 16 11zm-41-5l25-6 0-7-25 6zm764 494l-22-16 1-6 22 16zm5-23l-22-16 1-7 22 16zm5-24l-22-16 1-7 22 16zm5-25l-22-15 1-7 22 15zm-12-59l-21-14 1-9 21 15zm-477-326l-16-12 0-7 17 11zm-41-6l25-6 0-4-25 5zm100 24l-17-11 1-8 17 11zm-42-5l25-6 1-5-25 6zm428 241l-21-14 1-9 21 14zm-326-219l-17-12 0-8 18 12zm-42-6l25-6 0-3-25 6zm353 187l-21-13 1-9 21 13zm-21-11l-20-13 1-9 20 13zm-211-141l-18-12 1-8 18 12zm-43-5l25-7 0-2-25 6z" fill="#e0b900" stroke="#e0b900" stroke-width="2.80" stroke-linejoin="round"/>
<path d="M5312 1544l98-33-22-19-99 32zm225-76l93-31-23-18-92 30zm-348 90l34-11-22-20-34 11zm478-159l30-10-23-17-30 10zm-603 171l35-12-21-19-35 11zm-147-4l36-12-21-20-35 12zm856-275l28-10-22-16-28 9zm-1132 233l36-11-18-20-36 11zm1159-354l26-8-21-15-27 8zm-1214 343l37-11-18-19-37 10zm1219-368l26-8-21-15-27 8zm-1291 342l37-11-18-19-36 10zm1274-378l26-8-21-14-26 8zm-1345 350l37-11-17-18-37 10zm1329-386l26-8-21-14-26 8zm-1399 357l37-11-17-18-36 10zm1384-395l25-7-20-14-26 8zm-1400 379l36-11-16-18-36 10zm-84-48l36-10-15-18-36 10zm1429-392l25-7-20-13-25 7zm-1444 375l36-10-16-18-36 10zm1424-387l25-7-20-13-25 7zm-1439 370l35-10-15-17-35 9zm1419-382l25-7-19-13-25 7zm-1434 365l35-10-15-17-35 9zm1415-378l25-7-19-12-26 6zm-1430 360l35-9-14-17-36 9zm1410-373l26-6-20-13-25 7zm-1425 356l35-10-14-16-36 9zm1407-369l25-6-19-13-25 7zm-1422 351l36-9-15-17-35 9zm1403-364l25-6-19-13-25 7zm-1417 346l35-9-14-16-35 9zm1398-359l25-7-18-12-25 6zm-1405 304l34-9-14-15-34 8zm1325-332l25-6-18-12-25 6zm-1339 314l34-9-14-16-34 9zm1321-328l25-7-17-11-25 6zm-1314 290l34-9-14-15-34 8zm1254-306l25-6-17-12-25 6zm-1248 267l34-8-14-15-33 8zm1189-285l25-6-18-11-24 6zm-1162 225l32-7-13-14-33 7zm1061-247l25-6-16-12-25 6zm-1042 227l32-8-13-14-32 8zm1000-232l26-6-17-11-25 6zm-981 211l31-8-13-13-32 7zm940-216l25-6-16-11-25 6zm-922 194l32-7-14-13-31 7zm880-200l26-6-16-11-25 6zm-862 179l31-8-13-13-31 7zm821-186l26-5-16-12-26 6zm-755 138l31-6-14-13-30 7zm647-143l26-6-16-11-25 6zm-600 117l30-6-13-13-30 7zm532-117l27-6-15-11-26 6zm-457 86l29-6-13-12-29 6zm363-79l27-6-15-11-26 6zm-261 41l166-36-14-11-166 35zm-404 366l34-8 0-3-34 9zm-14-18l34-9 0-2-34 8zm7-38l34-8 0-3-34 8zm7-38l33-8 0-4-33 8zm26-59l33-7-1-5-32 7zm20-20l32-8-1-5-32 7zm18-21l32-7 0-6-32 7zm19-21l31-7 0-6-31 7zm18-22l31-7 0-6-31 7zm66-46l30-7 0-7-30 7zm47-26l30-7-1-7-29 7zm75-31l29-6 0-8-29 6zm101-38l28-6 0-8-28 6zm28-6l28-6 0-8-28 6zm28-5l28-6 0-8-28 6zm28-6l27-6 0-8-27 6zm27-7l28-6 0-7-28 5zm28-6l27-6 0-8-27 6zm922 682l-23-18 1-2 23 19zm31-12l-23-18 0-2 23 18zm-790-675l-15-11 0-2 15 11zm-41-5l26-6 0-8-26 6zm898 634l-23-17 0-4 24 18zm-763-636l-15-11 0-3 15 11zm-41-5l26-6 0-7-26 6zm108 5l-16-11 1-4 15 11zm-41-5l25-6 1-7-26 6zm841 533l-22-16 0-6 23 17zm-692-522l-16-12 0-5 16 11zm-42-6l26-6 0-6-25 5zm83 12l-16-11 0-6 16 12zm-41-5l25-6 0-6-25 5zm82 11l-16-11 0-6 16 11zm-41-5l25-6 0-6-25 6zm83 10l-17-11 1-6 16 11zm-42-5l25-6 1-6-26 6zm635 391l-21-15 0-8 22 15zm-552-381l-16-12 0-6 16 11zm-41-6l25-6 0-5-25 6zm598 362l-21-15 1-8 21 15zm-17-36l-21-14 1-8 21 14zm-439-298l-18-11 1-8 17 12zm-42-5l24-6 1-4-25 5zm465 267l-21-14 1-8 21 13zm-364-244l-17-12 0-8 18 12zm-42-6l25-6 0-4-25 6zm390 213l-20-14 1-9 20 14zm-270-177l-18-12 1-8 18 11zm-43-6l25-6 0-3-25 7zm25-9l-17-11 0-9 18 12zm-42-5l25-6 0-3-25 6zm275 136l-20-13 1-9 20 13zm-20-12l-20-13 1-9 20 13zm-20-12l-19-13 1-9 19 13zm-19-13l-19-12 0-9 20 12zm-19-12l-20-13 1-9 19 13zm-19-13l-19-13 0-9 19 13zm-19-13l-19-13 1-9 19 13zm-19-14l-18-12 0-9 19 12z" fill="#e0a700" stroke="#e0a700" stroke-width="2.80" stroke-linejoin="round"/>
<path d="M5278 1551l34-11-22-19-34 11zm352-118l31-10-23-18-31 10zm-475 133l34-11-22-20-34 11zm543-180l29-10-23-17-30 9zm35-36l29-9-23-17-29 9zm-760 222l35-12-20-20-35 11zm795-258l28-10-22-16-29 9zm-886 257l35-11-20-20-35 11zm-56-7l36-11-20-20-36 11zm981-312l28-9-23-16-27 9zm-1037 304l36-11-19-20-36 11zm1042-328l28-9-23-15-27 8zm-1097 319l36-11-19-20-36 11zm1102-343l27-9-22-15-27 8zm-1158 334l37-11-19-20-36 11zm1163-359l27-8-22-15-27 8zm-1218 348l37-11-18-19-37 11zm-72-25l36-11-17-20-37 11zm1278-383l26-8-21-14-26 7zm-1350 355l37-10-17-19-37 10zm1334-391l26-8-21-14-26 8zm-1405 363l37-11-16-19-37 11zm1389-400l25-7-20-14-26 7zm-1474 353l37-10-16-18-37 10zm1438-402l25-7-20-13-25 7zm-1454 385l37-10-16-18-36 10zm1434-396l25-7-20-14-25 7zm-1567 240l35-9-14-16-35 9zm1394-355l25-7-19-12-24 7zm-1409 337l35-9-14-16-34 9zm-6-56l34-8-14-16-34 9zm1318-324l25-6-18-12-25 6zm-1311 286l34-8-14-15-33 8zm1251-303l25-6-17-11-25 6zm-1244 264l33-8-13-14-33 7zm1185-282l25-5-17-12-25 6zm-1165 262l33-8-14-14-32 7zm1123-265l25-5-17-12-25 6zm-1117 225l32-7-13-14-32 7zm19-21l32-7-13-14-32 7zm998-229l26-6-17-11-25 6zm-979 208l32-7-13-14-32 7zm938-213l25-6-16-11-25 5zm-870 168l31-7-13-13-31 6zm762-171l25-6-15-11-26 6zm-744 148l30-7-13-12-31 6zm703-156l26-6-16-11-25 6zm-656 131l30-7-13-12-30 6zm589-130l26-6-15-11-26 6zm-542 104l58-13-13-12-59 13zm448-98l53-11-15-11-53 11zm-345 61l57-12-14-12-57 12zm223-48l54-12-14-11-54 11zm-577 441l35-9-1-2-35 9zm-14-18l34-9 0-2-35 9zm-7-55l34-9 0-3-34 8zm8-38l33-8 0-4-34 8zm7-39l33-7-1-5-33 8zm20-20l32-7 0-5-33 8zm6-39l32-7 0-6-33 8zm19-21l32-7 0-6-32 8zm19-21l32-7-1-6-31 8zm68-45l31-6-1-7-30 7zm17-22l31-6-1-7-30 7zm48-25l30-6-1-8-29 7zm46-26l30-7-1-7-29 6zm30-4l29-6 0-8-30 6zm73-33l29-6-1-7-28 6zm29-4l28-6 0-8-29 6zm194-42l27-6 0-8-27 6zm68-2l-14-11 0-2 14 12zm-41-5l27-6 0-8-27 6zm930 672l-23-18 0-2 23 18zm-795-671l-14-11 0-3 14 11zm-41-5l27-6 0-8-27 6zm902 629l-23-17 0-4 24 18zm-834-632l-15-12 0-3 15 12zm-41-6l26-6 0-7-26 5zm910 603l-23-17 1-5 23 17zm-802-597l-15-11 0-4 15 12zm-41-5l26-6 0-7-26 5zm877 565l-22-16 0-6 23 17zm-769-561l-16-11 0-4 16 11zm-41-5l25-6 0-7-25 6zm81 13l-15-11 0-5 16 11zm-41-5l26-6 0-7-25 6zm809 497l-23-16 1-6 23 16zm5-24l-23-15 1-7 22 16zm-665-465l-16-11 1-6 15 11zm-41-6l25-5 1-7-26 6zm710 447l-22-15 1-7 22 15zm-627-436l-17-11 1-6 16 11zm-42-5l25-6 1-6-26 6zm674 417l-22-15 1-8 22 15zm-533-386l-17-12 1-7 16 11zm-42-6l25-6 0-5-25 6zm562 332l-21-14 1-9 21 15zm-478-323l-17-12 0-7 17 11zm-42-6l25-6 0-4-25 5zm504 293l-21-14 1-8 21 14zm-403-270l-17-11 0-8 17 12zm-42-5l25-6 0-4-25 6zm428 239l-20-14 1-9 21 14zm-326-217l-18-12 1-8 17 11zm-43-6l25-6 0-3-24 6zm333 174l-20-13 1-10 20 14zm-20-11l-20-14 1-9 20 13zm-173-115l-19-12 1-8 18 12zm-43-5l24-7 1-2-25 7z" fill="#e09600" stroke="#e09600" stroke-width="2.80" stroke-linejoin="round"/>
<path d="M5368 1544l225-76-24-18-224 75zm-157 26l68-22-22-20-68 22zm450-151l60-20-23-18-60 20zm-541 155l35-12-22-20-34 12zm608-201l29-10-23-18-30 10zm-699 204l35-12-21-20-35 12zm734-241l28-9-23-17-28 9zm-825 242l35-12-20-20-36 12zm859-279l28-9-23-17-28 9zm5-23l28-9-23-16-28 8zm-1068 285l36-11-19-21-36 12zm1093-407l27-8-22-15-27 8zm-1278 362l37-11-18-19-37 11zm1283-387l27-8-22-15-26 8zm-1355 361l37-11-17-20-37 11zm1338-397l26-8-21-14-26 8zm-1409 368l37-10-17-19-37 10zm1393-405l26-7-21-14-26 8zm-1463 376l37-11-17-18-36 10zm-16-17l37-10-16-18-37 10zm1443-407l25-7-20-13-26 7zm-1542 342l36-10-15-17-36 9zm-15-17l36-10-15-17-36 9zm-15-17l36-10-15-17-36 9zm1478-395l25-6-20-13-25 7zm-1493 377l36-9-15-17-35 9zm1473-389l25-7-19-12-25 6zm-1488 372l36-10-14-17-36 10zm-14-18l36-9-15-17-35 9zm1384-406l25-7-19-11-24 6zm-1405 333l35-9-14-16-34 9zm1387-348l25-6-19-11-24 6zm-1401 329l35-8-14-16-34 9zm8-38l34-8-13-15-34 8zm1315-320l24-6-17-12-25 6zm-1308 282l34-8-13-15-34 8zm1248-299l25-6-17-11-25 5zm-1241 260l33-8-13-14-33 7zm20-20l33-8-13-14-33 7zm1120-262l25-6-16-11-25 6zm-41-4l25-6-16-11-25 6zm-1002 182l31-7-13-14-31 7zm878-199l25-5-16-11-25 5zm-860 177l31-7-13-13-31 7zm819-184l25-5-15-11-26 5zm-801 162l30-7-13-13-30 7zm48-25l30-7-13-13-30 7zm645-142l26-6-15-11-26 5zm-598 116l29-7-13-12-30 6zm531-116l26-6-15-11-26 5zm-456 85l57-12-13-12-58 12zm335-72l53-12-14-11-53 11zm-659 420l34-9 0-2-35 8zm-14-18l34-9 0-3-34 9zm8-38l34-8-1-4-34 9zm7-38l34-8-1-4-33 8zm7-39l33-7 0-5-33 8zm20-20l33-7-1-5-32 7zm77-83l31-7-1-6-31 7zm18-21l31-7-1-7-31 7zm18-22l30-7 0-7-31 7zm48-25l30-7-1-7-30 7zm46-26l30-6 0-8-30 7zm75-31l29-6 0-8-29 7zm29-4l29-6 0-8-29 6zm347-60l-15-11 0-2 15 11zm-41-6l26-5 0-8-26 5zm933 668l-23-18 0-3 24 18zm-866-670l-14-11 0-2 14 11zm-41-5l27-6 0-8-27 6zm938 662l-24-18 1-3 23 17zm35-35l-23-18 0-4 23 18zm-838-628l-15-11 0-4 15 11zm-41-6l26-5 0-8-26 6zm913 598l-23-17 1-5 23 17zm-805-592l-15-11 0-4 15 11zm-41-6l26-5 0-7-26 5zm880 561l-23-17 1-5 23 16zm5-23l-23-16 1-7 23 17zm-737-526l-15-11 0-5 15 11zm-41-6l26-5 0-7-26 6zm82 13l-16-11 1-6 15 11zm-41-6l25-5 1-7-26 6zm165 22l-16-11 0-7 16 11zm-41-5l25-6 0-6-25 6zm637 387l-22-15 1-8 22 15zm-555-378l-16-11 0-7 17 11zm-41-5l25-6 0-5-25 5zm601 358l-22-15 1-8 22 14zm-18-36l-21-14 1-9 22 15zm-441-295l-17-11 0-8 17 11zm-42-6l25-5 0-5-25 6zm467 265l-21-14 1-9 21 14zm-366-242l-17-12 0-8 18 12zm-42-6l25-6 0-3-25 6zm371 200l-20-13 1-10 20 14zm-232-151l-19-11 1-9 18 12zm-43-5l24-6 1-3-25 6zm25-9l-19-11 1-9 18 12zm-43-5l24-6 1-3-25 6zm199 84l-20-13 1-9 20 12zm-20-13l-19-12 1-10 19 13z" fill="#e08500" stroke="#e08500" stroke-width="2.80" stroke-linejoin="round"/>
<path d="M5301 1563l67-23-22-20-67 23zm292-97l62-21-24-18-61 20zm-416 111l34-11-22-20-34 11zm545-183l30-9-24-18-29 10zm-636 187l35-11-22-20-35 11zm671-222l29-10-23-17-29 9zm-763 225l35-12-20-20-36 11zm798-262l29-9-24-17-28 9zm-890 262l36-11-21-21-35 12zm-56-7l36-11-20-21-36 12zm985-316l28-9-23-16-28 8zm-1041 308l36-11-20-20-36 11zm1046-332l27-9-23-16-27 9zm4-24l28-9-23-15-27 8zm-1162 339l37-12-19-20-37 12zm1167-364l27-8-22-16-27 9zm-1223 354l37-12-18-19-37 11zm1228-379l27-8-22-15-27 8zm-1283 368l37-11-18-20-37 11zm-73-26l37-11-17-20-37 11zm1343-402l27-8-22-14-26 7zm-1414 374l37-11-17-19-37 11zm1398-410l26-8-22-14-25 8zm-1469 381l37-11-16-19-37 11zm1431-429l26-7-21-14-25 7zm-1516 382l37-11-16-18-37 10zm-16-17l37-10-16-18-36 10zm1497-415l25-7-20-13-25 7zm-1512 398l36-10-15-18-36 10zm1492-409l25-7-20-13-25 7zm-20-12l25-7-20-13-25 7zm-20-12l25-7-19-13-25 7zm-58-38l25-7-19-12-25 6zm-18-13l24-7-18-12-25 6zm-1479 362l35-9-14-17-35 9zm1460-376l25-6-19-12-25 6zm-1474 358l35-9-14-16-35 8zm-15-18l36-9-14-16-35 8zm1391-381l25-6-18-12-25 6zm-1396 325l34-9-13-15-35 8zm7-38l34-9-13-15-34 8zm1311-317l25-6-17-12-25 6zm-1303 278l33-8-13-15-33 8zm1202-299l25-5-17-12-24 6zm-1175 239l32-7-13-14-32 7zm19-20l33-8-13-13-33 7zm1057-243l25-6-16-11-25 6zm-1037 222l32-8-13-13-32 7zm995-227l26-6-16-11-25 6zm-976 206l31-8-13-13-31 7zm935-212l26-6-16-11-25 6zm-917 190l31-7-13-13-31 7zm810-193l25-6-15-11-26 6zm-743 147l30-7-13-13-30 7zm48-26l29-7-13-12-30 6zm587-129l26-5-15-11-26 5zm-512 98l30-6-14-12-29 6zm418-90l27-6-15-11-26 6zm-344 60l250-54-14-11-249 53zm-376 411l35-8 0-2-36 9zm-14-18l35-8 0-2-35 8zm-6-55l35-8-1-3-34 8zm8-38l34-8 0-3-34 8zm8-38l33-8 0-4-34 8zm27-59l32-7 0-5-33 7zm19-20l33-7-1-6-32 7zm20-21l32-7-1-6-32 7zm19-21l31-7 0-6-32 7zm18-21l31-7 0-7-31 7zm67-46l30-7 0-7-30 7zm47-26l30-6 0-7-30 6zm76-30l29-6 0-8-29 7zm73-32l29-6 0-8-29 6zm29-5l28-6 0-8-28 6zm28-5l28-6 0-8-28 6zm28-5l28-6 0-8-28 6zm28-6l28-6 0-8-28 6zm28-6l27-6 0-8-27 6zm27-6l28-6-1-8-27 6zm28-7l27-5 0-8-28 5zm961 711l-24-18 1-2 23 18zm-934-717l27-6 0-8-27 6zm965 705l-24-18 0-2 24 18zm-803-711l-15-11 0-3 15 11zm-41-5l26-6 0-8-26 6zm941 657l-24-18 1-4 23 18zm34-36l-23-17 1-5 23 18zm-841-623l-15-11 0-4 15 11zm-41-6l26-5 0-8-26 6zm917 593l-24-17 1-5 23 16zm-769-580l-15-11 0-4 15 11zm-41-5l26-6 0-7-25 6zm848 524l-23-16 1-7 22 16zm4-24l-23-16 1-6 23 15zm-703-492l-16-11 0-5 16 11zm-41-5l25-6 0-6-25 6zm749 473l-23-15 1-8 23 16zm-667-462l-16-11 0-6 16 11zm-41-5l25-6 0-6-25 6zm712 443l-22-16 1-7 22 15zm-630-433l-16-11 0-6 16 11zm-41-5l25-6 0-6-25 6zm676 413l-22-15 1-8 22 15zm-536-383l-17-12 1-7 17 11zm-41-6l24-6 1-5-25 6zm564 329l-22-14 1-9 22 14zm-17-36l-22-14 1-9 22 14zm-405-267l-17-12 0-8 18 12zm-42-6l25-6 0-4-25 6zm409 226l-21-14 1-9 21 14zm-289-190l-18-12 0-8 18 11zm-43-6l25-6 0-3-25 6zm296 146l-20-13 1-9 20 13zm-20-11l-20-13 1-9 20 12zm-20-12l-20-13 1-9 20 13zm-20-12l-19-13 1-9 19 13zm-58-38l-19-12 1-9 19 12zm-19-13l-18-12 0-9 19 12zm-18-13l-19-12 1-9 19 12z" fill="#e07400" stroke="#e07400" stroke-width="2.80" stroke-linejoin="round"/>
<path d="M5457 1532l97-33-23-19-97 33zm-189 39l34-12-23-20-34 12zm387-130l61-21-24-18-60 20zm-513 144l35-11-22-21-34 12zm610-204l29-10-23-17-29 9zm-701 208l35-12-21-20-35 11zm736-244l29-10-23-17-29 9zm-828 245l35-11-21-21-35 12zm862-283l29-9-24-17-28 10zm5-23l28-9-23-16-28 9zm-1017 299l37-12-20-20-36 11zm-56-9l37-11-20-20-36 11zm-56-8l37-12-20-20-36 11zm-56-10l37-11-19-21-37 12zm1214-418l26-8-22-15-26 8zm-1343 382l37-11-18-20-37 11zm-72-28l37-11-17-19-38 11zm1403-415l25-8-21-14-26 7zm-1475 387l38-11-17-19-37 10zm1437-434l25-8-21-13-25 7zm-1507 404l37-11-16-19-37 11zm-16-17l37-10-16-19-37 11zm1486-436l26-7-21-13-25 6zm-1585 370l37-10-15-17-37 9zm-15-17l37-10-15-17-36 9zm-14-17l36-10-15-17-36 9zm-15-18l36-9-14-18-36 10zm-14-18l36-9-15-17-36 9zm1449-425l25-7-18-12-25 7zm-18-14l25-6-18-12-25 6zm-1465 348l35-8-14-16-35 8zm1386-377l25-6-18-11-24 6zm-1392 321l34-8-13-16-34 9zm8-38l34-8-14-15-33 8zm1265-316l25-6-17-11-25 6zm-1258 277l34-8-14-14-33 7zm21-20l33-8-13-14-33 7zm1179-276l25-6-17-11-25 6zm-42-4l25-5-16-11-25 5zm-1111 219l32-7-13-14-32 8zm19-21l32-7-13-13-32 7zm927-219l26-6-16-11-25 6zm-858 174l31-7-13-13-31 7zm817-181l26-6-16-11-25 6zm-799 159l31-7-13-12-31 6zm733-157l25-6-15-11-25 6zm-685 132l30-7-13-12-30 6zm47-25l59-13-13-12-59 13zm504-108l26-5-15-11-26 5zm-429 76l58-12-14-12-57 13zm308-64l53-11-14-11-53 11zm-654 432l35-8 0-3-35 9zm-5-55l34-9 0-3-35 8zm8-38l33-8 0-4-34 8zm7-39l33-7 0-5-33 8zm21-20l33-7-1-5-33 8zm26-59l32-8 0-5-32 7zm19-21l32-7 0-6-32 7zm69-45l31-7 0-6-31 7zm18-22l31-6-1-7-30 6zm48-25l30-6 0-7-30 6zm47-25l30-7-1-7-29 6zm30-4l29-6 0-8-30 6zm45-27l29-6-1-8-29 6zm29-5l28-6 0-8-29 7zm319-52l-15-11 0-2 15 11zm-41-5l26-6 0-8-26 6zm968 700l-23-19 0-2 24 18zm-901-702l-14-11 0-2 14 11zm-41-6l27-5 0-8-27 5zm973 695l-24-18 1-3 23 18zm-838-694l-15-11 0-3 15 11zm-41-6l26-5 0-8-26 6zm944 652l-23-17 0-4 24 17zm35-36l-23-17 0-5 23 17zm-805-610l-15-11 0-4 16 11zm-40-5l25-6 0-7-25 6zm879 578l-24-17 1-5 23 16zm4-23l-23-16 1-6 23 16zm-776-552l-16-11 1-5 15 11zm-41-5l25-6 1-7-26 6zm82 12l-16-11 0-5 16 11zm-41-5l25-6 0-7-25 6zm205 27l-16-11 0-7 17 11zm-41-6l25-5 0-6-25 6zm639 384l-22-15 1-8 22 15zm-556-375l-17-11 0-7 17 11zm-42-5l25-6 0-5-24 6zm100 24l-17-11 0-8 17 12zm-42-5l25-6 0-5-24 6zm527 300l-21-14 1-9 22 14zm-38-47l-21-13 1-9 21 13zm-328-215l-18-11 1-9 18 12zm-42-5l24-6 1-3-25 6zm334 172l-21-13 1-10 21 13zm-195-125l-18-12 1-9 18 12zm-43-5l25-7 0-1-25 6zm25-8l-18-12 0-9 19 12zm-43-6l25-6 0-2-25 6z" fill="#e06200" stroke="#e06200" stroke-width="2.80" stroke-linejoin="round"/>
<path d="M5358 1564l99-34-23-19-99 33zm196-66l94-32-23-19-94 32zm-355 92l69-23-22-21-69 23zm517-174l30-10-23-18-30 10zm-608 177l35-12-22-20-35 11zm674-226l29-10-23-17-30 10zm-767 229l36-12-21-20-36 11zm801-266l29-9-23-17-29 9zm-893 267l36-12-21-21-36 12zm-57-7l36-12-20-20-36 11zm989-321l28-9-23-16-28 9zm4-24l28-8-23-16-27 8zm5-24l27-8-22-16-28 9zm5-24l27-9-23-15-27 8zm4-25l27-8-22-15-27 8zm-1288 374l37-12-18-20-37 12zm1293-399l26-8-22-15-26 8zm-1349 388l38-12-18-20-37 12zm1331-423l26-8-22-14-26 8zm-1403 396l37-11-17-20-38 11zm-72-29l37-10-17-20-37 11zm1441-439l26-7-21-14-26 7zm-1512 410l38-11-17-19-37 11zm1496-447l25-8-20-13-26 7zm-21-11l25-7-20-14-25 7zm-1560 410l37-10-16-19-37 11zm-16-17l38-10-16-18-37 10zm-15-17l37-10-15-18-37 10zm1536-438l25-7-20-13-25 7zm-20-12l25-7-20-13-24 7zm-19-13l24-6-19-13-25 7zm-20-12l25-7-19-12-25 6zm-19-13l25-6-19-13-25 7zm-1546 384l36-10-14-16-36 9zm1527-397l25-6-19-12-25 6zm-1541 379l36-10-14-16-36 9zm-14-18l36-10-14-16-36 9zm1456-400l25-6-18-12-25 6zm-1461 344l35-9-14-15-35 8zm-14-19l35-8-14-16-34 9zm1397-354l25-6-18-12-25 6zm-1389 316l35-8-14-15-34 8zm1329-333l25-6-17-11-25 6zm-1321 295l34-8-13-15-34 8zm1263-313l24-6-17-11-24 6zm-1255 274l33-8-13-14-33 7zm20-20l33-8-13-14-33 7zm20-21l33-7-13-14-33 7zm1115-256l25-6-16-11-25 6zm-41-5l25-6-16-11-25 6zm-41-5l25-6-16-11-25 6zm-975 203l32-7-13-13-32 7zm934-209l25-6-16-11-25 6zm-915 187l31-7-13-12-31 6zm808-191l25-6-15-11-26 6zm-741 145l30-7-13-12-30 6zm674-144l26-5-15-11-26 5zm-627 118l30-6-13-13-30 7zm560-118l26-6-15-11-26 6zm-484 88l29-7-13-12-29 7zm390-83l53-12-14-11-53 12zm-288 46l194-41-14-11-194 41zm-428 438l36-9 0-2-36 9zm-5-55l35-8 0-3-35 8zm-13-18l34-9 0-3-35 9zm8-38l34-8 0-4-34 8zm8-38l34-8 0-4-34 8zm8-39l33-7 0-5-34 8zm20-20l33-7 0-5-33 7zm20-20l33-7 0-6-33 8zm58-62l32-7-1-7-31 7zm19-22l31-6 0-7-32 7zm67-46l30-6 0-7-31 6zm47-25l30-7-1-7-29 6zm76-30l29-7-1-7-29 6zm101-37l28-6 0-8-28 5zm29-6l28-5-1-8-28 5zm28-5l27-6 0-8-28 6zm27-5l28-6 0-8-28 6zm28-6l27-6 0-8-27 6zm27-6l28-6 0-8-28 6zm28-7l27-5 0-9-28 6zm999 739l-23-19 0-2 23 19zm-837-743l-14-11 0-2 14 11zm-41-5l27-6 0-8-27 6zm976 689l-23-18 0-3 24 18zm-909-692l-14-11 0-2 14 11zm-40-5l26-6 0-8-26 6zm107 7l-15-11 0-3 15 11zm-41-5l26-6 0-7-26 5zm948 646l-23-17 0-4 24 17zm-840-640l-15-11 0-4 15 11zm-41-6l26-5 0-8-26 6zm915 610l-23-17 0-5 24 17zm-808-606l-15-11 0-4 15 11zm-41-5l26-6 0-7-25 6zm887 550l-23-16 0-6 24 16zm4-23l-23-16 1-7 23 16zm-743-518l-16-11 1-5 15 10zm-41-5l25-6 1-6-26 5zm788 499l-22-16 0-7 23 16zm-706-488l-16-11 0-6 16 11zm-41-5l25-6 0-6-25 5zm752 468l-23-15 1-7 23 15zm-670-458l-16-11 0-6 16 11zm-41-5l25-6 0-5-25 5zm715 439l-22-15 1-8 22 15zm-633-429l-16-11 0-7 16 11zm-41-5l25-6 0-6-25 6zm678 409l-22-15 1-8 22 15zm-18-35l-22-14 1-8 22 14zm-520-346l-17-11 1-7 17 11zm-41-5l24-6 1-4-25 5zm100 23l-17-11 0-8 18 11zm-42-5l25-6 0-4-25 6zm469 262l-21-14 1-9 21 14zm-367-240l-18-12 1-8 17 11zm-43-6l25-6 0-3-24 6zm393 208l-20-13 1-9 20 13zm-21-10l-20-14 1-9 20 13zm-251-163l-18-12 0-9 19 12zm-43-6l25-6 0-3-25 6zm239 107l-20-13 1-9 20 13zm-20-12l-20-13 1-9 20 13zm-20-12l-19-13 1-9 19 12zm-19-13l-19-12 1-9 19 12zm-19-12l-19-13 1-9 19 12zm-19-13l-19-12 1-10 19 13z" fill="#e05100" stroke="#e05100" stroke-width="2.80" stroke-linejoin="round"/>
<path d="M5291 1582l67-23-22-20-68 23zm358-120l61-21-24-18-61 20zm-484 134l35-11-23-21-34 12zm582-193l29-10-23-18-30 10zm-675 197l36-11-22-21-35 12zm740-247l29-10-24-17-29 10zm-832 250l35-12-21-21-35 12zm870-311l29-9-24-16-28 9zm-1021 304l37-12-20-21-37 12zm-56-8l36-12-19-20-37 11zm-57-9l37-11-19-21-37 12zm-56-9l37-11-19-21-37 12zm-57-10l38-11-19-21-37 12zm-56-11l38-11-18-20-38 11zm1335-427l27-8-22-15-27 8zm-1408 401l37-11-17-20-38 11zm1391-437l26-7-22-14-26 7zm-1463 409l37-11-17-19-37 10zm1446-445l25-7-21-14-26 7zm-1518 416l38-11-17-19-37 11zm1501-453l26-7-21-13-26 7zm-1587 406l38-11-16-18-37 10zm1530-466l25-7-20-13-25 7zm-20-12l25-6-20-13-25 7zm-1638 377l37-10-15-18-36 10zm-14-18l36-10-14-17-37 10zm1517-446l24-6-19-12-24 6zm-19-14l25-6-19-12-24 6zm-1532 369l36-9-14-16-36 9zm-14-18l36-9-14-16-35 9zm1466-378l25-6-18-11-25 6zm-17-14l24-6-18-12-24 6zm-1454 336l35-9-13-15-35 8zm1394-351l24-6-17-12-25 6zm-1385 312l34-8-13-15-34 8zm1325-329l25-6-17-11-25 5zm-1317 291l34-8-13-15-34 8zm1259-310l25-5-17-12-25 6zm-41-3l24-6-16-11-25 6zm-1190 253l33-7-13-14-33 7zm20-20l33-8-13-13-33 7zm20-21l32-7-13-14-32 7zm19-21l32-7-13-14-32 7zm19-22l31-7-12-13-32 7zm906-196l25-6-15-10-25 5zm-856 173l31-7-13-13-31 7zm815-180l26-6-16-11-25 6zm-797 157l30-6-12-13-31 7zm731-155l25-6-15-11-25 6zm-683 130l30-6-13-13-30 7zm616-130l26-6-15-10-26 5zm-540 100l30-6-13-12-30 6zm473-101l26-6-14-11-26 6zm-399 70l58-12-14-11-57 12zm252-53l80-17-14-11-80 17zm-636 464l36-9 0-2-36 9zm-13-18l35-9 0-2-35 8zm-5-56l35-8 0-3-35 8zm9-38l34-8 0-3-35 8zm8-38l34-8-1-4-33 8zm28-59l33-7 0-6-33 8zm20-20l33-7-1-6-32 7zm20-21l32-7 0-6-32 7zm19-21l32-7 0-6-32 7zm19-21l32-7-1-6-31 7zm50-23l31-7 0-7-31 7zm18-22l31-7-1-7-30 7zm48-25l30-7 0-7-30 6zm76-30l30-6-1-7-29 6zm74-31l29-6-1-8-28 6zm29-5l28-6 0-8-28 6zm222-45l27-6 0-8-27 5zm1003 733l-23-19 0-2 24 19zm-936-735l-14-11 0-2 14 11zm-40-5l26-6 0-8-26 6zm1007 727l-24-18 1-3 23 19zm-940-729l-14-11 0-2 14 11zm-41-6l27-5 0-8-27 5zm1047 688l-23-18 0-4 24 18zm-913-687l-14-11 0-3 14 11zm-40-5l26-6 0-8-26 6zm107 6l-15-10 0-4 15 11zm-41-5l26-5 0-8-25 5zm952 641l-24-17 1-5 23 17zm-845-636l-15-11 1-4 15 11zm-40-5l25-6 1-7-26 5zm923 581l-24-16 1-6 23 16zm-816-578l-16-11 0-4 16 10zm-41-5l25-6 0-7-25 6zm81 12l-15-10 0-6 15 11zm-40-5l25-5 0-7-25 5zm245 32l-16-11 0-7 17 11zm-41-5l25-6 0-5-25 5zm642 380l-22-15 1-8 22 14zm-559-371l-17-12 0-7 17 11zm-42-6l25-6 0-4-24 5zm583 342l-22-14 1-9 22 14zm-483-318l-17-11 1-8 17 11zm-42-6l25-5 0-5-24 6zm507 288l-21-14 1-9 21 14zm-406-265l-17-12 0-8 18 11zm-42-6l25-6 0-3-24 5zm432 234l-21-13 1-10 21 14zm-312-199l-18-11 1-9 18 12zm-43-5l25-6 0-3-24 6zm25-9l-18-12 1-8 18 11zm-42-6l24-6 1-3-25 6zm314 159l-20-13 1-9 20 13zm-20-11l-20-13 1-9 20 12zm-136-87l-19-12 1-10 19 12zm-18-14l-19-12 1-9 18 12zm-43-6l24-6 0-1-24 6z" fill="#e04000" stroke="#e04000" stroke-width="2.80" stroke-linejoin="round"/>
<path d="M5415 1564l227-78-24-19-226 77zm-158 26l34-11-23-21-34 12zm454-154l60-20-24-18-60 20zm-581 168l35-11-22-21-35 12zm647-215l29-10-23-17-30 9zm-740 219l36-12-22-21-35 12zm-93 1l36-12-21-20-36 11zm902-293l28-10-23-17-29 10zm-960 287l37-12-21-21-36 12zm993-326l28-9-23-16-28 9zm5-23l27-9-23-16-28 9zm-1149 339l38-12-20-20-37 11zm1153-363l27-9-23-16-27 9zm-1209 354l37-12-19-20-37 11zm1213-378l27-9-22-15-28 8zm5-25l26-8-22-16-27 9zm4-25l27-8-23-15-26 8zm-1409 382l37-11-18-20-37 11zm1395-442l26-8-22-14-26 8zm-1468 415l37-12-17-19-38 11zm1451-451l25-7-21-14-26 7zm-1523 422l37-11-16-19-38 10zm1506-458l25-8-21-13-25 7zm-1577 428l38-11-17-19-37 11zm-16-17l38-10-16-19-38 10zm1555-460l26-7-21-13-25 7zm-20-11l25-7-21-13-25 7zm-1620 423l38-11-16-18-37 10zm-15-17l38-11-16-18-37 10zm-15-18l38-10-15-17-37 9zm-14-17l37-10-15-17-37 9zm-44-53l37-9-14-17-37 9zm-14-18l37-9-15-17-36 9zm-14-18l36-9-14-17-36 9zm-14-18l36-9-13-16-36 8zm1537-401l24-6-18-12-25 6zm-18-14l24-6-18-12-25 6zm-1523 359l35-8-13-16-36 9zm-14-18l35-9-13-15-35 8zm1458-370l25-6-18-11-24 6zm-1449 332l35-8-14-16-34 9zm1390-348l24-5-17-12-25 6zm-1382 310l35-8-13-15-34 8zm1323-327l24-6-17-11-24 6zm-1314 288l33-8-13-15-33 8zm20-20l34-8-13-14-33 7zm1194-291l25-5-16-11-25 5zm-41-4l25-6-16-10-25 5zm-41-5l25-5-16-11-25 5zm-41-6l25-5-15-11-25 6zm-41-6l26-5-16-11-25 5zm-913 186l32-7-13-13-31 7zm807-190l25-6-15-10-25 5zm-740 143l31-6-13-13-30 7zm673-142l26-6-15-10-26 5zm-625 118l59-13-13-12-59 13zm558-119l26-5-14-11-26 5zm-483 88l58-12-13-12-58 12zm390-82l27-6-15-11-26 6zm-232 33l83-17-13-11-83 17zm-506 469l36-8-1-2-36 9zm-5-54l36-9-1-3-35 9zm-13-19l35-8 0-3-35 8zm9-37l34-9 0-3-34 8zm9-38l34-8-1-4-34 7zm8-39l33-8 0-4-34 7zm21-20l33-7-1-5-33 7zm117-124l31-7-1-7-31 7zm67-46l30-7-1-7-30 6zm47-26l30-6-1-8-30 7zm30-3l29-6 0-8-30 6zm45-27l29-6 0-8-29 6zm29-4l29-6 0-8-29 6zm129-43l28-6-1-8-27 6zm28-6l27-5 0-9-28 6zm27-6l28-5-1-8-27 5zm1161 708l-24-18 0-3 24 19zm-944-724l-15-11 0-2 15 11zm-41-5l26-6 0-8-26 6zm1015 716l-24-18 1-3 24 18zm35-35l-23-17 0-4 24 17zm-917-681l-14-11 0-3 15 10zm-40-6l26-5 0-8-26 6zm107 6l-15-10 0-4 15 10zm-41-5l26-5 0-8-26 5zm959 613l-23-17 0-5 24 17zm-852-609l-15-10 0-5 15 11zm-40-5l25-5 0-8-25 6zm925 576l-23-16 1-6 23 16zm4-23l-23-16 1-7 23 16zm-782-543l-16-11 0-6 16 11zm-41-6l25-5 0-7-25 6zm827 525l-23-16 1-7 23 16zm-746-513l-15-11 0-6 15 11zm-40-5l25-6 0-6-25 5zm790 494l-22-15 0-8 23 16zm-709-483l-16-11 0-7 16 11zm-41-6l25-5 0-6-25 5zm754 465l-22-16 1-7 22 15zm-672-455l-16-10 0-7 16 11zm-41-5l25-5 0-6-25 5zm718 435l-23-15 1-8 23 15zm-636-425l-16-11 0-7 16 11zm-41-6l25-5 0-6-25 6zm662 371l-22-14 1-9 22 15zm-522-343l-17-11 1-7 17 11zm-41-5l24-6 1-4-25 5zm545 313l-21-14 1-9 21 14zm-445-290l-17-12 0-8 18 12zm-42-6l25-6 0-4-24 6zm470 259l-21-13 1-9 21 13zm-368-238l-18-11 1-8 17 11zm-42-5l24-6 0-3-24 5zm373 195l-21-13 1-9 21 13zm-21-11l-21-13 1-9 21 13zm-214-136l-18-12 1-9 18 12zm-43-6l25-6 0-2-24 6zm25-8l-18-12 1-9 18 12zm-43-6l25-6 0-2-24 6z" fill="#e02e00" stroke="#e02e00" stroke-width="2.80" stroke-linejoin="round"/>
<path d="M5348 1583l68-23-24-20-67 23zm294-100l62-21-24-19-62 21zm-455 126l70-23-23-21-69 23zm585-198l30-10-24-18-30 10zm-678 201l36-12-22-20-35 11zm713-237l29-10-24-17-29 10zm-806 240l36-12-21-21-36 12zm840-277l29-9-24-17-28 9zm34-37l28-9-23-17-29 9zm-1025 308l36-12-20-21-37 12zm-58-8l37-12-20-20-36 11zm-170-27l38-11-19-21-38 12zm-56-10l37-11-18-21-38 12zm-57-11l38-11-18-21-38 12zm1396-422l27-8-23-15-26 8zm5-26l26-7-22-15-26 8zm-1474 421l38-11-18-20-38 11zm1456-456l26-8-22-14-26 8zm-1529 428l38-11-17-20-38 11zm1511-464l26-8-21-13-26 7zm-1582 434l38-11-17-19-37 11zm1544-482l26-7-21-13-25 7zm-1630 434l38-10-16-19-38 11zm-16-16l38-11-15-18-38 10zm1590-479l25-6-20-13-25 7zm-20-11l25-7-20-13-25 7zm-20-12l25-7-20-12-25 6zm-20-13l25-6-19-12-25 6zm-19-12l25-6-20-13-24 7zm-19-13l24-6-19-12-24 6zm-19-12l24-7-19-12-24 6zm-1632 358l36-9-13-16-36 8zm-13-19l36-8-14-17-36 9zm1528-392l24-6-18-12-24 6zm-1532 336l35-8-13-16-35 9zm1454-366l24-5-17-12-25 6zm-1445 328l34-8-13-15-34 8zm1386-344l24-6-17-11-24 6zm-1378 305l34-7-13-15-34 8zm1278-326l24-5-16-11-25 5zm-1249 267l33-7-12-14-33 7zm21-20l33-8-13-13-33 7zm20-21l32-7-12-14-33 8zm20-21l32-7-13-13-32 7zm19-21l32-7-13-13-32 7zm19-21l31-7-13-13-31 7zm904-195l25-5-15-11-26 6zm-854 171l31-7-13-12-31 6zm813-178l25-6-15-10-25 5zm-795 156l30-7-13-12-30 6zm729-155l26-5-15-11-26 6zm-681 129l30-6-13-12-30 6zm615-129l25-5-14-11-26 6zm-539 100l29-6-13-12-29 6zm446-93l26-6-14-10-27 5zm-343 57l84-17-13-12-85 18zm167-35l108-22-14-11-107 22zm-603 470l36-8 0-2-36 8zm-14-18l36-9 0-2-36 9zm-3-55l35-9-1-3-35 8zm9-38l34-8 0-4-35 8zm8-38l34-8 0-4-34 7zm30-59l33-7-1-5-33 7zm20-20l33-7-1-6-32 7zm20-20l33-8-1-5-32 7zm20-21l32-7-1-6-32 7zm19-21l32-7-1-6-31 7zm19-21l31-7 0-7-31 7zm50-24l31-6-1-7-30 6zm18-22l30-6 0-7-31 6zm48-25l30-6-1-7-30 6zm76-29l29-6 0-8-29 6zm102-36l29-6-1-8-28 6zm29-5l28-6 0-8-29 6zm28-5l28-6 0-8-28 6zm111-23l27-5 0-8-28 5zm27-6l27-6 0-8-27 6zm1038 767l-24-19 1-2 23 19zm-1011-774l27-5 0-8-27 5zm1042 761l-24-18 1-3 24 19zm-975-762l-14-11 0-2 14 11zm-40-5l26-6 0-8-26 5zm134 1l-14-10 0-3 14 11zm-41-5l27-5 0-8-27 5zm1020 711l-24-18 0-3 24 18zm34-36l-24-17 1-4 24 17zm-921-676l-14-11 0-3 14 10zm-40-5l26-6 0-7-26 5zm995 645l-24-17 1-5 24 17zm-888-640l-15-11 0-4 15 11zm-41-5l26-6 0-7-26 5zm962 608l-23-17 0-6 24 17zm-856-605l-15-10 0-5 16 11zm-40-5l25-5 1-7-26 5zm81 13l-15-11 0-5 15 11zm-41-5l26-6 0-7-25 6zm885 433l-23-15 2-8 22 15zm-599-396l-16-11 0-8 17 11zm-41-6l25-5 0-6-25 6zm644 377l-22-15 1-8 22 14zm-18-36l-22-14 1-8 22 14zm-485-315l-17-11 1-8 17 11zm-41-5l24-6 0-4-24 6zm508 284l-21-13 1-9 21 13zm-408-262l-17-12 0-8 18 11zm-42-6l25-6 0-3-24 6zm412 221l-21-13 1-9 21 13zm-292-186l-18-12 1-9 18 12zm-42-6l24-6 0-2-24 5zm277 132l-20-13 1-10 20 13zm-20-12l-20-13 1-9 20 12zm-20-12l-20-12 1-10 20 13zm-20-12l-19-12 1-10 19 13zm-19-12l-20-13 1-9 20 12zm-20-13l-19-12 1-9 19 12zm-19-13l-19-12 1-9 19 12z" fill="#e01d00" stroke="#e01d00" stroke-width="2.80" stroke-linejoin="round"/>
<path d="M5280 1602l69-23-23-20-69 23zm425-144l61-21-24-18-61 20zm-553 158l36-12-23-21-35 12zm650-218l30-10-24-18-30 10zm-743 222l36-12-22-21-36 12zm778-259l29-10-24-17-29 10zm-872 261l36-12-21-21-36 12zm906-298l28-10-24-17-28 10zm-964 292l37-12-21-21-37 12zm-94-1l37-12-21-21-37 12zm1095-353l28-9-24-16-27 9zm-1153 345l37-12-19-21-38 12zm1157-369l28-8-24-16-27 8zm-1214 360l37-12-19-21-37 12zm1218-384l27-8-23-16-27 8zm-1275 375l38-12-20-21-37 12zm1279-399l27-9-23-15-27 8zm-1336 389l38-12-19-21-38 12zm1340-414l27-8-23-15-26 8zm5-25l26-8-22-15-27 8zm-1476 401l38-11-18-20-38 11zm1461-461l26-8-22-14-26 7zm-1534 433l38-11-17-20-38 12zm1516-469l26-8-22-13-25 7zm-1588 440l38-11-16-19-38 11zm-71-30l38-11-16-19-38 10zm1621-457l25-7-21-14-25 7zm-1637 440l38-11-16-18-37 10zm1600-489l25-7-21-13-25 7zm-21-11l25-7-20-13-25 7zm-1678 434l38-10-15-19-38 10zm-15-18l38-10-15-18-37 10zm-14-17l37-10-15-18-37 10zm-15-18l37-9-14-18-37 10zm-14-17l37-10-14-17-37 9zm-14-18l37-10-15-17-36 10zm-14-18l36-10-14-16-36 9zm-14-18l36-9-13-17-37 9zm1622-409l24-6-18-12-25 6zm-19-13l25-6-19-12-24 6zm-18-13l24-6-18-12-24 6zm-1603 361l36-9-13-16-36 9zm1524-389l24-5-18-12-24 6zm-1528 332l35-8-13-15-35 8zm1451-361l24-6-17-11-25 5zm-1442 323l35-8-13-15-34 8zm9-39l34-7-13-15-34 8zm1332-304l25-5-17-11-25 5zm-1311 284l34-7-13-14-33 7zm1253-303l25-6-16-10-25 5zm-41-4l25-6-16-10-25 5zm-1183 247l32-7-12-13-33 7zm1142-252l25-5-16-11-25 5zm-1122 232l32-7-13-14-32 7zm1081-237l25-5-15-11-25 5zm-1062 216l32-7-12-13-32 7zm1022-222l25-5-16-11-25 5zm-41-6l25-6-15-10-25 5zm-911 183l31-7-12-12-31 6zm805-188l25-6-15-10-25 5zm-738 141l30-6-12-12-31 6zm671-141l26-5-15-11-25 6zm-594 112l30-6-13-12-30 6zm502-106l52-10-14-11-52 11zm-427 76l57-12-13-11-57 11zm333-70l27-5-14-11-27 5zm-738 460l36-9-1-2-35 8zm-4-56l35-8 0-4-35 9zm10-38l34-8-1-4-34 8zm8-38l34-8 0-4-34 7zm22-20l33-7 0-5-34 7zm28-59l33-7-1-6-32 7zm20-21l32-7 0-6-32 7zm20-20l32-7-1-7-32 7zm70-45l31-6-1-7-31 6zm66-46l31-6-1-8-30 7zm77-29l30-6-1-7-29 6zm75-30l29-6-1-8-28 6zm29-5l28-6 0-8-29 6zm1323 699l-24-19 1-2 24 18zm-979-757l-14-11 0-2 14 11zm-41-6l27-5 0-8-27 5zm1051 750l-24-19 0-2 24 18zm-917-749l-14-10 0-3 14 11zm-40-5l26-5 0-8-26 5zm1023 706l-24-18 0-4 24 18zm-957-709l-14-11 0-3 14 11zm-40-5l26-6 0-7-26 5zm1031 677l-24-17 0-5 24 18zm-925-671l-15-11 1-3 14 10zm-40-5l25-6 1-7-26 5zm998 639l-24-17 1-5 24 17zm-892-635l-15-10 0-5 15 11zm-40-5l25-5 0-8-25 6zm969 579l-24-16 1-6 24 16zm-823-569l-15-10 0-6 15 11zm-40-5l25-5 0-7-25 5zm867 551l-24-16 1-7 23 16zm-786-539l-16-11 0-6 16 11zm-41-6l25-5 0-6-25 5zm830 521l-23-16 1-7 23 15zm-749-509l-15-11 0-6 16 11zm-40-6l25-5 0-6-25 5zm793 490l-23-15 1-8 23 16zm-712-479l-16-11 0-6 16 10zm-41-6l25-5 0-6-24 6zm757 461l-23-15 1-8 23 15zm-675-451l-16-10 0-7 16 11zm-41-5l25-5 0-6-25 5zm720 431l-22-15 1-8 22 15zm-638-422l-16-10 0-7 16 10zm-41-5l25-5 0-6-25 6zm99 25l-17-11 0-8 17 11zm-42-6l25-5 0-5-24 5zm607 348l-22-14 1-9 22 14zm-18-36l-22-13 2-9 21 13zm-447-287l-17-11 0-9 18 12zm-42-6l25-5 0-4-24 5zm450 247l-21-14 1-9 21 13zm-331-211l-18-12 1-9 18 12zm-42-6l24-6 1-3-25 6zm336 168l-21-13 1-9 21 13zm-21-11l-20-13 1-9 20 12zm-157-98l-18-12 1-9 18 12zm-18-13l-19-12 1-9 19 12zm-43-6l24-6 0-1-24 6zm24-7l-18-12 1-9 18 11zm-42-6l24-6 0-2-24 6z" fill="#e00c00" stroke="#e00c00" stroke-width="2.80" stroke-linejoin="round"/>
<path d="M5406 1585l292-101-24-19-291 99zm-161 25l35-12-23-20-34 11zm521-177l31-10-25-19-30 11zm-649 191l35-12-22-21-35 12zm715-240l30-10-25-18-29 10zm-809 243l36-12-22-21-36 12zm843-280l29-10-24-17-29 9zm34-38l28-9-24-17-28 9zm-1030 313l37-12-21-21-36 12zm1034-336l28-9-24-17-28 9zm40-88l27-8-23-16-27 9zm-1417 370l38-12-18-20-38 11zm-56-11l38-12-18-20-38 11zm1462-442l26-8-22-15-26 8zm-1536 414l38-11-17-20-38 11zm1522-475l25-8-21-14-26 8zm-1595 446l39-11-17-20-38 11zm-71-30l38-11-16-19-38 11zm1626-463l26-7-22-14-25 8zm-1712 415l38-11-15-18-38 10zm1675-463l25-7-21-13-25 7zm-1690 446l38-10-16-19-37 10zm-15-17l38-10-16-19-37 10zm-129-159l36-10-13-16-37 9zm-14-19l37-9-14-16-36 9zm-13-18l36-9-13-16-36 9zm1608-394l24-6-18-12-24 6zm-1598 356l35-8-13-16-35 9zm-14-18l36-9-13-15-36 8zm1533-366l25-6-18-11-24 6zm-1523 328l35-9-13-15-35 8zm9-39l34-8-12-15-34 8zm1396-321l24-6-17-11-24 6zm-1387 282l34-7-13-15-34 8zm1329-301l24-5-16-11-25 5zm-1308 281l34-7-13-14-33 7zm21-20l33-7-12-14-33 7zm80-83l31-7-12-13-32 7zm19-22l31-7-13-12-31 6zm902-192l25-6-15-10-26 5zm-852 168l30-6-12-13-31 7zm17-22l31-6-13-13-30 7zm728-153l26-5-15-11-25 6zm-650 125l30-7-13-12-29 7zm584-125l26-5-15-11-25 5zm-537 99l58-12-13-12-58 12zm418-86l53-11-15-11-52 11zm-288 45l221-46-14-11-220 45zm-474 478l37-9 0-2-37 9zm-13-18l36-9 0-2-36 9zm-13-18l36-9-1-2-36 8zm10-37l35-9 0-3-36 9zm-14-19l36-8-1-3-35 8zm10-38l35-8 0-3-35 8zm10-38l34-8-1-4-34 8zm8-38l34-8 0-5-34 8zm22-20l33-7 0-6-34 8zm21-20l33-7-1-6-33 8zm79-82l32-7-1-7-31 7zm19-22l31-6 0-7-31 7zm50-23l31-7-1-7-31 7zm18-22l30-7 0-7-31 6zm78-28l29-7 0-7-30 6zm46-27l29-6 0-8-30 6zm29-3l29-6 0-8-29 6zm101-37l28-6 0-8-28 5zm28-5l28-6 0-8-28 5zm28-6l28-5 0-8-28 5zm28-5l28-6-1-8-27 6zm28-6l27-5 0-9-28 6zm27-6l27-5 0-9-27 6zm27-6l27-6 0-8-27 6zm1078 794l-25-19 1-1 24 19zm-1051-801l27-5 0-8-27 5zm134 3l-14-10 0-3 14 11zm-40-5l26-5 0-8-26 5zm1055 744l-25-19 1-3 24 19zm-988-746l-15-11 0-2 15 10zm-41-6l26-5 0-8-26 5zm1094 703l-25-18 1-4 24 17zm-961-703l-15-11 0-3 15 10zm-40-6l25-5 0-8-25 6zm1034 672l-24-17 1-5 24 17zm-928-666l-15-11 0-4 15 11zm-40-5l25-6 0-7-25 5zm1001 634l-24-17 1-6 24 17zm4-23l-24-17 1-6 24 16zm-859-600l-15-10 0-5 15 10zm-41-5l26-5 0-7-25 5zm939 518l-23-16 1-7 23 15zm-12-83l-22-15 1-8 22 14zm-601-393l-16-11 0-7 17 10zm-41-6l25-5 0-5-25 5zm99 24l-17-11 1-8 17 11zm-41-5l24-6 1-5-25 6zm569 319l-21-14 1-9 22 14zm-39-46l-22-14 2-9 21 14zm-370-236l-18-11 1-9 17 12zm-42-5l24-6 0-3-24 5zm374 193l-21-13 1-9 21 13zm-254-160l-18-12 1-9 18 12zm-42-6l24-6 0-2-24 6z" fill="#d90000" stroke="#d90000" stroke-width="2.80" stroke-linejoin="round"/>
<path d="M5338 1604l68-24-23-20-68 23zm361-124l62-22-25-18-61 21zm-489 139l36-12-23-21-35 12zm587-199l30-11-24-18-30 10zm-716 212l36-12-22-21-36 11zm781-263l29-9-24-18-29 10zm-876 265l37-12-22-21-36 12zm910-302l29-9-25-18-28 10zm-968 296l37-12-21-21-37 12zm-95 0l37-12-20-21-37 12zm1100-358l28-9-24-16-28 9zm-1158 350l38-12-21-21-37 12zm1162-373l27-9-23-16-28 9zm-1220 365l38-12-20-21-37 12zm1223-389l28-9-24-16-27 9zm-1280 380l38-12-20-21-37 12zm-57-10l38-12-19-20-38 11zm1345-419l27-9-23-15-27 8zm-1402 409l38-12-19-21-38 12zm1406-434l27-8-23-15-27 8zm4-25l26-8-22-15-26 8zm-1542 421l39-12-18-20-38 11zm1523-456l26-8-22-14-26 8zm-1596 427l39-11-17-20-39 11zm-72-29l39-12-17-19-38 11zm1632-470l25-7-21-14-25 8zm-17-37l25-7-21-13-25 7zm-1702 459l39-11-16-19-38 11zm1681-469l25-7-21-13-25 7zm-1780 402l38-10-15-19-38 10zm1723-463l25-7-21-12-24 6zm-1737 445l37-10-14-18-38 10zm1717-457l24-6-20-13-24 7zm-1732 440l38-10-15-18-37 10zm1712-451l24-7-19-12-25 6zm-1726 433l37-10-14-17-37 9zm1706-445l25-7-20-12-24 6zm-1720 427l37-9-14-18-37 10zm1701-440l24-6-19-12-25 6zm-1715 422l37-9-14-17-37 9zm1695-434l25-7-19-12-25 7zm-1709 416l37-9-14-17-37 9zm1690-429l25-6-19-12-25 6zm-1704 411l37-9-14-17-37 9zm1685-424l25-6-19-12-24 6zm-1702 350l36-8-13-16-36 8zm1604-389l24-6-18-11-24 5zm-1607 333l35-8-12-16-36 8zm1529-362l24-5-17-12-25 6zm-1519 324l35-8-13-15-35 8zm1460-340l24-5-17-11-24 5zm-1451 301l34-8-12-14-34 7zm1392-318l25-6-17-10-25 5zm-1362 259l34-8-13-13-33 7zm1263-281l25-6-16-11-25 6zm-1242 261l33-8-12-13-33 7zm1201-266l25-5-16-11-25 6zm-1180 245l32-7-12-14-33 7zm1140-249l24-6-15-11-25 6zm-1120 228l32-7-12-13-33 7zm1079-234l25-5-16-11-25 5zm-1060 213l32-7-12-13-32 7zm1019-219l25-5-15-11-25 5zm-40-7l25-5-15-11-25 6zm-909 181l31-6-12-13-31 7zm843-178l26-5-16-11-25 5zm-776 132l30-7-13-12-30 7zm30-3l30-6-12-12-30 6zm640-137l26-5-15-11-26 6zm-593 111l29-6-12-12-30 6zm501-104l26-5-15-11-26 6zm-426 74l85-18-13-11-85 18zm306-63l53-11-14-11-53 11zm-735 472l36-8 0-3-36 9zm-3-56l36-8-1-3-35 8zm10-37l35-8-1-4-34 8zm10-39l34-7-1-5-34 8zm30-58l33-7 0-6-34 8zm21-20l33-7-1-6-33 7zm20-21l33-7-1-5-32 7zm20-20l33-7-1-6-32 7zm20-21l32-7-1-6-31 7zm70-44l31-7-1-7-31 7zm66-46l30-7 0-7-30 6zm31-3l30-6-1-8-30 6zm46-26l30-6-1-8-29 6zm75-31l28-6 0-8-29 6zm29-4l28-6 0-8-29 6zm28-5l28-5 0-9-28 6zm1303 744l-24-19 0-2 24 19zm-1055-795l26-6 0-8-26 6zm1086 782l-24-18 0-3 24 19zm-1019-784l-14-11 0-2 14 11zm-41-5l27-6 0-8-27 6zm1126 741l-24-18 0-3 25 18zm-992-740l-15-11 0-3 15 11zm-41-5l26-6 0-8-26 6zm1097 696l-24-18 1-5 24 18zm-964-698l-15-11 0-3 15 10zm-41-5l26-6 0-7-26 5zm1039 666l-25-18 1-5 24 17zm-892-653l-16-11 1-5 15 11zm-41-6l25-5 1-7-26 5zm969 597l-24-16 1-6 24 16zm-863-594l-15-11 0-5 15 11zm-40-5l25-6 0-7-25 6zm906 576l-23-16 1-7 23 16zm-826-564l-15-11 0-6 16 11zm-40-6l25-5 0-7-25 6zm870 546l-24-16 1-7 24 16zm-789-534l-16-11 0-6 16 11zm-41-6l25-5 0-6-24 5zm81 11l-15-11 0-6 16 11zm-40-5l25-6 0-6-25 6zm796 485l-23-15 1-8 23 16zm-715-475l-16-11 0-6 16 10zm-41-5l25-6 0-6-24 6zm760 456l-23-15 1-8 23 15zm-678-447l-16-11 0-6 16 10zm-41-5l25-6 0-5-25 5zm722 427l-22-15 1-8 23 14zm-19-35l-22-14 1-9 22 15zm-563-365l-17-10 0-8 17 11zm-42-5l25-5 0-5-24 5zm100 23l-17-11 0-8 18 11zm-41-6l24-5 0-4-24 5zm509 282l-21-14 1-9 22 14zm-409-260l-17-12 0-8 18 11zm-42-6l25-6 0-3-24 6zm434 229l-21-13 1-9 21 13zm-21-10l-21-13 1-10 21 13zm-293-185l-18-11 1-9 18 11zm-42-6l24-5 0-3-24 6zm278 130l-21-12 2-10 20 13zm-21-11l-20-13 1-9 20 12zm-20-12l-19-12 1-10 19 13zm-19-12l-20-12 1-10 20 13zm-20-12l-19-12 1-10 19 12zm-19-13l-19-12 1-9 19 12zm-19-12l-19-12 1-9 19 11zm-19-13l-19-12 1-9 19 12z" fill="#c40000" stroke="#c40000" stroke-width="2.80" stroke-linejoin="round"/>
<path d="M5498 1572l163-56-25-20-162 56zm-229 51l69-24-23-21-69 23zm492-169l61-21-24-19-61 21zm-586 173l36-12-23-21-35 12zm653-221l29-10-24-18-30 10zm-783 233l36-12-22-21-36 12zm847-284l29-10-25-17-28 9zm-1001 280l37-12-21-21-37 12zm1038-341l28-9-24-17-28 9zm-1250 323l38-12-19-21-38 12zm1290-410l27-9-24-15-27 8zm-1347 401l38-12-19-21-39 12zm1350-426l27-8-23-15-27 8zm-1483 390l38-12-18-21-39 12zm-57-12l38-12-17-20-39 11zm1528-462l26-8-22-14-26 8zm-1602 434l39-11-18-21-38 12zm1583-469l26-7-22-15-26 8zm-1656 440l39-11-17-20-38 11zm1638-476l26-7-22-14-25 8zm-1709 445l38-11-16-19-38 11zm1692-481l25-7-21-14-25 7zm-1708 465l38-11-15-20-39 11zm-85-50l38-10-15-19-38 11zm1734-474l25-7-21-13-25 7zm-1749 457l38-10-15-19-38 11zm1728-469l25-6-20-13-25 7zm-1856 309l37-9-13-17-37 9zm1681-419l24-6-19-12-24 6zm-1694 401l36-9-13-17-36 9zm1675-415l25-6-19-11-24 6zm-1678 359l36-9-13-16-36 9zm1599-385l24-6-18-11-24 5zm-1612 366l36-9-13-15-36 8zm1594-380l25-6-18-11-24 5zm-1584 342l35-8-13-15-35 8zm1525-357l24-6-17-11-25 5zm-1515 319l34-8-12-15-35 8zm1456-336l24-5-17-11-24 5zm-1447 297l34-8-12-14-34 7zm1389-315l24-5-17-11-24 6zm-1367 295l34-8-13-14-33 8zm1325-298l25-5-17-11-24 6zm-1203 174l31-7-12-13-32 7zm19-21l31-7-13-13-31 7zm900-191l25-5-15-11-25 5zm-851 167l31-7-12-12-31 6zm785-165l25-6-15-10-25 5zm-689 114l30-6-13-12-29 6zm557-115l26-5-15-11-26 5zm-481 85l29-6-13-12-29 6zm388-80l26-5-14-11-26 5zm-259 38l138-28-14-11-137 28zm-539 485l36-9 0-2-37 9zm-3-55l36-9 0-3-36 9zm-13-19l36-8-1-3-35 8zm10-37l35-8 0-4-35 8zm10-38l35-8-1-4-34 8zm10-39l34-7-1-5-34 8zm22-19l33-8 0-5-34 8zm121-123l32-7-1-6-31 6zm19-21l31-7 0-7-31 7zm50-24l31-6-1-7-30 6zm96-50l29-6 0-8-30 6zm75-30l29-6-1-8-29 6zm129-42l28-5 0-8-28 5zm28-5l28-5-1-9-27 6zm28-5l27-6 0-8-28 5zm27-6l27-5 0-9-27 6zm27-6l27-5 0-9-27 6zm1212 769l-25-18 1-3 24 19zm-1024-778l-14-11 0-2 14 10zm-40-6l26-5 0-8-26 5zm1095 771l-25-18 0-3 25 18zm34-35l-24-18 0-4 25 18zm-996-735l-15-11 0-3 15 11zm-41-6l26-5 0-8-26 6zm1101 690l-25-17 1-5 24 17zm-929-684l-15-10 1-4 14 10zm-40-5l25-5 1-7-26 5zm1005 629l-24-17 1-6 24 17zm-899-625l-15-11 0-5 15 11zm-40-6l25-5 0-7-25 5zm978 544l-24-15 1-8 24 16zm3-24l-23-15 1-8 23 15zm-657-476l-17-11 1-7 16 11zm-41-5l24-6 1-5-25 5zm685 397l-22-14 1-9 22 15zm-603-389l-17-11 1-7 17 10zm-41-5l24-6 1-5-25 6zm625 360l-22-15 1-8 22 14zm-526-337l-17-11 1-8 17 11zm-41-6l24-5 0-5-24 6zm549 307l-22-14 1-9 22 14zm-449-285l-17-11 0-8 18 11zm-42-6l25-5 0-4-24 6zm473 255l-21-14 1-9 21 13zm-354-220l-18-11 1-9 18 11zm-42-6l24-5 1-3-25 6zm25-8l-18-11 0-9 18 11zm-42-6l24-5 0-4-24 6zm354 181l-21-13 1-9 21 12zm-21-11l-20-13 1-9 20 12zm-176-110l-19-12 1-9 19 12zm-43-6l24-6 1-2-25 6zm25-8l-19-11 1-9 18 11zm-43-5l24-6 0-2-24 6z" fill="#af0000" stroke="#af0000" stroke-width="2.80" stroke-linejoin="round"/>
<path d="M5397 1605l101-35-24-21-101 35zm264-92l95-33-25-19-94 32zm-427 117l35-12-23-21-35 12zm589-202l30-10-25-19-30 11zm-683 208l35-12-22-22-36 12zm718-244l29-10-24-18-30 10zm-908 249l37-12-22-21-37 12zm975-324l29-9-25-17-28 9zm-1071 324l37-12-21-21-37 12zm1104-362l28-9-24-17-28 9zm-1163 355l38-12-20-22-38 12zm1167-379l27-9-24-16-27 9zm-1225 371l38-12-20-21-38 12zm1228-395l27-9-23-16-27 9zm-1401 367l38-12-18-21-39 12zm1412-440l27-9-23-15-27 8zm-1469 429l38-12-18-21-39 12zm1473-454l26-8-23-15-26 8zm-1605 415l39-12-18-20-38 11zm1589-475l26-8-22-14-26 7zm-1662 446l39-11-17-21-39 12zm1644-482l25-7-22-14-25 7zm-1716 452l38-11-16-20-39 11zm1698-488l25-7-22-14-25 7zm-1785 440l39-11-16-19-38 10zm1746-488l25-7-21-13-25 7zm-1761 471l38-11-15-19-38 10zm1740-481l25-7-21-13-25 7zm-1839 412l39-10-15-18-38 10zm-14-17l38-10-14-18-38 10zm-14-18l38-10-14-18-38 10zm1771-462l24-7-20-12-24 6zm-1785 444l38-10-14-17-38 9zm1765-457l24-6-19-12-24 6zm-1779 439l38-10-14-17-38 10zm-14-18l38-10-14-17-37 10zm-16-74l37-9-13-16-37 9zm1671-409l24-6-18-11-24 5zm-1684 391l36-9-13-16-36 8zm1666-405l24-6-18-11-24 6zm-1668 348l35-8-12-16-36 9zm1590-376l24-6-18-11-24 6zm-1580 338l35-8-13-15-34 8zm1521-353l24-6-17-11-25 6zm-1511 315l34-8-12-15-35 8zm1452-332l24-6-17-11-24 6zm-1421 273l34-8-13-14-33 8zm1322-295l25-5-17-11-24 6zm-1301 275l34-8-13-14-33 8zm1260-279l25-5-16-11-25 6zm-1239 258l33-7-12-14-33 8zm1199-262l24-6-16-10-24 5zm-1178 242l32-7-12-14-32 7zm1137-247l25-6-16-10-25 5zm-1117 226l32-7-12-13-32 7zm1077-232l24-5-15-11-25 5zm-1057 211l31-7-12-13-32 7zm1016-217l25-6-15-10-25 5zm-997 195l31-6-12-13-31 7zm50-23l31-7-12-12-31 6zm841-177l26-5-15-11-25 6zm-792 152l31-6-13-12-30 6zm727-151l25-5-15-11-25 6zm-679 126l30-6-13-12-29 6zm613-126l25-6-14-10-26 5zm-566 101l58-12-12-11-59 12zm473-97l52-10-14-11-52 11zm-370 62l85-17-13-11-85 17zm223-45l80-17-13-10-81 16zm-691 497l37-9-1-2-36 9zm-13-19l36-8 0-3-36 9zm-2-55l36-9-1-3-35 8zm11-38l34-8 0-4-35 8zm9-38l35-8-1-5-34 8zm32-58l33-8 0-5-34 7zm21-20l33-8 0-5-33 7zm21-20l33-8-1-5-32 7zm21-21l32-7-1-6-32 7zm20-20l32-7-1-7-32 7zm19-21l32-7-1-7-31 7zm20-21l31-7 0-6-32 7zm50-24l31-6-1-7-31 6zm49-24l30-6 0-8-31 7zm48-25l29-6 0-8-30 6zm46-26l30-6-1-5-29 5zm30-3l29-6-1-8-29 6zm73-32l29-5-1-6-28 6zm29-4l28-6 0-7-29 6zm28-5l28-5 0-8-28 5zm165-33l27-5 0-8-27 5zm1117 822l-24-19 0-2 25 19zm-1090-829l27-5 0-7-27 6zm1122 817l-25-19 0-2 25 19zm-1095-823l27-6-1-5-26 5zm133 2l-14-10 0-3 14 11zm-40-5l26-5 0-8-26 5zm1099 765l-25-19 1-3 24 18zm-1033-768l-14-10 0-3 14 11zm-40-5l26-5 0-6-26 6zm1107 737l-24-18 0-4 25 18zm-1001-730l-14-10 0-4 14 11zm-40-5l26-5 0-8-26 6zm106 6l-15-11 1-4 14 11zm-40-5l25-6 1-7-26 5zm1042 660l-25-17 1-6 24 17zm-936-656l-15-11 0-4 15 10zm-40-5l25-6 0-7-25 6zm1008 623l-24-17 1-6 24 17zm3-24l-24-16 1-7 24 16zm-866-590l-15-10 0-6 15 11zm-40-5l25-5 0-7-25 6zm909 571l-23-16 1-7 23 16zm-829-559l-15-11 0-6 16 11zm-40-6l25-5 0-6-25 5zm81 11l-16-10 0-6 16 10zm-41-5l25-5 0-7-24 6zm81 10l-16-10 1-7 16 11zm-40-5l24-5 1-6-25 5zm799 481l-23-15 1-8 23 15zm-718-471l-16-11 0-6 16 10zm-41-5l25-6 0-5-24 5zm762 452l-23-15 1-7 23 15zm-680-443l-17-11 1-6 16 11zm-41-5l24-6 1-5-25 5zm705 388l-22-14 1-7 22 14zm-566-362l-17-11 1-5 17 10zm-41-5l24-6 1-4-24 5zm588 332l-22-14 1-7 22 14zm-488-310l-17-11 0-6 17 11zm-42-5l25-6 0-4-24 6zm512 279l-22-14 1-6 22 14zm-411-259l-18-11 1-5 17 11zm-42-5l24-6 1-3-24 6zm414 216l-21-13 1-5 21 13zm-21-10l-21-13 1-8 21 13zm-255-159l-18-11 1-8 18 11zm-42-6l24-5 0-3-24 6zm24-8l-18-11 0-5 19 11zm-42-5l24-6 0-3-24 6zm218 93l-20-12 1-5 20 12zm-20-12l-19-12 1-5 19 12z" fill="#9a0000" stroke="#9a0000" stroke-width="2.80" stroke-linejoin="round"/>
<path d="M5328 1624l69-24-24-21-69 24zm428-149l62-21-25-19-62 21zm-558 164l36-12-23-22-35 12zm655-225l30-10-24-18-30 10zm-749 230l36-12-23-22-36 12zm784-266l29-10-25-18-29 10zm-880 269l37-13-22-21-36 12zm913-307l29-9-24-18-29 10zm-1009 308l38-12-22-22-37 12zm1042-346l29-9-25-17-28 9zm-1197 338l38-13-20-21-38 12zm-58-9l38-12-20-21-38 12zm1294-416l28-8-24-16-27 8zm-1352 407l38-12-19-21-39 12zm1356-431l27-9-24-15-27 8zm-1414 421l38-12-19-21-38 12zm-134-36l39-12-18-21-39 12zm1535-469l26-8-23-14-26 8zm-1592 456l39-11-17-21-39 12zm-74-28l39-12-17-20-39 11zm1650-488l26-8-22-14-26 8zm-1722 458l39-11-17-20-39 11zm1704-494l25-8-22-13-25 7zm-1792 446l39-11-16-19-38 11zm1752-493l25-7-21-13-25 7zm-1852 426l39-10-15-19-38 10zm1794-486l25-6-21-13-24 7zm-1808 469l38-10-14-19-39 10zm1788-480l24-7-20-12-24 6zm-21-12l25-6-20-13-25 7zm-20-11l25-7-20-12-24 6zm-58-37l24-6-19-12-24 6zm-19-13l24-6-19-12-24 7zm-1768 428l37-10-13-17-38 10zm1749-440l24-7-19-11-24 6zm-1763 421l37-9-13-17-37 9zm1744-434l24-6-19-12-24 6zm-1759 360l36-9-13-16-36 9zm1661-400l24-6-18-11-24 6zm-1663 343l35-8-12-15-36 8zm1586-371l24-6-18-11-24 6zm-1576 333l35-8-12-15-35 8zm1517-349l24-6-17-11-24 6zm-1507 310l34-8-12-14-34 8zm22-19l34-8-12-14-34 7zm1385-311l25-6-17-11-24 6zm-1354 251l33-7-13-14-33 7zm21-20l32-7-12-14-33 7zm1195-260l25-5-16-11-25 6zm-1175 239l32-7-12-13-32 7zm1135-244l24-6-15-10-25 5zm-1115 223l32-7-12-13-32 7zm1009-225l25-6-15-10-25 5zm-938 181l31-7-12-12-31 6zm898-189l25-5-15-10-25 5zm-848 165l30-6-12-13-31 7zm782-163l26-5-15-11-25 5zm-734 138l30-6-13-12-29 6zm668-138l26-5-14-11-26 5zm-621 112l30-6-13-11-29 6zm555-113l26-6-14-10-26 5zm-480 84l58-12-13-11-57 12zm361-73l53-11-14-11-52 11zm-782 553l37-9 0-2-37 10zm-15-73l36-9 0-3-36 9zm-2-56l36-8-1-4-35 8zm11-38l35-8-1-4-35 8zm10-38l34-8 0-3-35 8zm22-20l34-7-1-5-33 7zm30-59l33-7 0-2-33 7zm21-20l33-7 0-3-33 7zm21-20l32-7 0-3-32 7zm20-21l32-7 0-2-32 7zm71-44l31-6-1-4-31 7zm49-23l31-7-1-4-30 6zm49-25l29-6 0-5-30 6zm47-25l29-6 0-4-30 6zm75-30l29-6-1-3-28 6zm29-4l28-6 0-4-29 5zm1430 750l-25-19 0-2 25 19zm-1059-812l-14-10 0-2 14 10zm-40-5l26-5 0-4-27 5zm1130 804l-25-19 0-2 25 18zm-1064-806l-14-11 0-1 14 10zm-40-5l26-6 0-1-26 5zm1169 762l-24-18 0-4 25 19zm-1037-762l-14-10 0-3 14 11zm-40-5l26-5 0-3-26 5zm1111 731l-25-18 1-5 25 18zm-1005-724l-14-11 0-3 14 10zm-40-6l26-5 0-4-26 5zm1078 693l-24-18 0-5 25 18zm-972-687l-15-11 0-4 15 11zm-40-6l25-5 0-4-25 5zm1045 655l-25-17 1-3 24 17zm-940-651l-15-10 0-3 15 11zm-40-5l25-5 0-3-25 5zm80 12l-15-10 0-5 15 11zm-40-5l25-5 0-5-25 6zm978 563l-24-16 0-2 24 15zm-833-556l-15-10 0-2 15 11zm-40-5l25-5 0-2-25 6zm876 536l-24-15 1-2 23 15zm-795-525l-16-11 0-1 16 10zm-41-5l25-6 0-1-25 5zm822 447l-23-14 1-5 22 15zm-643-414l-17-11 0-3 17 10zm-41-5l24-6 0-3-24 5zm668 359l-22-14 0-2 22 13zm-528-334l-17-11 0-2 17 11zm-41-5l24-6 0-2-24 5zm550 303l-22-13 1-2 21 13zm-450-282l-18-11 0-2 18 11zm-42-5l24-6 0-2-24 6zm452 241l-21-13 1-3 21 13zm-333-208l-18-11 0-2 18 11zm-42-5l24-6 0-2-24 5zm317 154l-21-13 1-2 20 12zm-21-12l-20-12 0-4 21 13zm-20-11l-20-13 0-4 20 12zm-20-12l-20-12 1-5 19 12zm-59-36l-19-12 0-5 20 12zm-19-13l-19-12 0-4 19 12zm-19-13l-19-11 0-3 19 11zm-19-12l-19-12 1-2 18 12z" fill="#850000" stroke="#850000" stroke-width="2.80" stroke-linejoin="round"/>
<path d="M5317 1654l526-184-25-19-525 181zm-131 15l142-49-23-21-142 48zm632-219l91-31-25-18-91 31zm-728 222l109-37-23-21-109 36zm794-271l88-30-25-18-88 29zm-891 275l111-38-22-21-111 37zm925-313l58-20-25-17-58 19zm-984 303l74-25-21-21-74 24zm1017-340l57-19-25-17-57 18zm-1114 343l76-25-22-22-75 25zm1146-379l28-10-24-16-28 9zm-1205 370l76-25-21-22-76 25zm1209-396l55-18-24-17-55 18zm-1268 386l38-13-20-21-38 12zm1271-411l55-18-24-16-55 18zm-1330 401l39-12-20-22-38 13zm1361-436l27-8-24-16-27 9zm-1419 427l39-12-20-22-38 12zm1422-451l27-8-24-16-26 9zm-1480 442l39-13-19-21-39 12zm1456-457l53-16-23-15-53 16zm-1514 448l78-24-19-21-78 24zm1518-472l52-16-23-15-52 16zm-1537 450l39-12-18-21-39 12zm1540-473l26-8-23-15-26 8zm-1597 464l39-12-18-21-39 11zm1600-487l26-8-23-14-25 7zm-1657 477l39-12-17-20-40 11zm1634-491l52-15-23-15-51 16zm-1652 470l40-11-18-21-39 12zm1656-493l25-7-22-15-25 8zm-1712 484l39-11-17-21-39 12zm1715-506l25-7-22-14-25 8zm-1732 486l39-12-17-20-39 11zm1710-499l25-8-22-14-25 8zm-1766 490l39-12-16-20-39 11zm1769-512l25-7-21-13-25 7zm-1785 491l39-11-16-20-39 11zm1764-504l25-7-22-14-25 7zm-1820 496l79-22-16-20-78 22zm1798-510l25-7-21-13-25 7zm-1813 490l39-11-16-20-39 11zm1817-510l25-7-22-13-24 7zm-1833 490l39-11-15-19-39 11zm1812-503l24-7-21-13-24 7zm-1827 484l39-11-15-19-39 10zm1806-497l24-7-20-13-25 7zm-1821 479l39-10-15-19-39 10zm1800-492l49-13-21-13-49 13zm4-20l24-6-20-13-24 7zm-20-12l24-7-20-12-25 6zm-21-13l25-6-20-12-25 6zm-20-12l25-6-20-12-24 6zm-19-12l24-6-20-12-24 6zm-20-12l24-6-19-12-24 6zm-19-12l24-6-20-12-24 6zm-20-12l24-6-19-12-24 6zm-19-12l24-6-19-11-24 6zm-19-11l24-6-19-12-23 6zm-1781 424l37-10-13-16-37 9zm1738-430l48-12-18-11-48 12zm-1751 411l36-9-13-16-36 9zm1733-423l24-5-18-12-24 6zm-1746 407l36-9-13-16-36 8zm1728-418l24-6-19-11-24 6zm-1741 401l36-8-12-16-37 8zm1722-412l24-6-18-11-24 6zm-1735 397l73-17-13-16-72 17zm1693-403l24-5-17-11-25 5zm-1669 378l36-9-13-15-35 8zm1651-389l25-5-18-11-24 5zm-1663 373l35-8-12-16-36 9zm1646-384l24-5-18-11-24 5zm-1623 360l35-8-12-15-36 8zm1581-365l24-6-17-11-24 6zm-1594 350l36-8-13-15-35 8zm1577-361l24-6-17-10-24 5zm-1554 338l35-8-12-14-35 7zm1513-344l24-5-17-11-24 6zm-1525 329l35-7-13-15-34 8zm1484-333l48-11-17-11-48 11zm-1462 311l35-8-12-14-35 8zm1445-323l24-5-17-11-24 6zm-1422 301l33-7-12-14-34 7zm1381-306l24-5-16-11-24 5zm-1394 293l68-15-13-14-67 15zm1353-298l49-11-16-10-49 10zm-1331 276l33-8-12-13-33 7zm1291-281l48-10-16-11-48 11zm-1270 260l33-7-12-14-33 7zm1254-271l24-5-16-11-24 6zm-1233 250l33-7-12-13-33 7zm1192-255l25-5-16-11-24 5zm-1171 235l32-7-12-13-32 7zm1106-235l50-10-16-10-49 10zm-1086 215l63-13-12-13-63 13zm1046-220l50-11-16-10-49 10zm-1026 201l63-14-13-12-62 13zm986-206l25-6-15-10-25 5zm-936 180l62-13-12-12-62 13zm871-180l50-11-15-10-50 10zm-852 162l92-19-13-12-91 18zm786-162l51-11-15-10-50 10zm-737 137l90-19-13-11-89 18zm671-137l77-16-14-10-77 15zm-623 113l117-24-12-12-117 24zm531-108l78-16-14-10-78 16zm-455 78l441-88-14-11-440 88zm-393 471l37-9-1-2-36 9zm2121-36l-23-15 0-2 23 15z" fill="#700000" stroke="#700000" stroke-width="2.80" stroke-linejoin="round"/>
<path d="M5388 1379l30-9m0-2l30-10m0-2l30-9m0-3l29-9" fill="none" stroke="#007080" stroke-width="3.60" stroke-dasharray="6.0 8.0"/>
<path d="M5410 1388l30-10m0-2l30-9m0-2l30-10m7-24l30-9" fill="none" stroke="#05807b" stroke-width="3.60" stroke-dasharray="6.0 8.0"/>
<path d="M5431 1396l31-9m0-2l30-10m0-2l30-9m-22-12l29-9m0-3l30-9" fill="none" stroke="#1a8066" stroke-width="3.60" stroke-dasharray="6.0 8.0"/>
<path d="M5454 1405l30-10m0-2l30-9m8-23l30-10m0-3l29-9m-22-12l29-9m0-4l29-9" fill="none" stroke="#2f8051" stroke-width="3.60" stroke-dasharray="6.0 8.0"/>
<path d="M4453 1350l-16-17m1039 81l31-10m0-2l30-10m-23-10l30-10m1-3l29-9m0-3l30-10m-22-12l29-9m0-4l29-9" fill="none" stroke="#44803c" stroke-width="3.60" stroke-dasharray="6.0 8.0"/>
<path d="M4433 1368l-16-18m0 2l-16-18m1 1l-16-17m0 1l-16-18m0 1l-15-17m0 0l-15-17m1159 154l31-10m7-22l30-10m0-2l30-10m0-3l30-10m-23-11l29-10m1-4l29-9m-23-13l29-9m0-5l29-9" fill="none" stroke="#598027" stroke-width="3.60" stroke-dasharray="6.0 8.0"/>
<path d="M4398 1369l-16-17m0 1l-16-18m0 2l-16-18m0 1l-15-17m0 0l-15-17m0 0l-15-17m0 0l-15-17m0-1l-15-16m1255 175l30-9m0-3l30-9m1-3l29-10m7-24l30-10m0-3l29-10m-23-12l29-9" fill="none" stroke="#6e8012" stroke-width="3.60" stroke-dasharray="6.0 8.0"/>
<path d="M4361 1371l-15-18m0 1l-16-17m0 1l-15-18m0 1l-16-17m0 0l-15-17m0 0l-15-17m0 0l-15-17m0-1l-14-17m0-1l-15-16m0-2l-14-16m1311 231l31-10m0-2l30-10m1-2l30-10m0-3l30-10m-23-11l29-9m1-4l29-9m7-26l28-9m-22-13l28-9m1-5l28-9" fill="none" stroke="#807d00" stroke-width="3.60" stroke-dasharray="6.0 8.0"/>
<path d="M4325 1372l-16-18m0 2l-15-18m0 1l-16-18m0 1l-15-17m0 0l-15-17m0 0l-14-17m-1-1l-14-16m0-1l-15-17m0-1l-14-16m0-2l-14-16m1370 238l30-10m1-2l30-10m0-2l31-10m6-23l30-10m0-4l30-9m-23-12l29-10m0-4l29-9m-23-13l29-9m0-5l29-9" fill="none" stroke="#806900" stroke-width="3.60" stroke-dasharray="6.0 8.0"/>
<path d="M4288 1374l-16-18m0 1l-15-18m0 1l-15-17m0 0l-15-17m0 0l-15-17m0 0l-15-17m0-1l-14-17m0 0l-15-17m0-1l-14-17m0-1l-14-16m35-3l-14-16m1408 265l31-10m1-2l30-10m7-23l30-10m0-3l30-10m6-25l30-10m0-4l29-9m-23-13l28-9m1-5l28-9m-23-14l28-9" fill="none" stroke="#805500" stroke-width="3.60" stroke-dasharray="6.0 8.0"/>
<path d="M4251 1375l-16-18m0 1l-15-18m0 1l-15-17m0 0l-15-17m0 0l-15-17m0 0l-14-18m0 0l-15-17m0-1l-14-16m0-2l-14-16m22-20l-14-16m0-2l-14-16m0-3l-14-15m1496 309l31-11m6-22l31-11m0-2l30-10m1-3l30-10m-24-11l29-10m1-4l29-9m6-27l29-9m5-27l28-10m-23-13l28-9" fill="none" stroke="#804200" stroke-width="3.60" stroke-dasharray="6.0 8.0"/>
<path d="M4198 1359l-16-18m1 1l-15-17m0 0l-15-17m0 0l-15-18m0 0l-14-17m0 0l-14-17m0-1l-15-17m0-1l-14-17m37-2l-14-16m0-2l-14-16m0-2l-14-16m0-2l-13-16m1562 296l31-10m0-2l30-10m1-3l30-10m6-24l30-10m0-4l30-9m-25-12l30-10m0-4l29-10m-24-13l29-9m0-5l29-10m-24-13l28-9" fill="none" stroke="#802e00" stroke-width="3.60" stroke-dasharray="6.0 8.0"/>
<path d="M4145 1343l-15-18m0 1l-15-18m0 1l-14-18m0 0l-14-17m0-1l-15-17m0-1l-14-16m155 137l-16-18m-116-139l-13-16m-1-2l-13-16m0-2l-14-17m0-2l-13-16m35-3l-13-15m1569 335l31-10m1-2l30-10m1-3l30-10m6-24l30-10m1-3l30-10m5-25l29-10m1-4l29-10m-24-13l28-9m5-28l29-9m-24-14l28-9" fill="none" stroke="#801a00" stroke-width="3.60" stroke-dasharray="6.0 8.0"/>
<path d="M4092 1327l-15-18m0 0l-14-17m0 0l-14-18m0 0l-14-17m140 121l-16-19m1 2l-15-19m-87-104l-13-17m-1-2l-13-16m0-2l-14-16m0-2l-13-16m-1-2l-13-16m36-3l-13-16m0-3l-13-15" fill="none" stroke="#800700" stroke-width="3.60" stroke-dasharray="6.0 8.0"/>
<path d="M4136 1379l-15-19m0 2l-15-19m0 1l-14-18m-57-70l-14-17m0-1l-14-17m0-1l-13-17m-1-1l-13-17m0-2l-13-16m23-21l-13-16m0-3l-13-15" fill="none" stroke="#700000" stroke-width="3.60" stroke-dasharray="6.0 8.0"/>
<path d="M4097 1380l-15-19m0 2l-14-19m0 1l-15-18m0 1l-14-18m0 0l-14-18m0 0l-14-17m0-1l-14-17m0-1l-14-17m0-1l-13-17m-1-1l-13-17m0-2l-13-16m-1-2l-13-16m37-2l-13-16m0-3l-13-16m0-3l-13-15m36-3l-12-16m-1-3l-12-15" fill="none" stroke="#580000" stroke-width="3.60" stroke-dasharray="6.0 8.0"/>
<path d="M5312 1148l-18-14m0 0l-19-14m0 0l-18-14" fill="none" stroke="#000084" stroke-width="3.00"/>
<path d="M4714 1114l30-8m0 2l29-7m200-48l28-8m0-1l27-7m362 224l-20-16m-11-32l-19-15m-179-144l-17-13m0-3l-17-14m-27 8l27-7" fill="none" stroke="#0000a2" stroke-width="3.00"/>
<path d="M5410 1272l-20-16m-263-235l27-7" fill="none" stroke="#000ab6" stroke-width="3.00"/>
<path d="M5208 984l26-7" fill="none" stroke="#0046b6" stroke-width="3.00"/>
<path d="M4531 1136l31-8m673-157l26-7" fill="none" stroke="#0064b6" stroke-width="3.00"/>
<path d="M4500 1138l31-8m730-172l26-7" fill="none" stroke="#0082b6" stroke-width="3.00"/>
<path d="M4468 1140l32-8m530-220l-16-13" fill="none" stroke="#00a0b6" stroke-width="3.00"/>
<path d="M5536 1328l-21-16m-501-419l-16-12m273 47l25-7" fill="none" stroke="#07b6af" stroke-width="3.00"/>
<path d="M4389 1126l32-8m1137 219l-21-17m-539-446l-15-12m314 52l25-6" fill="none" stroke="#25b691" stroke-width="3.00"/>
<path d="M4324 1129l32-8m1 6l32-8m1192 227l-22-17m-236-429l25-6" fill="none" stroke="#43b673" stroke-width="3.00"/>
<path d="M4994 826l-15-11" fill="none" stroke="#61b655" stroke-width="3.00"/>
<path d="M4276 1111l33-8m1023-232l25-7" fill="none" stroke="#7fb638" stroke-width="3.00"/>
<path d="M4243 1113l33-8m703-297l-15-12m394 61l25-7" fill="none" stroke="#9db61a" stroke-width="3.00"/>
<path d="M4209 1114l34-8m1436 252l-22-17" fill="none" stroke="#b6b200" stroke-width="3.00"/>
<path d="M4162 1096l33-8m1508 278l-23-17m-705-588l-15-11m406 77l25-6" fill="none" stroke="#b69600" stroke-width="3.00"/>
<path d="M4127 1097l34-8m1566 285l-23-17m-744-615l-15-11m447 82l25-6" fill="none" stroke="#b67a00" stroke-width="3.00"/>
<path d="M4093 1098l34-8m1625 293l-24-18m-783-641l-15-11" fill="none" stroke="#b65e00" stroke-width="3.00"/>
<path d="M5400 784l25-6" fill="none" stroke="#b64200" stroke-width="3.00"/>
<path d="M4045 1079l34-8m1698 320l-24-18m-797-677l-15-10m484 84l25-6" fill="none" stroke="#b62600" stroke-width="3.00"/>
<path d="M4009 1080l35-8m897-394l-15-11m525 89l24-5" fill="none" stroke="#b60900" stroke-width="3.00"/>
<path d="M3974 1081l35-9m918-412l-15-11" fill="none" stroke="#a00000" stroke-width="3.00"/>
<path d="M3938 1081l35-8m1885 321l-25-18m-375-648l25-6" fill="none" stroke="#7d0000" stroke-width="3.00"/>
<path d="M3913 1043l34-8m741-388l26-5m198 0l-14-11m469 52l-17-10m-24 5l24-5" fill="none" stroke="#5b0000" stroke-width="3.00"/>
<path d="M5330 1162l-18-15m-54-42l-18-14" fill="none" stroke="#000084" stroke-width="4.00"/>
<path d="M4758 1085l29-8m0 2l29-7m0 1l28-8m0 1l29-7m0 0l28-7m0-1l28-7m0 0l28-8m72-1l27-7m342 209l-19-15m0 3l-20-15m-10-35l-19-14m-90-71l-18-14m0-1l-17-14m0-2l-17-13" fill="none" stroke="#0000a2" stroke-width="4.00"/>
<path d="M4654 1123l30-8m1 3l29-7m14-21l30-7m298-58l27-7m44 3l-17-13m-27 6l27-7" fill="none" stroke="#000ab6" stroke-width="4.00"/>
<path d="M4624 1126l30-7m776 163l-20-16m-300-263l-16-13m0-5l-16-12m32 30l27-7m17 13l27-7m-44-10l27-7m17 12l27-7" fill="none" stroke="#0028b6" stroke-width="4.00"/>
<path d="M4563 1133l30-8m0 5l31-8m-46-11l31-8m842 189l-21-16m-352-309l-17-12m103 25l27-7" fill="none" stroke="#0046b6" stroke-width="4.00"/>
<path d="M4547 1114l31-8m894 195l-21-16m-389-336l-17-13m146 31l26-7" fill="none" stroke="#0064b6" stroke-width="4.00"/>
<path d="M4485 1119l31-7m0 5l31-8m946 202l-21-17m-426-364l-16-12m188 36l26-6" fill="none" stroke="#0082b6" stroke-width="4.00"/>
<path d="M4453 1122l32-8m1029 206l-21-17m50 3l-21-16m-450-370l-16-13m0-6l-15-12m203 52l26-6m-43-11l26-6" fill="none" stroke="#00a0b6" stroke-width="4.00"/>
<path d="M4421 1124l32-8m-46-11l31-8m1 6l31-8m1095 220l-21-16m-503-416l-16-13m229 41l25-6" fill="none" stroke="#07b6af" stroke-width="4.00"/>
<path d="M4375 1107l32-8m1180 225l-21-17m-541-443l-16-12m271 46l26-7" fill="none" stroke="#25b691" stroke-width="4.00"/>
<path d="M4342 1108l32-7m1236 231l-22-16m-578-471l-16-12m57 20l-15-11" fill="none" stroke="#43b673" stroke-width="4.00"/>
<path d="M4310 1110l32-8m-14-12l32-8m1273 259l-22-17m-575-489l-16-12m286 61l25-6m-42-10l26-6" fill="none" stroke="#61b655" stroke-width="4.00"/>
<path d="M4262 1093l33-8m0 6l33-8m692-267l-15-11m310 50l25-7" fill="none" stroke="#7fb638" stroke-width="4.00"/>
<path d="M4229 1094l33-8m1394 263l-22-17m51 4l-22-17m-658-521l-15-12m351 55l25-6" fill="none" stroke="#9db61a" stroke-width="4.00"/>
<path d="M4196 1095l33-8m-14-12l33-8m1461 277l-23-17m-696-548l-15-11m56 20l-15-12m308 49l25-6" fill="none" stroke="#b6b200" stroke-width="4.00"/>
<path d="M4182 1076l33-8m1518 284l-23-17m-694-566l-15-11m348 54l25-6" fill="none" stroke="#b69600" stroke-width="4.00"/>
<path d="M4148 1077l33-8m-47-11l34-8m833-299l-15-11m347 56l25-6m17 8l25-6" fill="none" stroke="#b67a00" stroke-width="4.00"/>
<path d="M4114 1078l33-8m-47-11l34-8m1623 310l-23-18m-748-610l-15-11m387 60l25-6" fill="none" stroke="#b65e00" stroke-width="4.00"/>
<path d="M4079 1079l34-8m-47-11l34-8m1682 317l-24-17m53 3l-23-17m-817-623l-15-11m55 19l-15-11m387 57l25-6" fill="none" stroke="#b64200" stroke-width="4.00"/>
<path d="M4031 1061l34-8m1742 324l-24-17m-787-655l-15-11m386 59l24-6m17 8l25-6" fill="none" stroke="#b62600" stroke-width="4.00"/>
<path d="M3996 1061l35-8m-13-11l34-8m1780 352l-24-18m28-5l-23-17m-831-659l-15-11m40 1l-15-10m400 73l24-6" fill="none" stroke="#b60900" stroke-width="4.00"/>
<path d="M3961 1062l35-8m-13-12l35-8m1844 338l-24-18m-871-685l-15-11m482 83l24-5m-41-10l24-5" fill="none" stroke="#a00000" stroke-width="4.00"/>
<path d="M3925 1062l35-8m-12-11l35-8m1905 345l-25-18m-911-711l-14-11m54 19l-15-10m423 62l24-6m18 8l24-6" fill="none" stroke="#7d0000" stroke-width="4.00"/>
<path d="M4357 714l28-6m487-72l26-5m80 11l-15-11m-25 5l25-5m873 242l-20-13m-78-48l-19-12" fill="none" stroke="#5b0000" stroke-width="4.00"/>
<path d="M4957 1035l28-7m0-2l27-7m375 182l-19-15m0 2l-19-15m-10-37l-18-14m0 0l-18-14m0 0l-18-14m0-1l-18-14m0-1l-18-13" fill="none" stroke="#00007d" stroke-width="4.00"/>
<path d="M4669 1100l30-8m0 3l29-7m-15-16l29-8m0 2l29-7m0 2l29-8m0 1l29-7m0 1l28-7m0 0l28-7m0-1l28-7m99-9l28-7m0-3l27-7m351 248l-19-15m8-20l-19-15m-200-155l-17-13m0-4l-17-13" fill="none" stroke="#00088c" stroke-width="4.00"/>
<path d="M4639 1104l30-8m-15-15l30-7m0 3l29-8m725 190l-20-16m-351-246l27-7m60 19l-17-13m0-4l-16-13m-27 7l27-7" fill="none" stroke="#001f8c" stroke-width="4.00"/>
<path d="M4609 1108l30-8m-45-11l30-8m0 4l30-7m825 201l-20-16m0 6l-20-16m-318-279l-17-13m17 13l27-6" fill="none" stroke="#00368c" stroke-width="4.00"/>
<path d="M4533 1095l30-7m0 4l31-7m906 203l-20-16m-375-316l-17-12m60 18l26-6" fill="none" stroke="#004d8c" stroke-width="4.00"/>
<path d="M4502 1098l30-8m990 207l-21-16m-413-343l-16-12m43 1l-16-13m75 36l27-7m-43-10l26-7" fill="none" stroke="#00648c" stroke-width="4.00"/>
<path d="M4470 1101l31-8m-14-14l30-8m1034 213l-21-16m-431-359l-16-13m118 41l26-6m-43-11l26-6" fill="none" stroke="#007b8c" stroke-width="4.00"/>
<path d="M4424 1084l31-8m1 6l31-8m1085 219l-21-16m-468-387l-16-12m144 30l26-7" fill="none" stroke="#058c87" stroke-width="4.00"/>
<path d="M4392 1086l32-8m1170 224l-21-17m-506-413l-16-12m58 19l-16-12m144 28l26-7" fill="none" stroke="#1c8c70" stroke-width="4.00"/>
<path d="M4360 1088l32-8m-14-13l31-8m1208 251l-22-16m-501-433l-16-12m142 29l26-7m17 10l26-6" fill="none" stroke="#338c59" stroke-width="4.00"/>
<path d="M4314 1071l32-8m0 6l32-8m1261 258l-22-17m-539-459l-16-12m184 34l26-6" fill="none" stroke="#4b8c42" stroke-width="4.00"/>
<path d="M4281 1072l32-8m-13-13l31-7m1331 283l-22-16m28-6l-22-16m-584-465l-16-11m42 1l-16-12m158 46l26-6m16 10l26-6" fill="none" stroke="#628c2b" stroke-width="4.00"/>
<path d="M4248 1074l33-8m-14-13l32-8m1392 268l-22-16m-622-491l-16-11m42 1l-16-12m199 51l25-6m17 9l25-6" fill="none" stroke="#798c14" stroke-width="4.00"/>
<path d="M4234 1055l33-8m-46-12l32-7m1462 294l-23-17m-635-528l-15-11m240 56l25-6m-42-10l25-6" fill="none" stroke="#8c8900" stroke-width="4.00"/>
<path d="M4168 1057l33-8m0 7l33-8m-46-11l32-8m1518 301l-22-17m-674-554l-16-11m57 19l-16-11m240 53l25-6m-41-10l25-6" fill="none" stroke="#8c7400" stroke-width="4.00"/>
<path d="M4154 1038l33-8m1575 309l-23-17m29-6l-23-17m-677-550l-16-11m264 42l25-6" fill="none" stroke="#8c5e00" stroke-width="4.00"/>
<path d="M4121 1039l33-8m-13-12l33-8m1613 336l-24-17m29-6l-23-17m-742-566l-16-11m41 1l-15-11m263 44l24-6" fill="none" stroke="#8c4800" stroke-width="4.00"/>
<path d="M4087 1040l33-8m-13-12l33-8m1676 321l-23-17m-756-603l-15-11m56 18l-16-10m279 56l25-5m-41-10l25-6" fill="none" stroke="#8c3300" stroke-width="4.00"/>
<path d="M4053 1041l33-8m-46-11l33-8m1 7l33-8m1734 328l-24-17m-795-629l-15-11m56 19l-16-11m262 43l24-6m17 9l25-6" fill="none" stroke="#8c1d00" stroke-width="4.00"/>
<path d="M4005 1023l34-8m-13-12l34-8m1806 354l-24-17m-794-647l-16-11m302 48l24-6" fill="none" stroke="#8c0700" stroke-width="4.00"/>
<path d="M3970 1023l34-8m-12-12l34-7m1866 361l-25-17m29-5l-25-18m-838-650l-15-10m55 18l-15-11m317 60l24-5m-40-10l24-6" fill="none" stroke="#7b0000" stroke-width="4.00"/>
<path d="M3935 1023l35-7m-12-12l34-8m1929 347l-24-18m-879-675l-15-11m55 18l-15-10m299 46l25-5m16 8l25-6" fill="none" stroke="#600000" stroke-width="4.00"/>
<path d="M4157 797l31-6m17-18l30-6m1682 598l-24-17m-810-701l-15-10m-25 5l25-5m942 460l-23-14m-171-222l-20-13m-39-24l-19-12" fill="none" stroke="#460000" stroke-width="4.00"/>
<path d="M5377 1163l-19-15m0 1l-19-14" fill="none" stroke="#00007d" stroke-width="5.00"/>
<path d="M4913 1026l28-8m0-1l28-7m458 214l-20-15m-158-146l-17-14m0-2l-17-13" fill="none" stroke="#00088c" stroke-width="5.00"/>
<path d="M5467 1245l-20-15m-1 5l-19-15" fill="none" stroke="#001f8c" stroke-width="5.00"/>
<path d="M5487 1256l-20-16m-303-260l-16-13" fill="none" stroke="#00368c" stroke-width="5.00"/>
<path d="M4548 1073l31-7m929 199l-20-15m-340-287l-17-13" fill="none" stroke="#004d8c" stroke-width="5.00"/>
<path d="M4518 1076l30-7m981 206l-20-16m-378-314l-16-13m16 13l27-7" fill="none" stroke="#00648c" stroke-width="5.00"/>
<path d="M4441 1062l31-7m653-158l-16-12m59 18l26-6" fill="none" stroke="#058c87" stroke-width="5.00"/>
<path d="M4410 1065l31-8m1182 231l-21-16m-408-382l26-6" fill="none" stroke="#1c8c70" stroke-width="5.00"/>
<path d="M4364 1048l31-8" fill="none" stroke="#338c59" stroke-width="5.00"/>
<path d="M4332 1050l31-8m1283 254l-22-16m-504-430l-16-12m0-6l-16-12m116 41l26-6" fill="none" stroke="#4b8c42" stroke-width="5.00"/>
<path d="M4286 1032l31-7m1403 274l-22-16m-458-464l25-6" fill="none" stroke="#798c14" stroke-width="5.00"/>
<path d="M4253 1034l32-8m1459 282l-23-17m-623-506l-15-12" fill="none" stroke="#8c8900" stroke-width="5.00"/>
<path d="M4207 1016l32-7m1010-220l25-6" fill="none" stroke="#8c7400" stroke-width="5.00"/>
<path d="M4174 1018l33-8m1067-234l25-5" fill="none" stroke="#8c5e00" stroke-width="5.00"/>
<path d="M5093 738l-15-11" fill="none" stroke="#8c4800" stroke-width="5.00"/>
<path d="M4094 1001l33-8m1718 325l-23-17m-539-554l25-5" fill="none" stroke="#8c3300" stroke-width="5.00"/>
<path d="M4060 1002l34-8" fill="none" stroke="#8c1d00" stroke-width="5.00"/>
<path d="M5870 1326l-23-17m-759-617l-15-10m219 37l25-6" fill="none" stroke="#8c0700" stroke-width="5.00"/>
<path d="M4014 983l33-7m1270-270l25-6" fill="none" stroke="#7b0000" stroke-width="5.00"/>
<path d="M3979 984l34-7" fill="none" stroke="#600000" stroke-width="5.00"/>
<path d="M5951 1328l-25-17" fill="none" stroke="#460000" stroke-width="5.00"/>
<path d="M4785 1036l28-7m0 0l28-7m0 0l29-7m0 0l28-7m0-1l27-7m44 8l27-7m0-2l27-7m412 207l-20-15m0 3l-19-14m0 2l-19-14m-162-130l-17-13m188 118l-19-14m0 1l-19-14m0 0l-18-14m0 0l-18-14m0-1l-18-13m0-1l-18-14m1-2l-18-13" fill="none" stroke="#000562" stroke-width="5.00"/>
<path d="M4668 1058l30-8m0 3l29-8m0 2l29-7m0 2l29-7m-44-12l28-8m156-16l28-7m0-2l27-7m0-3l27-6m17 15l27-7m0-3l27-7m377 238l-20-15m-237-181l-17-13m0-4l-17-13m95 50l-17-13m0-3l-17-13" fill="none" stroke="#001562" stroke-width="5.00"/>
<path d="M4609 1066l30-7m0 3l29-7m-15-17l30-7m0 2l29-7m0 2l29-7m267-50l27-7m0-4l26-6m17 14l26-7m391 271l-20-16m0 5l-20-15m-230-204l-17-13m0-4l-17-13" fill="none" stroke="#002662" stroke-width="5.00"/>
<path d="M4579 1070l30-8m-15-15l30-8m0 4l29-8m409-85l26-7m428 299l-20-16m-391-269l26-7m60 18l-17-13" fill="none" stroke="#003662" stroke-width="5.00"/>
<path d="M4534 1054l30-8m0 4l30-7m-45-12l30-7m0 3l30-7m437-89l26-6m465 326l-21-15m-428-297l27-7m-43-12l27-6m75 37l-16-13m0-5l-17-13m-26 7l26-7m60 18l-17-12" fill="none" stroke="#004662" stroke-width="5.00"/>
<path d="M4503 1057l30-8m-14-15l30-7m1009 234l-21-16m49 1l-20-15m-424-316l-17-12m-26 6l26-6m59 18l-16-13m-26 7l26-6" fill="none" stroke="#005662" stroke-width="5.00"/>
<path d="M4472 1060l31-8m-45-12l30-7m0 5l31-8m-45-12l30-7m1097 268l-21-16m-1 7l-20-16m49 2l-21-16m-504-349l26-6m59 18l-16-12m-27 6l27-6" fill="none" stroke="#04625e" stroke-width="5.00"/>
<path d="M4427 1043l30-7m-14-15l31-7m1156 251l-21-16m-457-364l-17-12m-26 7l26-7m59 18l-16-12m-26 6l26-6" fill="none" stroke="#14624e" stroke-width="5.00"/>
<path d="M4395 1045l31-7m-45-12l31-7m0 5l31-8m1209 257l-21-16m-495-389l-16-12m58 17l-16-12m-26 7l26-6m0-6l-16-12m-26 6l26-6m32 29l26-6m-42-11l26-6" fill="none" stroke="#24623e" stroke-width="5.00"/>
<path d="M4349 1028l32-7m-14-14l31-8m0 5l31-7m1246 285l-22-16m28-7l-22-16m-513-405l-16-12m58 18l-17-12m-25 6l25-6m17 12l25-7" fill="none" stroke="#34622e" stroke-width="5.00"/>
<path d="M4318 1030l31-7m-14-14l32-7m-14-15l31-7m1313 311l-22-16m28-7l-22-16m-551-432l-16-11m58 17l-16-11m-26 6l26-6m16 11l25-6m17 11l25-6" fill="none" stroke="#44621e" stroke-width="5.00"/>
<path d="M4272 1013l31-7m1 5l31-7m-45-12l31-8m0 5l32-7m1373 294l-22-16m-590-457l-16-12m58 18l-16-12m16 12l25-6m17 11l25-6" fill="none" stroke="#54620e" stroke-width="5.00"/>
<path d="M4240 1015l31-8m-13-13l32-8m-14-14l31-7m1442 320l-22-16m28-7l-22-16m-593-455l-16-11m58 17l-17-11m17 11l25-6m16 11l26-6" fill="none" stroke="#626000" stroke-width="5.00"/>
<path d="M4226 995l32-7m-14-14l32-7m1497 326l-23-16m28-7l-22-16m-632-480l-16-12m58 18l-16-12m16 12l25-6m16 11l25-6" fill="none" stroke="#625100" stroke-width="5.00"/>
<path d="M4193 997l32-7m-13-14l32-7m1553 333l-23-17m28-6l-23-17m-670-506l-16-11m57 17l-16-11m57 17l25-6m17 11l25-6" fill="none" stroke="#624200" stroke-width="5.00"/>
<path d="M4128 1000l32-8m1 6l32-7m-46-12l32-7m1 6l32-8m-45-12l31-7m1 5l31-7m1591 361l-23-17m28-6l-23-17m-669-525l-16-11m57 17l-16-11m16 11l25-6m17 11l25-6m16 10l25-6" fill="none" stroke="#623300" stroke-width="5.00"/>
<path d="M4114 980l33-7m-13-13l32-8m1684 343l-23-16m28-7l-24-16m-712-529l-16-11m57 18l-16-11m57 16l25-6m16 11l25-6" fill="none" stroke="#622300" stroke-width="5.00"/>
<path d="M4081 982l33-8m-13-13l32-7m-12-14l32-7m1722 371l-24-17m28-7l-23-16m-753-554l-15-11m56 17l-16-11m57 17l-16-11m0-6l-15-11m31 28l25-6m16 11l25-6m-41-11l25-5m32 26l25-6" fill="none" stroke="#621400" stroke-width="5.00"/>
<path d="M4047 983l33-8m-12-13l33-7m-13-13l32-7m1780 377l-24-17m28-6l-24-17m-751-573l-16-11m41 0l-16-11m57 16l24-5m32 27l25-6m-41-11l25-5" fill="none" stroke="#620500" stroke-width="5.00"/>
<path d="M4034 963l33-7m-45-12l32-7m1 6l33-7m-46-12l33-8m0 6l32-7m1818 405l-24-17m28-6l-24-17m-792-598l-15-11m40 0l-15-11m56 17l-16-11m57 16l24-6m32 26l25-5m-41-11l25-5" fill="none" stroke="#560000" stroke-width="5.00"/>
<path d="M3967 965l33-8m1 7l33-7m-46-12l33-7m-12-13l33-8m1912 388l-24-17m28-6l-24-17m-836-601l-15-10m40 0l-15-11m55 17l-15-11m96 21l25-6m32 26l25-6" fill="none" stroke="#430000" stroke-width="5.00"/>
<path d="M3945 985l34-8m109-135l32-7m162-92l29-6m74-28l29-6m247-50l27-5m92-6l26-5m1180 630l-24-17m-636-571l-16-11m-25 6l25-6m115 32l-17-10m545 301l-21-14m-390-244l-17-11m389 222l-21-13m-273-170l-18-12m194 100l-19-13m0 0l-20-12" fill="none" stroke="#310000" stroke-width="5.00"/>
<path d="M5405 1149l-19-14" fill="none" stroke="#000338" stroke-width="5.00"/>
<path d="M4769 1017l29-8m0 1l28-7m0 0l28-7" fill="none" stroke="#000c38" stroke-width="5.00"/>
<path d="M5019 942l26-7" fill="none" stroke="#001f38" stroke-width="5.00"/>
<path d="M4609 1023l29-7m580-61l-17-12" fill="none" stroke="#002838" stroke-width="5.00"/>
<path d="M5056 902l27-6m482 341l-20-15" fill="none" stroke="#003138" stroke-width="5.00"/>
<path d="M4504 1015l30-7" fill="none" stroke="#023836" stroke-width="5.00"/>
<path d="M4429 1001l30-7m1199 256l-21-16m-544-372l27-7" fill="none" stroke="#153824" stroke-width="5.00"/>
<path d="M4384 985l30-8m790-116l-16-12" fill="none" stroke="#1e381a" stroke-width="5.00"/>
<path d="M5198 814l-17-11" fill="none" stroke="#303808" stroke-width="5.00"/>
<path d="M4308 970l31-7m801-171l25-6" fill="none" stroke="#383700" stroke-width="5.00"/>
<path d="M4231 955l31-7m929-180l-16-11m-25 6l25-6" fill="none" stroke="#382600" stroke-width="5.00"/>
<path d="M5830 1264l-22-17" fill="none" stroke="#381d00" stroke-width="5.00"/>
<path d="M4153 939l32-7m1016-193l-16-11m-25 6l25-6" fill="none" stroke="#381400" stroke-width="5.00"/>
<path d="M5169 705l25-5" fill="none" stroke="#380c00" stroke-width="5.00"/>
<path d="M4108 921l32-7m1055-220l-16-11" fill="none" stroke="#380300" stroke-width="5.00"/>
<path d="M5932 1274l-23-17" fill="none" stroke="#310000" stroke-width="5.00"/>
<path d="M5204 665l24-5" fill="none" stroke="#270000" stroke-width="5.00"/>
<path d="M5424 1162l-19-15" fill="none" stroke="#000338" stroke-width="6.00"/>
<path d="M4854 996l28-7m0-1l28-7m553 204l-20-15m0 4l-19-15m27-12l-19-14m0 2l-19-14m0 1l-19-14m0 1l-18-14m0 0l-19-13m0-1l-18-13m0-1l-18-14m0-1l-18-13m1-2l-18-13" fill="none" stroke="#000c38" stroke-width="6.00"/>
<path d="M4725 1003l29-7m0 1l28-7m0 1l29-7m0 0l28-7m0-1l27-6m0-1l28-7m16 18l27-7m-43-12l27-7m16 17l27-7m0-2l28-7m511 252l-20-15m0 4l-20-15m28-10l-20-15m0 3l-19-14m-166-124l-18-13m1-3l-18-13m152 89l-19-14m0 0l-18-13m0-1l-18-14m0-1l-18-13m0-2l-17-13" fill="none" stroke="#001538" stroke-width="6.00"/>
<path d="M4638 1019l30-7m0 2l29-7m0 2l28-7m-43-13l28-7m0 1l29-7m0 1l28-6m0 0l28-7m0 0l28-7m0 0l28-7m0-1l28-6m0-2l27-6m16 17l27-7m0-2l27-7m16 16l27-7m504 272l-20-15m28-10l-20-15m0 5l-20-15m-240-178l-17-13m0-4l-17-12m301 196l-19-15m-186-133l-18-14m0-2l-17-13m0-3l-17-13" fill="none" stroke="#001f38" stroke-width="6.00"/>
<path d="M4594 1003l29-7m0 3l30-7m0 2l29-7m-15-18l28-7m0 2l29-7m0 1l28-7m0 0l28-6m0 0l28-7m0-1l28-6m0-1l27-7m43 10l27-7m0-2l27-7m16 16l27-6m0-4l27-6m514 310l-20-15m27-9l-20-15m28-11l-20-14m-1 4l-19-15m-258-193l-17-13m78 32l-18-13" fill="none" stroke="#002838" stroke-width="6.00"/>
<path d="M4534 1011l30-7m0 4l30-8m-15-16l30-7m0 2l29-7m0 2l29-7m-15-18l29-6m0 1l28-7m0 1l28-7m0 0l28-6m0 0l28-7m0 0l28-7m0-1l27-6m15 18l28-7m0-2l27-6m0-3l27-6m15 16l27-6m0-4l27-6m16 15l26-7m537 316l-20-15m-1 6l-20-16m27-9l-20-15m-315-231l-17-12m0-5l-16-12m94 49l-18-13m0-3l-17-13" fill="none" stroke="#003138" stroke-width="6.00"/>
<path d="M4520 992l30-7m0 3l29-7m-14-17l29-7m0 2l29-7m0 2l29-6m-15-19l29-6m182-21l27-6m0-2l28-7m0-2l26-6m16 16l27-6m0-4l26-6m16 15l27-6m0-4l26-7m548 355l-21-16m28-9l-21-15m-1 6l-20-15m-369-275l-17-12m76 33l-17-12m1-5l-17-12m77 32l-18-12" fill="none" stroke="#023836" stroke-width="6.00"/>
<path d="M4459 998l31-7m0 4l30-7m-15-16l30-7m0 3l30-7m-15-17l29-7m1 2l28-6m1 2l28-7m250-62l27-6m16 16l26-6m0-3l27-7m15 15l27-6m0-4l26-6m16 14l26-7m543 375l-21-16m28-8l-21-15m28-10l-21-15m-1 5l-20-15m-371-271l-17-13m77 33l-17-13m0-4l-17-12" fill="none" stroke="#0b382d" stroke-width="6.00"/>
<path d="M4445 979l30-7m0 3l30-7m-14-16l30-7m0 3l29-7m-14-17l29-7m0 3l29-7m320-56l27-6m0-3l27-7m15 16l26-6m0-4l27-7m15 14l27-6m587 378l-21-15m27-9l-21-15m-430-309l-16-12m59 17l-17-12m60 15l-17-12" fill="none" stroke="#153824" stroke-width="6.00"/>
<path d="M4415 982l30-7m-14-16l30-7m0 4l30-7m-14-17l29-7m1 3l29-6m390-93l26-6m16 15l26-6m0-4l26-6m16 14l26-6m16 13l26-6m583 398l-22-15m-561-388l26-6m563 385l-21-15m-426-330l-16-12m0-5l-17-12m76 32l-17-12" fill="none" stroke="#1e381a" stroke-width="6.00"/>
<path d="M4370 965l30-7m1 4l30-7m-14-16l30-7m0 4l30-7m-14-17l29-6m0 2l30-6m430-83l27-6m0-4l26-6m15 15l26-6m16 13l26-6m621 425l-21-16m-600-414l26-6m601 412l-21-15m27-9l-21-16m-486-348l-17-12m75 33l-16-12m0-5l-17-12m76 32l-17-12" fill="none" stroke="#273811" stroke-width="6.00"/>
<path d="M4339 968l31-8m-14-15l30-7m1 4l30-7m-14-16l30-6m0 3l30-7m-14-16l29-7m459-86l27-6m0-3l26-6m15 14l26-6m16 14l25-6m660 452l-22-16m-637-441l25-6m640 439l-22-15m-602-411l26-6m603 408l-21-15m-483-371l-16-11m75 32l-17-12m1-5l-17-11" fill="none" stroke="#303808" stroke-width="6.00"/>
<path d="M4294 950l31-7m0 5l31-7m-14-15l31-7m0 4l30-7m-14-16l30-7m0 3l30-6m500-118l26-6m15 15l26-6m15 14l26-6m0-5l26-5m677 465l-22-16m-640-437l26-6m642 435l-22-16m-521-396l-16-11m58 16l-16-12m75 32l-17-12" fill="none" stroke="#383700" stroke-width="6.00"/>
<path d="M4262 953l32-7m-14-15l31-7m0 4l31-7m-14-15l31-7m0 4l30-7m-14-16l30-7m570-110l26-6m15 14l26-6m0-5l25-5m716 492l-22-16m-678-463l25-6m681 461l-22-16m-643-433l26-6m667 439l-22-15m-1 6l-22-15m-565-398l-16-11m58 16l-17-12m75 32l-17-11m1-5l-17-12" fill="none" stroke="#382e00" stroke-width="6.00"/>
<path d="M4249 933l31-7m-13-15l30-7m1 5l30-7m-13-16l30-6m0 3l30-6m585-133l26-5m15 14l25-6m1-5l25-5m755 518l-23-16m-716-489l25-6m742 496l-22-16m-1 7l-23-15m-680-460l25-5m706 465l-22-16m-585-427l-17-11m58 15l-16-11m58 15l-17-11" fill="none" stroke="#382600" stroke-width="6.00"/>
<path d="M4185 937l32-7m0 5l32-7m-14-15l31-6m-13-15l31-7m0 4l31-7m-14-16l31-6m0 3l30-6m624-123l25-5m0-5l26-5m15 13l26-6m15 13l26-6m745 492l-23-16m-707-464l25-5m709 460l-22-15m-629-429l-16-11m57 16l-16-11m58 15l-17-12" fill="none" stroke="#381d00" stroke-width="6.00"/>
<path d="M4172 918l32-7m0 5l31-7m-13-15l31-7m-13-15l31-7m0 4l30-6m-13-16l30-7m653-124l25-5m0-5l26-5m15 13l25-5m797 540l-23-17m-758-511l25-5m784 517l-22-16m-746-489l25-6m748 487l-23-16m-627-449l-16-11m57 15l-16-11m58 15l-17-11" fill="none" stroke="#381400" stroke-width="6.00"/>
<path d="M4140 919l32-7m-13-14l31-7m1 5l31-7m-44-13l31-6m0 4l31-6m-13-16l30-6m1 4l30-7m734-147l25-5m836 566l-23-16m-797-537l25-6m824 544l-24-16m-785-516l25-5m788 513l-23-16m-749-485l25-6m-40-12l25-5m72 33l-16-11m0-6l-16-10m73 32l-16-11m57 15l-16-11" fill="none" stroke="#380c00" stroke-width="6.00"/>
<path d="M4127 900l32-7m-13-15l31-6m-13-15l31-7m1 5l31-7m-13-15l30-7m738-138l25-5m0-4l25-6m876 592l-24-16m-836-563l25-5m863 569l-23-16m-825-541l25-5m827 538l-23-16m-804-528l25-5m806 525l-23-16m-767-498l25-5m72 32l-16-11m0-5l-16-11m73 31l-16-11m58 15l-17-11" fill="none" stroke="#380300" stroke-width="6.00"/>
<path d="M4062 903l32-7m1 5l32-7m-13-14l32-6m-13-15l31-7m-12-15l30-6m1 4l30-6m779-168l26-6m15 13l25-5m15 13l25-6m867 564l-24-16m27-8l-23-15m-807-524l25-5m57 16l-16-11m-25 6l25-6m72 32l-16-11m0-5l-16-11m73 31l-16-11" fill="none" stroke="#310000" stroke-width="6.00"/>
<path d="M4029 904l33-7m-13-14l32-6m1 5l32-7m-45-13l32-6m0 5l32-7m-13-15l31-6m19-17l30-7m214-105l28-6m192-39l27-5m317-11l25-5m15 13l25-5m918 612l-24-16m-879-584l25-5m907 590l-24-16m-868-562l25-5m870 559l-24-16m-846-549l25-5m56 16l-16-10m-25 5l25-5m56 15l-16-10m73 31l-16-11m0-5l-16-11m73 30l-16-11m645 343l-21-14" fill="none" stroke="#270000" stroke-width="6.00"/>
<path d="M5083 648l25-5m899 478l-23-15m6-44l-22-15m-485-330l-17-11" fill="none" stroke="#1c0000" stroke-width="6.00"/>
<path d="M5479 1132l-19-14m-1 2l-19-14m0 2l-18-14m0 0l-19-13" fill="none" stroke="#001538" stroke-width="7.00"/>
<path d="M5498 1144l-19-14m27-13l-19-14m0 2l-19-14m0 2l-19-14m0 1l-19-14m0 0l-19-13m0-1l-18-13m0-1l-18-13m0-1l-18-13m0-2l-18-13" fill="none" stroke="#001f38" stroke-width="7.00"/>
<path d="M5546 1140l-20-14m0 3l-20-14m-167-122l-17-12m192 109l-19-14m0 1l-19-14m0 1l-19-13m0 0l-19-13m0-1l-18-13m0-1l-18-13m0-1l-18-13m0-2l-18-13" fill="none" stroke="#002838" stroke-width="7.00"/>
<path d="M5587 1162l-21-15m0 4l-20-14m27-12l-19-14m-1 2l-19-14m0 3l-20-14m-148-109l-18-13m0-2l-17-13m210 123l-19-14m0 2l-19-14m0 1l-19-14m0 1l-19-14m0 0l-18-13m0-1l-19-13m0-1l-18-13" fill="none" stroke="#003138" stroke-width="7.00"/>
<path d="M4666 924l28-7m0 1l28-7m0 1l28-7m0 0l28-7m0 0l28-7m0-1l27-6m774 288l-20-14m27-12l-20-14m0 4l-20-15m-243-173l-17-13m287 174l-20-14m0 3l-20-14m0 2l-20-14m-131-92l-18-13m0-2l-17-13m0-3l-18-12m116 56l-18-13" fill="none" stroke="#023836" stroke-width="7.00"/>
<path d="M4651 904l29-7m0 1l28-6m0 0l28-7m0 0l27-6m0-1l28-6m42 11l27-7m0-2l27-6m748 289l-20-15m27-11l-21-15m0 4l-20-14m-244-172l-17-13m0-3l-17-12m132 73l-18-13m0-1l-18-13m0-2l-18-13m0-2l-18-13" fill="none" stroke="#0b382d" stroke-width="7.00"/>
<path d="M4594 915l29-7m0 1l28-6m14-25l28-6m0 0l28-6m0-1l28-6m42 12l27-6m0-2l27-6m0-2l27-6m0-2l27-7m778 337l-20-15m-1 5l-21-15m28-11l-21-14m-319-225l-17-12m342 214l-20-14m0 3l-20-14m-225-159l-17-13m0-3l-17-12m114 58l-18-13m0-2l-18-12" fill="none" stroke="#153824" stroke-width="7.00"/>
<path d="M4522 904l29-6m0 2l29-7m0 2l28-7m0 2l29-7m0 1l28-6m84-19l27-7m0-1l27-6m0-1l27-7m0-1l27-6m0-3l27-6m15 17l27-6m773 354l-21-15m27-10l-21-15m0 5l-21-14m27-12l-21-14m0 4l-20-14m-300-213l-17-12m0-4l-17-12m112 60l-18-12m0-3l-17-12m0-3l-18-12" fill="none" stroke="#1e381a" stroke-width="7.00"/>
<path d="M4508 884l29-6m0 2l28-7m0 2l29-7m0 2l28-7m0 1l29-6m0 0l28-6m0 0l27-6m0 0l28-7m0 0l27-6m0-1l28-6m0-2l27-6m0-2l27-6m41 9l27-6m0-3l26-6m790 367l-21-15m27-11l-21-14m-1 4l-21-14m27-12l-20-14m-322-221l-18-12m96 44l-18-13m0-2l-17-12" fill="none" stroke="#273811" stroke-width="7.00"/>
<path d="M4478 889l30-7m15-22l28-6m0 1l29-6m0 1l28-6m0 0l28-6m0 1l28-7m0 0l28-6m0 0l27-6m0-1l28-6m0-1l27-6m0-1l27-6m0-2l27-6m15 17l26-6m0-2l27-6m0-3l26-6m827 395l-21-15m27-10l-22-15m6-20l-21-15m-360-246l-18-12m1-4l-17-12m94 45l-18-12m0-4l-17-12m78 28l-18-12" fill="none" stroke="#303808" stroke-width="7.00"/>
<path d="M4435 873l29-7m0 3l30-7m0 2l29-6m-14-18l28-6m0 1l29-6m0 1l28-6m0 1l28-7m0 1l28-6m0 0l28-6m0-1l27-6m0 0l27-6m0-1l28-6m0-2l26-6m42 10l27-6m0-2l26-6m41 7l27-6m822 413l-21-15m27-10l-22-15m27-10l-21-15m-1 5l-21-14m-356-270l-17-12m0-4l-17-12m95 44l-18-12m0-3l-17-12" fill="none" stroke="#383700" stroke-width="7.00"/>
<path d="M4405 876l30-6m-14-17l29-6m1 2l29-6m0 2l29-7m14-23l29-6m0 1l28-6m0 1l28-6m0 0l28-6m0 0l27-6m0 0l28-6m0-1l27-6m0-1l27-6m41 11l27-6m0-2l27-6m0-2l26-6m15 16l26-6m0-3l27-6m865 417l-22-15m27-10l-21-15m27-11l-22-14m0 4l-22-14m-417-286l-17-11m77 29l-18-12m1-4l-17-11m94 43l-18-12" fill="none" stroke="#382e00" stroke-width="7.00"/>
<path d="M4362 860l29-6m1 3l29-7m-13-17l29-6m0 2l29-6m0 2l29-6m0 1l28-6m-13-18l28-6m0 1l28-6m0 0l28-6m0 1l28-6m0 0l27-6m0-1l28-6m0 0l27-6m0-1l27-6m14 18l27-6m0-1l27-6m0-2l26-6m0-2l27-6m14 16l27-6m0-3l26-5m15 15l26-6m885 444l-22-16m-1 7l-22-15m27-10l-22-15m27-10l-22-15m-477-321l-17-11m59 14l-17-12m94 44l-18-12m0-3l-17-12" fill="none" stroke="#382600" stroke-width="7.00"/>
<path d="M4348 840l30-6m0 3l29-6m-13-18l29-6m0 2l29-6m0 2l29-6m0 2l28-7m43-28l28-6m0 0l28-6m0 0l27-6m0 0l28-6m68 5l27-6m0-2l26-5m0-2l27-6m41 8l26-5m0-3l26-6m15 15l26-5m0-4l26-6m902 456l-23-15m0 6l-22-15m26-10l-21-15m26-11l-21-14m-1 5l-22-15m-457-308l-17-12m0-4l-16-11m92 44l-17-11m0-4l-17-11m94 43l-18-12m1-3l-18-12" fill="none" stroke="#381d00" stroke-width="7.00"/>
<path d="M4318 844l30-7m-13-16l29-7m1 3l29-6m16-21l28-6m1 1l28-6m0 2l29-6m0 1l28-6m0 1l28-6m111-24l27-5m0-1l27-6m0-1l26-6m0-2l27-5m0-2l27-6m14 17l26-6m0-2l26-6m0-3l26-6m15 16l26-6m0-3l26-6m940 483l-22-16m3-18l-22-15m27-10l-22-15m-477-341l-17-11m76 29l-17-12m0-4l-17-11" fill="none" stroke="#381400" stroke-width="7.00"/>
<path d="M4275 827l30-6m0 3l30-6m-14-17l30-6m0 3l29-7m0 3l30-6m-14-18l29-6m0 2l29-6m0 1l28-6m0 2l28-6m0 0l28-5m0 0l28-6m0 1l28-6m0 0l27-6m0 0l28-6m0-1l27-5m0-1l27-6m0-1l26-6m0-2l27-5m41 9l26-6m0-2l26-6m40 7l26-5m0-4l26-5m15 14l25-5m939 500l-23-15m27-9l-23-15m-1 6l-22-15m27-10l-22-15m26-10l-22-15m-520-340l-17-11m0-5l-17-11m75 29l-17-11m94 42l-18-11m1-3l-18-12" fill="none" stroke="#380c00" stroke-width="7.00"/>
<path d="M4244 830l31-6m-13-16l29-7m1 3l29-6m-13-17l30-6m0 3l29-6m0 2l29-6m16-22l28-6m0 2l29-6m0 1l28-6m0 1l28-6m0 1l28-6m0 0l27-6m0 0l27-5m0-1l28-5m0-1l27-6m0-1l27-5m0-1l26-6m41 10l26-6m0-2l27-5m0-3l26-5m14 15l26-5m0-3l26-6m40 6l26-5m981 503l-23-16m27-9l-23-15m-1 6l-22-15m26-10l-22-15m-518-363l-17-11m0-4l-17-11m92 44l-17-12m0-4l-17-11m77 28l-18-12" fill="none" stroke="#380300" stroke-width="7.00"/>
<path d="M4201 813l30-6m0 3l30-6m-13-16l30-6m0 3l30-6m17-21l29-6m0 3l29-6m0 2l29-6m15-23l28-5m0 1l28-6m0 1l28-6m0 0l28-5m0 0l27-6m0 0l28-5m0-1l27-5m0-1l27-6m0-1l27-5m40 10l27-5m0-2l26-5m0-3l26-5m41 8l26-5m0-4l25-5m15 15l26-5m0-4l25-5m15 13l25-5m980 521l-23-15m27-9l-23-16m3-18l-23-15m-575-403l-16-11m75 29l-17-11m75 28l-17-11m0-4l-17-11" fill="none" stroke="#310000" stroke-width="7.00"/>
<path d="M4139 818l30-7m19-18l30-6m0 4l30-6m-13-17l30-6m0 3l30-6m0 3l29-6m-13-17l30-6m0 2l29-6m0 2l28-6m0 2l29-6m15-23l28-5m0 0l28-5m0 0l27-6m0 1l28-6m0 0l27-6m0 0l27-5m0-1l27-5m41 11l26-6m0-1l27-6m0-2l26-5m0-2l26-5m14 16l26-6m0-3l26-5m0-3l26-5m14 15l26-6m0-3l26-5m14 14l26-6m1018 548l-23-16m27-9l-24-15m27-10l-23-15m-1 7l-23-15m27-10l-23-15m-560-384l-17-11m0-5l-16-11m74 29l-17-11m76 27l-17-11m410 212l-21-13m-233-146l-19-11" fill="none" stroke="#270000" stroke-width="7.00"/>
<path d="M5549 1046l-20-13m0 0l-19-13m0 0l-18-13m0 0l-19-13" fill="none" stroke="#023836" stroke-width="8.00"/>
<path d="M5608 1082l-20-14m0 2l-20-13m0 1l-19-13" fill="none" stroke="#0b382d" stroke-width="8.00"/>
<path d="M5635 1066l-20-14m0 2l-20-13m0 1l-20-13m0 1l-19-13m0 1l-19-14m0 1l-19-13m0-1l-18-13m0 0l-19-13m0-1l-18-13" fill="none" stroke="#153824" stroke-width="8.00"/>
<path d="M5675 1088l-20-14m0 3l-20-14m6-25l-19-13m0 2l-20-14m0 1l-19-13m0 1l-19-13m-1 0l-18-13m0 0l-19-13m0-1l-19-12m0-1l-18-13m0-1l-18-13m0-2l-18-12" fill="none" stroke="#1e381a" stroke-width="8.00"/>
<path d="M5696 1099l-20-14m27-13l-21-14m0 3l-20-14m0 3l-20-14m6-25l-19-14m0 1l-20-13m0 1l-19-13m0 0l-19-13m0 0l-19-13m0 0l-19-13m0-1l-18-12m0-2l-18-12" fill="none" stroke="#273811" stroke-width="8.00"/>
<path d="M5745 1093l-21-14m-1 4l-20-14m6-24l-20-14m-1 3l-20-14m0 2l-20-13m-151-104l-18-12m0-2l-18-12m174 91l-19-13m0 1l-19-13m0 0l-19-13m0-1l-19-12" fill="none" stroke="#303808" stroke-width="8.00"/>
<path d="M5766 1103l-21-14m5-22l-20-14m-1 3l-20-14m6-24l-20-14m0 2l-20-13m0 1l-20-13m0 1l-20-13m-76-51l-18-12m0-2l-18-12m0-2l-18-12m0-2l-18-12" fill="none" stroke="#383700" stroke-width="8.00"/>
<path d="M5793 1087l-21-14m0 4l-21-14m26-13l-20-13m-1 3l-20-14m-1 3l-20-14m-228-153l-18-12m252 140l-20-13m0 1l-20-13m0 1l-19-13m0 1l-20-13m0 1l-19-13m0 0l-19-13m0 0l-19-13m0 0l-18-13m0-1l-19-12m0-2l-18-12" fill="none" stroke="#382e00" stroke-width="8.00"/>
<path d="M5815 1097l-21-14m26-12l-21-14m0 4l-21-14m5-23l-21-14m0 3l-20-14m-1 2l-20-13m-191-127l-18-12m0-2l-18-12m1-3l-18-12m250 142l-20-13m0 1l-19-12m0 0l-20-12m0 0l-19-13m0 0l-19-12m0-1l-19-12m0-1l-19-12m1-1l-19-12" fill="none" stroke="#382600" stroke-width="8.00"/>
<path d="M5842 1081l-21-14m4-22l-21-14m0 3l-21-14m6-24l-21-13m0 2l-20-13m-1 2l-20-13m-153-101l-18-12m0-2l-18-12m0-2l-18-12m194 102l-20-12m0 0l-19-13m0 0l-19-12m0 0l-19-13" fill="none" stroke="#381d00" stroke-width="8.00"/>
<path d="M5887 1100l-22-14m-1 5l-21-15m26-11l-21-14m-1 4l-21-14m26-13l-21-14m0 4l-21-14m-1 3l-20-13m-269-176l-18-12m0-3l-17-11m330 188l-21-13m0 2l-20-13m0 2l-20-13m-1 1l-19-13m-1 1l-19-12m-77-50l-19-13m0-1l-19-12m1-1l-19-12m0-2l-18-12" fill="none" stroke="#381400" stroke-width="8.00"/>
<path d="M5891 1074l-21-14m4-22l-21-13m4-24l-21-13m0 3l-21-13m-252-161l-18-12m0-2l-18-12m1-2l-18-12m290 164l-20-12m-1 1l-20-13m0 1l-19-12m-1 0l-19-12m0 0l-20-12m0 0l-19-13m0 0l-19-12m0-1l-19-12m1-1l-19-12m0-1l-19-12" fill="none" stroke="#380c00" stroke-width="8.00"/>
<path d="M5936 1093l-22-14m0 5l-22-14m26-12l-22-14m0 4l-22-14m26-12l-21-14m0 4l-21-14m-348-224l-18-11m370 211l-21-13m0 3l-20-13m-1 2l-20-13m-193-124l-19-12m0-2l-18-11m0-3l-18-11m213 113l-19-12m0 0l-20-12m0 0l-19-12m0-1l-19-12m0 0l-19-12m0-1l-19-12" fill="none" stroke="#380300" stroke-width="8.00"/>
<path d="M5960 1103l-23-15m27-11l-23-14m0 5l-22-15m26-11l-22-14m0 4l-22-14m4-23l-21-13m0 3l-21-13m-310-198l-18-11m0-3l-18-11m350 198l-20-13m-197-120l-18-11m0-2l-19-12m1-2l-19-11" fill="none" stroke="#310000" stroke-width="8.00"/>
<path d="M5987 1086l-23-14m4-21l-22-14m3-22l-21-13m-1 3l-21-13m-388-247l-18-11m431 245l-21-13m0 3l-21-14m-1 3l-20-13m-272-171l-19-12m1-2l-18-12m0-2l-18-12m210 116l-20-12m0 0l-19-12m0-1l-19-12m0-1l-19-12m0-1l-18-11m0-2l-19-12" fill="none" stroke="#270000" stroke-width="8.00"/>
<path d="M5805 914l-20-13m0 1l-20-12" fill="none" stroke="#380300" stroke-width="9.00"/>
<path d="M5846 936l-20-13m0 2l-21-13" fill="none" stroke="#310000" stroke-width="9.00"/>
<path d="M5872 920l-20-13m0 2l-21-13m0 2l-20-13m0 1l-20-12m0 0l-20-12m0 0l-19-12" fill="none" stroke="#270000" stroke-width="9.00"/>
<path d="M5121 1169l-11-8-13-7-15-7-17-5-17-5-18-3-19-2-20-1-19 0-19 2-18 3-18 4-16 5-15 6-13 7-11 8-9 8-6 10-5 9-1 10 1 10 3 10 6 10 9 9 11 9 13 8 15 7 17 6 18 5 20 3 20 2 20 1 20 0 20-2 19-3 18-5 17-5 15-7 12-7 11-9 8-9 6-9 3-10 1-10-2-10-5-10-7-9z" fill="#000086"/>
<path d="M5113 1166l-10-8-13-7-14-6-15-5-16-4-18-3-17-2-18-1-18 1-18 1-17 3-17 3-15 5-14 6-12 6-10 8-9 8-6 8-4 9-1 10 1 9 3 9 6 9 8 9 10 8 12 7 14 7 16 6 17 4 18 3 19 3 19 0 19 0 19-2 17-3 17-4 16-5 14-6 12-7 10-8 7-9 6-8 3-10 0-9-2-9-4-9-6-9z" fill="#000091"/>
<path d="M5041 1180l-4-3-5-2-6-3-6-2-6-2-7-1-7-1-8 0-7 0-7 1-7 1-6 1-6 2-6 3-5 2-4 3-3 3-2 4-2 3 0 4 0 4 2 3 2 4 3 3 4 3 5 3 6 3 6 2 7 2 7 1 7 1 7 0 8 0 7-1 7-1 7-1 6-2 5-3 5-2 4-3 3-4 2-3 2-4 0-3-1-4-1-4-3-3zM5109 1162l-10-8-12-6-14-6-14-5-16-4-17-3-17-2-17-1-18 1-17 1-16 3-16 3-15 5-13 5-12 6-10 8-8 7-6 9-3 8-2 9 1 9 3 9 6 9 8 8 9 8 12 7 14 6 15 5 16 5 18 3 18 2 18 1 18-1 18-1 17-3 17-4 14-5 14-6 11-7 10-7 7-8 6-9 2-9 1-8-2-9-4-9-6-8zM5060 1181l3 4 2 5 1 5 0 4-2 5-3 5-4 4-5 4-6 4-8 3-8 2-8 2-9 2-10 1-9 0-10-1-10-1-9-1-9-3-8-2-7-4-6-3-6-5-4-4-3-5-2-4 0-5 0-5 2-5 3-4 5-4 5-4 6-3 7-3 8-3 9-2 9-1 9-1 9 0 10 0 9 1 9 2 9 2 7 3 8 3 6 3 5 4z" fill="#00009e"/>
<path d="M5037 1176l-3-3-5-2-5-3-6-2-6-1-6-1-7-1-6 0-7 0-7 0-6 1-6 2-6 1-5 3-4 2-4 3-3 3-2 3-1 3-1 4 1 3 1 3 2 3 3 4 4 2 4 3 6 2 5 2 6 2 7 1 7 1 6 0 7 0 7 0 6-2 6-1 6-2 5-2 5-3 3-2 3-3 2-4 1-3 1-3-1-4-1-3-3-3zM5105 1157l-10-7-11-6-13-6-14-5-16-4-16-3-16-1-17-1-17 0-16 2-16 2-16 3-14 5-13 5-11 6-10 7-8 8-5 8-4 8-1 8 0 9 4 9 5 8 8 8 9 8 12 6 13 7 14 5 16 4 17 3 17 2 18 1 18-1 17-1 17-3 15-4 15-5 13-5 11-7 9-7 7-8 5-8 3-9 1-8-2-9-4-8-6-8zM5065 1174l3 5 2 5 1 5 0 5-2 5-3 5-4 5-6 4-7 4-7 3-9 3-9 2-10 2-10 1-10 0-11-1-10-1-10-2-9-2-9-3-8-4-6-4-6-4-5-5-3-5-2-5 0-5 0-5 2-5 4-5 4-4 6-4 7-4 7-3 9-3 9-2 9-1 10-1 10 0 10 0 10 1 10 2 9 2 9 3 7 4 7 3 6 5z" fill="#0000ac"/>
<path d="M5035 1171l-3-3-5-2-5-2-5-2-6-2-6-1-6 0-6-1-7 0-6 1-6 1-6 1-5 2-5 2-4 2-3 3-3 3-2 3-2 3 0 3 0 3 2 3 2 3 3 3 3 3 5 2 4 3 6 2 6 1 6 1 6 1 7 0 6 0 6-1 6-1 6-1 6-2 4-2 5-2 3-3 3-3 2-3 1-3 0-3 0-3-2-3-2-3zM5102 1152l-9-7-11-6-13-5-14-5-15-4-15-2-17-2-16-1-16 0-16 2-16 2-15 3-14 5-12 5-11 6-10 6-7 8-6 7-3 9-2 8 1 8 3 9 6 8 7 7 9 8 11 6 13 6 14 5 16 4 16 3 17 2 17 1 17 0 17-2 16-3 16-3 14-5 12-5 11-7 9-7 7-7 5-8 3-9 0-8-1-8-4-8-6-8zM5069 1168l3 5 3 5 0 6 0 5-2 5-3 5-5 5-5 5-7 4-9 3-8 3-10 2-11 2-10 1-11 0-11 0-11-2-10-1-10-3-9-3-8-4-8-4-6-5-4-5-4-5-2-5 0-6 0-5 3-5 3-5 5-5 6-4 7-4 8-3 9-3 9-2 10-2 11-1 10 0 11 1 11 1 10 2 9 2 9 3 8 4 7 4 7 4z" fill="#0000bb"/>
<path d="M5033 1166l-3-3-4-2-5-2-5-2-5-1-6-1-6-1-6 0-6 0-6 0-6 1-5 2-5 1-5 2-4 2-3 3-3 2-2 3-1 3 0 3 0 3 1 3 2 3 3 3 3 3 4 2 5 2 5 2 6 1 5 1 7 1 6 0 6 0 6 0 6-1 5-2 5-1 5-2 4-2 3-3 3-3 2-3 1-3 0-3-1-3-1-3-2-2zM5100 1148l-10-7-11-6-12-6-13-4-15-4-15-2-16-2-16-1-16 0-15 2-16 2-14 3-13 4-13 5-10 6-10 7-7 7-5 7-4 8-1 8 1 8 3 9 5 7 7 8 9 7 11 6 12 6 14 5 15 4 16 3 17 2 16 0 17 0 16-1 16-3 15-3 14-5 12-5 10-7 9-6 7-8 5-7 3-8 0-9-1-8-4-8-6-7zM5072 1162l4 5 2 5 1 6 0 6-2 5-4 5-4 5-7 5-7 4-8 4-10 3-10 2-10 2-12 1-11 0-11 0-12-2-10-2-11-2-9-4-9-3-7-5-6-5-5-5-4-5-2-6-1-5 1-6 2-5 4-5 5-5 6-5 8-4 8-3 9-3 10-2 11-2 11-1 11 0 11 0 10 2 11 1 10 3 9 3 9 4 7 4 7 5z" fill="#000bc1"/>
<path d="M5032 1161l-4-3-3-2-5-2-5-2-5-1-6-1-5-1-6 0-6 0-5 1-6 1-5 1-5 1-4 2-4 2-3 3-3 2-2 3-1 3 0 3 0 3 1 2 2 3 3 3 3 2 4 3 4 2 5 1 6 2 5 1 6 0 6 1 6-1 5 0 6-1 5-1 5-2 4-2 4-2 3-2 3-3 2-3 1-2 0-3 0-3-2-3-2-3zM5097 1143l-9-7-11-6-12-5-13-4-14-4-15-2-15-2-16-1-15 0-15 2-15 2-14 3-13 4-12 5-11 6-9 6-7 7-5 7-3 8-2 8 1 8 3 7 5 8 7 7 9 7 10 6 13 6 13 5 15 4 15 2 16 2 16 1 17 0 16-2 15-2 14-4 14-4 12-5 10-6 8-7 7-7 5-8 2-7 1-8-2-8-3-8-6-7zM5075 1155l4 6 3 6 1 5-1 6-2 6-3 5-5 6-6 4-8 5-9 4-9 3-11 2-11 2-12 1-12 0-12 0-11-1-12-3-10-2-10-4-9-4-8-4-7-5-5-6-4-5-2-6 0-6 0-6 3-5 4-6 5-5 6-5 8-4 9-3 9-3 11-3 11-1 11-1 12-1 11 1 12 1 10 2 11 3 10 3 8 4 8 4 7 5z" fill="#001cc2"/>
<path d="M5030 1155l-3-2-4-2-4-2-4-2-5-1-6-1-5 0-6-1-5 0-6 1-5 1-5 1-5 1-4 2-4 2-3 2-2 3-2 2-1 3-1 3 1 3 1 2 2 3 2 3 3 2 4 2 4 2 5 2 5 1 6 1 5 1 6 0 6 0 5-1 5 0 5-2 5-1 4-2 4-2 3-2 2-3 2-2 1-3 0-3 0-3-1-2-2-3zM5094 1138l-9-6-10-6-12-5-12-4-14-4-15-2-14-2-15-1-16 1-14 1-15 2-13 3-13 4-12 5-10 5-8 6-7 7-5 7-4 7-1 8 1 8 3 7 5 8 6 7 9 6 10 6 12 6 13 4 14 4 15 3 16 2 16 0 15 0 16-1 15-3 14-3 12-4 12-5 10-6 8-7 7-7 4-7 3-7 0-8-1-8-4-7-5-7zM5079 1149l4 6 3 6 1 6-1 6-2 6-3 5-6 6-6 5-8 4-9 4-10 4-11 2-12 2-12 1-13 1-12-1-12-1-12-3-11-2-11-4-9-4-8-5-7-5-5-6-4-6-2-6-1-6 1-6 2-6 4-5 6-6 6-4 9-5 9-3 10-4 11-2 11-2 12-1 12 0 12 1 12 1 11 2 11 3 10 3 9 4 8 5 7 5z" fill="#002ec5"/>
<path d="M5029 1150l-3-2-4-2-4-2-4-1-5-2-5-1-5 0-6 0-5 0-5 0-5 1-5 1-5 1-4 2-3 2-3 2-3 3-1 2-1 3-1 2 1 3 1 3 1 2 3 3 3 2 3 2 5 2 4 1 5 2 5 1 6 0 5 0 5 0 6 0 5-1 5-1 4-2 4-1 4-2 3-2 2-3 2-2 1-3 0-3-1-2-1-3-1-2zM5090 1133l-8-6-10-5-11-5-12-4-14-3-13-3-15-2-14 0-15 0-14 1-14 2-13 3-12 4-11 5-10 5-9 6-6 6-5 7-3 7-1 7 0 8 3 7 5 7 6 7 9 6 10 6 11 5 13 5 13 3 15 3 14 1 16 1 15 0 15-1 14-3 13-3 13-4 11-5 9-5 8-7 7-6 4-7 3-7 0-8-1-7-4-7-5-7zM5083 1143l5 6 2 6 1 6 0 6-2 7-4 6-5 5-7 6-9 4-9 5-11 3-11 3-13 2-12 1-14 0-13 0-12-2-13-2-11-3-11-4-10-4-9-5-7-6-5-6-4-6-3-6-1-6 1-7 3-6 4-6 6-5 7-5 8-5 10-4 11-3 11-3 12-1 12-2 13 0 12 1 13 1 12 2 11 3 11 4 9 4 9 5 7 5z" fill="#0042cd"/>
<path d="M5028 1145l-3-2-3-2-4-2-5-2-4-1-5-1-5 0-6 0-5 0-5 0-5 1-4 1-5 1-4 2-3 2-3 2-2 2-2 3-1 2 0 3 0 2 1 3 2 2 2 3 3 2 4 2 4 2 4 1 5 1 5 1 5 1 5 0 5 0 6-1 4 0 5-1 5-2 3-2 4-1 3-3 2-2 2-2 0-3 1-2-1-3-1-2-2-3z" fill="#0046a9"/>
<path d="M5027 1139l-3-2-3-2-4-1-4-2-5-1-5-1-4 0-5 0-5 0-5 0-5 1-5 1-4 1-4 2-3 1-3 3-2 2-2 2 0 2-1 3 1 2 1 3 1 2 2 3 3 2 4 2 3 1 5 2 4 1 5 1 5 0 5 1 5-1 5 0 5-1 5-1 4-1 4-2 3-2 3-2 2-2 1-2 1-3 0-2 0-3-1-2-2-2z" fill="#0054a8"/>
<path d="M5026 1134l-2-2-4-2-3-2-5-1-4-1-5-1-4 0-5-1-5 0-5 1-5 1-4 1-4 1-4 1-3 2-3 2-2 2-1 2-1 3-1 2 1 3 1 2 1 2 2 3 3 2 3 1 4 2 4 2 5 1 5 1 4 0 5 0 5 0 5 0 5-1 4-1 4-1 4-2 3-2 3-2 2-2 1-2 1-2 1-3-1-2-1-3-1-2z" fill="#0063a7"/>
<path d="M5025 1129l-2-2-4-2-3-2-4-1-4-1-5-1-4 0-5-1-5 0-5 1-4 0-4 1-4 2-4 1-3 2-2 2-2 2-2 2-1 2 0 3 0 2 1 2 2 2 2 2 2 2 4 2 3 2 4 1 4 1 5 1 5 1 4 0 5 0 5-1 4 0 5-1 4-2 3-1 3-2 3-2 2-2 1-2 1-2 0-3 0-2-1-2-2-2z" fill="#0071a6"/>
<path d="M5025 1123l-3-2-3-2-4-1-3-1-5-1-4-1-4-1-5 0-5 0-4 1-4 0-5 1-3 1-4 2-3 1-2 2-2 2-2 2-1 3 0 2 0 2 1 2 2 2 2 3 2 1 3 2 4 2 4 1 4 1 4 1 5 0 5 1 4 0 5-1 4-1 4 0 4-2 4-1 3-2 2-2 2-2 1-2 1-2 1-2-1-2-1-3-1-2z" fill="#007fa5"/>
<path d="M5024 1118l-3-2-3-2-3-1-4-2-4-1-4 0-4-1-5 0-4 0-5 0-4 1-4 1-4 1-3 1-3 2-2 2-2 2-2 2-1 2 0 2 0 2 1 2 2 3 2 2 2 1 3 2 4 2 3 1 4 1 5 1 4 0 5 0 4 0 5 0 4-1 4-1 4-1 3-1 3-2 2-2 2-2 2-2 0-2 1-2-1-2-1-2-1-2z" fill="#008da4"/>
<path d="M5023 1112l-2-2-3-1-4-2-3-1-4-1-4-1-4 0-5 0-4 0-4 0-4 1-4 1-4 1-3 1-3 2-2 1-2 2-2 2-1 2 0 2 0 2 1 3 2 2 2 2 2 1 3 2 3 1 4 2 4 1 4 0 4 1 5 0 4 0 4 0 5-1 3-1 4-1 3-1 3-2 3-2 1-2 2-2 1-2 0-2-1-2-1-2-1-2z" fill="#009ba3"/>
<path d="M5022 1107l-2-2-3-2-3-1-4-1-3-1-4-1-4 0-5-1-4 1-4 0-4 0-4 1-3 1-3 2-3 1-2 2-2 2-2 2 0 2-1 2 1 2 0 2 2 2 2 2 2 1 3 2 3 1 4 1 3 1 4 1 5 1 4 0 4 0 4-1 4 0 4-1 4-1 3-2 2-1 3-2 2-2 1-1 1-2 0-2 0-3-1-2-2-2z" fill="#06a39c"/>
<path d="M5022 1101l-3-2-2-1-4-1-3-2-4 0-3-1-4-1-5 0-4 0-4 1-3 0-4 1-3 1-3 1-3 2-2 1-2 2-2 2 0 2-1 2 1 2 1 2 1 2 2 2 2 1 3 2 3 1 3 1 4 1 4 1 4 0 4 1 4-1 4 0 4 0 4-1 3-1 3-2 3-1 2-2 2-1 1-2 1-2 0-2 0-2-1-2-2-2z" fill="#15a28d"/>
<path d="M5021 1096l-2-2-3-1-3-2-3-1-4-1-4 0-3-1-4 0-4 0-4 0-4 1-3 1-4 1-3 1-2 1-2 2-2 2-1 1-1 2 0 2 0 2 1 2 1 2 2 1 2 2 3 2 3 1 3 1 3 1 4 1 4 0 4 0 4 0 4 0 4-1 3-1 4-1 3-1 2-1 2-2 2-1 1-2 1-2 0-2 0-2-1-2-1-2z" fill="#23a27e"/>
<path d="M5020 1090l-2-1-3-2-3-1-3-1-3-1-4-1-3 0-4 0-4 0-4 0-3 1-4 0-3 1-3 2-2 1-2 1-2 2-1 2-1 2 0 1 0 2 1 2 1 2 2 1 2 2 2 1 3 2 4 1 3 1 4 0 3 1 4 0 4 0 4 0 3-1 4-1 3-1 3-1 2-1 2-2 2-1 1-2 1-2 0-2 0-2-1-1-1-2z" fill="#32a170"/>
<path d="M5020 1084l-2-1-3-1-3-2-3-1-3 0-4-1-3-1-4 0-4 0-4 1-3 0-3 1-3 1-3 1-3 1-2 2-1 1-2 2 0 2 0 2 0 1 1 2 1 2 1 2 2 1 3 1 3 2 3 1 3 1 4 0 4 1 3 0 4 0 4-1 3 0 4-1 3-1 3-1 2-1 2-2 2-1 1-2 0-2 1-2-1-1 0-2-2-2z" fill="#40a161"/>
<path d="M5019 1079l-2-2-3-1-2-1-3-1-4-1-3 0-3-1-4 0-4 0-3 0-4 1-3 1-3 1-2 1-3 1-2 1-1 2-1 1-1 2 0 2 0 2 1 1 1 2 1 1 2 2 3 1 3 2 3 1 3 0 3 1 4 0 3 1 4-1 4 0 3 0 3-1 3-1 3-1 2-1 2-2 2-1 1-2 1-2 0-1-1-2 0-2-1-1z" fill="#4ea153"/>
<path d="M5018 1073l-2-1-2-1-3-1-3-1-3-1-3-1-3 0-4 0-3 0-4 0-3 1-3 0-3 1-3 1-2 1-2 2-1 1-1 2-1 1 0 2 0 2 1 1 1 2 1 1 2 2 3 1 2 1 3 1 3 1 4 1 3 0 4 0 3 0 3 0 4-1 3 0 3-1 2-1 3-2 2-1 1-1 1-2 1-2 0-1 0-2-1-1-1-2z" fill="#5ca044"/>
<path d="M5018 1068l-2-2-2-1-3-1-3-1-3-1-3 0-3-1-4 0-3 0-3 1-4 0-3 1-2 1-3 1-2 1-2 1-1 2-2 1 0 2 0 1 0 2 0 1 2 2 1 1 2 2 2 1 3 1 3 1 3 1 3 1 3 0 4 0 3 0 3 0 4-1 3 0 2-1 3-1 2-2 2-1 2-1 1-2 0-1 0-2 0-2-1-1-1-2z" fill="#6ba036"/>
<path d="M5017 1062l-2-1-2-1-3-1-2-1-3-1-3 0-3-1-4 0-3 0-3 0-3 1-3 0-3 1-2 1-2 1-2 2-1 1-1 1-1 2 0 1 0 2 1 2 1 1 1 1 2 2 2 1 3 1 2 1 3 1 3 0 4 1 3 0 3 0 3-1 3 0 3-1 3-1 2-1 3-1 1-1 2-1 1-2 0-1 0-2 0-1 0-2-2-1z" fill="#79a027"/>
<path d="M5017 1057l-2-2-2-1-3-1-2-1-3 0-3-1-3 0-3 0-4 0-3 0-3 0-3 1-2 1-2 1-3 1-1 1-2 1-1 2 0 1 0 2 0 1 0 2 1 1 2 1 2 2 2 1 2 1 3 1 3 1 3 0 3 0 3 1 3-1 3 0 3 0 3-1 3-1 2-1 2-1 2-1 1-1 1-2 1-1 0-2 0-1-1-2-1-1z" fill="#87a019"/>
<path d="M5016 1051l-2-1-2-1-2-1-3-1-3-1-2 0-3-1-3 0-3 0-3 0-3 1-3 0-2 1-3 1-2 1-1 1-2 2-1 1 0 1 0 2 0 1 0 2 1 1 2 1 2 2 2 1 2 1 2 1 3 0 3 1 3 0 3 0 3 0 3 0 3-1 3 0 2-1 2-1 2-1 2-1 1-1 1-2 1-1 0-1 0-2-1-1-1-2z" fill="#96a00b"/>
<path d="M5015 1045l-1-1-2-1-3-1-2-1-3 0-2-1-3 0-3 0-3 0-3 0-3 0-2 1-3 1-2 1-2 1-2 1-1 1-1 1 0 2-1 1 1 1 0 2 1 1 2 1 1 2 2 1 2 1 3 0 3 1 2 1 3 0 3 0 3 0 3 0 3-1 2 0 3-1 2-1 2-1 2-1 1-1 1-2 0-1 0-1 0-2 0-1-1-1z" fill="#a09d00"/>
<path d="M5015 1040l-2-1-2-1-2-1-2-1-3-1-3 0-2 0-3-1-3 0-3 1-2 0-3 1-2 0-2 1-2 1-2 1-1 1-1 2 0 1 0 1 0 1 0 2 1 1 2 1 1 1 2 1 2 1 2 1 3 1 3 0 2 1 3 0 3 0 3-1 3 0 2-1 2 0 2-1 2-1 2-1 1-1 1-2 0-1 1-1-1-2 0-1-1-1z" fill="#a08f00"/>
<path d="M5014 1034l-1-1-2-1-2-1-3-1-2 0-3-1-2 0-3 0-3 0-2 0-3 0-2 1-3 1-2 0-1 1-2 1-1 2-1 1 0 1-1 1 1 2 0 1 1 1 1 1 2 1 2 1 2 1 2 1 2 1 3 0 3 0 2 0 3 0 3 0 2 0 3-1 2 0 2-1 2-1 1-1 2-1 0-2 1-1 0-1 0-1-1-2-1-1z" fill="#a08200"/>
<path d="M5013 1028l-1-1-2-1-2 0-2-1-2-1-3 0-2 0-3 0-2 0-3 0-2 0-3 1-2 0-2 1-1 1-2 1-1 1-1 1 0 1 0 1 0 2 0 1 1 1 1 1 2 1 1 1 2 1 3 1 2 0 2 1 3 0 3 0 2 0 3 0 2 0 2-1 3-1 1 0 2-1 2-1 1-1 0-2 1-1 0-1 0-1-1-1-1-1z" fill="#a17400"/>
<path d="M5013 1023l-2-1-1-1-2-1-2-1-3 0-2 0-2-1-3 0-2 0-3 0-2 1-2 0-2 1-2 1-1 0-2 1-1 1-1 1 0 1 0 2 0 1 0 1 1 1 1 1 2 1 1 1 2 1 2 0 2 1 3 0 2 1 3 0 2 0 2 0 3-1 2 0 2-1 2-1 1 0 2-1 1-1 1-2 0-1 0-1 0-1-1-1 0-1z" fill="#a16700"/>
<path d="M5012 1017l-1-1-2-1-2 0-2-1-2-1-2 0-2 0-3 0-2 0-2 0-2 0-3 1-2 0-1 1-2 1-1 1-1 1-1 1 0 1 0 1 0 1 0 1 1 1 1 1 1 1 2 1 2 1 2 0 2 1 2 0 2 0 3 1 2-1 2 0 3 0 2 0 2-1 2-1 1-1 1 0 1-1 1-1 1-2 0-1-1-1 0-1-1-1z" fill="#a15a00"/>
<path d="M5011 1011l-1 0-1-1-2-1-2-1-2 0-2 0-2-1-2 0-3 0-2 0-2 1-2 0-2 1-1 0-2 1-1 1-1 1-1 1 0 1 0 1 0 1 0 1 1 1 1 1 1 1 2 1 1 0 2 1 2 0 2 1 3 0 2 0 2 0 2 0 2 0 2-1 2 0 2-1 1-1 2-1 1-1 0-1 1-1 0-1 0-1-1-1-1-1z" fill="#a24c00"/>
<path d="M5011 1006l-2-1-1-1-2 0-1-1-2 0-2-1-2 0-2 0-2 0-2 0-2 0-2 1-2 0-2 1-1 1-1 0-1 1-1 1 0 1 0 1 0 1 0 1 1 1 1 1 1 1 2 0 1 1 2 1 2 0 2 0 2 1 2 0 2 0 2 0 2-1 2 0 2-1 1 0 2-1 1-1 1-1 0-1 1 0 0-1 0-1-1-1 0-1z" fill="#a23f00"/>
<path d="M5010 1000l-1-1-1 0-2-1-2-1-1 0-2 0-2-1-2 0-2 0-2 0-2 1-2 0-1 1-2 0-1 1-1 1-1 0-1 1 0 1 0 1 0 1 0 1 1 1 1 1 1 1 1 0 2 1 1 0 2 1 2 0 2 0 2 1 2-1 2 0 2 0 2 0 1-1 2 0 1-1 1-1 1-1 1-1 0 0 0-1 0-1 0-1-1-1z" fill="#a33100"/>
<path d="M5009 994l-1 0-1-1-1-1-2 0-2-1-1 0-2 0-2 0-2 0-2 0-1 0-2 1-2 0-1 1-1 0-1 1-1 1-1 1 0 0 0 1 0 1 0 1 1 1 1 1 1 0 1 1 1 1 2 0 2 1 2 0 1 0 2 0 2 0 2 0 2 0 1-1 2 0 1-1 2 0 1-1 0-1 1-1 0 0 0-1 0-1 0-1-1-1z" fill="#a32400"/>
<path d="M5008 989l-1-1-1 0-1-1-1 0-2-1-2 0-1 0-2 0-2 0-1 0-2 0-1 0-2 1-1 0-1 1-1 0-1 1 0 1-1 1 0 0 0 1 1 1 0 1 1 0 1 1 1 1 1 0 2 1 1 0 2 0 2 0 1 1 2 0 2-1 1 0 2 0 1-1 1 0 2-1 0 0 1-1 1-1 0 0 0-1 0-1 0-1-1-1z" fill="#a51600"/>
<path d="M5008 983l-1-1-1 0-2-1-1 0-1 0-2-1-1 0-2 0-1 0-2 0-1 1-2 0-1 0-1 1-1 0-1 1-1 0 0 1 0 1-1 0 1 1 0 1 0 1 1 0 1 1 1 0 1 1 2 0 1 1 1 0 2 0 1 0 2 0 2 0 1 0 1-1 2 0 1 0 1-1 1 0 0-1 1-1 0 0 0-1 0-1 0-1-1 0z" fill="#a60900"/>
<path d="M5007 977l-1 0-1-1-1 0-1-1-1 0-2 0-1 0-2 0-1 0-1 0-2 0-1 0-1 1-1 0-1 1-1 0-1 1 0 0 0 1 0 1 0 0 0 1 1 0 0 1 1 1 1 0 1 1 1 0 1 0 2 0 1 1 2 0 1 0 1 0 2-1 1 0 1 0 1-1 1 0 1-1 1 0 0-1 0 0 0-1 0-1 0 0-1-1z" fill="#a10000"/>
<path d="M5006 972l-1-1-1 0-1-1-1 0-1 0-1 0-1 0-1-1-2 0-1 1-1 0-1 0-1 0-1 1-1 0-1 0 0 1-1 1 0 0 0 1 0 0 1 1 0 0 0 1 1 0 1 1 1 0 1 0 1 1 1 0 1 0 2 0 1 0 1 0 1 0 1 0 1-1 1 0 1 0 1-1 0 0 1-1 0-1 0 0 0-1 0 0-1-1z" fill="#920000"/>
<path d="M5004 966l0 0-1-1-1 0 0 0-1 0-1-1-1 0-1 0-1 0-1 0-1 1-1 0-1 0-1 0 0 1-1 0 0 0-1 1 0 0 0 1 0 0 0 1 1 0 0 0 1 1 0 0 1 1 1 0 1 0 1 0 1 0 1 0 1 0 1 0 1 0 1 0 0 0 1-1 1 0 0 0 1-1 0 0 0-1 0 0 0-1 0 0 0 0z" fill="#840000"/>
<path d="M5003 961l0-1-1 0-1 0 0 0-1-1-1 0 0 0-1 0-1 0-1 0 0 0-1 0-1 1 0 0-1 0 0 0-1 1 0 0 0 0 0 1 0 0 0 0 0 1 1 0 0 0 1 1 0 0 1 0 1 0 0 0 1 1 1 0 1 0 0 0 1-1 1 0 1 0 0 0 1 0 0-1 0 0 1 0 0-1 0 0 0 0 0-1-1 0z" fill="#760000"/>
<path d="M5001 955l0 0-1 0 0 0 0 0-1-1 0 0-1 0 0 0-1 0 0 0 0 0-1 1 0 0-1 0 0 0 0 0 0 0 0 0 0 1-1 0 1 0 0 0 0 0 0 1 0 0 1 0 0 0 0 0 1 0 0 0 1 0 0 1 0 0 1-1 0 0 1 0 0 0 0 0 1 0 0 0 0 0 0-1 0 0 0 0 0 0 0 0 0-1z" fill="#6b0000"/>
</g>
<g font-family="'Liberation Sans', sans-serif" opacity="0.995"><path d="M15.80 210.50 L429.50 128.20 L729.10 311.30" stroke="#e8e8e8" stroke-width="1.00" fill="none"/>
<path d="M15.80 210.50 L15.34 207.03" stroke="#ffffff" stroke-width="1.30" fill="none"/>
<path d="M96.77 194.39 L96.44 191.02" stroke="#ffffff" stroke-width="1.30" fill="none"/>
<path d="M172.28 179.37 L172.08 176.09" stroke="#ffffff" stroke-width="1.30" fill="none"/>
<path d="M242.87 165.33 L242.78 162.14" stroke="#ffffff" stroke-width="1.30" fill="none"/>
<path d="M309.01 152.17 L309.01 149.06" stroke="#ffffff" stroke-width="1.30" fill="none"/>
<path d="M371.10 139.82 L371.18 136.79" stroke="#ffffff" stroke-width="1.30" fill="none"/>
<path d="M429.50 128.20 L429.65 125.25" stroke="#ffffff" stroke-width="1.30" fill="none"/>
<path d="M468.76 152.19 L468.97 149.14" stroke="#ffffff" stroke-width="1.30" fill="none"/>
<path d="M558.29 206.91 L558.65 203.65" stroke="#ffffff" stroke-width="1.30" fill="none"/>
<path d="M666.29 272.91 L666.87 269.43" stroke="#ffffff" stroke-width="1.30" fill="none"/>
<path d="M336.72 503.34 L331.29 497.19" stroke="#ffffff" stroke-width="1.30" fill="none"/>
<path d="M428.23 468.83 L422.48 463.17" stroke="#ffffff" stroke-width="1.30" fill="none"/>
<path d="M511.75 437.34 L505.74 432.11" stroke="#ffffff" stroke-width="1.30" fill="none"/>
<path d="M588.27 408.48 L582.07 403.64" stroke="#ffffff" stroke-width="1.30" fill="none"/>
<path d="M658.63 381.94 L652.30 377.44" stroke="#ffffff" stroke-width="1.30" fill="none"/>
<path d="M42.60 289.42 L52.84 287.00" stroke="#ffffff" stroke-width="1.30" fill="none"/>
<path d="M103.68 372.47 L114.79 369.37" stroke="#ffffff" stroke-width="1.30" fill="none"/>
<path d="M180.63 477.11 L192.74 473.02" stroke="#ffffff" stroke-width="1.30" fill="none"/>
<path d="M905.11 190.42 L1322.39 111.11 L1625.26 290.40" stroke="#e8e8e8" stroke-width="1.00" fill="none"/>
<path d="M1321.50 128.20 L1322.39 111.11" stroke="#e8e8e8" stroke-width="1.00" fill="none"/>
<path d="M905.58 193.94 L904.63 186.89" stroke="#ffffff" stroke-width="1.30" fill="none"/>
<path d="M987.21 178.30 L986.55 171.45" stroke="#ffffff" stroke-width="1.30" fill="none"/>
<path d="M1063.31 163.71 L1062.89 157.06" stroke="#ffffff" stroke-width="1.30" fill="none"/>
<path d="M1134.41 150.09 L1134.21 143.61" stroke="#ffffff" stroke-width="1.30" fill="none"/>
<path d="M1200.99 137.33 L1200.99 131.02" stroke="#ffffff" stroke-width="1.30" fill="none"/>
<path d="M1263.48 125.36 L1263.64 119.21" stroke="#ffffff" stroke-width="1.30" fill="none"/>
<path d="M1322.23 114.10 L1322.54 108.11" stroke="#ffffff" stroke-width="1.30" fill="none"/>
<path d="M1361.77 137.64 L1362.20 131.45" stroke="#ffffff" stroke-width="1.30" fill="none"/>
<path d="M1452.03 191.37 L1452.77 184.76" stroke="#ffffff" stroke-width="1.30" fill="none"/>
<path d="M1561.05 256.27 L1562.23 249.19" stroke="#ffffff" stroke-width="1.30" fill="none"/>
<path d="M1228.72 503.34 L1223.29 497.19" stroke="#ffffff" stroke-width="1.30" fill="none"/>
<path d="M1320.23 468.83 L1314.48 463.17" stroke="#ffffff" stroke-width="1.30" fill="none"/>
<path d="M1403.75 437.34 L1397.74 432.11" stroke="#ffffff" stroke-width="1.30" fill="none"/>
<path d="M1480.27 408.48 L1474.07 403.64" stroke="#ffffff" stroke-width="1.30" fill="none"/>
<path d="M1550.63 381.94 L1544.30 377.44" stroke="#ffffff" stroke-width="1.30" fill="none"/>
<path d="M934.60 289.42 L944.84 287.00" stroke="#ffffff" stroke-width="1.30" fill="none"/>
<path d="M995.68 372.47 L1006.79 369.37" stroke="#ffffff" stroke-width="1.30" fill="none"/>
<path d="M1072.63 477.11 L1084.74 473.02" stroke="#ffffff" stroke-width="1.30" fill="none"/>
<text x="15.0" y="196.7" font-size="16.0" text-anchor="middle" fill="#c9c9c0" stroke="#000" stroke-width="0.35">-300</text>
<text x="97.0" y="180.7" font-size="16.0" text-anchor="middle" fill="#c9c9c0" stroke="#000" stroke-width="0.35">-200</text>
<text x="172.2" y="166.8" font-size="16.0" text-anchor="middle" fill="#c9c9c0" stroke="#000" stroke-width="0.35">-100</text>
<text x="243.4" y="153.0" font-size="16.0" text-anchor="middle" fill="#c9c9c0" stroke="#000" stroke-width="0.35">0</text>
<text x="310.4" y="139.8" font-size="16.0" text-anchor="middle" fill="#c9c9c0" stroke="#000" stroke-width="0.35">100</text>
<text x="371.7" y="126.6" font-size="16.0" text-anchor="middle" fill="#c9c9c0" stroke="#000" stroke-width="0.35">200</text>
<text x="429.4" y="116.1" font-size="16.0" text-anchor="middle" fill="#c9c9c0" stroke="#000" stroke-width="0.35">300</text>
<text x="242.5" y="132.9" font-size="16.0" text-anchor="middle" fill="#c9c9c0" stroke="#000" stroke-width="0.35">X Axis</text>
<text x="469.4" y="140.0" font-size="16.0" text-anchor="middle" fill="#c9c9c0" stroke="#000" stroke-width="0.35">200</text>
<text x="561.0" y="173.8" font-size="16.0" text-anchor="middle" fill="#c9c9c0" stroke="#000" stroke-width="0.35">Y Axis</text>
<text x="559.2" y="193.8" font-size="16.0" text-anchor="middle" fill="#c9c9c0" stroke="#000" stroke-width="0.35">0</text>
<text x="667.0" y="259.8" font-size="16.0" text-anchor="middle" fill="#c9c9c0" stroke="#000" stroke-width="0.35">-200</text>
<text x="26.8" y="294.8" font-size="16.0" text-anchor="middle" fill="#c9c9c0" stroke="#000" stroke-width="0.35">200</text>
<text x="96.5" y="377.9" font-size="16.0" text-anchor="middle" fill="#c9c9c0" stroke="#000" stroke-width="0.35">0</text>
<text x="61.0" y="383.6" font-size="16.0" text-anchor="middle" fill="#c9c9c0" stroke="#000" stroke-width="0.35">Y Axis</text>
<text x="162.0" y="482.8" font-size="16.0" text-anchor="middle" fill="#c9c9c0" stroke="#000" stroke-width="0.35">-200</text>
<text x="256.2" y="556.5" font-size="16.0" text-anchor="middle" fill="#c9c9c0" stroke="#000" stroke-width="0.35">-300</text>
<text x="357.2" y="518.8" font-size="16.0" text-anchor="middle" fill="#c9c9c0" stroke="#000" stroke-width="0.35">-200</text>
<text x="447.8" y="483.8" font-size="16.0" text-anchor="middle" fill="#c9c9c0" stroke="#000" stroke-width="0.35">-100</text>
<text x="520.5" y="452.9" font-size="16.0" text-anchor="middle" fill="#c9c9c0" stroke="#000" stroke-width="0.35">0</text>
<text x="551.6" y="466.8" font-size="16.0" text-anchor="middle" fill="#c9c9c0" stroke="#000" stroke-width="0.35">X Axis</text>
<text x="605.9" y="424.1" font-size="16.0" text-anchor="middle" fill="#c9c9c0" stroke="#000" stroke-width="0.35">100</text>
<text x="675.6" y="398.8" font-size="16.0" text-anchor="middle" fill="#c9c9c0" stroke="#000" stroke-width="0.35">200</text>
<text x="739.4" y="372.5" font-size="16.0" text-anchor="middle" fill="#c9c9c0" stroke="#000" stroke-width="0.35">300</text>
<text x="906.0" y="177.8" font-size="16.0" text-anchor="middle" fill="#c9c9c0" stroke="#000" stroke-width="0.35">-300</text>
<text x="987.0" y="162.6" font-size="16.0" text-anchor="middle" fill="#c9c9c0" stroke="#000" stroke-width="0.35">-200</text>
<text x="1063.0" y="148.8" font-size="16.0" text-anchor="middle" fill="#c9c9c0" stroke="#000" stroke-width="0.35">-100</text>
<text x="1134.6" y="134.6" font-size="16.0" text-anchor="middle" fill="#c9c9c0" stroke="#000" stroke-width="0.35">0</text>
<text x="1202.4" y="122.7" font-size="16.0" text-anchor="middle" fill="#c9c9c0" stroke="#000" stroke-width="0.35">100</text>
<text x="1263.5" y="110.5" font-size="16.0" text-anchor="middle" fill="#c9c9c0" stroke="#000" stroke-width="0.35">200</text>
<text x="1322.0" y="99.6" font-size="16.0" text-anchor="middle" fill="#c9c9c0" stroke="#000" stroke-width="0.35">300</text>
<text x="1133.6" y="114.9" font-size="16.0" text-anchor="middle" fill="#c9c9c0" stroke="#000" stroke-width="0.35">X Axis</text>
<text x="1363.8" y="122.6" font-size="16.0" text-anchor="middle" fill="#c9c9c0" stroke="#000" stroke-width="0.35">200</text>
<text x="1456.2" y="156.5" font-size="16.0" text-anchor="middle" fill="#c9c9c0" stroke="#000" stroke-width="0.35">Y Axis</text>
<text x="1453.6" y="176.0" font-size="16.0" text-anchor="middle" fill="#c9c9c0" stroke="#000" stroke-width="0.35">0</text>
<text x="1562.0" y="240.7" font-size="16.0" text-anchor="middle" fill="#c9c9c0" stroke="#000" stroke-width="0.35">-200</text>
<text x="918.8" y="294.8" font-size="16.0" text-anchor="middle" fill="#c9c9c0" stroke="#000" stroke-width="0.35">200</text>
<text x="988.5" y="377.9" font-size="16.0" text-anchor="middle" fill="#c9c9c0" stroke="#000" stroke-width="0.35">0</text>
<text x="953.0" y="383.6" font-size="16.0" text-anchor="middle" fill="#c9c9c0" stroke="#000" stroke-width="0.35">Y Axis</text>
<text x="1054.0" y="482.8" font-size="16.0" text-anchor="middle" fill="#c9c9c0" stroke="#000" stroke-width="0.35">-200</text>
<text x="1148.2" y="556.5" font-size="16.0" text-anchor="middle" fill="#c9c9c0" stroke="#000" stroke-width="0.35">-300</text>
<text x="1249.2" y="518.8" font-size="16.0" text-anchor="middle" fill="#c9c9c0" stroke="#000" stroke-width="0.35">-200</text>
<text x="1339.8" y="483.8" font-size="16.0" text-anchor="middle" fill="#c9c9c0" stroke="#000" stroke-width="0.35">-100</text>
<text x="1412.5" y="452.9" font-size="16.0" text-anchor="middle" fill="#c9c9c0" stroke="#000" stroke-width="0.35">0</text>
<text x="1443.6" y="466.8" font-size="16.0" text-anchor="middle" fill="#c9c9c0" stroke="#000" stroke-width="0.35">X Axis</text>
<text x="1497.9" y="424.1" font-size="16.0" text-anchor="middle" fill="#c9c9c0" stroke="#000" stroke-width="0.35">100</text>
<text x="1567.6" y="398.8" font-size="16.0" text-anchor="middle" fill="#c9c9c0" stroke="#000" stroke-width="0.35">200</text>
<text x="1631.4" y="372.5" font-size="16.0" text-anchor="middle" fill="#c9c9c0" stroke="#000" stroke-width="0.35">300</text>
<rect x="713.0" y="52.2" width="21.0" height="201.4" fill="url(#jet)"/>
<rect x="729.0" y="50.80" width="16.0" height="1.4" fill="#ffffff"/>
<text x="752.0" y="57.1" font-size="22.0" text-anchor="start" fill="#ffffff" stroke="#000" stroke-width="0.35">2.3e-04</text>
<rect x="729.0" y="78.70" width="16.0" height="1.4" fill="#ffffff"/>
<text x="752.0" y="85.0" font-size="22.0" text-anchor="start" fill="#ffffff" stroke="#000" stroke-width="0.35">0.0002</text>
<rect x="729.0" y="122.20" width="16.0" height="1.4" fill="#ffffff"/>
<text x="752.0" y="128.5" font-size="22.0" text-anchor="start" fill="#ffffff" stroke="#000" stroke-width="0.35">0.00015</text>
<rect x="729.0" y="165.70" width="16.0" height="1.4" fill="#ffffff"/>
<text x="752.0" y="172.0" font-size="22.0" text-anchor="start" fill="#ffffff" stroke="#000" stroke-width="0.35">0.0001</text>
<rect x="729.0" y="209.20" width="16.0" height="1.4" fill="#ffffff"/>
<text x="752.0" y="215.5" font-size="22.0" text-anchor="start" fill="#ffffff" stroke="#000" stroke-width="0.35">5e-5</text>
<rect x="729.0" y="252.70" width="16.0" height="1.4" fill="#ffffff"/>
<text x="752.0" y="259.0" font-size="22.0" text-anchor="start" fill="#ffffff" stroke="#000" stroke-width="0.35">0.0e+00</text>
<text x="0" y="0" font-size="20.0" text-anchor="middle" fill="#ffffff" stroke="#000" stroke-width="0.35" transform="translate(846.6 152.3) rotate(-90)" dominant-baseline="central" textLength="151.0" lengthAdjust="spacingAndGlyphs">Psi<tspan font-size="16">Λ</tspan>2_7(nm<tspan font-size="16">Λ</tspan>-2)</text>
<rect x="713.0" y="377.3" width="21.0" height="201.5" fill="url(#jet)"/>
<rect x="729.0" y="376.60" width="16.0" height="1.4" fill="#ffffff"/>
<text x="752.0" y="382.9" font-size="22.0" text-anchor="start" fill="#ffffff" stroke="#000" stroke-width="0.35">3.6e-01</text>
<rect x="729.0" y="407.90" width="16.0" height="1.4" fill="#ffffff"/>
<text x="752.0" y="414.2" font-size="22.0" text-anchor="start" fill="#ffffff" stroke="#000" stroke-width="0.35">0.3</text>
<rect x="729.0" y="465.00" width="16.0" height="1.4" fill="#ffffff"/>
<text x="752.0" y="471.3" font-size="22.0" text-anchor="start" fill="#ffffff" stroke="#000" stroke-width="0.35">0.2</text>
<rect x="729.0" y="522.50" width="16.0" height="1.4" fill="#ffffff"/>
<text x="752.0" y="528.8" font-size="22.0" text-anchor="start" fill="#ffffff" stroke="#000" stroke-width="0.35">0.1</text>
<rect x="729.0" y="578.50" width="16.0" height="1.4" fill="#ffffff"/>
<text x="752.0" y="584.8" font-size="22.0" text-anchor="start" fill="#ffffff" stroke="#000" stroke-width="0.35">0.0e+00</text>
<text x="0" y="0" font-size="20.0" text-anchor="middle" fill="#ffffff" stroke="#000" stroke-width="0.35" transform="translate(846.6 478.0) rotate(-90)" dominant-baseline="central" textLength="129.0" lengthAdjust="spacingAndGlyphs">Gamma(eV)</text>
<rect x="1598.5" y="51.5" width="20.7" height="201.5" fill="url(#jet)"/>
<rect x="1614.2" y="48.90" width="16.0" height="1.4" fill="#ffffff"/>
<text x="1637.0" y="55.2" font-size="22.0" text-anchor="start" fill="#ffffff" stroke="#000" stroke-width="0.35">8.4e-04</text>
<rect x="1614.2" y="107.50" width="16.0" height="1.4" fill="#ffffff"/>
<text x="1637.0" y="113.8" font-size="22.0" text-anchor="start" fill="#ffffff" stroke="#000" stroke-width="0.35">0.0006</text>
<rect x="1614.2" y="155.30" width="16.0" height="1.4" fill="#ffffff"/>
<text x="1637.0" y="161.6" font-size="22.0" text-anchor="start" fill="#ffffff" stroke="#000" stroke-width="0.35">0.0004</text>
<rect x="1614.2" y="202.60" width="16.0" height="1.4" fill="#ffffff"/>
<text x="1637.0" y="208.9" font-size="22.0" text-anchor="start" fill="#ffffff" stroke="#000" stroke-width="0.35">0.0002</text>
<rect x="1614.2" y="251.50" width="16.0" height="1.4" fill="#ffffff"/>
<text x="1637.0" y="257.8" font-size="22.0" text-anchor="start" fill="#ffffff" stroke="#000" stroke-width="0.35">0.0e+00</text>
<text x="0" y="0" font-size="20.0" text-anchor="middle" fill="#ffffff" stroke="#000" stroke-width="0.35" transform="translate(1732.2 151.3) rotate(-90)" dominant-baseline="central" textLength="150.0" lengthAdjust="spacingAndGlyphs">Psi<tspan font-size="16">Λ</tspan>2_9(nm<tspan font-size="16">Λ</tspan>-2)</text>
<rect x="1605.0" y="377.3" width="21.0" height="201.5" fill="url(#jet)"/>
<rect x="1621.0" y="376.60" width="16.0" height="1.4" fill="#ffffff"/>
<text x="1644.0" y="382.9" font-size="22.0" text-anchor="start" fill="#ffffff" stroke="#000" stroke-width="0.35">3.6e-01</text>
<rect x="1621.0" y="407.90" width="16.0" height="1.4" fill="#ffffff"/>
<text x="1644.0" y="414.2" font-size="22.0" text-anchor="start" fill="#ffffff" stroke="#000" stroke-width="0.35">0.3</text>
<rect x="1621.0" y="465.00" width="16.0" height="1.4" fill="#ffffff"/>
<text x="1644.0" y="471.3" font-size="22.0" text-anchor="start" fill="#ffffff" stroke="#000" stroke-width="0.35">0.2</text>
<rect x="1621.0" y="522.50" width="16.0" height="1.4" fill="#ffffff"/>
<text x="1644.0" y="528.8" font-size="22.0" text-anchor="start" fill="#ffffff" stroke="#000" stroke-width="0.35">0.1</text>
<rect x="1621.0" y="578.50" width="16.0" height="1.4" fill="#ffffff"/>
<text x="1644.0" y="584.8" font-size="22.0" text-anchor="start" fill="#ffffff" stroke="#000" stroke-width="0.35">0.0e+00</text>
<text x="0" y="0" font-size="20.0" text-anchor="middle" fill="#ffffff" stroke="#000" stroke-width="0.35" transform="translate(1739.0 478.0) rotate(-90)" dominant-baseline="central" textLength="129.0" lengthAdjust="spacingAndGlyphs">Gamma(eV)</text></g>
</svg>
</body></html>
